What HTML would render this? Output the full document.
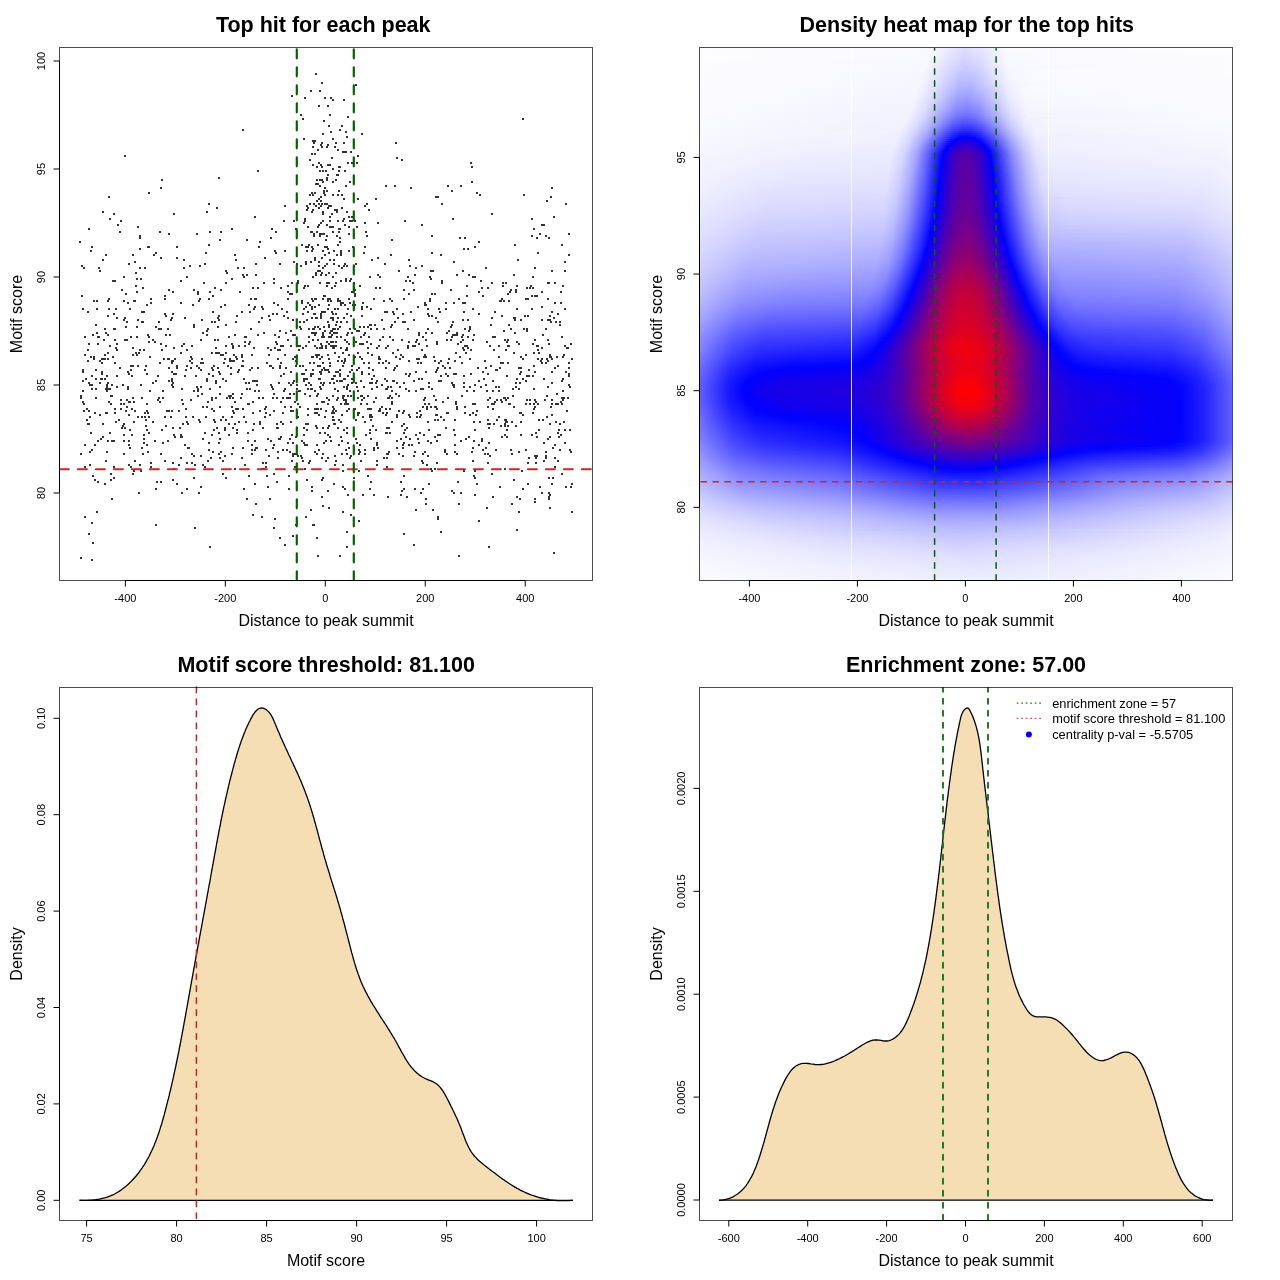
<!DOCTYPE html>
<html><head><meta charset="utf-8"><title>Motif centrality plots</title>
<style>html,body{margin:0;padding:0;background:#fff;width:1280px;height:1280px;overflow:hidden}
svg{display:block}
text{font-family:"Liberation Sans", Arial, Helvetica, sans-serif;fill:#000}
</style></head><body>
<svg width="1280" height="1280" viewBox="0 0 1280 1280">
<rect width="1280" height="1280" fill="#fff"/>
<defs><linearGradient id="g0" x1="700" x2="1232" gradientUnits="userSpaceOnUse"><stop offset="0.0009" stop-color="#fdfdff"/><stop offset="0.4370" stop-color="#f8f8ff"/><stop offset="0.4972" stop-color="#ddddff"/><stop offset="0.5310" stop-color="#e7e7ff"/><stop offset="0.5780" stop-color="#fbfbff"/><stop offset="0.9991" stop-color="#fdfdff"/></linearGradient><linearGradient id="g1" x1="700" x2="1232" gradientUnits="userSpaceOnUse"><stop offset="0.0009" stop-color="#fdfdff"/><stop offset="0.4352" stop-color="#f8f8ff"/><stop offset="0.4972" stop-color="#dbdbff"/><stop offset="0.5310" stop-color="#e6e6ff"/><stop offset="0.5780" stop-color="#fafaff"/><stop offset="0.9991" stop-color="#fdfdff"/></linearGradient><linearGradient id="g2" x1="700" x2="1232" gradientUnits="userSpaceOnUse"><stop offset="0.0009" stop-color="#fdfdff"/><stop offset="0.4333" stop-color="#f8f8ff"/><stop offset="0.4972" stop-color="#dadaff"/><stop offset="0.5310" stop-color="#e4e4ff"/><stop offset="0.5780" stop-color="#fafaff"/><stop offset="0.9991" stop-color="#fcfcff"/></linearGradient><linearGradient id="g3" x1="700" x2="1232" gradientUnits="userSpaceOnUse"><stop offset="0.0009" stop-color="#fdfdff"/><stop offset="0.4333" stop-color="#f8f8ff"/><stop offset="0.4953" stop-color="#d8d8ff"/><stop offset="0.5273" stop-color="#e1e1ff"/><stop offset="0.5761" stop-color="#f9f9ff"/><stop offset="0.9991" stop-color="#fcfcff"/></linearGradient><linearGradient id="g4" x1="700" x2="1232" gradientUnits="userSpaceOnUse"><stop offset="0.0009" stop-color="#fdfdff"/><stop offset="0.4314" stop-color="#f8f8ff"/><stop offset="0.4953" stop-color="#d6d6ff"/><stop offset="0.5254" stop-color="#dedeff"/><stop offset="0.5761" stop-color="#f9f9ff"/><stop offset="0.9991" stop-color="#fcfcff"/></linearGradient><linearGradient id="g5" x1="700" x2="1232" gradientUnits="userSpaceOnUse"><stop offset="0.0009" stop-color="#fdfdff"/><stop offset="0.4295" stop-color="#f8f8ff"/><stop offset="0.4953" stop-color="#d4d4ff"/><stop offset="0.5254" stop-color="#dcdcff"/><stop offset="0.5761" stop-color="#f9f9ff"/><stop offset="0.9991" stop-color="#fcfcff"/></linearGradient><linearGradient id="g6" x1="700" x2="1232" gradientUnits="userSpaceOnUse"><stop offset="0.0009" stop-color="#fcfcff"/><stop offset="0.4276" stop-color="#f8f8ff"/><stop offset="0.4953" stop-color="#d3d3ff"/><stop offset="0.5254" stop-color="#dbdbff"/><stop offset="0.5761" stop-color="#f8f8ff"/><stop offset="0.9991" stop-color="#fcfcff"/></linearGradient><linearGradient id="g7" x1="700" x2="1232" gradientUnits="userSpaceOnUse"><stop offset="0.0009" stop-color="#fcfcff"/><stop offset="0.4276" stop-color="#f7f7ff"/><stop offset="0.4953" stop-color="#d0d0ff"/><stop offset="0.5235" stop-color="#d8d8ff"/><stop offset="0.5761" stop-color="#f8f8ff"/><stop offset="0.9991" stop-color="#fcfcff"/></linearGradient><linearGradient id="g8" x1="700" x2="1232" gradientUnits="userSpaceOnUse"><stop offset="0.0009" stop-color="#fcfcff"/><stop offset="0.4258" stop-color="#f7f7ff"/><stop offset="0.4934" stop-color="#cfcfff"/><stop offset="0.5216" stop-color="#d5d5ff"/><stop offset="0.5780" stop-color="#f8f8ff"/><stop offset="0.9991" stop-color="#fcfcff"/></linearGradient><linearGradient id="g9" x1="700" x2="1232" gradientUnits="userSpaceOnUse"><stop offset="0.0009" stop-color="#fcfcff"/><stop offset="0.4239" stop-color="#f7f7ff"/><stop offset="0.4709" stop-color="#d9d9ff"/><stop offset="0.4991" stop-color="#ccccff"/><stop offset="0.5291" stop-color="#d8d8ff"/><stop offset="0.5780" stop-color="#f7f7ff"/><stop offset="0.9991" stop-color="#fcfcff"/></linearGradient><linearGradient id="g10" x1="700" x2="1232" gradientUnits="userSpaceOnUse"><stop offset="0.0009" stop-color="#fcfcff"/><stop offset="0.4239" stop-color="#f7f7ff"/><stop offset="0.4709" stop-color="#d7d7ff"/><stop offset="0.4991" stop-color="#cacaff"/><stop offset="0.5291" stop-color="#d6d6ff"/><stop offset="0.5780" stop-color="#f6f6ff"/><stop offset="0.7735" stop-color="#fafaff"/><stop offset="0.9991" stop-color="#fcfcff"/></linearGradient><linearGradient id="g11" x1="700" x2="1232" gradientUnits="userSpaceOnUse"><stop offset="0.0009" stop-color="#fcfcff"/><stop offset="0.4220" stop-color="#f7f7ff"/><stop offset="0.4633" stop-color="#dbdbff"/><stop offset="0.4953" stop-color="#c8c8ff"/><stop offset="0.5216" stop-color="#ceceff"/><stop offset="0.5780" stop-color="#f6f6ff"/><stop offset="0.6739" stop-color="#fafaff"/><stop offset="0.9991" stop-color="#fcfcff"/></linearGradient><linearGradient id="g12" x1="700" x2="1232" gradientUnits="userSpaceOnUse"><stop offset="0.0009" stop-color="#fcfcff"/><stop offset="0.4201" stop-color="#f7f7ff"/><stop offset="0.4596" stop-color="#dcdcff"/><stop offset="0.4934" stop-color="#c5c5ff"/><stop offset="0.5197" stop-color="#cbcbff"/><stop offset="0.5780" stop-color="#f5f5ff"/><stop offset="0.6438" stop-color="#fafaff"/><stop offset="0.9991" stop-color="#fcfcff"/></linearGradient><linearGradient id="g13" x1="700" x2="1232" gradientUnits="userSpaceOnUse"><stop offset="0.0009" stop-color="#fcfcff"/><stop offset="0.4201" stop-color="#f6f6ff"/><stop offset="0.4596" stop-color="#dadaff"/><stop offset="0.4934" stop-color="#c3c3ff"/><stop offset="0.5197" stop-color="#c9c9ff"/><stop offset="0.5780" stop-color="#f4f4ff"/><stop offset="0.6306" stop-color="#f9f9ff"/><stop offset="0.9991" stop-color="#fcfcff"/></linearGradient><linearGradient id="g14" x1="700" x2="1232" gradientUnits="userSpaceOnUse"><stop offset="0.0009" stop-color="#fcfcff"/><stop offset="0.4182" stop-color="#f6f6ff"/><stop offset="0.4558" stop-color="#dcdcff"/><stop offset="0.4915" stop-color="#c1c1ff"/><stop offset="0.5160" stop-color="#c4c4ff"/><stop offset="0.5799" stop-color="#f4f4ff"/><stop offset="0.6363" stop-color="#f9f9ff"/><stop offset="0.9991" stop-color="#fcfcff"/></linearGradient><linearGradient id="g15" x1="700" x2="1232" gradientUnits="userSpaceOnUse"><stop offset="0.0009" stop-color="#fcfcff"/><stop offset="0.4164" stop-color="#f6f6ff"/><stop offset="0.4539" stop-color="#dcdcff"/><stop offset="0.4897" stop-color="#bfbfff"/><stop offset="0.5141" stop-color="#c0c0ff"/><stop offset="0.5799" stop-color="#f4f4ff"/><stop offset="0.6269" stop-color="#f9f9ff"/><stop offset="0.9991" stop-color="#fbfbff"/></linearGradient><linearGradient id="g16" x1="700" x2="1232" gradientUnits="userSpaceOnUse"><stop offset="0.0009" stop-color="#fcfcff"/><stop offset="0.4145" stop-color="#f6f6ff"/><stop offset="0.4502" stop-color="#dedeff"/><stop offset="0.4878" stop-color="#bdbdff"/><stop offset="0.5122" stop-color="#bdbdff"/><stop offset="0.5818" stop-color="#f4f4ff"/><stop offset="0.6306" stop-color="#f9f9ff"/><stop offset="0.9991" stop-color="#fbfbff"/></linearGradient><linearGradient id="g17" x1="700" x2="1232" gradientUnits="userSpaceOnUse"><stop offset="0.0009" stop-color="#fcfcff"/><stop offset="0.4145" stop-color="#f6f6ff"/><stop offset="0.4502" stop-color="#dcdcff"/><stop offset="0.4878" stop-color="#babaff"/><stop offset="0.5122" stop-color="#babaff"/><stop offset="0.5592" stop-color="#e3e3ff"/><stop offset="0.5930" stop-color="#f7f7ff"/><stop offset="0.9991" stop-color="#fbfbff"/></linearGradient><linearGradient id="g18" x1="700" x2="1232" gradientUnits="userSpaceOnUse"><stop offset="0.0009" stop-color="#fcfcff"/><stop offset="0.4126" stop-color="#f6f6ff"/><stop offset="0.4464" stop-color="#dedeff"/><stop offset="0.4878" stop-color="#b7b7ff"/><stop offset="0.5122" stop-color="#b7b7ff"/><stop offset="0.5517" stop-color="#dadaff"/><stop offset="0.5874" stop-color="#f4f4ff"/><stop offset="0.6682" stop-color="#f9f9ff"/><stop offset="0.9991" stop-color="#fbfbff"/></linearGradient><linearGradient id="g19" x1="700" x2="1232" gradientUnits="userSpaceOnUse"><stop offset="0.0009" stop-color="#fbfbff"/><stop offset="0.4107" stop-color="#f6f6ff"/><stop offset="0.4445" stop-color="#dedeff"/><stop offset="0.4859" stop-color="#b5b5ff"/><stop offset="0.5085" stop-color="#b2b2ff"/><stop offset="0.5385" stop-color="#c9c9ff"/><stop offset="0.5818" stop-color="#f1f1ff"/><stop offset="0.6175" stop-color="#f8f8ff"/><stop offset="0.9991" stop-color="#fbfbff"/></linearGradient><linearGradient id="g20" x1="700" x2="1232" gradientUnits="userSpaceOnUse"><stop offset="0.0009" stop-color="#fbfbff"/><stop offset="0.4088" stop-color="#f6f6ff"/><stop offset="0.4427" stop-color="#dedeff"/><stop offset="0.4859" stop-color="#b2b2ff"/><stop offset="0.5085" stop-color="#afafff"/><stop offset="0.5385" stop-color="#c7c7ff"/><stop offset="0.5818" stop-color="#f0f0ff"/><stop offset="0.6156" stop-color="#f8f8ff"/><stop offset="0.9991" stop-color="#fbfbff"/></linearGradient><linearGradient id="g21" x1="700" x2="1232" gradientUnits="userSpaceOnUse"><stop offset="0.0009" stop-color="#fbfbff"/><stop offset="0.4088" stop-color="#f5f5ff"/><stop offset="0.4427" stop-color="#dcdcff"/><stop offset="0.4859" stop-color="#aeaeff"/><stop offset="0.5085" stop-color="#ababff"/><stop offset="0.5367" stop-color="#c2c2ff"/><stop offset="0.5799" stop-color="#ededff"/><stop offset="0.6118" stop-color="#f8f8ff"/><stop offset="0.9991" stop-color="#fbfbff"/></linearGradient><linearGradient id="g22" x1="700" x2="1232" gradientUnits="userSpaceOnUse"><stop offset="0.0009" stop-color="#fbfbff"/><stop offset="0.4070" stop-color="#f5f5ff"/><stop offset="0.4389" stop-color="#dedeff"/><stop offset="0.4840" stop-color="#acacff"/><stop offset="0.5066" stop-color="#a7a7ff"/><stop offset="0.5329" stop-color="#bbbbff"/><stop offset="0.5799" stop-color="#ececff"/><stop offset="0.6118" stop-color="#f8f8ff"/><stop offset="0.9991" stop-color="#fbfbff"/></linearGradient><linearGradient id="g23" x1="700" x2="1232" gradientUnits="userSpaceOnUse"><stop offset="0.0009" stop-color="#fbfbff"/><stop offset="0.4051" stop-color="#f5f5ff"/><stop offset="0.4370" stop-color="#dedeff"/><stop offset="0.4840" stop-color="#a9a9ff"/><stop offset="0.5066" stop-color="#a4a4ff"/><stop offset="0.5329" stop-color="#b8b8ff"/><stop offset="0.5799" stop-color="#ebebff"/><stop offset="0.6100" stop-color="#f7f7ff"/><stop offset="0.9991" stop-color="#fbfbff"/></linearGradient><linearGradient id="g24" x1="700" x2="1232" gradientUnits="userSpaceOnUse"><stop offset="0.0009" stop-color="#fbfbff"/><stop offset="0.4051" stop-color="#f4f4ff"/><stop offset="0.4370" stop-color="#dcdcff"/><stop offset="0.4840" stop-color="#a5a5ff"/><stop offset="0.5066" stop-color="#a0a0ff"/><stop offset="0.5329" stop-color="#b4b4ff"/><stop offset="0.5799" stop-color="#e9e9ff"/><stop offset="0.6100" stop-color="#f7f7ff"/><stop offset="0.9991" stop-color="#fafaff"/></linearGradient><linearGradient id="g25" x1="700" x2="1232" gradientUnits="userSpaceOnUse"><stop offset="0.0009" stop-color="#fbfbff"/><stop offset="0.4032" stop-color="#f4f4ff"/><stop offset="0.4352" stop-color="#dcdcff"/><stop offset="0.4840" stop-color="#a1a1ff"/><stop offset="0.5066" stop-color="#9c9cff"/><stop offset="0.5329" stop-color="#b1b1ff"/><stop offset="0.5799" stop-color="#e8e8ff"/><stop offset="0.6100" stop-color="#f7f7ff"/><stop offset="0.9991" stop-color="#fafaff"/></linearGradient><linearGradient id="g26" x1="700" x2="1232" gradientUnits="userSpaceOnUse"><stop offset="0.0009" stop-color="#fbfbff"/><stop offset="0.4013" stop-color="#f4f4ff"/><stop offset="0.4314" stop-color="#dedeff"/><stop offset="0.4821" stop-color="#9e9eff"/><stop offset="0.5028" stop-color="#9797ff"/><stop offset="0.5273" stop-color="#a7a7ff"/><stop offset="0.5818" stop-color="#e8e8ff"/><stop offset="0.6118" stop-color="#f6f6ff"/><stop offset="0.9991" stop-color="#fafaff"/></linearGradient><linearGradient id="g27" x1="700" x2="1232" gradientUnits="userSpaceOnUse"><stop offset="0.0009" stop-color="#fbfbff"/><stop offset="0.3994" stop-color="#f4f4ff"/><stop offset="0.4295" stop-color="#dedeff"/><stop offset="0.4821" stop-color="#9a9aff"/><stop offset="0.5028" stop-color="#9292ff"/><stop offset="0.5254" stop-color="#a1a1ff"/><stop offset="0.5818" stop-color="#e6e6ff"/><stop offset="0.6118" stop-color="#f6f6ff"/><stop offset="0.9991" stop-color="#fafaff"/></linearGradient><linearGradient id="g28" x1="700" x2="1232" gradientUnits="userSpaceOnUse"><stop offset="0.0009" stop-color="#fafaff"/><stop offset="0.3994" stop-color="#f3f3ff"/><stop offset="0.4295" stop-color="#dbdbff"/><stop offset="0.4821" stop-color="#9696ff"/><stop offset="0.5028" stop-color="#8e8eff"/><stop offset="0.5254" stop-color="#9c9cff"/><stop offset="0.5818" stop-color="#e4e4ff"/><stop offset="0.6118" stop-color="#f6f6ff"/><stop offset="0.9991" stop-color="#fafaff"/></linearGradient><linearGradient id="g29" x1="700" x2="1232" gradientUnits="userSpaceOnUse"><stop offset="0.0009" stop-color="#fafaff"/><stop offset="0.3976" stop-color="#f3f3ff"/><stop offset="0.4276" stop-color="#dbdbff"/><stop offset="0.4821" stop-color="#9191ff"/><stop offset="0.5028" stop-color="#8989ff"/><stop offset="0.5254" stop-color="#9898ff"/><stop offset="0.5818" stop-color="#e3e3ff"/><stop offset="0.6118" stop-color="#f5f5ff"/><stop offset="0.9991" stop-color="#fafaff"/></linearGradient><linearGradient id="g30" x1="700" x2="1232" gradientUnits="userSpaceOnUse"><stop offset="0.0009" stop-color="#fafaff"/><stop offset="0.3957" stop-color="#f3f3ff"/><stop offset="0.4258" stop-color="#dbdbff"/><stop offset="0.4821" stop-color="#8d8dff"/><stop offset="0.5028" stop-color="#8484ff"/><stop offset="0.5254" stop-color="#9393ff"/><stop offset="0.5836" stop-color="#e2e2ff"/><stop offset="0.6137" stop-color="#f5f5ff"/><stop offset="0.9991" stop-color="#fafaff"/></linearGradient><linearGradient id="g31" x1="700" x2="1232" gradientUnits="userSpaceOnUse"><stop offset="0.0009" stop-color="#fafaff"/><stop offset="0.3938" stop-color="#f3f3ff"/><stop offset="0.4220" stop-color="#dedeff"/><stop offset="0.4821" stop-color="#8888ff"/><stop offset="0.5028" stop-color="#7f7fff"/><stop offset="0.5254" stop-color="#8e8eff"/><stop offset="0.5836" stop-color="#e1e1ff"/><stop offset="0.6137" stop-color="#f4f4ff"/><stop offset="0.9991" stop-color="#fafaff"/></linearGradient><linearGradient id="g32" x1="700" x2="1232" gradientUnits="userSpaceOnUse"><stop offset="0.0009" stop-color="#fafaff"/><stop offset="0.3938" stop-color="#f2f2ff"/><stop offset="0.4220" stop-color="#dbdbff"/><stop offset="0.4803" stop-color="#8484ff"/><stop offset="0.5009" stop-color="#7979ff"/><stop offset="0.5216" stop-color="#8585ff"/><stop offset="0.5836" stop-color="#dedeff"/><stop offset="0.6118" stop-color="#f3f3ff"/><stop offset="0.9991" stop-color="#f9f9ff"/></linearGradient><linearGradient id="g33" x1="700" x2="1232" gradientUnits="userSpaceOnUse"><stop offset="0.0009" stop-color="#fafaff"/><stop offset="0.3919" stop-color="#f2f2ff"/><stop offset="0.4201" stop-color="#dbdbff"/><stop offset="0.4803" stop-color="#7e7eff"/><stop offset="0.5009" stop-color="#7373ff"/><stop offset="0.5216" stop-color="#7f7fff"/><stop offset="0.5855" stop-color="#dedeff"/><stop offset="0.6137" stop-color="#f3f3ff"/><stop offset="0.9991" stop-color="#f9f9ff"/></linearGradient><linearGradient id="g34" x1="700" x2="1232" gradientUnits="userSpaceOnUse"><stop offset="0.0009" stop-color="#fafaff"/><stop offset="0.3900" stop-color="#f2f2ff"/><stop offset="0.4182" stop-color="#dbdbff"/><stop offset="0.4558" stop-color="#9e9eff"/><stop offset="0.4821" stop-color="#7676ff"/><stop offset="0.5009" stop-color="#6c6cff"/><stop offset="0.5216" stop-color="#7979ff"/><stop offset="0.5592" stop-color="#b5b5ff"/><stop offset="0.5912" stop-color="#e2e2ff"/><stop offset="0.6194" stop-color="#f4f4ff"/><stop offset="0.9991" stop-color="#f9f9ff"/></linearGradient><linearGradient id="g35" x1="700" x2="1232" gradientUnits="userSpaceOnUse"><stop offset="0.0009" stop-color="#f9f9ff"/><stop offset="0.3882" stop-color="#f2f2ff"/><stop offset="0.4164" stop-color="#dadaff"/><stop offset="0.4502" stop-color="#a2a2ff"/><stop offset="0.4803" stop-color="#7171ff"/><stop offset="0.4991" stop-color="#6565ff"/><stop offset="0.5197" stop-color="#7070ff"/><stop offset="0.5498" stop-color="#9f9fff"/><stop offset="0.5855" stop-color="#d9d9ff"/><stop offset="0.6137" stop-color="#f1f1ff"/><stop offset="0.7152" stop-color="#f5f5ff"/><stop offset="0.9991" stop-color="#f9f9ff"/></linearGradient><linearGradient id="g36" x1="700" x2="1232" gradientUnits="userSpaceOnUse"><stop offset="0.0009" stop-color="#f9f9ff"/><stop offset="0.3863" stop-color="#f2f2ff"/><stop offset="0.4126" stop-color="#dcdcff"/><stop offset="0.4427" stop-color="#ababff"/><stop offset="0.4765" stop-color="#6e6eff"/><stop offset="0.4953" stop-color="#5d5dff"/><stop offset="0.5141" stop-color="#6262ff"/><stop offset="0.5385" stop-color="#8484ff"/><stop offset="0.5818" stop-color="#d1d1ff"/><stop offset="0.6100" stop-color="#eeeeff"/><stop offset="0.6457" stop-color="#f5f5ff"/><stop offset="0.9991" stop-color="#f9f9ff"/></linearGradient><linearGradient id="g37" x1="700" x2="1232" gradientUnits="userSpaceOnUse"><stop offset="0.0009" stop-color="#f9f9ff"/><stop offset="0.3844" stop-color="#f2f2ff"/><stop offset="0.4107" stop-color="#dcdcff"/><stop offset="0.4408" stop-color="#aaaaff"/><stop offset="0.4765" stop-color="#6565ff"/><stop offset="0.4953" stop-color="#5454ff"/><stop offset="0.5141" stop-color="#5a5aff"/><stop offset="0.5367" stop-color="#7979ff"/><stop offset="0.5836" stop-color="#d0d0ff"/><stop offset="0.6118" stop-color="#ededff"/><stop offset="0.6476" stop-color="#f4f4ff"/><stop offset="0.9991" stop-color="#f9f9ff"/></linearGradient><linearGradient id="g38" x1="700" x2="1232" gradientUnits="userSpaceOnUse"><stop offset="0.0009" stop-color="#f9f9ff"/><stop offset="0.3825" stop-color="#f1f1ff"/><stop offset="0.4088" stop-color="#dbdbff"/><stop offset="0.4370" stop-color="#acacff"/><stop offset="0.4746" stop-color="#6060ff"/><stop offset="0.4934" stop-color="#4c4cff"/><stop offset="0.5122" stop-color="#4f4fff"/><stop offset="0.5329" stop-color="#6a6aff"/><stop offset="0.5836" stop-color="#ccccff"/><stop offset="0.6118" stop-color="#ececff"/><stop offset="0.6438" stop-color="#f4f4ff"/><stop offset="0.9991" stop-color="#f8f8ff"/></linearGradient><linearGradient id="g39" x1="700" x2="1232" gradientUnits="userSpaceOnUse"><stop offset="0.0009" stop-color="#f9f9ff"/><stop offset="0.3806" stop-color="#f1f1ff"/><stop offset="0.4070" stop-color="#dbdbff"/><stop offset="0.4333" stop-color="#aeaeff"/><stop offset="0.4746" stop-color="#5656ff"/><stop offset="0.4934" stop-color="#4242ff"/><stop offset="0.5103" stop-color="#4343ff"/><stop offset="0.5310" stop-color="#5e5eff"/><stop offset="0.5836" stop-color="#c8c8ff"/><stop offset="0.6100" stop-color="#e9e9ff"/><stop offset="0.6382" stop-color="#f3f3ff"/><stop offset="0.9991" stop-color="#f8f8ff"/></linearGradient><linearGradient id="g40" x1="700" x2="1232" gradientUnits="userSpaceOnUse"><stop offset="0.0009" stop-color="#f8f8ff"/><stop offset="0.3788" stop-color="#f1f1ff"/><stop offset="0.4051" stop-color="#dadaff"/><stop offset="0.4314" stop-color="#acacff"/><stop offset="0.4746" stop-color="#4c4cff"/><stop offset="0.4934" stop-color="#3737ff"/><stop offset="0.5103" stop-color="#3939ff"/><stop offset="0.5310" stop-color="#5454ff"/><stop offset="0.5836" stop-color="#c4c4ff"/><stop offset="0.6100" stop-color="#e7e7ff"/><stop offset="0.6363" stop-color="#f3f3ff"/><stop offset="0.9991" stop-color="#f8f8ff"/></linearGradient><linearGradient id="g41" x1="700" x2="1232" gradientUnits="userSpaceOnUse"><stop offset="0.0009" stop-color="#f8f8ff"/><stop offset="0.3769" stop-color="#f0f0ff"/><stop offset="0.4013" stop-color="#dcdcff"/><stop offset="0.4276" stop-color="#afafff"/><stop offset="0.4746" stop-color="#4242ff"/><stop offset="0.4934" stop-color="#2c2cff"/><stop offset="0.5103" stop-color="#2e2eff"/><stop offset="0.5291" stop-color="#4747ff"/><stop offset="0.5855" stop-color="#c3c3ff"/><stop offset="0.6118" stop-color="#e6e6ff"/><stop offset="0.6382" stop-color="#f3f3ff"/><stop offset="0.9991" stop-color="#f8f8ff"/></linearGradient><linearGradient id="g42" x1="700" x2="1232" gradientUnits="userSpaceOnUse"><stop offset="0.0009" stop-color="#f8f8ff"/><stop offset="0.3430" stop-color="#f3f3ff"/><stop offset="0.3806" stop-color="#ededff"/><stop offset="0.4051" stop-color="#d4d4ff"/><stop offset="0.4314" stop-color="#a0a0ff"/><stop offset="0.4727" stop-color="#3b3bff"/><stop offset="0.4915" stop-color="#2121ff"/><stop offset="0.5085" stop-color="#2121ff"/><stop offset="0.5273" stop-color="#3939ff"/><stop offset="0.5630" stop-color="#8c8cff"/><stop offset="0.5912" stop-color="#c8c8ff"/><stop offset="0.6175" stop-color="#e9e9ff"/><stop offset="0.6457" stop-color="#f3f3ff"/><stop offset="0.9991" stop-color="#f8f8ff"/></linearGradient><linearGradient id="g43" x1="700" x2="1232" gradientUnits="userSpaceOnUse"><stop offset="0.0009" stop-color="#f8f8ff"/><stop offset="0.3242" stop-color="#f3f3ff"/><stop offset="0.3769" stop-color="#eeeeff"/><stop offset="0.4013" stop-color="#d6d6ff"/><stop offset="0.4258" stop-color="#a7a7ff"/><stop offset="0.4727" stop-color="#3030ff"/><stop offset="0.4897" stop-color="#1717ff"/><stop offset="0.5066" stop-color="#1414ff"/><stop offset="0.5235" stop-color="#2727ff"/><stop offset="0.5479" stop-color="#5e5eff"/><stop offset="0.5836" stop-color="#b6b6ff"/><stop offset="0.6081" stop-color="#ddddff"/><stop offset="0.6325" stop-color="#f0f0ff"/><stop offset="0.9991" stop-color="#f7f7ff"/></linearGradient><linearGradient id="g44" x1="700" x2="1232" gradientUnits="userSpaceOnUse"><stop offset="0.0009" stop-color="#f8f8ff"/><stop offset="0.3092" stop-color="#f2f2ff"/><stop offset="0.3750" stop-color="#eeeeff"/><stop offset="0.3994" stop-color="#d5d5ff"/><stop offset="0.4239" stop-color="#a6a6ff"/><stop offset="0.4727" stop-color="#2525ff"/><stop offset="0.4897" stop-color="#0b0bff"/><stop offset="0.5047" stop-color="#0707ff"/><stop offset="0.5216" stop-color="#1818ff"/><stop offset="0.5442" stop-color="#4a4aff"/><stop offset="0.5836" stop-color="#b0b0ff"/><stop offset="0.6081" stop-color="#dadaff"/><stop offset="0.6325" stop-color="#efefff"/><stop offset="0.9991" stop-color="#f7f7ff"/></linearGradient><linearGradient id="g45" x1="700" x2="1232" gradientUnits="userSpaceOnUse"><stop offset="0.0009" stop-color="#f7f7ff"/><stop offset="0.2942" stop-color="#f2f2ff"/><stop offset="0.3712" stop-color="#eeeeff"/><stop offset="0.3957" stop-color="#d7d7ff"/><stop offset="0.4201" stop-color="#a9a9ff"/><stop offset="0.4727" stop-color="#1a1aff"/><stop offset="0.4878" stop-color="#0101ff"/><stop offset="0.5047" stop-color="#0500fa"/><stop offset="0.5141" stop-color="#0202ff"/><stop offset="0.5329" stop-color="#2323ff"/><stop offset="0.5855" stop-color="#afafff"/><stop offset="0.6100" stop-color="#dadaff"/><stop offset="0.6344" stop-color="#efefff"/><stop offset="0.9991" stop-color="#f7f7ff"/></linearGradient><linearGradient id="g46" x1="700" x2="1232" gradientUnits="userSpaceOnUse"><stop offset="0.0009" stop-color="#f7f7ff"/><stop offset="0.2810" stop-color="#f1f1ff"/><stop offset="0.3694" stop-color="#eeeeff"/><stop offset="0.3938" stop-color="#d7d7ff"/><stop offset="0.4164" stop-color="#acacff"/><stop offset="0.4464" stop-color="#5858ff"/><stop offset="0.4727" stop-color="#0e0eff"/><stop offset="0.4803" stop-color="#0100fe"/><stop offset="0.4953" stop-color="#1100ee"/><stop offset="0.5103" stop-color="#0e00f1"/><stop offset="0.5216" stop-color="#0101ff"/><stop offset="0.5423" stop-color="#3131ff"/><stop offset="0.5836" stop-color="#a5a5ff"/><stop offset="0.6081" stop-color="#d4d4ff"/><stop offset="0.6325" stop-color="#ededff"/><stop offset="0.6945" stop-color="#f1f1ff"/><stop offset="0.9953" stop-color="#f7f7ff"/><stop offset="0.9991" stop-color="#f7f7ff"/></linearGradient><linearGradient id="g47" x1="700" x2="1232" gradientUnits="userSpaceOnUse"><stop offset="0.0009" stop-color="#f7f7ff"/><stop offset="0.2697" stop-color="#f1f1ff"/><stop offset="0.3675" stop-color="#eeeeff"/><stop offset="0.3900" stop-color="#dadaff"/><stop offset="0.4126" stop-color="#b0b0ff"/><stop offset="0.4389" stop-color="#6767ff"/><stop offset="0.4709" stop-color="#0808ff"/><stop offset="0.4746" stop-color="#0100fe"/><stop offset="0.4915" stop-color="#1b00e4"/><stop offset="0.5066" stop-color="#1d00e2"/><stop offset="0.5235" stop-color="#0700f8"/><stop offset="0.5273" stop-color="#0101ff"/><stop offset="0.5517" stop-color="#4343ff"/><stop offset="0.5855" stop-color="#a4a4ff"/><stop offset="0.6100" stop-color="#d4d4ff"/><stop offset="0.6344" stop-color="#ececff"/><stop offset="0.7002" stop-color="#f1f1ff"/><stop offset="0.9934" stop-color="#f6f6ff"/><stop offset="0.9991" stop-color="#f7f7ff"/></linearGradient><linearGradient id="g48" x1="700" x2="1232" gradientUnits="userSpaceOnUse"><stop offset="0.0009" stop-color="#f7f7ff"/><stop offset="0.2603" stop-color="#f1f1ff"/><stop offset="0.3656" stop-color="#eeeeff"/><stop offset="0.3882" stop-color="#d9d9ff"/><stop offset="0.4107" stop-color="#b0b0ff"/><stop offset="0.4370" stop-color="#6565ff"/><stop offset="0.4690" stop-color="#0202ff"/><stop offset="0.4878" stop-color="#2300dc"/><stop offset="0.5028" stop-color="#2a00d5"/><stop offset="0.5179" stop-color="#1c00e3"/><stop offset="0.5310" stop-color="#0100fe"/><stop offset="0.5461" stop-color="#2929ff"/><stop offset="0.5836" stop-color="#9a9aff"/><stop offset="0.6062" stop-color="#cbcbff"/><stop offset="0.6306" stop-color="#e9e9ff"/><stop offset="0.6607" stop-color="#f0f0ff"/><stop offset="0.9859" stop-color="#f5f5ff"/><stop offset="0.9991" stop-color="#f6f6ff"/></linearGradient><linearGradient id="g49" x1="700" x2="1232" gradientUnits="userSpaceOnUse"><stop offset="0.0009" stop-color="#f6f6ff"/><stop offset="0.2509" stop-color="#f0f0ff"/><stop offset="0.3656" stop-color="#ececff"/><stop offset="0.3882" stop-color="#d7d7ff"/><stop offset="0.4107" stop-color="#ababff"/><stop offset="0.4370" stop-color="#5e5eff"/><stop offset="0.4652" stop-color="#0303ff"/><stop offset="0.4690" stop-color="#0800f7"/><stop offset="0.4859" stop-color="#2b00d4"/><stop offset="0.5009" stop-color="#3500ca"/><stop offset="0.5160" stop-color="#2900d6"/><stop offset="0.5329" stop-color="#0600f9"/><stop offset="0.5348" stop-color="#0100fe"/><stop offset="0.5498" stop-color="#2c2cff"/><stop offset="0.5855" stop-color="#9a9aff"/><stop offset="0.6081" stop-color="#cbcbff"/><stop offset="0.6325" stop-color="#e9e9ff"/><stop offset="0.6626" stop-color="#f0f0ff"/><stop offset="0.9840" stop-color="#f5f5ff"/><stop offset="0.9991" stop-color="#f6f6ff"/></linearGradient><linearGradient id="g50" x1="700" x2="1232" gradientUnits="userSpaceOnUse"><stop offset="0.0009" stop-color="#f6f6ff"/><stop offset="0.2415" stop-color="#f0f0ff"/><stop offset="0.3637" stop-color="#ececff"/><stop offset="0.3863" stop-color="#d7d7ff"/><stop offset="0.4088" stop-color="#ababff"/><stop offset="0.4333" stop-color="#6464ff"/><stop offset="0.4633" stop-color="#0100fe"/><stop offset="0.4803" stop-color="#2b00d4"/><stop offset="0.4953" stop-color="#3e00c1"/><stop offset="0.5103" stop-color="#3a00c5"/><stop offset="0.5273" stop-color="#1e00e1"/><stop offset="0.5385" stop-color="#0000ff"/><stop offset="0.5855" stop-color="#9595ff"/><stop offset="0.6081" stop-color="#c8c8ff"/><stop offset="0.6325" stop-color="#e7e7ff"/><stop offset="0.6607" stop-color="#f0f0ff"/><stop offset="0.9821" stop-color="#f5f5ff"/><stop offset="0.9991" stop-color="#f6f6ff"/></linearGradient><linearGradient id="g51" x1="700" x2="1232" gradientUnits="userSpaceOnUse"><stop offset="0.0009" stop-color="#f6f6ff"/><stop offset="0.2340" stop-color="#efefff"/><stop offset="0.3618" stop-color="#ececff"/><stop offset="0.3844" stop-color="#d7d7ff"/><stop offset="0.4070" stop-color="#acacff"/><stop offset="0.4314" stop-color="#6464ff"/><stop offset="0.4596" stop-color="#0303ff"/><stop offset="0.4615" stop-color="#0300fc"/><stop offset="0.4803" stop-color="#3400cb"/><stop offset="0.4953" stop-color="#4600b9"/><stop offset="0.5103" stop-color="#4300bc"/><stop offset="0.5273" stop-color="#2600d9"/><stop offset="0.5404" stop-color="#0200fd"/><stop offset="0.5479" stop-color="#1616ff"/><stop offset="0.5855" stop-color="#9090ff"/><stop offset="0.6081" stop-color="#c5c5ff"/><stop offset="0.6306" stop-color="#e4e4ff"/><stop offset="0.6551" stop-color="#efefff"/><stop offset="0.9821" stop-color="#f4f4ff"/><stop offset="0.9991" stop-color="#f6f6ff"/></linearGradient><linearGradient id="g52" x1="700" x2="1232" gradientUnits="userSpaceOnUse"><stop offset="0.0009" stop-color="#f6f6ff"/><stop offset="0.2265" stop-color="#efefff"/><stop offset="0.3618" stop-color="#ebebff"/><stop offset="0.3844" stop-color="#d5d5ff"/><stop offset="0.4070" stop-color="#a8a8ff"/><stop offset="0.4314" stop-color="#5f5fff"/><stop offset="0.4577" stop-color="#0303ff"/><stop offset="0.4615" stop-color="#0900f6"/><stop offset="0.4803" stop-color="#3b00c4"/><stop offset="0.4953" stop-color="#4e00b1"/><stop offset="0.5103" stop-color="#4a00b5"/><stop offset="0.5273" stop-color="#2d00d2"/><stop offset="0.5423" stop-color="#0300fc"/><stop offset="0.5461" stop-color="#0909ff"/><stop offset="0.5855" stop-color="#8c8cff"/><stop offset="0.6081" stop-color="#c2c2ff"/><stop offset="0.6306" stop-color="#e2e2ff"/><stop offset="0.6551" stop-color="#eeeeff"/><stop offset="0.9803" stop-color="#f4f4ff"/><stop offset="0.9991" stop-color="#f5f5ff"/></linearGradient><linearGradient id="g53" x1="700" x2="1232" gradientUnits="userSpaceOnUse"><stop offset="0.0009" stop-color="#f5f5ff"/><stop offset="0.2190" stop-color="#eeeeff"/><stop offset="0.3600" stop-color="#ebebff"/><stop offset="0.3825" stop-color="#d6d6ff"/><stop offset="0.4051" stop-color="#aaaaff"/><stop offset="0.4295" stop-color="#6161ff"/><stop offset="0.4558" stop-color="#0404ff"/><stop offset="0.4577" stop-color="#0200fd"/><stop offset="0.4765" stop-color="#3800c7"/><stop offset="0.4915" stop-color="#5000af"/><stop offset="0.5066" stop-color="#5200ad"/><stop offset="0.5216" stop-color="#3f00c0"/><stop offset="0.5404" stop-color="#0e00f1"/><stop offset="0.5442" stop-color="#0200fd"/><stop offset="0.5517" stop-color="#1717ff"/><stop offset="0.5874" stop-color="#8d8dff"/><stop offset="0.6100" stop-color="#c3c3ff"/><stop offset="0.6325" stop-color="#e3e3ff"/><stop offset="0.6570" stop-color="#eeeeff"/><stop offset="0.9784" stop-color="#f3f3ff"/><stop offset="0.9991" stop-color="#f5f5ff"/></linearGradient><linearGradient id="g54" x1="700" x2="1232" gradientUnits="userSpaceOnUse"><stop offset="0.0009" stop-color="#f5f5ff"/><stop offset="0.2133" stop-color="#eeeeff"/><stop offset="0.3600" stop-color="#eaeaff"/><stop offset="0.3825" stop-color="#d4d4ff"/><stop offset="0.4051" stop-color="#a7a7ff"/><stop offset="0.4295" stop-color="#5d5dff"/><stop offset="0.4558" stop-color="#0000ff"/><stop offset="0.4746" stop-color="#3800c7"/><stop offset="0.4897" stop-color="#5200ad"/><stop offset="0.5047" stop-color="#5700a8"/><stop offset="0.5197" stop-color="#4600b9"/><stop offset="0.5385" stop-color="#1700e8"/><stop offset="0.5461" stop-color="#0000ff"/><stop offset="0.5874" stop-color="#8a8aff"/><stop offset="0.6100" stop-color="#c1c1ff"/><stop offset="0.6325" stop-color="#e1e1ff"/><stop offset="0.6570" stop-color="#ededff"/><stop offset="0.9765" stop-color="#f3f3ff"/><stop offset="0.9991" stop-color="#f5f5ff"/></linearGradient><linearGradient id="g55" x1="700" x2="1232" gradientUnits="userSpaceOnUse"><stop offset="0.0009" stop-color="#f5f5ff"/><stop offset="0.2077" stop-color="#ededff"/><stop offset="0.3581" stop-color="#eaeaff"/><stop offset="0.3806" stop-color="#d5d5ff"/><stop offset="0.4032" stop-color="#aaaaff"/><stop offset="0.4276" stop-color="#6161ff"/><stop offset="0.4539" stop-color="#0404ff"/><stop offset="0.4558" stop-color="#0200fd"/><stop offset="0.4746" stop-color="#3a00c5"/><stop offset="0.4897" stop-color="#5400ab"/><stop offset="0.5047" stop-color="#5800a7"/><stop offset="0.5197" stop-color="#4800b7"/><stop offset="0.5385" stop-color="#1a00e5"/><stop offset="0.5461" stop-color="#0200fd"/><stop offset="0.5536" stop-color="#1818ff"/><stop offset="0.5874" stop-color="#8888ff"/><stop offset="0.6100" stop-color="#bfbfff"/><stop offset="0.6325" stop-color="#e0e0ff"/><stop offset="0.6570" stop-color="#ededff"/><stop offset="0.9746" stop-color="#f2f2ff"/><stop offset="0.9991" stop-color="#f4f4ff"/></linearGradient><linearGradient id="g56" x1="700" x2="1232" gradientUnits="userSpaceOnUse"><stop offset="0.0009" stop-color="#f4f4ff"/><stop offset="0.2021" stop-color="#ededff"/><stop offset="0.3581" stop-color="#e9e9ff"/><stop offset="0.3806" stop-color="#d4d4ff"/><stop offset="0.4032" stop-color="#a8a8ff"/><stop offset="0.4276" stop-color="#5f5fff"/><stop offset="0.4539" stop-color="#0202ff"/><stop offset="0.4577" stop-color="#0a00f5"/><stop offset="0.4765" stop-color="#3f00c0"/><stop offset="0.4915" stop-color="#5700a8"/><stop offset="0.5066" stop-color="#5800a7"/><stop offset="0.5216" stop-color="#4500ba"/><stop offset="0.5404" stop-color="#1500ea"/><stop offset="0.5461" stop-color="#0400fb"/><stop offset="0.5479" stop-color="#0303ff"/><stop offset="0.5874" stop-color="#8686ff"/><stop offset="0.6100" stop-color="#bdbdff"/><stop offset="0.6325" stop-color="#dfdfff"/><stop offset="0.6570" stop-color="#ececff"/><stop offset="0.9746" stop-color="#f2f2ff"/><stop offset="0.9991" stop-color="#f4f4ff"/></linearGradient><linearGradient id="g57" x1="700" x2="1232" gradientUnits="userSpaceOnUse"><stop offset="0.0009" stop-color="#f4f4ff"/><stop offset="0.1964" stop-color="#ececff"/><stop offset="0.3581" stop-color="#e9e9ff"/><stop offset="0.3806" stop-color="#d3d3ff"/><stop offset="0.4032" stop-color="#a6a6ff"/><stop offset="0.4276" stop-color="#5d5dff"/><stop offset="0.4539" stop-color="#0101ff"/><stop offset="0.4746" stop-color="#3c00c3"/><stop offset="0.4897" stop-color="#5600a9"/><stop offset="0.5047" stop-color="#5a00a5"/><stop offset="0.5197" stop-color="#4a00b5"/><stop offset="0.5385" stop-color="#1d00e2"/><stop offset="0.5479" stop-color="#0101ff"/><stop offset="0.5893" stop-color="#8989ff"/><stop offset="0.6118" stop-color="#bfbfff"/><stop offset="0.6344" stop-color="#e0e0ff"/><stop offset="0.6588" stop-color="#ececff"/><stop offset="0.9709" stop-color="#f1f1ff"/><stop offset="0.9991" stop-color="#f4f4ff"/></linearGradient><linearGradient id="g58" x1="700" x2="1232" gradientUnits="userSpaceOnUse"><stop offset="0.0009" stop-color="#f4f4ff"/><stop offset="0.1908" stop-color="#ebebff"/><stop offset="0.3562" stop-color="#e9e9ff"/><stop offset="0.3788" stop-color="#d4d4ff"/><stop offset="0.4013" stop-color="#a9a9ff"/><stop offset="0.4258" stop-color="#6161ff"/><stop offset="0.4539" stop-color="#0100fe"/><stop offset="0.4746" stop-color="#3d00c2"/><stop offset="0.4897" stop-color="#5700a8"/><stop offset="0.5047" stop-color="#5b00a4"/><stop offset="0.5197" stop-color="#4b00b4"/><stop offset="0.5385" stop-color="#1e00e1"/><stop offset="0.5479" stop-color="#0100fe"/><stop offset="0.5893" stop-color="#8787ff"/><stop offset="0.6118" stop-color="#bdbdff"/><stop offset="0.6344" stop-color="#dfdfff"/><stop offset="0.6588" stop-color="#ebebff"/><stop offset="0.9690" stop-color="#f1f1ff"/><stop offset="0.9991" stop-color="#f3f3ff"/></linearGradient><linearGradient id="g59" x1="700" x2="1232" gradientUnits="userSpaceOnUse"><stop offset="0.0009" stop-color="#f3f3ff"/><stop offset="0.1870" stop-color="#ebebff"/><stop offset="0.3562" stop-color="#e8e8ff"/><stop offset="0.3788" stop-color="#d3d3ff"/><stop offset="0.4013" stop-color="#a7a7ff"/><stop offset="0.4258" stop-color="#5f5fff"/><stop offset="0.4521" stop-color="#0404ff"/><stop offset="0.4539" stop-color="#0300fc"/><stop offset="0.4746" stop-color="#3e00c1"/><stop offset="0.4897" stop-color="#5700a8"/><stop offset="0.5047" stop-color="#5c00a3"/><stop offset="0.5197" stop-color="#4c00b3"/><stop offset="0.5385" stop-color="#1f00e0"/><stop offset="0.5479" stop-color="#0200fd"/><stop offset="0.5517" stop-color="#0a0aff"/><stop offset="0.5893" stop-color="#8585ff"/><stop offset="0.6137" stop-color="#bfbfff"/><stop offset="0.6363" stop-color="#dfdfff"/><stop offset="0.6607" stop-color="#eaeaff"/><stop offset="0.9671" stop-color="#f0f0ff"/><stop offset="0.9991" stop-color="#f3f3ff"/></linearGradient><linearGradient id="g60" x1="700" x2="1232" gradientUnits="userSpaceOnUse"><stop offset="0.0009" stop-color="#f3f3ff"/><stop offset="0.1833" stop-color="#eaeaff"/><stop offset="0.3562" stop-color="#e7e7ff"/><stop offset="0.3788" stop-color="#d1d1ff"/><stop offset="0.4013" stop-color="#a5a5ff"/><stop offset="0.4258" stop-color="#5d5dff"/><stop offset="0.4521" stop-color="#0202ff"/><stop offset="0.4596" stop-color="#1600e9"/><stop offset="0.4784" stop-color="#4700b8"/><stop offset="0.4934" stop-color="#5b00a4"/><stop offset="0.5085" stop-color="#5a00a5"/><stop offset="0.5254" stop-color="#4200bd"/><stop offset="0.5461" stop-color="#0a00f5"/><stop offset="0.5498" stop-color="#0202ff"/><stop offset="0.5912" stop-color="#8888ff"/><stop offset="0.6156" stop-color="#c1c1ff"/><stop offset="0.6382" stop-color="#e0e0ff"/><stop offset="0.6645" stop-color="#eaeaff"/><stop offset="0.9652" stop-color="#efefff"/><stop offset="0.9991" stop-color="#f3f3ff"/></linearGradient><linearGradient id="g61" x1="700" x2="1232" gradientUnits="userSpaceOnUse"><stop offset="0.0009" stop-color="#f3f3ff"/><stop offset="0.1776" stop-color="#eaeaff"/><stop offset="0.3543" stop-color="#e7e7ff"/><stop offset="0.3750" stop-color="#d5d5ff"/><stop offset="0.3976" stop-color="#acacff"/><stop offset="0.4220" stop-color="#6767ff"/><stop offset="0.4521" stop-color="#0101ff"/><stop offset="0.4746" stop-color="#4000bf"/><stop offset="0.4915" stop-color="#5a00a5"/><stop offset="0.5066" stop-color="#5c00a3"/><stop offset="0.5235" stop-color="#4600b9"/><stop offset="0.5442" stop-color="#1100ee"/><stop offset="0.5498" stop-color="#0101ff"/><stop offset="0.5912" stop-color="#8686ff"/><stop offset="0.6156" stop-color="#bfbfff"/><stop offset="0.6382" stop-color="#dfdfff"/><stop offset="0.6645" stop-color="#e9e9ff"/><stop offset="0.9633" stop-color="#efefff"/><stop offset="0.9991" stop-color="#f2f2ff"/></linearGradient><linearGradient id="g62" x1="700" x2="1232" gradientUnits="userSpaceOnUse"><stop offset="0.0009" stop-color="#f2f2ff"/><stop offset="0.1739" stop-color="#e9e9ff"/><stop offset="0.3543" stop-color="#e6e6ff"/><stop offset="0.3750" stop-color="#d4d4ff"/><stop offset="0.3976" stop-color="#aaaaff"/><stop offset="0.4220" stop-color="#6565ff"/><stop offset="0.4521" stop-color="#0100fe"/><stop offset="0.4727" stop-color="#3d00c2"/><stop offset="0.4897" stop-color="#5900a6"/><stop offset="0.5047" stop-color="#5d00a2"/><stop offset="0.5216" stop-color="#4b00b4"/><stop offset="0.5404" stop-color="#1e00e1"/><stop offset="0.5498" stop-color="#0100fe"/><stop offset="0.5930" stop-color="#8989ff"/><stop offset="0.6175" stop-color="#c1c1ff"/><stop offset="0.6400" stop-color="#dfdfff"/><stop offset="0.6664" stop-color="#e9e9ff"/><stop offset="0.9615" stop-color="#eeeeff"/><stop offset="0.9991" stop-color="#f2f2ff"/></linearGradient><linearGradient id="g63" x1="700" x2="1232" gradientUnits="userSpaceOnUse"><stop offset="0.0009" stop-color="#f2f2ff"/><stop offset="0.1701" stop-color="#e8e8ff"/><stop offset="0.3543" stop-color="#e5e5ff"/><stop offset="0.3750" stop-color="#d2d2ff"/><stop offset="0.3976" stop-color="#a8a8ff"/><stop offset="0.4220" stop-color="#6464ff"/><stop offset="0.4502" stop-color="#0404ff"/><stop offset="0.4521" stop-color="#0200fd"/><stop offset="0.4727" stop-color="#3e00c1"/><stop offset="0.4897" stop-color="#5a00a5"/><stop offset="0.5047" stop-color="#5e00a1"/><stop offset="0.5216" stop-color="#4b00b4"/><stop offset="0.5404" stop-color="#1f00e0"/><stop offset="0.5498" stop-color="#0200fd"/><stop offset="0.5536" stop-color="#0a0aff"/><stop offset="0.5930" stop-color="#8787ff"/><stop offset="0.6175" stop-color="#c0c0ff"/><stop offset="0.6400" stop-color="#dedeff"/><stop offset="0.6664" stop-color="#e8e8ff"/><stop offset="0.9596" stop-color="#ededff"/><stop offset="0.9991" stop-color="#f1f1ff"/></linearGradient><linearGradient id="g64" x1="700" x2="1232" gradientUnits="userSpaceOnUse"><stop offset="0.0009" stop-color="#f1f1ff"/><stop offset="0.1664" stop-color="#e7e7ff"/><stop offset="0.3543" stop-color="#e4e4ff"/><stop offset="0.3750" stop-color="#d1d1ff"/><stop offset="0.3976" stop-color="#a7a7ff"/><stop offset="0.4220" stop-color="#6262ff"/><stop offset="0.4502" stop-color="#0202ff"/><stop offset="0.4539" stop-color="#0a00f5"/><stop offset="0.4746" stop-color="#4300bc"/><stop offset="0.4915" stop-color="#5c00a3"/><stop offset="0.5066" stop-color="#5d00a2"/><stop offset="0.5235" stop-color="#4900b6"/><stop offset="0.5442" stop-color="#1500ea"/><stop offset="0.5498" stop-color="#0400fb"/><stop offset="0.5517" stop-color="#0202ff"/><stop offset="0.5930" stop-color="#8686ff"/><stop offset="0.6175" stop-color="#bebeff"/><stop offset="0.6400" stop-color="#ddddff"/><stop offset="0.6664" stop-color="#e7e7ff"/><stop offset="0.9577" stop-color="#ededff"/><stop offset="0.9991" stop-color="#f1f1ff"/></linearGradient><linearGradient id="g65" x1="700" x2="1232" gradientUnits="userSpaceOnUse"><stop offset="0.0009" stop-color="#f1f1ff"/><stop offset="0.1645" stop-color="#e7e7ff"/><stop offset="0.3524" stop-color="#e4e4ff"/><stop offset="0.3731" stop-color="#d2d2ff"/><stop offset="0.3957" stop-color="#a9a9ff"/><stop offset="0.4201" stop-color="#6666ff"/><stop offset="0.4502" stop-color="#0101ff"/><stop offset="0.4727" stop-color="#3f00c0"/><stop offset="0.4897" stop-color="#5b00a4"/><stop offset="0.5047" stop-color="#5f00a0"/><stop offset="0.5216" stop-color="#4d00b2"/><stop offset="0.5404" stop-color="#2100de"/><stop offset="0.5517" stop-color="#0101ff"/><stop offset="0.5930" stop-color="#8484ff"/><stop offset="0.6175" stop-color="#bcbcff"/><stop offset="0.6400" stop-color="#dcdcff"/><stop offset="0.6664" stop-color="#e6e6ff"/><stop offset="0.9558" stop-color="#ececff"/><stop offset="0.9991" stop-color="#f1f1ff"/></linearGradient><linearGradient id="g66" x1="700" x2="1232" gradientUnits="userSpaceOnUse"><stop offset="0.0009" stop-color="#f1f1ff"/><stop offset="0.1607" stop-color="#e6e6ff"/><stop offset="0.3524" stop-color="#e3e3ff"/><stop offset="0.3731" stop-color="#d1d1ff"/><stop offset="0.3957" stop-color="#a8a8ff"/><stop offset="0.4220" stop-color="#5e5eff"/><stop offset="0.4502" stop-color="#0000ff"/><stop offset="0.4727" stop-color="#4000bf"/><stop offset="0.4897" stop-color="#5b00a4"/><stop offset="0.5047" stop-color="#5f00a0"/><stop offset="0.5216" stop-color="#4d00b2"/><stop offset="0.5423" stop-color="#1d00e2"/><stop offset="0.5517" stop-color="#0100fe"/><stop offset="0.5949" stop-color="#8787ff"/><stop offset="0.6194" stop-color="#bebeff"/><stop offset="0.6419" stop-color="#ddddff"/><stop offset="0.6701" stop-color="#e6e6ff"/><stop offset="0.9539" stop-color="#ebebff"/><stop offset="0.9991" stop-color="#f0f0ff"/></linearGradient><linearGradient id="g67" x1="700" x2="1232" gradientUnits="userSpaceOnUse"><stop offset="0.0009" stop-color="#f0f0ff"/><stop offset="0.1570" stop-color="#e5e5ff"/><stop offset="0.3524" stop-color="#e2e2ff"/><stop offset="0.3731" stop-color="#d0d0ff"/><stop offset="0.3957" stop-color="#a6a6ff"/><stop offset="0.4220" stop-color="#5c5cff"/><stop offset="0.4483" stop-color="#0404ff"/><stop offset="0.4502" stop-color="#0200fd"/><stop offset="0.4727" stop-color="#4100be"/><stop offset="0.4897" stop-color="#5c00a3"/><stop offset="0.5047" stop-color="#5f00a0"/><stop offset="0.5216" stop-color="#4e00b1"/><stop offset="0.5423" stop-color="#1e00e1"/><stop offset="0.5517" stop-color="#0200fd"/><stop offset="0.5592" stop-color="#1616ff"/><stop offset="0.5949" stop-color="#8585ff"/><stop offset="0.6194" stop-color="#bdbdff"/><stop offset="0.6419" stop-color="#dbdbff"/><stop offset="0.6682" stop-color="#e5e5ff"/><stop offset="0.9521" stop-color="#eaeaff"/><stop offset="0.9991" stop-color="#f0f0ff"/></linearGradient><linearGradient id="g68" x1="700" x2="1232" gradientUnits="userSpaceOnUse"><stop offset="0.0009" stop-color="#f0f0ff"/><stop offset="0.1551" stop-color="#e4e4ff"/><stop offset="0.3524" stop-color="#e1e1ff"/><stop offset="0.3731" stop-color="#ceceff"/><stop offset="0.3957" stop-color="#a4a4ff"/><stop offset="0.4220" stop-color="#5a5aff"/><stop offset="0.4483" stop-color="#0303ff"/><stop offset="0.4521" stop-color="#0900f6"/><stop offset="0.4727" stop-color="#4100be"/><stop offset="0.4897" stop-color="#5c00a3"/><stop offset="0.5047" stop-color="#60009f"/><stop offset="0.5216" stop-color="#4e00b1"/><stop offset="0.5423" stop-color="#1f00e0"/><stop offset="0.5517" stop-color="#0300fc"/><stop offset="0.5536" stop-color="#0303ff"/><stop offset="0.5949" stop-color="#8383ff"/><stop offset="0.6194" stop-color="#bbbbff"/><stop offset="0.6419" stop-color="#dadaff"/><stop offset="0.6682" stop-color="#e4e4ff"/><stop offset="0.9502" stop-color="#e9e9ff"/><stop offset="0.9991" stop-color="#efefff"/></linearGradient><linearGradient id="g69" x1="700" x2="1232" gradientUnits="userSpaceOnUse"><stop offset="0.0009" stop-color="#efefff"/><stop offset="0.1513" stop-color="#e4e4ff"/><stop offset="0.3524" stop-color="#e0e0ff"/><stop offset="0.3731" stop-color="#cdcdff"/><stop offset="0.3957" stop-color="#a2a2ff"/><stop offset="0.4220" stop-color="#5858ff"/><stop offset="0.4483" stop-color="#0202ff"/><stop offset="0.4727" stop-color="#4200bd"/><stop offset="0.4897" stop-color="#5c00a3"/><stop offset="0.5066" stop-color="#5f00a0"/><stop offset="0.5235" stop-color="#4c00b3"/><stop offset="0.5442" stop-color="#1b00e4"/><stop offset="0.5536" stop-color="#0101ff"/><stop offset="0.5968" stop-color="#8686ff"/><stop offset="0.6212" stop-color="#bdbdff"/><stop offset="0.6438" stop-color="#dbdbff"/><stop offset="0.6720" stop-color="#e3e3ff"/><stop offset="0.9483" stop-color="#e8e8ff"/><stop offset="0.9991" stop-color="#efefff"/></linearGradient><linearGradient id="g70" x1="700" x2="1232" gradientUnits="userSpaceOnUse"><stop offset="0.0009" stop-color="#efefff"/><stop offset="0.1494" stop-color="#e3e3ff"/><stop offset="0.3506" stop-color="#e0e0ff"/><stop offset="0.3712" stop-color="#ceceff"/><stop offset="0.3938" stop-color="#a5a5ff"/><stop offset="0.4201" stop-color="#5c5cff"/><stop offset="0.4483" stop-color="#0000ff"/><stop offset="0.4709" stop-color="#3f00c0"/><stop offset="0.4878" stop-color="#5b00a4"/><stop offset="0.5047" stop-color="#61009e"/><stop offset="0.5216" stop-color="#4f00b0"/><stop offset="0.5423" stop-color="#2100de"/><stop offset="0.5536" stop-color="#0000ff"/><stop offset="0.5968" stop-color="#8484ff"/><stop offset="0.6212" stop-color="#bbbbff"/><stop offset="0.6438" stop-color="#d9d9ff"/><stop offset="0.6720" stop-color="#e2e2ff"/><stop offset="0.9464" stop-color="#e7e7ff"/><stop offset="0.9991" stop-color="#eeeeff"/></linearGradient><linearGradient id="g71" x1="700" x2="1232" gradientUnits="userSpaceOnUse"><stop offset="0.0009" stop-color="#eeeeff"/><stop offset="0.1457" stop-color="#e2e2ff"/><stop offset="0.3506" stop-color="#dfdfff"/><stop offset="0.3712" stop-color="#cdcdff"/><stop offset="0.3938" stop-color="#a3a3ff"/><stop offset="0.4201" stop-color="#5b5bff"/><stop offset="0.4483" stop-color="#0100fe"/><stop offset="0.4709" stop-color="#4000bf"/><stop offset="0.4878" stop-color="#5b00a4"/><stop offset="0.5047" stop-color="#61009e"/><stop offset="0.5216" stop-color="#5000af"/><stop offset="0.5423" stop-color="#2200dd"/><stop offset="0.5536" stop-color="#0200fd"/><stop offset="0.5987" stop-color="#8888ff"/><stop offset="0.6231" stop-color="#bdbdff"/><stop offset="0.6457" stop-color="#dadaff"/><stop offset="0.6776" stop-color="#e2e2ff"/><stop offset="0.9445" stop-color="#e6e6ff"/><stop offset="0.9991" stop-color="#eeeeff"/></linearGradient><linearGradient id="g72" x1="700" x2="1232" gradientUnits="userSpaceOnUse"><stop offset="0.0009" stop-color="#eeeeff"/><stop offset="0.1438" stop-color="#e1e1ff"/><stop offset="0.3506" stop-color="#dedeff"/><stop offset="0.3712" stop-color="#cbcbff"/><stop offset="0.3938" stop-color="#a1a1ff"/><stop offset="0.4201" stop-color="#5959ff"/><stop offset="0.4464" stop-color="#0303ff"/><stop offset="0.4483" stop-color="#0300fc"/><stop offset="0.4709" stop-color="#4000bf"/><stop offset="0.4878" stop-color="#5c00a3"/><stop offset="0.5047" stop-color="#61009e"/><stop offset="0.5216" stop-color="#5100ae"/><stop offset="0.5423" stop-color="#2300dc"/><stop offset="0.5536" stop-color="#0300fc"/><stop offset="0.5573" stop-color="#0909ff"/><stop offset="0.5987" stop-color="#8686ff"/><stop offset="0.6231" stop-color="#bcbcff"/><stop offset="0.6457" stop-color="#d8d8ff"/><stop offset="0.6758" stop-color="#e1e1ff"/><stop offset="0.9427" stop-color="#e5e5ff"/><stop offset="0.9991" stop-color="#ededff"/></linearGradient><linearGradient id="g73" x1="700" x2="1232" gradientUnits="userSpaceOnUse"><stop offset="0.0009" stop-color="#ededff"/><stop offset="0.1419" stop-color="#e0e0ff"/><stop offset="0.3506" stop-color="#dcdcff"/><stop offset="0.3712" stop-color="#cacaff"/><stop offset="0.3938" stop-color="#a0a0ff"/><stop offset="0.4220" stop-color="#5151ff"/><stop offset="0.4464" stop-color="#0202ff"/><stop offset="0.4558" stop-color="#1b00e4"/><stop offset="0.4765" stop-color="#4c00b3"/><stop offset="0.4934" stop-color="#61009e"/><stop offset="0.5103" stop-color="#5f00a0"/><stop offset="0.5291" stop-color="#4400bb"/><stop offset="0.5517" stop-color="#0a00f5"/><stop offset="0.5555" stop-color="#0101ff"/><stop offset="0.5987" stop-color="#8484ff"/><stop offset="0.6231" stop-color="#babaff"/><stop offset="0.6457" stop-color="#d7d7ff"/><stop offset="0.6758" stop-color="#e0e0ff"/><stop offset="0.9427" stop-color="#e5e5ff"/><stop offset="0.9991" stop-color="#ececff"/></linearGradient><linearGradient id="g74" x1="700" x2="1232" gradientUnits="userSpaceOnUse"><stop offset="0.0009" stop-color="#ededff"/><stop offset="0.1400" stop-color="#dfdfff"/><stop offset="0.3487" stop-color="#dcdcff"/><stop offset="0.3694" stop-color="#cbcbff"/><stop offset="0.3919" stop-color="#a2a2ff"/><stop offset="0.4182" stop-color="#5b5bff"/><stop offset="0.4464" stop-color="#0101ff"/><stop offset="0.4709" stop-color="#4200bd"/><stop offset="0.4878" stop-color="#5d00a2"/><stop offset="0.5047" stop-color="#62009d"/><stop offset="0.5216" stop-color="#5200ad"/><stop offset="0.5423" stop-color="#2600d9"/><stop offset="0.5555" stop-color="#0000ff"/><stop offset="0.5987" stop-color="#8282ff"/><stop offset="0.6231" stop-color="#b8b8ff"/><stop offset="0.6457" stop-color="#d6d6ff"/><stop offset="0.6758" stop-color="#dfdfff"/><stop offset="0.9408" stop-color="#e3e3ff"/><stop offset="0.9991" stop-color="#ececff"/></linearGradient><linearGradient id="g75" x1="700" x2="1232" gradientUnits="userSpaceOnUse"><stop offset="0.0009" stop-color="#ececff"/><stop offset="0.1382" stop-color="#dedeff"/><stop offset="0.3487" stop-color="#dbdbff"/><stop offset="0.3694" stop-color="#cacaff"/><stop offset="0.3919" stop-color="#a0a0ff"/><stop offset="0.4201" stop-color="#5353ff"/><stop offset="0.4464" stop-color="#0100fe"/><stop offset="0.4690" stop-color="#3f00c0"/><stop offset="0.4878" stop-color="#5e00a1"/><stop offset="0.5047" stop-color="#63009c"/><stop offset="0.5216" stop-color="#5300ac"/><stop offset="0.5423" stop-color="#2700d8"/><stop offset="0.5555" stop-color="#0200fd"/><stop offset="0.5761" stop-color="#3f3fff"/><stop offset="0.6062" stop-color="#9393ff"/><stop offset="0.6306" stop-color="#c3c3ff"/><stop offset="0.6532" stop-color="#d9d9ff"/><stop offset="0.7378" stop-color="#dedeff"/><stop offset="0.9445" stop-color="#e3e3ff"/><stop offset="0.9991" stop-color="#ebebff"/></linearGradient><linearGradient id="g76" x1="700" x2="1232" gradientUnits="userSpaceOnUse"><stop offset="0.0009" stop-color="#ebebff"/><stop offset="0.1344" stop-color="#dedeff"/><stop offset="0.3487" stop-color="#dadaff"/><stop offset="0.3694" stop-color="#c8c8ff"/><stop offset="0.3919" stop-color="#9e9eff"/><stop offset="0.4201" stop-color="#5151ff"/><stop offset="0.4445" stop-color="#0303ff"/><stop offset="0.4464" stop-color="#0300fc"/><stop offset="0.4690" stop-color="#4000bf"/><stop offset="0.4878" stop-color="#5e00a1"/><stop offset="0.5047" stop-color="#64009b"/><stop offset="0.5216" stop-color="#5400ab"/><stop offset="0.5423" stop-color="#2800d7"/><stop offset="0.5555" stop-color="#0300fc"/><stop offset="0.5573" stop-color="#0303ff"/><stop offset="0.6006" stop-color="#8383ff"/><stop offset="0.6250" stop-color="#b8b8ff"/><stop offset="0.6476" stop-color="#d5d5ff"/><stop offset="0.6795" stop-color="#dcdcff"/><stop offset="0.9370" stop-color="#e1e1ff"/><stop offset="0.9991" stop-color="#eaeaff"/></linearGradient><linearGradient id="g77" x1="700" x2="1232" gradientUnits="userSpaceOnUse"><stop offset="0.0009" stop-color="#ebebff"/><stop offset="0.1325" stop-color="#ddddff"/><stop offset="0.3487" stop-color="#d9d9ff"/><stop offset="0.3694" stop-color="#c7c7ff"/><stop offset="0.3919" stop-color="#9d9dff"/><stop offset="0.4201" stop-color="#4f4fff"/><stop offset="0.4445" stop-color="#0202ff"/><stop offset="0.4709" stop-color="#4500ba"/><stop offset="0.4878" stop-color="#5f00a0"/><stop offset="0.5047" stop-color="#64009b"/><stop offset="0.5216" stop-color="#5400ab"/><stop offset="0.5423" stop-color="#2900d6"/><stop offset="0.5573" stop-color="#0101ff"/><stop offset="0.6006" stop-color="#8181ff"/><stop offset="0.6250" stop-color="#b7b7ff"/><stop offset="0.6476" stop-color="#d3d3ff"/><stop offset="0.6795" stop-color="#dbdbff"/><stop offset="0.9352" stop-color="#e0e0ff"/><stop offset="0.9991" stop-color="#eaeaff"/></linearGradient><linearGradient id="g78" x1="700" x2="1232" gradientUnits="userSpaceOnUse"><stop offset="0.0009" stop-color="#eaeaff"/><stop offset="0.1306" stop-color="#dcdcff"/><stop offset="0.3487" stop-color="#d7d7ff"/><stop offset="0.3694" stop-color="#c5c5ff"/><stop offset="0.3919" stop-color="#9b9bff"/><stop offset="0.4201" stop-color="#4d4dff"/><stop offset="0.4445" stop-color="#0000ff"/><stop offset="0.4690" stop-color="#4200bd"/><stop offset="0.4878" stop-color="#60009f"/><stop offset="0.5047" stop-color="#65009a"/><stop offset="0.5216" stop-color="#5500aa"/><stop offset="0.5423" stop-color="#2b00d4"/><stop offset="0.5573" stop-color="#0100fe"/><stop offset="0.6024" stop-color="#8484ff"/><stop offset="0.6269" stop-color="#b8b8ff"/><stop offset="0.6494" stop-color="#d3d3ff"/><stop offset="0.6870" stop-color="#dadaff"/><stop offset="0.9352" stop-color="#dfdfff"/><stop offset="0.9991" stop-color="#e9e9ff"/></linearGradient><linearGradient id="g79" x1="700" x2="1232" gradientUnits="userSpaceOnUse"><stop offset="0.0009" stop-color="#eaeaff"/><stop offset="0.1288" stop-color="#dbdbff"/><stop offset="0.3468" stop-color="#d7d7ff"/><stop offset="0.3675" stop-color="#c6c6ff"/><stop offset="0.3900" stop-color="#9d9dff"/><stop offset="0.4182" stop-color="#5151ff"/><stop offset="0.4427" stop-color="#0404ff"/><stop offset="0.4445" stop-color="#0200fd"/><stop offset="0.4690" stop-color="#4300bc"/><stop offset="0.4878" stop-color="#61009e"/><stop offset="0.5047" stop-color="#660099"/><stop offset="0.5235" stop-color="#5400ab"/><stop offset="0.5442" stop-color="#2700d8"/><stop offset="0.5573" stop-color="#0300fc"/><stop offset="0.5611" stop-color="#0909ff"/><stop offset="0.6024" stop-color="#8282ff"/><stop offset="0.6269" stop-color="#b6b6ff"/><stop offset="0.6494" stop-color="#d2d2ff"/><stop offset="0.6852" stop-color="#d9d9ff"/><stop offset="0.9333" stop-color="#dedeff"/><stop offset="0.9991" stop-color="#e8e8ff"/></linearGradient><linearGradient id="g80" x1="700" x2="1232" gradientUnits="userSpaceOnUse"><stop offset="0.0009" stop-color="#e9e9ff"/><stop offset="0.1269" stop-color="#dadaff"/><stop offset="0.3468" stop-color="#d6d6ff"/><stop offset="0.3675" stop-color="#c4c4ff"/><stop offset="0.3900" stop-color="#9b9bff"/><stop offset="0.4182" stop-color="#4f4fff"/><stop offset="0.4427" stop-color="#0202ff"/><stop offset="0.4483" stop-color="#0f00f0"/><stop offset="0.4709" stop-color="#4800b7"/><stop offset="0.4897" stop-color="#63009c"/><stop offset="0.5066" stop-color="#660099"/><stop offset="0.5254" stop-color="#5200ad"/><stop offset="0.5479" stop-color="#1f00e0"/><stop offset="0.5592" stop-color="#0101ff"/><stop offset="0.6024" stop-color="#8080ff"/><stop offset="0.6288" stop-color="#b8b8ff"/><stop offset="0.6513" stop-color="#d2d2ff"/><stop offset="0.6945" stop-color="#d8d8ff"/><stop offset="0.9314" stop-color="#dcdcff"/><stop offset="0.9991" stop-color="#e8e8ff"/></linearGradient><linearGradient id="g81" x1="700" x2="1232" gradientUnits="userSpaceOnUse"><stop offset="0.0009" stop-color="#e8e8ff"/><stop offset="0.1250" stop-color="#d9d9ff"/><stop offset="0.3468" stop-color="#d4d4ff"/><stop offset="0.3675" stop-color="#c3c3ff"/><stop offset="0.3900" stop-color="#9999ff"/><stop offset="0.4201" stop-color="#4747ff"/><stop offset="0.4427" stop-color="#0000ff"/><stop offset="0.4671" stop-color="#4200bd"/><stop offset="0.4859" stop-color="#61009e"/><stop offset="0.5028" stop-color="#680097"/><stop offset="0.5216" stop-color="#5900a6"/><stop offset="0.5423" stop-color="#2f00d0"/><stop offset="0.5592" stop-color="#0100fe"/><stop offset="0.6043" stop-color="#8282ff"/><stop offset="0.6288" stop-color="#b6b6ff"/><stop offset="0.6513" stop-color="#d0d0ff"/><stop offset="0.6927" stop-color="#d7d7ff"/><stop offset="0.9314" stop-color="#dbdbff"/><stop offset="0.9991" stop-color="#e7e7ff"/></linearGradient><linearGradient id="g82" x1="700" x2="1232" gradientUnits="userSpaceOnUse"><stop offset="0.0009" stop-color="#e8e8ff"/><stop offset="0.1231" stop-color="#d8d8ff"/><stop offset="0.3468" stop-color="#d3d3ff"/><stop offset="0.3675" stop-color="#c1c1ff"/><stop offset="0.3900" stop-color="#9797ff"/><stop offset="0.4201" stop-color="#4444ff"/><stop offset="0.4408" stop-color="#0404ff"/><stop offset="0.4427" stop-color="#0200fd"/><stop offset="0.4671" stop-color="#4300bc"/><stop offset="0.4859" stop-color="#62009d"/><stop offset="0.5028" stop-color="#690096"/><stop offset="0.5216" stop-color="#5a00a5"/><stop offset="0.5423" stop-color="#3100ce"/><stop offset="0.5592" stop-color="#0300fc"/><stop offset="0.5630" stop-color="#0909ff"/><stop offset="0.6043" stop-color="#8080ff"/><stop offset="0.6288" stop-color="#b4b4ff"/><stop offset="0.6513" stop-color="#cfcfff"/><stop offset="0.6908" stop-color="#d5d5ff"/><stop offset="0.9295" stop-color="#dadaff"/><stop offset="0.9991" stop-color="#e6e6ff"/></linearGradient><linearGradient id="g83" x1="700" x2="1232" gradientUnits="userSpaceOnUse"><stop offset="0.0009" stop-color="#e7e7ff"/><stop offset="0.1231" stop-color="#d7d7ff"/><stop offset="0.3468" stop-color="#d2d2ff"/><stop offset="0.3675" stop-color="#bfbfff"/><stop offset="0.3919" stop-color="#9090ff"/><stop offset="0.4239" stop-color="#3737ff"/><stop offset="0.4408" stop-color="#0202ff"/><stop offset="0.4483" stop-color="#1400eb"/><stop offset="0.4709" stop-color="#4d00b2"/><stop offset="0.4897" stop-color="#670098"/><stop offset="0.5066" stop-color="#690096"/><stop offset="0.5254" stop-color="#5600a9"/><stop offset="0.5479" stop-color="#2400db"/><stop offset="0.5611" stop-color="#0101ff"/><stop offset="0.6043" stop-color="#7e7eff"/><stop offset="0.6306" stop-color="#b5b5ff"/><stop offset="0.6513" stop-color="#cdcdff"/><stop offset="0.6908" stop-color="#d4d4ff"/><stop offset="0.9276" stop-color="#d8d8ff"/><stop offset="0.9991" stop-color="#e5e5ff"/></linearGradient><linearGradient id="g84" x1="700" x2="1232" gradientUnits="userSpaceOnUse"><stop offset="0.0009" stop-color="#e7e7ff"/><stop offset="0.1212" stop-color="#d6d6ff"/><stop offset="0.3449" stop-color="#d1d1ff"/><stop offset="0.3656" stop-color="#c0c0ff"/><stop offset="0.3882" stop-color="#9797ff"/><stop offset="0.4182" stop-color="#4646ff"/><stop offset="0.4408" stop-color="#0000ff"/><stop offset="0.4671" stop-color="#4700b8"/><stop offset="0.4859" stop-color="#65009a"/><stop offset="0.5028" stop-color="#6c0093"/><stop offset="0.5216" stop-color="#5d00a2"/><stop offset="0.5423" stop-color="#3400cb"/><stop offset="0.5611" stop-color="#0100fe"/><stop offset="0.6081" stop-color="#8585ff"/><stop offset="0.6325" stop-color="#b6b6ff"/><stop offset="0.6532" stop-color="#ccccff"/><stop offset="0.7002" stop-color="#d2d2ff"/><stop offset="0.9258" stop-color="#d7d7ff"/><stop offset="0.9991" stop-color="#e4e4ff"/></linearGradient><linearGradient id="g85" x1="700" x2="1232" gradientUnits="userSpaceOnUse"><stop offset="0.0009" stop-color="#e6e6ff"/><stop offset="0.1194" stop-color="#d4d4ff"/><stop offset="0.3449" stop-color="#cfcfff"/><stop offset="0.3656" stop-color="#bebeff"/><stop offset="0.3882" stop-color="#9595ff"/><stop offset="0.4182" stop-color="#4343ff"/><stop offset="0.4389" stop-color="#0303ff"/><stop offset="0.4408" stop-color="#0200fd"/><stop offset="0.4671" stop-color="#4800b7"/><stop offset="0.4859" stop-color="#660099"/><stop offset="0.5028" stop-color="#6d0092"/><stop offset="0.5216" stop-color="#5e00a1"/><stop offset="0.5423" stop-color="#3600c9"/><stop offset="0.5611" stop-color="#0300fc"/><stop offset="0.5630" stop-color="#0202ff"/><stop offset="0.6062" stop-color="#7e7eff"/><stop offset="0.6306" stop-color="#b1b1ff"/><stop offset="0.6513" stop-color="#c9c9ff"/><stop offset="0.6889" stop-color="#d1d1ff"/><stop offset="0.9239" stop-color="#d5d5ff"/><stop offset="0.9991" stop-color="#e3e3ff"/></linearGradient><linearGradient id="g86" x1="700" x2="1232" gradientUnits="userSpaceOnUse"><stop offset="0.0009" stop-color="#e5e5ff"/><stop offset="0.1175" stop-color="#d3d3ff"/><stop offset="0.3449" stop-color="#ceceff"/><stop offset="0.3656" stop-color="#bcbcff"/><stop offset="0.3882" stop-color="#9393ff"/><stop offset="0.4182" stop-color="#4141ff"/><stop offset="0.4389" stop-color="#0101ff"/><stop offset="0.4671" stop-color="#4a00b5"/><stop offset="0.4859" stop-color="#680097"/><stop offset="0.5028" stop-color="#6f0090"/><stop offset="0.5216" stop-color="#60009f"/><stop offset="0.5423" stop-color="#3800c7"/><stop offset="0.5630" stop-color="#0000ff"/><stop offset="0.6062" stop-color="#7c7cff"/><stop offset="0.6306" stop-color="#afafff"/><stop offset="0.6513" stop-color="#c8c8ff"/><stop offset="0.6870" stop-color="#cfcfff"/><stop offset="0.9220" stop-color="#d3d3ff"/><stop offset="0.9991" stop-color="#e2e2ff"/></linearGradient><linearGradient id="g87" x1="700" x2="1232" gradientUnits="userSpaceOnUse"><stop offset="0.0009" stop-color="#e4e4ff"/><stop offset="0.1156" stop-color="#d2d2ff"/><stop offset="0.3449" stop-color="#ccccff"/><stop offset="0.3656" stop-color="#babaff"/><stop offset="0.3882" stop-color="#9090ff"/><stop offset="0.4182" stop-color="#3e3eff"/><stop offset="0.4389" stop-color="#0100fe"/><stop offset="0.4652" stop-color="#4800b7"/><stop offset="0.4840" stop-color="#670098"/><stop offset="0.5009" stop-color="#70008f"/><stop offset="0.5197" stop-color="#64009b"/><stop offset="0.5404" stop-color="#3f00c0"/><stop offset="0.5630" stop-color="#0200fd"/><stop offset="0.5667" stop-color="#0909ff"/><stop offset="0.6081" stop-color="#7e7eff"/><stop offset="0.6325" stop-color="#b0b0ff"/><stop offset="0.6532" stop-color="#c7c7ff"/><stop offset="0.6964" stop-color="#cdcdff"/><stop offset="0.9220" stop-color="#d2d2ff"/><stop offset="0.9991" stop-color="#e1e1ff"/></linearGradient><linearGradient id="g88" x1="700" x2="1232" gradientUnits="userSpaceOnUse"><stop offset="0.0009" stop-color="#e4e4ff"/><stop offset="0.1156" stop-color="#d1d1ff"/><stop offset="0.3430" stop-color="#cbcbff"/><stop offset="0.3637" stop-color="#bbbbff"/><stop offset="0.3863" stop-color="#9292ff"/><stop offset="0.4164" stop-color="#4141ff"/><stop offset="0.4370" stop-color="#0202ff"/><stop offset="0.4427" stop-color="#0f00f0"/><stop offset="0.4671" stop-color="#4e00b1"/><stop offset="0.4859" stop-color="#6b0094"/><stop offset="0.5028" stop-color="#72008d"/><stop offset="0.5216" stop-color="#63009c"/><stop offset="0.5423" stop-color="#3c00c3"/><stop offset="0.5648" stop-color="#0101ff"/><stop offset="0.6081" stop-color="#7b7bff"/><stop offset="0.6325" stop-color="#aeaeff"/><stop offset="0.6532" stop-color="#c5c5ff"/><stop offset="0.6945" stop-color="#ccccff"/><stop offset="0.9201" stop-color="#d0d0ff"/><stop offset="0.9991" stop-color="#e0e0ff"/></linearGradient><linearGradient id="g89" x1="700" x2="1232" gradientUnits="userSpaceOnUse"><stop offset="0.0009" stop-color="#e3e3ff"/><stop offset="0.1137" stop-color="#d0d0ff"/><stop offset="0.3430" stop-color="#cacaff"/><stop offset="0.3637" stop-color="#b9b9ff"/><stop offset="0.3863" stop-color="#9090ff"/><stop offset="0.4164" stop-color="#3f3fff"/><stop offset="0.4370" stop-color="#0000ff"/><stop offset="0.4633" stop-color="#4800b7"/><stop offset="0.4840" stop-color="#6b0094"/><stop offset="0.5009" stop-color="#74008b"/><stop offset="0.5197" stop-color="#670098"/><stop offset="0.5404" stop-color="#4300bc"/><stop offset="0.5648" stop-color="#0200fd"/><stop offset="0.5761" stop-color="#2020ff"/><stop offset="0.6118" stop-color="#8282ff"/><stop offset="0.6363" stop-color="#b2b2ff"/><stop offset="0.6570" stop-color="#c5c5ff"/><stop offset="0.7265" stop-color="#cacaff"/><stop offset="0.9220" stop-color="#ceceff"/><stop offset="0.9991" stop-color="#dfdfff"/></linearGradient><linearGradient id="g90" x1="700" x2="1232" gradientUnits="userSpaceOnUse"><stop offset="0.0009" stop-color="#e2e2ff"/><stop offset="0.1118" stop-color="#cfcfff"/><stop offset="0.3430" stop-color="#c8c8ff"/><stop offset="0.3637" stop-color="#b7b7ff"/><stop offset="0.3863" stop-color="#8d8dff"/><stop offset="0.4182" stop-color="#3737ff"/><stop offset="0.4352" stop-color="#0303ff"/><stop offset="0.4389" stop-color="#0800f7"/><stop offset="0.4652" stop-color="#4e00b1"/><stop offset="0.4840" stop-color="#6d0092"/><stop offset="0.5028" stop-color="#75008a"/><stop offset="0.5216" stop-color="#670098"/><stop offset="0.5423" stop-color="#4000bf"/><stop offset="0.5667" stop-color="#0101ff"/><stop offset="0.6100" stop-color="#7b7bff"/><stop offset="0.6344" stop-color="#adadff"/><stop offset="0.6551" stop-color="#c2c2ff"/><stop offset="0.7039" stop-color="#c8c8ff"/><stop offset="0.9182" stop-color="#ccccff"/><stop offset="0.9991" stop-color="#dedeff"/></linearGradient><linearGradient id="g91" x1="700" x2="1232" gradientUnits="userSpaceOnUse"><stop offset="0.0009" stop-color="#e1e1ff"/><stop offset="0.1100" stop-color="#ceceff"/><stop offset="0.3430" stop-color="#c7c7ff"/><stop offset="0.3637" stop-color="#b5b5ff"/><stop offset="0.3863" stop-color="#8b8bff"/><stop offset="0.4182" stop-color="#3434ff"/><stop offset="0.4352" stop-color="#0000ff"/><stop offset="0.4633" stop-color="#4c00b3"/><stop offset="0.4840" stop-color="#6e0091"/><stop offset="0.5028" stop-color="#770088"/><stop offset="0.5216" stop-color="#690096"/><stop offset="0.5423" stop-color="#4200bd"/><stop offset="0.5667" stop-color="#0100fe"/><stop offset="0.6118" stop-color="#7d7dff"/><stop offset="0.6363" stop-color="#adadff"/><stop offset="0.6570" stop-color="#c1c1ff"/><stop offset="0.7190" stop-color="#c6c6ff"/><stop offset="0.9182" stop-color="#cacaff"/><stop offset="0.9991" stop-color="#ddddff"/></linearGradient><linearGradient id="g92" x1="700" x2="1232" gradientUnits="userSpaceOnUse"><stop offset="0.0009" stop-color="#e1e1ff"/><stop offset="0.1100" stop-color="#ccccff"/><stop offset="0.3412" stop-color="#c5c5ff"/><stop offset="0.3618" stop-color="#b5b5ff"/><stop offset="0.3844" stop-color="#8d8dff"/><stop offset="0.4145" stop-color="#3c3cff"/><stop offset="0.4333" stop-color="#0303ff"/><stop offset="0.4352" stop-color="#0200fd"/><stop offset="0.4633" stop-color="#4e00b1"/><stop offset="0.4840" stop-color="#70008f"/><stop offset="0.5028" stop-color="#790086"/><stop offset="0.5216" stop-color="#6b0094"/><stop offset="0.5442" stop-color="#4000bf"/><stop offset="0.5686" stop-color="#0202ff"/><stop offset="0.6100" stop-color="#7676ff"/><stop offset="0.6344" stop-color="#a8a8ff"/><stop offset="0.6551" stop-color="#bebeff"/><stop offset="0.7002" stop-color="#c4c4ff"/><stop offset="0.9145" stop-color="#c8c8ff"/><stop offset="0.9991" stop-color="#dcdcff"/></linearGradient><linearGradient id="g93" x1="700" x2="1232" gradientUnits="userSpaceOnUse"><stop offset="0.0009" stop-color="#e0e0ff"/><stop offset="0.1081" stop-color="#cbcbff"/><stop offset="0.3412" stop-color="#c4c4ff"/><stop offset="0.3618" stop-color="#b3b3ff"/><stop offset="0.3844" stop-color="#8a8aff"/><stop offset="0.4164" stop-color="#3434ff"/><stop offset="0.4333" stop-color="#0101ff"/><stop offset="0.4633" stop-color="#5000af"/><stop offset="0.4840" stop-color="#72008d"/><stop offset="0.5028" stop-color="#7b0084"/><stop offset="0.5216" stop-color="#6d0092"/><stop offset="0.5442" stop-color="#4300bc"/><stop offset="0.5686" stop-color="#0100fe"/><stop offset="0.6137" stop-color="#7c7cff"/><stop offset="0.6382" stop-color="#ababff"/><stop offset="0.6607" stop-color="#bfbfff"/><stop offset="0.8092" stop-color="#c2c2ff"/><stop offset="0.9333" stop-color="#c9c9ff"/><stop offset="0.9991" stop-color="#dadaff"/></linearGradient><linearGradient id="g94" x1="700" x2="1232" gradientUnits="userSpaceOnUse"><stop offset="0.0009" stop-color="#dfdfff"/><stop offset="0.1062" stop-color="#cacaff"/><stop offset="0.3412" stop-color="#c2c2ff"/><stop offset="0.3618" stop-color="#b1b1ff"/><stop offset="0.3844" stop-color="#8888ff"/><stop offset="0.4164" stop-color="#3131ff"/><stop offset="0.4314" stop-color="#0404ff"/><stop offset="0.4333" stop-color="#0200fd"/><stop offset="0.4615" stop-color="#4e00b1"/><stop offset="0.4821" stop-color="#72008d"/><stop offset="0.5009" stop-color="#7d0082"/><stop offset="0.5197" stop-color="#71008e"/><stop offset="0.5404" stop-color="#4d00b2"/><stop offset="0.5705" stop-color="#0202ff"/><stop offset="0.6118" stop-color="#7575ff"/><stop offset="0.6363" stop-color="#a6a6ff"/><stop offset="0.6570" stop-color="#bbbbff"/><stop offset="0.7096" stop-color="#c0c0ff"/><stop offset="0.9126" stop-color="#c4c4ff"/><stop offset="0.9991" stop-color="#d9d9ff"/></linearGradient><linearGradient id="g95" x1="700" x2="1232" gradientUnits="userSpaceOnUse"><stop offset="0.0009" stop-color="#dedeff"/><stop offset="0.1062" stop-color="#c8c8ff"/><stop offset="0.3393" stop-color="#c1c1ff"/><stop offset="0.3618" stop-color="#afafff"/><stop offset="0.3844" stop-color="#8585ff"/><stop offset="0.4164" stop-color="#2e2eff"/><stop offset="0.4314" stop-color="#0101ff"/><stop offset="0.4615" stop-color="#5000af"/><stop offset="0.4821" stop-color="#74008b"/><stop offset="0.5009" stop-color="#7e0081"/><stop offset="0.5197" stop-color="#73008c"/><stop offset="0.5404" stop-color="#5000af"/><stop offset="0.5705" stop-color="#0100fe"/><stop offset="0.6137" stop-color="#7777ff"/><stop offset="0.6382" stop-color="#a6a6ff"/><stop offset="0.6588" stop-color="#babaff"/><stop offset="0.7265" stop-color="#bebeff"/><stop offset="0.9145" stop-color="#c2c2ff"/><stop offset="0.9991" stop-color="#d8d8ff"/></linearGradient><linearGradient id="g96" x1="700" x2="1232" gradientUnits="userSpaceOnUse"><stop offset="0.0009" stop-color="#ddddff"/><stop offset="0.1043" stop-color="#c7c7ff"/><stop offset="0.3393" stop-color="#bfbfff"/><stop offset="0.3618" stop-color="#adadff"/><stop offset="0.3844" stop-color="#8282ff"/><stop offset="0.4182" stop-color="#2626ff"/><stop offset="0.4314" stop-color="#0200fd"/><stop offset="0.4615" stop-color="#5300ac"/><stop offset="0.4821" stop-color="#760089"/><stop offset="0.5009" stop-color="#80007f"/><stop offset="0.5197" stop-color="#75008a"/><stop offset="0.5404" stop-color="#5200ad"/><stop offset="0.5724" stop-color="#0202ff"/><stop offset="0.6137" stop-color="#7474ff"/><stop offset="0.6382" stop-color="#a4a4ff"/><stop offset="0.6588" stop-color="#b7b7ff"/><stop offset="0.7227" stop-color="#bcbcff"/><stop offset="0.9126" stop-color="#c0c0ff"/><stop offset="0.9991" stop-color="#d7d7ff"/></linearGradient><linearGradient id="g97" x1="700" x2="1232" gradientUnits="userSpaceOnUse"><stop offset="0.0009" stop-color="#dcdcff"/><stop offset="0.1043" stop-color="#c6c6ff"/><stop offset="0.3393" stop-color="#bdbdff"/><stop offset="0.3618" stop-color="#aaaaff"/><stop offset="0.3844" stop-color="#8080ff"/><stop offset="0.4182" stop-color="#2323ff"/><stop offset="0.4295" stop-color="#0101ff"/><stop offset="0.4615" stop-color="#5500aa"/><stop offset="0.4821" stop-color="#780087"/><stop offset="0.5009" stop-color="#82007d"/><stop offset="0.5197" stop-color="#770088"/><stop offset="0.5404" stop-color="#5400ab"/><stop offset="0.5705" stop-color="#0700f8"/><stop offset="0.5724" stop-color="#0100fe"/><stop offset="0.6156" stop-color="#7676ff"/><stop offset="0.6400" stop-color="#a4a4ff"/><stop offset="0.6626" stop-color="#b7b7ff"/><stop offset="0.8261" stop-color="#babaff"/><stop offset="0.9333" stop-color="#c2c2ff"/><stop offset="0.9991" stop-color="#d5d5ff"/></linearGradient><linearGradient id="g98" x1="700" x2="1232" gradientUnits="userSpaceOnUse"><stop offset="0.0009" stop-color="#dcdcff"/><stop offset="0.1024" stop-color="#c4c4ff"/><stop offset="0.3393" stop-color="#bbbbff"/><stop offset="0.3618" stop-color="#a8a8ff"/><stop offset="0.3844" stop-color="#7d7dff"/><stop offset="0.4182" stop-color="#2020ff"/><stop offset="0.4295" stop-color="#0200fd"/><stop offset="0.4596" stop-color="#5300ac"/><stop offset="0.4803" stop-color="#780087"/><stop offset="0.4991" stop-color="#84007b"/><stop offset="0.5179" stop-color="#7b0084"/><stop offset="0.5385" stop-color="#5b00a4"/><stop offset="0.5667" stop-color="#1400eb"/><stop offset="0.5742" stop-color="#0101ff"/><stop offset="0.6156" stop-color="#7373ff"/><stop offset="0.6400" stop-color="#a1a1ff"/><stop offset="0.6626" stop-color="#b4b4ff"/><stop offset="0.7904" stop-color="#b8b8ff"/><stop offset="0.9220" stop-color="#bebeff"/><stop offset="0.9991" stop-color="#d4d4ff"/></linearGradient><linearGradient id="g99" x1="700" x2="1232" gradientUnits="userSpaceOnUse"><stop offset="0.0009" stop-color="#dbdbff"/><stop offset="0.1006" stop-color="#c3c3ff"/><stop offset="0.3374" stop-color="#babaff"/><stop offset="0.3600" stop-color="#a8a8ff"/><stop offset="0.3825" stop-color="#7e7eff"/><stop offset="0.4164" stop-color="#2323ff"/><stop offset="0.4276" stop-color="#0101ff"/><stop offset="0.4596" stop-color="#5600a9"/><stop offset="0.4803" stop-color="#7a0085"/><stop offset="0.4991" stop-color="#860079"/><stop offset="0.5179" stop-color="#7d0082"/><stop offset="0.5385" stop-color="#5d00a2"/><stop offset="0.5667" stop-color="#1700e8"/><stop offset="0.5742" stop-color="#0100fe"/><stop offset="0.6175" stop-color="#7474ff"/><stop offset="0.6400" stop-color="#9f9fff"/><stop offset="0.6626" stop-color="#b2b2ff"/><stop offset="0.7697" stop-color="#b6b6ff"/><stop offset="0.9164" stop-color="#bbbbff"/><stop offset="0.9991" stop-color="#d3d3ff"/></linearGradient><linearGradient id="g100" x1="700" x2="1232" gradientUnits="userSpaceOnUse"><stop offset="0.0009" stop-color="#dadaff"/><stop offset="0.1006" stop-color="#c1c1ff"/><stop offset="0.3374" stop-color="#b8b8ff"/><stop offset="0.3600" stop-color="#a5a5ff"/><stop offset="0.3825" stop-color="#7c7cff"/><stop offset="0.4164" stop-color="#2020ff"/><stop offset="0.4258" stop-color="#0404ff"/><stop offset="0.4276" stop-color="#0200fd"/><stop offset="0.4577" stop-color="#5400ab"/><stop offset="0.4784" stop-color="#7a0085"/><stop offset="0.4972" stop-color="#880077"/><stop offset="0.5160" stop-color="#81007e"/><stop offset="0.5367" stop-color="#63009c"/><stop offset="0.5648" stop-color="#1f00e0"/><stop offset="0.5761" stop-color="#0101ff"/><stop offset="0.6156" stop-color="#6d6dff"/><stop offset="0.6400" stop-color="#9c9cff"/><stop offset="0.6626" stop-color="#b0b0ff"/><stop offset="0.7547" stop-color="#b4b4ff"/><stop offset="0.9126" stop-color="#b8b8ff"/><stop offset="0.9991" stop-color="#d2d2ff"/></linearGradient><linearGradient id="g101" x1="700" x2="1232" gradientUnits="userSpaceOnUse"><stop offset="0.0009" stop-color="#d9d9ff"/><stop offset="0.0987" stop-color="#c0c0ff"/><stop offset="0.3374" stop-color="#b6b6ff"/><stop offset="0.3600" stop-color="#a3a3ff"/><stop offset="0.3825" stop-color="#7979ff"/><stop offset="0.4164" stop-color="#1d1dff"/><stop offset="0.4258" stop-color="#0101ff"/><stop offset="0.4596" stop-color="#5a00a5"/><stop offset="0.4803" stop-color="#7e0081"/><stop offset="0.4991" stop-color="#8a0075"/><stop offset="0.5179" stop-color="#81007e"/><stop offset="0.5385" stop-color="#62009d"/><stop offset="0.5667" stop-color="#1d00e2"/><stop offset="0.5761" stop-color="#0200fd"/><stop offset="0.5836" stop-color="#1414ff"/><stop offset="0.6194" stop-color="#7373ff"/><stop offset="0.6419" stop-color="#9c9cff"/><stop offset="0.6645" stop-color="#afafff"/><stop offset="0.7998" stop-color="#b1b1ff"/><stop offset="0.9201" stop-color="#b8b8ff"/><stop offset="0.9991" stop-color="#d0d0ff"/></linearGradient><linearGradient id="g102" x1="700" x2="1232" gradientUnits="userSpaceOnUse"><stop offset="0.0009" stop-color="#d8d8ff"/><stop offset="0.0987" stop-color="#bebeff"/><stop offset="0.3355" stop-color="#b5b5ff"/><stop offset="0.3581" stop-color="#a3a3ff"/><stop offset="0.3806" stop-color="#7a7aff"/><stop offset="0.4145" stop-color="#1f1fff"/><stop offset="0.4239" stop-color="#0303ff"/><stop offset="0.4258" stop-color="#0200fd"/><stop offset="0.4577" stop-color="#5900a6"/><stop offset="0.4784" stop-color="#7e0081"/><stop offset="0.4972" stop-color="#8c0073"/><stop offset="0.5160" stop-color="#85007a"/><stop offset="0.5367" stop-color="#680097"/><stop offset="0.5648" stop-color="#2500da"/><stop offset="0.5780" stop-color="#0000ff"/><stop offset="0.6175" stop-color="#6b6bff"/><stop offset="0.6419" stop-color="#9a9aff"/><stop offset="0.6645" stop-color="#acacff"/><stop offset="0.7735" stop-color="#b0b0ff"/><stop offset="0.9145" stop-color="#b5b5ff"/><stop offset="0.9991" stop-color="#cfcfff"/></linearGradient><linearGradient id="g103" x1="700" x2="1232" gradientUnits="userSpaceOnUse"><stop offset="0.0009" stop-color="#d7d7ff"/><stop offset="0.0968" stop-color="#bdbdff"/><stop offset="0.3355" stop-color="#b2b2ff"/><stop offset="0.3581" stop-color="#a0a0ff"/><stop offset="0.3806" stop-color="#7777ff"/><stop offset="0.4145" stop-color="#1c1cff"/><stop offset="0.4239" stop-color="#0000ff"/><stop offset="0.4558" stop-color="#5700a8"/><stop offset="0.4784" stop-color="#80007f"/><stop offset="0.4972" stop-color="#8e0071"/><stop offset="0.5179" stop-color="#860079"/><stop offset="0.5404" stop-color="#63009c"/><stop offset="0.5705" stop-color="#1800e7"/><stop offset="0.5780" stop-color="#0300fc"/><stop offset="0.5818" stop-color="#0808ff"/><stop offset="0.6194" stop-color="#6d6dff"/><stop offset="0.6419" stop-color="#9797ff"/><stop offset="0.6645" stop-color="#aaaaff"/><stop offset="0.7547" stop-color="#aeaeff"/><stop offset="0.9088" stop-color="#b2b2ff"/><stop offset="0.9953" stop-color="#cdcdff"/><stop offset="0.9991" stop-color="#ceceff"/></linearGradient><linearGradient id="g104" x1="700" x2="1232" gradientUnits="userSpaceOnUse"><stop offset="0.0009" stop-color="#d6d6ff"/><stop offset="0.0949" stop-color="#bcbcff"/><stop offset="0.3355" stop-color="#b0b0ff"/><stop offset="0.3581" stop-color="#9e9eff"/><stop offset="0.3806" stop-color="#7474ff"/><stop offset="0.4164" stop-color="#1313ff"/><stop offset="0.4220" stop-color="#0202ff"/><stop offset="0.4258" stop-color="#0900f6"/><stop offset="0.4577" stop-color="#5e00a1"/><stop offset="0.4784" stop-color="#83007c"/><stop offset="0.4972" stop-color="#91006e"/><stop offset="0.5179" stop-color="#880077"/><stop offset="0.5404" stop-color="#660099"/><stop offset="0.5705" stop-color="#1b00e4"/><stop offset="0.5799" stop-color="#0100fe"/><stop offset="0.6194" stop-color="#6969ff"/><stop offset="0.6419" stop-color="#9494ff"/><stop offset="0.6645" stop-color="#a8a8ff"/><stop offset="0.7415" stop-color="#acacff"/><stop offset="0.9070" stop-color="#b0b0ff"/><stop offset="0.9915" stop-color="#cacaff"/><stop offset="0.9991" stop-color="#cdcdff"/></linearGradient><linearGradient id="g105" x1="700" x2="1232" gradientUnits="userSpaceOnUse"><stop offset="0.0009" stop-color="#d5d5ff"/><stop offset="0.0949" stop-color="#babaff"/><stop offset="0.3336" stop-color="#afafff"/><stop offset="0.3562" stop-color="#9e9eff"/><stop offset="0.3788" stop-color="#7575ff"/><stop offset="0.4126" stop-color="#1b1bff"/><stop offset="0.4220" stop-color="#0100fe"/><stop offset="0.4558" stop-color="#5d00a2"/><stop offset="0.4784" stop-color="#860079"/><stop offset="0.4972" stop-color="#93006c"/><stop offset="0.5179" stop-color="#8b0074"/><stop offset="0.5404" stop-color="#690096"/><stop offset="0.5705" stop-color="#1f00e0"/><stop offset="0.5818" stop-color="#0101ff"/><stop offset="0.6194" stop-color="#6666ff"/><stop offset="0.6438" stop-color="#9494ff"/><stop offset="0.6664" stop-color="#a6a6ff"/><stop offset="0.7641" stop-color="#aaaaff"/><stop offset="0.9088" stop-color="#afafff"/><stop offset="0.9915" stop-color="#c9c9ff"/><stop offset="0.9991" stop-color="#ccccff"/></linearGradient><linearGradient id="g106" x1="700" x2="1232" gradientUnits="userSpaceOnUse"><stop offset="0.0009" stop-color="#d4d4ff"/><stop offset="0.0930" stop-color="#b8b8ff"/><stop offset="0.3336" stop-color="#adadff"/><stop offset="0.3562" stop-color="#9b9bff"/><stop offset="0.3788" stop-color="#7272ff"/><stop offset="0.4126" stop-color="#1717ff"/><stop offset="0.4201" stop-color="#0101ff"/><stop offset="0.4558" stop-color="#60009f"/><stop offset="0.4784" stop-color="#890076"/><stop offset="0.4972" stop-color="#960069"/><stop offset="0.5179" stop-color="#8e0071"/><stop offset="0.5404" stop-color="#6c0093"/><stop offset="0.5705" stop-color="#2200dd"/><stop offset="0.5818" stop-color="#0200fd"/><stop offset="0.5855" stop-color="#0808ff"/><stop offset="0.6212" stop-color="#6767ff"/><stop offset="0.6438" stop-color="#9191ff"/><stop offset="0.6664" stop-color="#a4a4ff"/><stop offset="0.7472" stop-color="#a8a8ff"/><stop offset="0.9070" stop-color="#adadff"/><stop offset="0.9878" stop-color="#c6c6ff"/><stop offset="0.9991" stop-color="#cbcbff"/></linearGradient><linearGradient id="g107" x1="700" x2="1232" gradientUnits="userSpaceOnUse"><stop offset="0.0009" stop-color="#d2d2ff"/><stop offset="0.0930" stop-color="#b7b7ff"/><stop offset="0.3318" stop-color="#ababff"/><stop offset="0.3543" stop-color="#9a9aff"/><stop offset="0.3769" stop-color="#7272ff"/><stop offset="0.4107" stop-color="#1919ff"/><stop offset="0.4182" stop-color="#0303ff"/><stop offset="0.4220" stop-color="#0800f7"/><stop offset="0.4558" stop-color="#63009c"/><stop offset="0.4784" stop-color="#8c0073"/><stop offset="0.4972" stop-color="#990066"/><stop offset="0.5179" stop-color="#91006e"/><stop offset="0.5404" stop-color="#6f0090"/><stop offset="0.5705" stop-color="#2600d9"/><stop offset="0.5836" stop-color="#0100fe"/><stop offset="0.6231" stop-color="#6868ff"/><stop offset="0.6457" stop-color="#9090ff"/><stop offset="0.6682" stop-color="#a3a3ff"/><stop offset="0.7697" stop-color="#a6a6ff"/><stop offset="0.9088" stop-color="#ababff"/><stop offset="0.9897" stop-color="#c5c5ff"/><stop offset="0.9991" stop-color="#cacaff"/></linearGradient><linearGradient id="g108" x1="700" x2="1232" gradientUnits="userSpaceOnUse"><stop offset="0.0009" stop-color="#d1d1ff"/><stop offset="0.0912" stop-color="#b5b5ff"/><stop offset="0.2641" stop-color="#aeaeff"/><stop offset="0.3336" stop-color="#a8a8ff"/><stop offset="0.3562" stop-color="#9595ff"/><stop offset="0.3788" stop-color="#6b6bff"/><stop offset="0.4145" stop-color="#0a0aff"/><stop offset="0.4182" stop-color="#0100fe"/><stop offset="0.4539" stop-color="#63009c"/><stop offset="0.4765" stop-color="#8c0073"/><stop offset="0.4972" stop-color="#9c0063"/><stop offset="0.5179" stop-color="#94006b"/><stop offset="0.5404" stop-color="#72008d"/><stop offset="0.5705" stop-color="#2900d6"/><stop offset="0.5855" stop-color="#0101ff"/><stop offset="0.6231" stop-color="#6464ff"/><stop offset="0.6457" stop-color="#8e8eff"/><stop offset="0.6682" stop-color="#a0a0ff"/><stop offset="0.7509" stop-color="#a5a5ff"/><stop offset="0.9051" stop-color="#a9a9ff"/><stop offset="0.9840" stop-color="#c2c2ff"/><stop offset="0.9991" stop-color="#c9c9ff"/></linearGradient><linearGradient id="g109" x1="700" x2="1232" gradientUnits="userSpaceOnUse"><stop offset="0.0009" stop-color="#d0d0ff"/><stop offset="0.0912" stop-color="#b3b3ff"/><stop offset="0.2547" stop-color="#acacff"/><stop offset="0.3318" stop-color="#a7a7ff"/><stop offset="0.3543" stop-color="#9595ff"/><stop offset="0.3769" stop-color="#6b6bff"/><stop offset="0.4107" stop-color="#1111ff"/><stop offset="0.4164" stop-color="#0101ff"/><stop offset="0.4539" stop-color="#660099"/><stop offset="0.4765" stop-color="#8f0070"/><stop offset="0.4972" stop-color="#9f0060"/><stop offset="0.5179" stop-color="#970068"/><stop offset="0.5404" stop-color="#760089"/><stop offset="0.5705" stop-color="#2d00d2"/><stop offset="0.5855" stop-color="#0300fc"/><stop offset="0.5874" stop-color="#0202ff"/><stop offset="0.6250" stop-color="#6565ff"/><stop offset="0.6476" stop-color="#8d8dff"/><stop offset="0.6701" stop-color="#9f9fff"/><stop offset="0.7716" stop-color="#a2a2ff"/><stop offset="0.9088" stop-color="#a8a8ff"/><stop offset="0.9878" stop-color="#c2c2ff"/><stop offset="0.9991" stop-color="#c7c7ff"/></linearGradient><linearGradient id="g110" x1="700" x2="1232" gradientUnits="userSpaceOnUse"><stop offset="0.0009" stop-color="#cfcfff"/><stop offset="0.0893" stop-color="#b2b2ff"/><stop offset="0.2340" stop-color="#aaaaff"/><stop offset="0.3299" stop-color="#a5a5ff"/><stop offset="0.3524" stop-color="#9494ff"/><stop offset="0.3750" stop-color="#6c6cff"/><stop offset="0.4088" stop-color="#1313ff"/><stop offset="0.4145" stop-color="#0202ff"/><stop offset="0.4201" stop-color="#0e00f1"/><stop offset="0.4539" stop-color="#6a0095"/><stop offset="0.4765" stop-color="#93006c"/><stop offset="0.4972" stop-color="#a2005d"/><stop offset="0.5179" stop-color="#9a0065"/><stop offset="0.5404" stop-color="#790086"/><stop offset="0.5705" stop-color="#3100ce"/><stop offset="0.5874" stop-color="#0200fd"/><stop offset="0.6269" stop-color="#6565ff"/><stop offset="0.6494" stop-color="#8c8cff"/><stop offset="0.6739" stop-color="#9e9eff"/><stop offset="0.9051" stop-color="#a5a5ff"/><stop offset="0.9821" stop-color="#bebeff"/><stop offset="0.9991" stop-color="#c6c6ff"/></linearGradient><linearGradient id="g111" x1="700" x2="1232" gradientUnits="userSpaceOnUse"><stop offset="0.0009" stop-color="#ceceff"/><stop offset="0.0893" stop-color="#b0b0ff"/><stop offset="0.2284" stop-color="#a8a8ff"/><stop offset="0.3299" stop-color="#a3a3ff"/><stop offset="0.3524" stop-color="#9191ff"/><stop offset="0.3750" stop-color="#6868ff"/><stop offset="0.4088" stop-color="#0e0eff"/><stop offset="0.4145" stop-color="#0200fd"/><stop offset="0.4521" stop-color="#690096"/><stop offset="0.4746" stop-color="#93006c"/><stop offset="0.4953" stop-color="#a5005a"/><stop offset="0.5160" stop-color="#9f0060"/><stop offset="0.5385" stop-color="#80007f"/><stop offset="0.5667" stop-color="#3f00c0"/><stop offset="0.5893" stop-color="#0000ff"/><stop offset="0.6269" stop-color="#6161ff"/><stop offset="0.6494" stop-color="#8989ff"/><stop offset="0.6739" stop-color="#9c9cff"/><stop offset="0.9051" stop-color="#a4a4ff"/><stop offset="0.9821" stop-color="#bdbdff"/><stop offset="0.9991" stop-color="#c5c5ff"/></linearGradient><linearGradient id="g112" x1="700" x2="1232" gradientUnits="userSpaceOnUse"><stop offset="0.0009" stop-color="#cdcdff"/><stop offset="0.0874" stop-color="#aeaeff"/><stop offset="0.2152" stop-color="#a7a7ff"/><stop offset="0.3280" stop-color="#a1a1ff"/><stop offset="0.3506" stop-color="#9090ff"/><stop offset="0.3731" stop-color="#6969ff"/><stop offset="0.4070" stop-color="#1010ff"/><stop offset="0.4126" stop-color="#0100fe"/><stop offset="0.4502" stop-color="#680097"/><stop offset="0.4727" stop-color="#94006b"/><stop offset="0.4934" stop-color="#a70058"/><stop offset="0.5141" stop-color="#a4005b"/><stop offset="0.5367" stop-color="#870078"/><stop offset="0.5630" stop-color="#4d00b2"/><stop offset="0.5912" stop-color="#0101ff"/><stop offset="0.6269" stop-color="#5e5eff"/><stop offset="0.6494" stop-color="#8686ff"/><stop offset="0.6720" stop-color="#9999ff"/><stop offset="0.7509" stop-color="#9d9dff"/><stop offset="0.9032" stop-color="#a2a2ff"/><stop offset="0.9784" stop-color="#babaff"/><stop offset="0.9991" stop-color="#c4c4ff"/></linearGradient><linearGradient id="g113" x1="700" x2="1232" gradientUnits="userSpaceOnUse"><stop offset="0.0009" stop-color="#cbcbff"/><stop offset="0.0874" stop-color="#acacff"/><stop offset="0.2115" stop-color="#a4a4ff"/><stop offset="0.3261" stop-color="#9f9fff"/><stop offset="0.3506" stop-color="#8d8dff"/><stop offset="0.3731" stop-color="#6565ff"/><stop offset="0.4070" stop-color="#0c0cff"/><stop offset="0.4107" stop-color="#0101ff"/><stop offset="0.4502" stop-color="#6c0093"/><stop offset="0.4727" stop-color="#980067"/><stop offset="0.4934" stop-color="#ab0054"/><stop offset="0.5141" stop-color="#a70058"/><stop offset="0.5367" stop-color="#8b0074"/><stop offset="0.5630" stop-color="#5100ae"/><stop offset="0.5912" stop-color="#0300fc"/><stop offset="0.5930" stop-color="#0202ff"/><stop offset="0.6288" stop-color="#5e5eff"/><stop offset="0.6513" stop-color="#8585ff"/><stop offset="0.6758" stop-color="#9898ff"/><stop offset="0.8393" stop-color="#9b9bff"/><stop offset="0.9276" stop-color="#a5a5ff"/><stop offset="0.9991" stop-color="#c3c3ff"/></linearGradient><linearGradient id="g114" x1="700" x2="1232" gradientUnits="userSpaceOnUse"><stop offset="0.0009" stop-color="#cacaff"/><stop offset="0.0855" stop-color="#ababff"/><stop offset="0.2002" stop-color="#a2a2ff"/><stop offset="0.3261" stop-color="#9d9dff"/><stop offset="0.3506" stop-color="#8a8aff"/><stop offset="0.3731" stop-color="#6161ff"/><stop offset="0.4088" stop-color="#0202ff"/><stop offset="0.4164" stop-color="#1400eb"/><stop offset="0.4521" stop-color="#74008b"/><stop offset="0.4746" stop-color="#9d0062"/><stop offset="0.4953" stop-color="#ae0051"/><stop offset="0.5160" stop-color="#a90056"/><stop offset="0.5385" stop-color="#8b0074"/><stop offset="0.5667" stop-color="#4b00b4"/><stop offset="0.5930" stop-color="#0200fd"/><stop offset="0.5968" stop-color="#0808ff"/><stop offset="0.6306" stop-color="#5e5eff"/><stop offset="0.6532" stop-color="#8585ff"/><stop offset="0.6776" stop-color="#9696ff"/><stop offset="0.9032" stop-color="#9e9eff"/><stop offset="0.9765" stop-color="#b6b6ff"/><stop offset="0.9991" stop-color="#c2c2ff"/></linearGradient><linearGradient id="g115" x1="700" x2="1232" gradientUnits="userSpaceOnUse"><stop offset="0.0009" stop-color="#c9c9ff"/><stop offset="0.0855" stop-color="#a9a9ff"/><stop offset="0.1964" stop-color="#a0a0ff"/><stop offset="0.3242" stop-color="#9b9bff"/><stop offset="0.3487" stop-color="#8989ff"/><stop offset="0.3712" stop-color="#6161ff"/><stop offset="0.4051" stop-color="#0909ff"/><stop offset="0.4088" stop-color="#0200fd"/><stop offset="0.4483" stop-color="#6f0090"/><stop offset="0.4727" stop-color="#9e0061"/><stop offset="0.4934" stop-color="#b1004e"/><stop offset="0.5141" stop-color="#ad0052"/><stop offset="0.5367" stop-color="#92006d"/><stop offset="0.5630" stop-color="#5900a6"/><stop offset="0.5949" stop-color="#0100fe"/><stop offset="0.6325" stop-color="#5e5eff"/><stop offset="0.6551" stop-color="#8484ff"/><stop offset="0.6795" stop-color="#9494ff"/><stop offset="0.9032" stop-color="#9c9cff"/><stop offset="0.9765" stop-color="#b5b5ff"/><stop offset="0.9991" stop-color="#c1c1ff"/></linearGradient><linearGradient id="g116" x1="700" x2="1232" gradientUnits="userSpaceOnUse"><stop offset="0.0009" stop-color="#c7c7ff"/><stop offset="0.0855" stop-color="#a7a7ff"/><stop offset="0.1945" stop-color="#9e9eff"/><stop offset="0.3224" stop-color="#9999ff"/><stop offset="0.3468" stop-color="#8888ff"/><stop offset="0.3694" stop-color="#6161ff"/><stop offset="0.4013" stop-color="#0f0fff"/><stop offset="0.4070" stop-color="#0100fe"/><stop offset="0.4483" stop-color="#73008c"/><stop offset="0.4727" stop-color="#a2005d"/><stop offset="0.4934" stop-color="#b4004b"/><stop offset="0.5141" stop-color="#b0004f"/><stop offset="0.5367" stop-color="#95006a"/><stop offset="0.5630" stop-color="#5c00a3"/><stop offset="0.5968" stop-color="#0000ff"/><stop offset="0.6325" stop-color="#5a5aff"/><stop offset="0.6551" stop-color="#8080ff"/><stop offset="0.6795" stop-color="#9292ff"/><stop offset="0.9032" stop-color="#9a9aff"/><stop offset="0.9746" stop-color="#b3b3ff"/><stop offset="0.9991" stop-color="#c0c0ff"/></linearGradient><linearGradient id="g117" x1="700" x2="1232" gradientUnits="userSpaceOnUse"><stop offset="0.0009" stop-color="#c6c6ff"/><stop offset="0.0836" stop-color="#a5a5ff"/><stop offset="0.1852" stop-color="#9c9cff"/><stop offset="0.3224" stop-color="#9696ff"/><stop offset="0.3468" stop-color="#8484ff"/><stop offset="0.3694" stop-color="#5d5dff"/><stop offset="0.4032" stop-color="#0505ff"/><stop offset="0.4051" stop-color="#0000ff"/><stop offset="0.4464" stop-color="#72008d"/><stop offset="0.4709" stop-color="#a2005d"/><stop offset="0.4915" stop-color="#b60049"/><stop offset="0.5122" stop-color="#b5004a"/><stop offset="0.5348" stop-color="#9b0064"/><stop offset="0.5611" stop-color="#65009a"/><stop offset="0.5987" stop-color="#0101ff"/><stop offset="0.6325" stop-color="#5656ff"/><stop offset="0.6551" stop-color="#7d7dff"/><stop offset="0.6795" stop-color="#8f8fff"/><stop offset="0.7885" stop-color="#9393ff"/><stop offset="0.9070" stop-color="#9999ff"/><stop offset="0.9784" stop-color="#b3b3ff"/><stop offset="0.9991" stop-color="#bebeff"/></linearGradient><linearGradient id="g118" x1="700" x2="1232" gradientUnits="userSpaceOnUse"><stop offset="0.0009" stop-color="#c5c5ff"/><stop offset="0.0836" stop-color="#a3a3ff"/><stop offset="0.1833" stop-color="#9999ff"/><stop offset="0.3205" stop-color="#9494ff"/><stop offset="0.3449" stop-color="#8383ff"/><stop offset="0.3675" stop-color="#5d5dff"/><stop offset="0.3994" stop-color="#0c0cff"/><stop offset="0.4032" stop-color="#0101ff"/><stop offset="0.4483" stop-color="#7a0085"/><stop offset="0.4727" stop-color="#a80057"/><stop offset="0.4934" stop-color="#ba0045"/><stop offset="0.5141" stop-color="#b60049"/><stop offset="0.5367" stop-color="#9c0063"/><stop offset="0.5648" stop-color="#5f00a0"/><stop offset="0.6006" stop-color="#0101ff"/><stop offset="0.6344" stop-color="#5656ff"/><stop offset="0.6570" stop-color="#7c7cff"/><stop offset="0.6814" stop-color="#8d8dff"/><stop offset="0.8092" stop-color="#9191ff"/><stop offset="0.9126" stop-color="#9999ff"/><stop offset="0.9859" stop-color="#b6b6ff"/><stop offset="0.9991" stop-color="#bdbdff"/></linearGradient><linearGradient id="g119" x1="700" x2="1232" gradientUnits="userSpaceOnUse"><stop offset="0.0009" stop-color="#c3c3ff"/><stop offset="0.0818" stop-color="#a1a1ff"/><stop offset="0.1758" stop-color="#9797ff"/><stop offset="0.3186" stop-color="#9292ff"/><stop offset="0.3430" stop-color="#8282ff"/><stop offset="0.3656" stop-color="#5d5dff"/><stop offset="0.3976" stop-color="#0d0dff"/><stop offset="0.4013" stop-color="#0202ff"/><stop offset="0.4088" stop-color="#1300ec"/><stop offset="0.4483" stop-color="#7d0082"/><stop offset="0.4727" stop-color="#ab0054"/><stop offset="0.4934" stop-color="#bd0042"/><stop offset="0.5141" stop-color="#b90046"/><stop offset="0.5367" stop-color="#9f0060"/><stop offset="0.5648" stop-color="#63009c"/><stop offset="0.6006" stop-color="#0300fc"/><stop offset="0.6043" stop-color="#0707ff"/><stop offset="0.6363" stop-color="#5656ff"/><stop offset="0.6588" stop-color="#7b7bff"/><stop offset="0.6852" stop-color="#8c8cff"/><stop offset="0.9013" stop-color="#9494ff"/><stop offset="0.9709" stop-color="#adadff"/><stop offset="0.9991" stop-color="#bcbcff"/></linearGradient><linearGradient id="g120" x1="700" x2="1232" gradientUnits="userSpaceOnUse"><stop offset="0.0009" stop-color="#c2c2ff"/><stop offset="0.0818" stop-color="#9f9fff"/><stop offset="0.1739" stop-color="#9595ff"/><stop offset="0.3186" stop-color="#8f8fff"/><stop offset="0.3430" stop-color="#7e7eff"/><stop offset="0.3656" stop-color="#5959ff"/><stop offset="0.3994" stop-color="#0303ff"/><stop offset="0.4032" stop-color="#0800f7"/><stop offset="0.4464" stop-color="#7c0083"/><stop offset="0.4709" stop-color="#ab0054"/><stop offset="0.4915" stop-color="#bf0040"/><stop offset="0.5122" stop-color="#bd0042"/><stop offset="0.5348" stop-color="#a5005a"/><stop offset="0.5611" stop-color="#70008f"/><stop offset="0.6024" stop-color="#0200fd"/><stop offset="0.6081" stop-color="#0d0dff"/><stop offset="0.6400" stop-color="#5959ff"/><stop offset="0.6626" stop-color="#7b7bff"/><stop offset="0.6889" stop-color="#8a8aff"/><stop offset="0.8994" stop-color="#9292ff"/><stop offset="0.9671" stop-color="#a9a9ff"/><stop offset="0.9991" stop-color="#bbbbff"/></linearGradient><linearGradient id="g121" x1="700" x2="1232" gradientUnits="userSpaceOnUse"><stop offset="0.0009" stop-color="#c0c0ff"/><stop offset="0.0799" stop-color="#9d9dff"/><stop offset="0.1682" stop-color="#9292ff"/><stop offset="0.3167" stop-color="#8d8dff"/><stop offset="0.3412" stop-color="#7d7dff"/><stop offset="0.3637" stop-color="#5858ff"/><stop offset="0.3957" stop-color="#0909ff"/><stop offset="0.3994" stop-color="#0100fe"/><stop offset="0.4445" stop-color="#7b0084"/><stop offset="0.4690" stop-color="#ab0054"/><stop offset="0.4915" stop-color="#c1003e"/><stop offset="0.5122" stop-color="#bf0040"/><stop offset="0.5348" stop-color="#a70058"/><stop offset="0.5611" stop-color="#73008c"/><stop offset="0.6043" stop-color="#0100fe"/><stop offset="0.6400" stop-color="#5555ff"/><stop offset="0.6626" stop-color="#7878ff"/><stop offset="0.6889" stop-color="#8888ff"/><stop offset="0.8994" stop-color="#9090ff"/><stop offset="0.9671" stop-color="#a8a8ff"/><stop offset="0.9991" stop-color="#b9b9ff"/></linearGradient><linearGradient id="g122" x1="700" x2="1232" gradientUnits="userSpaceOnUse"><stop offset="0.0009" stop-color="#bfbfff"/><stop offset="0.0799" stop-color="#9a9aff"/><stop offset="0.1664" stop-color="#9090ff"/><stop offset="0.3167" stop-color="#8a8aff"/><stop offset="0.3412" stop-color="#7979ff"/><stop offset="0.3637" stop-color="#5454ff"/><stop offset="0.3976" stop-color="#0000ff"/><stop offset="0.4445" stop-color="#7f0080"/><stop offset="0.4690" stop-color="#ae0051"/><stop offset="0.4915" stop-color="#c3003c"/><stop offset="0.5141" stop-color="#c0003f"/><stop offset="0.5367" stop-color="#a70058"/><stop offset="0.5648" stop-color="#6e0091"/><stop offset="0.6062" stop-color="#0000ff"/><stop offset="0.6400" stop-color="#5151ff"/><stop offset="0.6645" stop-color="#7676ff"/><stop offset="0.6927" stop-color="#8686ff"/><stop offset="0.8994" stop-color="#8e8eff"/><stop offset="0.9671" stop-color="#a6a6ff"/><stop offset="0.9991" stop-color="#b8b8ff"/></linearGradient><linearGradient id="g123" x1="700" x2="1232" gradientUnits="userSpaceOnUse"><stop offset="0.0009" stop-color="#bdbdff"/><stop offset="0.0780" stop-color="#9999ff"/><stop offset="0.1607" stop-color="#8d8dff"/><stop offset="0.3148" stop-color="#8888ff"/><stop offset="0.3412" stop-color="#7575ff"/><stop offset="0.3656" stop-color="#4c4cff"/><stop offset="0.3957" stop-color="#0101ff"/><stop offset="0.4445" stop-color="#82007d"/><stop offset="0.4690" stop-color="#b0004f"/><stop offset="0.4915" stop-color="#c5003a"/><stop offset="0.5141" stop-color="#c2003d"/><stop offset="0.5367" stop-color="#a90056"/><stop offset="0.5648" stop-color="#71008e"/><stop offset="0.6081" stop-color="#0000ff"/><stop offset="0.6419" stop-color="#5050ff"/><stop offset="0.6664" stop-color="#7575ff"/><stop offset="0.6945" stop-color="#8484ff"/><stop offset="0.8976" stop-color="#8b8bff"/><stop offset="0.9633" stop-color="#a2a2ff"/><stop offset="0.9991" stop-color="#b7b7ff"/></linearGradient><linearGradient id="g124" x1="700" x2="1232" gradientUnits="userSpaceOnUse"><stop offset="0.0009" stop-color="#bcbcff"/><stop offset="0.0780" stop-color="#9696ff"/><stop offset="0.1588" stop-color="#8a8aff"/><stop offset="0.3130" stop-color="#8585ff"/><stop offset="0.3393" stop-color="#7474ff"/><stop offset="0.3637" stop-color="#4c4cff"/><stop offset="0.3938" stop-color="#0202ff"/><stop offset="0.4145" stop-color="#3700c8"/><stop offset="0.4502" stop-color="#91006e"/><stop offset="0.4746" stop-color="#b90046"/><stop offset="0.4972" stop-color="#c80037"/><stop offset="0.5197" stop-color="#c0003f"/><stop offset="0.5442" stop-color="#9f0060"/><stop offset="0.5742" stop-color="#5d00a2"/><stop offset="0.6100" stop-color="#0101ff"/><stop offset="0.6419" stop-color="#4c4cff"/><stop offset="0.6664" stop-color="#7171ff"/><stop offset="0.6945" stop-color="#8181ff"/><stop offset="0.8976" stop-color="#8989ff"/><stop offset="0.9633" stop-color="#a0a0ff"/><stop offset="0.9991" stop-color="#b5b5ff"/></linearGradient><linearGradient id="g125" x1="700" x2="1232" gradientUnits="userSpaceOnUse"><stop offset="0.0009" stop-color="#babaff"/><stop offset="0.0780" stop-color="#9494ff"/><stop offset="0.1588" stop-color="#8888ff"/><stop offset="0.3130" stop-color="#8282ff"/><stop offset="0.3393" stop-color="#7070ff"/><stop offset="0.3637" stop-color="#4747ff"/><stop offset="0.3919" stop-color="#0303ff"/><stop offset="0.3957" stop-color="#0800f7"/><stop offset="0.4427" stop-color="#83007c"/><stop offset="0.4690" stop-color="#b4004b"/><stop offset="0.4915" stop-color="#c80037"/><stop offset="0.5141" stop-color="#c60039"/><stop offset="0.5385" stop-color="#ab0054"/><stop offset="0.5667" stop-color="#72008d"/><stop offset="0.6100" stop-color="#0300fc"/><stop offset="0.6137" stop-color="#0707ff"/><stop offset="0.6457" stop-color="#4f4fff"/><stop offset="0.6701" stop-color="#7171ff"/><stop offset="0.7002" stop-color="#7f7fff"/><stop offset="0.8957" stop-color="#8686ff"/><stop offset="0.9615" stop-color="#9d9dff"/><stop offset="0.9991" stop-color="#b4b4ff"/></linearGradient><linearGradient id="g126" x1="700" x2="1232" gradientUnits="userSpaceOnUse"><stop offset="0.0009" stop-color="#b8b8ff"/><stop offset="0.0761" stop-color="#9191ff"/><stop offset="0.1532" stop-color="#8585ff"/><stop offset="0.3111" stop-color="#7f7fff"/><stop offset="0.3374" stop-color="#6e6eff"/><stop offset="0.3618" stop-color="#4747ff"/><stop offset="0.3919" stop-color="#0100fe"/><stop offset="0.4427" stop-color="#85007a"/><stop offset="0.4690" stop-color="#b5004a"/><stop offset="0.4915" stop-color="#ca0035"/><stop offset="0.5141" stop-color="#c70038"/><stop offset="0.5385" stop-color="#ad0052"/><stop offset="0.5667" stop-color="#75008a"/><stop offset="0.6118" stop-color="#0200fd"/><stop offset="0.6175" stop-color="#0c0cff"/><stop offset="0.6476" stop-color="#4e4eff"/><stop offset="0.6720" stop-color="#6f6fff"/><stop offset="0.7039" stop-color="#7d7dff"/><stop offset="0.8957" stop-color="#8484ff"/><stop offset="0.9596" stop-color="#9a9aff"/><stop offset="0.9991" stop-color="#b2b2ff"/></linearGradient><linearGradient id="g127" x1="700" x2="1232" gradientUnits="userSpaceOnUse"><stop offset="0.0009" stop-color="#b6b6ff"/><stop offset="0.0761" stop-color="#8f8fff"/><stop offset="0.1513" stop-color="#8282ff"/><stop offset="0.3111" stop-color="#7c7cff"/><stop offset="0.3374" stop-color="#6a6aff"/><stop offset="0.3618" stop-color="#4343ff"/><stop offset="0.3900" stop-color="#0100fe"/><stop offset="0.4408" stop-color="#84007b"/><stop offset="0.4671" stop-color="#b5004a"/><stop offset="0.4897" stop-color="#ca0035"/><stop offset="0.5122" stop-color="#ca0035"/><stop offset="0.5367" stop-color="#b1004e"/><stop offset="0.5648" stop-color="#7c0083"/><stop offset="0.6137" stop-color="#0100fe"/><stop offset="0.6494" stop-color="#4d4dff"/><stop offset="0.6739" stop-color="#6d6dff"/><stop offset="0.7058" stop-color="#7a7aff"/><stop offset="0.8957" stop-color="#8181ff"/><stop offset="0.9596" stop-color="#9898ff"/><stop offset="0.9991" stop-color="#b1b1ff"/></linearGradient><linearGradient id="g128" x1="700" x2="1232" gradientUnits="userSpaceOnUse"><stop offset="0.0009" stop-color="#b5b5ff"/><stop offset="0.0742" stop-color="#8c8cff"/><stop offset="0.1476" stop-color="#7f7fff"/><stop offset="0.3092" stop-color="#7979ff"/><stop offset="0.3355" stop-color="#6868ff"/><stop offset="0.3600" stop-color="#4242ff"/><stop offset="0.3882" stop-color="#0000ff"/><stop offset="0.4408" stop-color="#860079"/><stop offset="0.4671" stop-color="#b60049"/><stop offset="0.4897" stop-color="#cb0034"/><stop offset="0.5122" stop-color="#cb0034"/><stop offset="0.5367" stop-color="#b3004c"/><stop offset="0.5648" stop-color="#7f0080"/><stop offset="0.6156" stop-color="#0100fe"/><stop offset="0.6494" stop-color="#4949ff"/><stop offset="0.6739" stop-color="#6969ff"/><stop offset="0.7058" stop-color="#7777ff"/><stop offset="0.8957" stop-color="#7f7fff"/><stop offset="0.9596" stop-color="#9696ff"/><stop offset="0.9991" stop-color="#afafff"/></linearGradient><linearGradient id="g129" x1="700" x2="1232" gradientUnits="userSpaceOnUse"><stop offset="0.0009" stop-color="#b3b3ff"/><stop offset="0.0742" stop-color="#8a8aff"/><stop offset="0.1457" stop-color="#7c7cff"/><stop offset="0.3073" stop-color="#7676ff"/><stop offset="0.3355" stop-color="#6464ff"/><stop offset="0.3600" stop-color="#3d3dff"/><stop offset="0.3863" stop-color="#0101ff"/><stop offset="0.4408" stop-color="#890076"/><stop offset="0.4671" stop-color="#b80047"/><stop offset="0.4897" stop-color="#cd0032"/><stop offset="0.5122" stop-color="#cc0033"/><stop offset="0.5367" stop-color="#b5004a"/><stop offset="0.5648" stop-color="#82007d"/><stop offset="0.6175" stop-color="#0100fe"/><stop offset="0.6513" stop-color="#4848ff"/><stop offset="0.6758" stop-color="#6767ff"/><stop offset="0.7077" stop-color="#7575ff"/><stop offset="0.8938" stop-color="#7c7cff"/><stop offset="0.9558" stop-color="#9292ff"/><stop offset="0.9991" stop-color="#adadff"/></linearGradient><linearGradient id="g130" x1="700" x2="1232" gradientUnits="userSpaceOnUse"><stop offset="0.0009" stop-color="#b1b1ff"/><stop offset="0.0742" stop-color="#8686ff"/><stop offset="0.1438" stop-color="#7878ff"/><stop offset="0.3073" stop-color="#7272ff"/><stop offset="0.3355" stop-color="#5f5fff"/><stop offset="0.3600" stop-color="#3939ff"/><stop offset="0.3844" stop-color="#0101ff"/><stop offset="0.4408" stop-color="#8b0074"/><stop offset="0.4671" stop-color="#ba0045"/><stop offset="0.4915" stop-color="#cf0030"/><stop offset="0.5141" stop-color="#cd0032"/><stop offset="0.5385" stop-color="#b4004b"/><stop offset="0.5686" stop-color="#7c0083"/><stop offset="0.6194" stop-color="#0000ff"/><stop offset="0.6513" stop-color="#4343ff"/><stop offset="0.6758" stop-color="#6363ff"/><stop offset="0.7077" stop-color="#7171ff"/><stop offset="0.8938" stop-color="#7979ff"/><stop offset="0.9558" stop-color="#9090ff"/><stop offset="0.9991" stop-color="#acacff"/></linearGradient><linearGradient id="g131" x1="700" x2="1232" gradientUnits="userSpaceOnUse"><stop offset="0.0009" stop-color="#afafff"/><stop offset="0.0724" stop-color="#8484ff"/><stop offset="0.1400" stop-color="#7575ff"/><stop offset="0.3055" stop-color="#6f6fff"/><stop offset="0.3336" stop-color="#5d5dff"/><stop offset="0.3581" stop-color="#3838ff"/><stop offset="0.3825" stop-color="#0101ff"/><stop offset="0.4408" stop-color="#8e0071"/><stop offset="0.4671" stop-color="#bc0043"/><stop offset="0.4915" stop-color="#d0002f"/><stop offset="0.5160" stop-color="#cd0032"/><stop offset="0.5404" stop-color="#b3004c"/><stop offset="0.5705" stop-color="#7b0084"/><stop offset="0.6212" stop-color="#0000ff"/><stop offset="0.6532" stop-color="#4242ff"/><stop offset="0.6776" stop-color="#6161ff"/><stop offset="0.7115" stop-color="#6f6fff"/><stop offset="0.8938" stop-color="#7676ff"/><stop offset="0.9558" stop-color="#8d8dff"/><stop offset="0.9991" stop-color="#aaaaff"/></linearGradient><linearGradient id="g132" x1="700" x2="1232" gradientUnits="userSpaceOnUse"><stop offset="0.0009" stop-color="#acacff"/><stop offset="0.0724" stop-color="#8181ff"/><stop offset="0.1400" stop-color="#7171ff"/><stop offset="0.3055" stop-color="#6b6bff"/><stop offset="0.3336" stop-color="#5858ff"/><stop offset="0.3600" stop-color="#2f2fff"/><stop offset="0.3806" stop-color="#0101ff"/><stop offset="0.4408" stop-color="#91006e"/><stop offset="0.4690" stop-color="#c0003f"/><stop offset="0.4934" stop-color="#d2002d"/><stop offset="0.5179" stop-color="#cd0032"/><stop offset="0.5442" stop-color="#b0004f"/><stop offset="0.5761" stop-color="#71008e"/><stop offset="0.6231" stop-color="#0000ff"/><stop offset="0.6551" stop-color="#4141ff"/><stop offset="0.6814" stop-color="#6060ff"/><stop offset="0.7171" stop-color="#6c6cff"/><stop offset="0.8919" stop-color="#7373ff"/><stop offset="0.9521" stop-color="#8989ff"/><stop offset="0.9991" stop-color="#a8a8ff"/></linearGradient><linearGradient id="g133" x1="700" x2="1232" gradientUnits="userSpaceOnUse"><stop offset="0.0009" stop-color="#aaaaff"/><stop offset="0.0705" stop-color="#7e7eff"/><stop offset="0.1363" stop-color="#6e6eff"/><stop offset="0.3036" stop-color="#6767ff"/><stop offset="0.3318" stop-color="#5656ff"/><stop offset="0.3581" stop-color="#2e2eff"/><stop offset="0.3788" stop-color="#0101ff"/><stop offset="0.4408" stop-color="#93006c"/><stop offset="0.4690" stop-color="#c1003e"/><stop offset="0.4934" stop-color="#d4002b"/><stop offset="0.5179" stop-color="#cf0030"/><stop offset="0.5442" stop-color="#b2004d"/><stop offset="0.5761" stop-color="#74008b"/><stop offset="0.6250" stop-color="#0000ff"/><stop offset="0.6570" stop-color="#3f3fff"/><stop offset="0.6833" stop-color="#5d5dff"/><stop offset="0.7209" stop-color="#6969ff"/><stop offset="0.8919" stop-color="#7070ff"/><stop offset="0.9521" stop-color="#8686ff"/><stop offset="0.9991" stop-color="#a6a6ff"/></linearGradient><linearGradient id="g134" x1="700" x2="1232" gradientUnits="userSpaceOnUse"><stop offset="0.0009" stop-color="#a8a8ff"/><stop offset="0.0705" stop-color="#7b7bff"/><stop offset="0.1344" stop-color="#6a6aff"/><stop offset="0.3036" stop-color="#6363ff"/><stop offset="0.3318" stop-color="#5151ff"/><stop offset="0.3581" stop-color="#2929ff"/><stop offset="0.3769" stop-color="#0101ff"/><stop offset="0.4389" stop-color="#92006d"/><stop offset="0.4671" stop-color="#c1003e"/><stop offset="0.4915" stop-color="#d4002b"/><stop offset="0.5160" stop-color="#d1002e"/><stop offset="0.5423" stop-color="#b60049"/><stop offset="0.5742" stop-color="#7c0083"/><stop offset="0.6269" stop-color="#0100fe"/><stop offset="0.6588" stop-color="#3d3dff"/><stop offset="0.6852" stop-color="#5a5aff"/><stop offset="0.7246" stop-color="#6666ff"/><stop offset="0.8919" stop-color="#6d6dff"/><stop offset="0.9521" stop-color="#8484ff"/><stop offset="0.9991" stop-color="#a4a4ff"/></linearGradient><linearGradient id="g135" x1="700" x2="1232" gradientUnits="userSpaceOnUse"><stop offset="0.0009" stop-color="#a6a6ff"/><stop offset="0.0705" stop-color="#7777ff"/><stop offset="0.1344" stop-color="#6666ff"/><stop offset="0.3017" stop-color="#5f5fff"/><stop offset="0.3299" stop-color="#4e4eff"/><stop offset="0.3562" stop-color="#2828ff"/><stop offset="0.3750" stop-color="#0101ff"/><stop offset="0.4389" stop-color="#95006a"/><stop offset="0.4671" stop-color="#c3003c"/><stop offset="0.4915" stop-color="#d60029"/><stop offset="0.5160" stop-color="#d3002c"/><stop offset="0.5423" stop-color="#b80047"/><stop offset="0.5742" stop-color="#7f0080"/><stop offset="0.6288" stop-color="#0100fe"/><stop offset="0.6626" stop-color="#3e3eff"/><stop offset="0.6889" stop-color="#5858ff"/><stop offset="0.7321" stop-color="#6363ff"/><stop offset="0.8900" stop-color="#6969ff"/><stop offset="0.9483" stop-color="#7f7fff"/><stop offset="0.9991" stop-color="#a3a3ff"/></linearGradient><linearGradient id="g136" x1="700" x2="1232" gradientUnits="userSpaceOnUse"><stop offset="0.0009" stop-color="#a3a3ff"/><stop offset="0.0686" stop-color="#7575ff"/><stop offset="0.1306" stop-color="#6363ff"/><stop offset="0.3017" stop-color="#5b5bff"/><stop offset="0.3299" stop-color="#4949ff"/><stop offset="0.3562" stop-color="#2323ff"/><stop offset="0.3731" stop-color="#0000ff"/><stop offset="0.4389" stop-color="#970068"/><stop offset="0.4671" stop-color="#c5003a"/><stop offset="0.4915" stop-color="#d70028"/><stop offset="0.5160" stop-color="#d4002b"/><stop offset="0.5423" stop-color="#bb0044"/><stop offset="0.5742" stop-color="#82007d"/><stop offset="0.6306" stop-color="#0200fd"/><stop offset="0.6645" stop-color="#3c3cff"/><stop offset="0.6927" stop-color="#5656ff"/><stop offset="0.7415" stop-color="#6060ff"/><stop offset="0.8900" stop-color="#6666ff"/><stop offset="0.9483" stop-color="#7c7cff"/><stop offset="0.9991" stop-color="#a1a1ff"/></linearGradient><linearGradient id="g137" x1="700" x2="1232" gradientUnits="userSpaceOnUse"><stop offset="0.0009" stop-color="#a1a1ff"/><stop offset="0.0686" stop-color="#7171ff"/><stop offset="0.1288" stop-color="#5f5fff"/><stop offset="0.2998" stop-color="#5757ff"/><stop offset="0.3299" stop-color="#4444ff"/><stop offset="0.3562" stop-color="#1e1eff"/><stop offset="0.3712" stop-color="#0100fe"/><stop offset="0.4370" stop-color="#960069"/><stop offset="0.4652" stop-color="#c4003b"/><stop offset="0.4915" stop-color="#d90026"/><stop offset="0.5160" stop-color="#d60029"/><stop offset="0.5423" stop-color="#bd0042"/><stop offset="0.5742" stop-color="#85007a"/><stop offset="0.6325" stop-color="#0200fd"/><stop offset="0.6382" stop-color="#0a0aff"/><stop offset="0.6682" stop-color="#3c3cff"/><stop offset="0.6964" stop-color="#5454ff"/><stop offset="0.7509" stop-color="#5d5dff"/><stop offset="0.8900" stop-color="#6363ff"/><stop offset="0.9483" stop-color="#7979ff"/><stop offset="0.9991" stop-color="#9f9fff"/></linearGradient><linearGradient id="g138" x1="700" x2="1232" gradientUnits="userSpaceOnUse"><stop offset="0.0009" stop-color="#9f9fff"/><stop offset="0.0686" stop-color="#6d6dff"/><stop offset="0.1288" stop-color="#5b5bff"/><stop offset="0.2998" stop-color="#5353ff"/><stop offset="0.3299" stop-color="#4040ff"/><stop offset="0.3581" stop-color="#1515ff"/><stop offset="0.3694" stop-color="#0100fe"/><stop offset="0.4370" stop-color="#990066"/><stop offset="0.4671" stop-color="#c80037"/><stop offset="0.4934" stop-color="#db0024"/><stop offset="0.5197" stop-color="#d5002a"/><stop offset="0.5479" stop-color="#b70048"/><stop offset="0.5818" stop-color="#780087"/><stop offset="0.6363" stop-color="#0101ff"/><stop offset="0.6664" stop-color="#3535ff"/><stop offset="0.6945" stop-color="#4f4fff"/><stop offset="0.7434" stop-color="#5959ff"/><stop offset="0.8900" stop-color="#5f5fff"/><stop offset="0.9464" stop-color="#7676ff"/><stop offset="0.9991" stop-color="#9d9dff"/></linearGradient><linearGradient id="g139" x1="700" x2="1232" gradientUnits="userSpaceOnUse"><stop offset="0.0009" stop-color="#9c9cff"/><stop offset="0.0667" stop-color="#6b6bff"/><stop offset="0.1250" stop-color="#5757ff"/><stop offset="0.2979" stop-color="#4f4fff"/><stop offset="0.3280" stop-color="#3d3dff"/><stop offset="0.3562" stop-color="#1414ff"/><stop offset="0.3656" stop-color="#0202ff"/><stop offset="0.3806" stop-color="#1f00e0"/><stop offset="0.4370" stop-color="#9c0063"/><stop offset="0.4671" stop-color="#ca0035"/><stop offset="0.4934" stop-color="#dc0023"/><stop offset="0.5197" stop-color="#d70028"/><stop offset="0.5479" stop-color="#b90046"/><stop offset="0.5818" stop-color="#7c0083"/><stop offset="0.6382" stop-color="#0000ff"/><stop offset="0.6682" stop-color="#3333ff"/><stop offset="0.6964" stop-color="#4c4cff"/><stop offset="0.7453" stop-color="#5656ff"/><stop offset="0.8900" stop-color="#5c5cff"/><stop offset="0.9464" stop-color="#7373ff"/><stop offset="0.9991" stop-color="#9b9bff"/></linearGradient><linearGradient id="g140" x1="700" x2="1232" gradientUnits="userSpaceOnUse"><stop offset="0.0009" stop-color="#9a9aff"/><stop offset="0.0667" stop-color="#6767ff"/><stop offset="0.1231" stop-color="#5454ff"/><stop offset="0.2979" stop-color="#4a4aff"/><stop offset="0.3280" stop-color="#3838ff"/><stop offset="0.3562" stop-color="#0f0fff"/><stop offset="0.3637" stop-color="#0000ff"/><stop offset="0.4389" stop-color="#a2005d"/><stop offset="0.4690" stop-color="#ce0031"/><stop offset="0.4953" stop-color="#de0021"/><stop offset="0.5216" stop-color="#d70028"/><stop offset="0.5498" stop-color="#b90046"/><stop offset="0.5855" stop-color="#770088"/><stop offset="0.6400" stop-color="#0100fe"/><stop offset="0.6720" stop-color="#3333ff"/><stop offset="0.7021" stop-color="#4a4aff"/><stop offset="0.7622" stop-color="#5252ff"/><stop offset="0.8900" stop-color="#5959ff"/><stop offset="0.9464" stop-color="#7070ff"/><stop offset="0.9991" stop-color="#9999ff"/></linearGradient><linearGradient id="g141" x1="700" x2="1232" gradientUnits="userSpaceOnUse"><stop offset="0.0009" stop-color="#9797ff"/><stop offset="0.0667" stop-color="#6464ff"/><stop offset="0.1231" stop-color="#4f4fff"/><stop offset="0.2961" stop-color="#4646ff"/><stop offset="0.3261" stop-color="#3434ff"/><stop offset="0.3543" stop-color="#0d0dff"/><stop offset="0.3618" stop-color="#0100fe"/><stop offset="0.4389" stop-color="#a5005a"/><stop offset="0.4690" stop-color="#d0002f"/><stop offset="0.4953" stop-color="#e0001f"/><stop offset="0.5216" stop-color="#d90026"/><stop offset="0.5498" stop-color="#bb0044"/><stop offset="0.5855" stop-color="#7a0085"/><stop offset="0.6419" stop-color="#0200fd"/><stop offset="0.6476" stop-color="#0808ff"/><stop offset="0.6776" stop-color="#3434ff"/><stop offset="0.7096" stop-color="#4949ff"/><stop offset="0.7998" stop-color="#4f4fff"/><stop offset="0.8957" stop-color="#5757ff"/><stop offset="0.9502" stop-color="#7070ff"/><stop offset="0.9991" stop-color="#9797ff"/></linearGradient><linearGradient id="g142" x1="700" x2="1232" gradientUnits="userSpaceOnUse"><stop offset="0.0009" stop-color="#9595ff"/><stop offset="0.0648" stop-color="#6161ff"/><stop offset="0.1194" stop-color="#4c4cff"/><stop offset="0.2961" stop-color="#4242ff"/><stop offset="0.3280" stop-color="#2e2eff"/><stop offset="0.3562" stop-color="#0505ff"/><stop offset="0.3600" stop-color="#0200fd"/><stop offset="0.4389" stop-color="#a80057"/><stop offset="0.4690" stop-color="#d2002d"/><stop offset="0.4953" stop-color="#e2001d"/><stop offset="0.5216" stop-color="#db0024"/><stop offset="0.5498" stop-color="#bd0042"/><stop offset="0.5855" stop-color="#7e0081"/><stop offset="0.6457" stop-color="#0000ff"/><stop offset="0.6758" stop-color="#2d2dff"/><stop offset="0.7058" stop-color="#4444ff"/><stop offset="0.7716" stop-color="#4c4cff"/><stop offset="0.8900" stop-color="#5252ff"/><stop offset="0.9445" stop-color="#6969ff"/><stop offset="0.9991" stop-color="#9595ff"/></linearGradient><linearGradient id="g143" x1="700" x2="1232" gradientUnits="userSpaceOnUse"><stop offset="0.0009" stop-color="#9292ff"/><stop offset="0.0648" stop-color="#5d5dff"/><stop offset="0.1194" stop-color="#4848ff"/><stop offset="0.2942" stop-color="#3e3eff"/><stop offset="0.3261" stop-color="#2b2bff"/><stop offset="0.3562" stop-color="#0000ff"/><stop offset="0.4389" stop-color="#aa0055"/><stop offset="0.4690" stop-color="#d4002b"/><stop offset="0.4953" stop-color="#e4001b"/><stop offset="0.5216" stop-color="#dd0022"/><stop offset="0.5498" stop-color="#c0003f"/><stop offset="0.5855" stop-color="#81007e"/><stop offset="0.6476" stop-color="#0100fe"/><stop offset="0.6814" stop-color="#2f2fff"/><stop offset="0.7152" stop-color="#4343ff"/><stop offset="0.8938" stop-color="#5050ff"/><stop offset="0.9483" stop-color="#6969ff"/><stop offset="0.9991" stop-color="#9393ff"/></linearGradient><linearGradient id="g144" x1="700" x2="1232" gradientUnits="userSpaceOnUse"><stop offset="0.0009" stop-color="#9090ff"/><stop offset="0.0648" stop-color="#5a5aff"/><stop offset="0.1194" stop-color="#4444ff"/><stop offset="0.2942" stop-color="#3a3aff"/><stop offset="0.3261" stop-color="#2626ff"/><stop offset="0.3543" stop-color="#0200fd"/><stop offset="0.4389" stop-color="#ad0052"/><stop offset="0.4690" stop-color="#d60029"/><stop offset="0.4953" stop-color="#e60019"/><stop offset="0.5216" stop-color="#df0020"/><stop offset="0.5517" stop-color="#c0003f"/><stop offset="0.5893" stop-color="#7d0082"/><stop offset="0.6494" stop-color="#0300fc"/><stop offset="0.6532" stop-color="#0404ff"/><stop offset="0.6833" stop-color="#2c2cff"/><stop offset="0.7171" stop-color="#3f3fff"/><stop offset="0.8938" stop-color="#4d4dff"/><stop offset="0.9483" stop-color="#6666ff"/><stop offset="0.9991" stop-color="#9191ff"/></linearGradient><linearGradient id="g145" x1="700" x2="1232" gradientUnits="userSpaceOnUse"><stop offset="0.0009" stop-color="#8e8eff"/><stop offset="0.0630" stop-color="#5858ff"/><stop offset="0.1156" stop-color="#4141ff"/><stop offset="0.2303" stop-color="#3b3bff"/><stop offset="0.2979" stop-color="#3434ff"/><stop offset="0.3280" stop-color="#1f1fff"/><stop offset="0.3506" stop-color="#0000ff"/><stop offset="0.3957" stop-color="#5a00a5"/><stop offset="0.4408" stop-color="#b3004c"/><stop offset="0.4709" stop-color="#da0025"/><stop offset="0.4972" stop-color="#e80017"/><stop offset="0.5254" stop-color="#df0020"/><stop offset="0.5555" stop-color="#bd0042"/><stop offset="0.5949" stop-color="#75008a"/><stop offset="0.6532" stop-color="#0100fe"/><stop offset="0.6852" stop-color="#2929ff"/><stop offset="0.7190" stop-color="#3c3cff"/><stop offset="0.8919" stop-color="#4949ff"/><stop offset="0.9445" stop-color="#6161ff"/><stop offset="0.9991" stop-color="#8f8fff"/></linearGradient><linearGradient id="g146" x1="700" x2="1232" gradientUnits="userSpaceOnUse"><stop offset="0.0009" stop-color="#8c8cff"/><stop offset="0.0630" stop-color="#5454ff"/><stop offset="0.1156" stop-color="#3d3dff"/><stop offset="0.2265" stop-color="#3737ff"/><stop offset="0.2961" stop-color="#3030ff"/><stop offset="0.3280" stop-color="#1a1aff"/><stop offset="0.3487" stop-color="#0200fd"/><stop offset="0.3919" stop-color="#5600a9"/><stop offset="0.4389" stop-color="#b3004c"/><stop offset="0.4690" stop-color="#db0024"/><stop offset="0.4972" stop-color="#ea0015"/><stop offset="0.5254" stop-color="#e1001e"/><stop offset="0.5555" stop-color="#c0003f"/><stop offset="0.5949" stop-color="#790086"/><stop offset="0.6532" stop-color="#0500fa"/><stop offset="0.6570" stop-color="#0101ff"/><stop offset="0.6870" stop-color="#2626ff"/><stop offset="0.7227" stop-color="#3939ff"/><stop offset="0.8919" stop-color="#4646ff"/><stop offset="0.9445" stop-color="#5e5eff"/><stop offset="0.9991" stop-color="#8d8dff"/></linearGradient><linearGradient id="g147" x1="700" x2="1232" gradientUnits="userSpaceOnUse"><stop offset="0.0009" stop-color="#8989ff"/><stop offset="0.0630" stop-color="#5151ff"/><stop offset="0.1156" stop-color="#3a3aff"/><stop offset="0.2246" stop-color="#3333ff"/><stop offset="0.2942" stop-color="#2d2dff"/><stop offset="0.3261" stop-color="#1717ff"/><stop offset="0.3449" stop-color="#0100fe"/><stop offset="0.3844" stop-color="#4a00b5"/><stop offset="0.4370" stop-color="#b3004c"/><stop offset="0.4690" stop-color="#de0021"/><stop offset="0.4972" stop-color="#ed0012"/><stop offset="0.5254" stop-color="#e4001b"/><stop offset="0.5555" stop-color="#c3003c"/><stop offset="0.5968" stop-color="#790086"/><stop offset="0.6532" stop-color="#0a00f5"/><stop offset="0.6588" stop-color="#0100fe"/><stop offset="0.6927" stop-color="#2727ff"/><stop offset="0.7321" stop-color="#3838ff"/><stop offset="0.8900" stop-color="#4242ff"/><stop offset="0.9427" stop-color="#5a5aff"/><stop offset="0.9991" stop-color="#8b8bff"/></linearGradient><linearGradient id="g148" x1="700" x2="1232" gradientUnits="userSpaceOnUse"><stop offset="0.0009" stop-color="#8787ff"/><stop offset="0.0630" stop-color="#4e4eff"/><stop offset="0.1137" stop-color="#3737ff"/><stop offset="0.2133" stop-color="#3030ff"/><stop offset="0.2904" stop-color="#2a2aff"/><stop offset="0.3242" stop-color="#1515ff"/><stop offset="0.3412" stop-color="#0000ff"/><stop offset="0.3769" stop-color="#3f00c0"/><stop offset="0.4370" stop-color="#b5004a"/><stop offset="0.4690" stop-color="#e0001f"/><stop offset="0.4972" stop-color="#ef0010"/><stop offset="0.5254" stop-color="#e70018"/><stop offset="0.5555" stop-color="#c60039"/><stop offset="0.5968" stop-color="#7c0083"/><stop offset="0.6551" stop-color="#0b00f4"/><stop offset="0.6626" stop-color="#0000ff"/><stop offset="0.6945" stop-color="#2424ff"/><stop offset="0.7340" stop-color="#3434ff"/><stop offset="0.8900" stop-color="#3f3fff"/><stop offset="0.9427" stop-color="#5757ff"/><stop offset="0.9991" stop-color="#8989ff"/></linearGradient><linearGradient id="g149" x1="700" x2="1232" gradientUnits="userSpaceOnUse"><stop offset="0.0009" stop-color="#8585ff"/><stop offset="0.0611" stop-color="#4d4dff"/><stop offset="0.1118" stop-color="#3434ff"/><stop offset="0.2039" stop-color="#2c2cff"/><stop offset="0.2885" stop-color="#2727ff"/><stop offset="0.3224" stop-color="#1212ff"/><stop offset="0.3393" stop-color="#0100fe"/><stop offset="0.3769" stop-color="#4300bc"/><stop offset="0.4370" stop-color="#b80047"/><stop offset="0.4690" stop-color="#e2001d"/><stop offset="0.4972" stop-color="#f1000e"/><stop offset="0.5254" stop-color="#e90016"/><stop offset="0.5555" stop-color="#c80037"/><stop offset="0.5968" stop-color="#80007f"/><stop offset="0.6551" stop-color="#1000ef"/><stop offset="0.6664" stop-color="#0202ff"/><stop offset="0.6983" stop-color="#2323ff"/><stop offset="0.7397" stop-color="#3232ff"/><stop offset="0.8882" stop-color="#3c3cff"/><stop offset="0.9408" stop-color="#5353ff"/><stop offset="0.9991" stop-color="#8787ff"/></linearGradient><linearGradient id="g150" x1="700" x2="1232" gradientUnits="userSpaceOnUse"><stop offset="0.0009" stop-color="#8383ff"/><stop offset="0.0611" stop-color="#4949ff"/><stop offset="0.1118" stop-color="#3030ff"/><stop offset="0.2021" stop-color="#2929ff"/><stop offset="0.2885" stop-color="#2323ff"/><stop offset="0.3224" stop-color="#0e0eff"/><stop offset="0.3355" stop-color="#0000ff"/><stop offset="0.3712" stop-color="#3b00c4"/><stop offset="0.4370" stop-color="#b90046"/><stop offset="0.4690" stop-color="#e3001c"/><stop offset="0.4972" stop-color="#f2000d"/><stop offset="0.5254" stop-color="#ea0015"/><stop offset="0.5555" stop-color="#ca0035"/><stop offset="0.5968" stop-color="#82007d"/><stop offset="0.6551" stop-color="#1300ec"/><stop offset="0.6682" stop-color="#0000ff"/><stop offset="0.7002" stop-color="#2020ff"/><stop offset="0.7434" stop-color="#2f2fff"/><stop offset="0.8882" stop-color="#3939ff"/><stop offset="0.9408" stop-color="#5151ff"/><stop offset="0.9991" stop-color="#8585ff"/></linearGradient><linearGradient id="g151" x1="700" x2="1232" gradientUnits="userSpaceOnUse"><stop offset="0.0009" stop-color="#8181ff"/><stop offset="0.0611" stop-color="#4646ff"/><stop offset="0.1100" stop-color="#2d2dff"/><stop offset="0.1927" stop-color="#2525ff"/><stop offset="0.2867" stop-color="#1f1fff"/><stop offset="0.3224" stop-color="#0a0aff"/><stop offset="0.3336" stop-color="#0200fd"/><stop offset="0.3694" stop-color="#3900c6"/><stop offset="0.4389" stop-color="#bd0042"/><stop offset="0.4709" stop-color="#e5001a"/><stop offset="0.4991" stop-color="#f2000d"/><stop offset="0.5273" stop-color="#e90016"/><stop offset="0.5592" stop-color="#c5003a"/><stop offset="0.6062" stop-color="#71008e"/><stop offset="0.6570" stop-color="#1300ec"/><stop offset="0.6701" stop-color="#0100fe"/><stop offset="0.7039" stop-color="#1f1fff"/><stop offset="0.7509" stop-color="#2c2cff"/><stop offset="0.8863" stop-color="#3535ff"/><stop offset="0.9370" stop-color="#4b4bff"/><stop offset="0.9953" stop-color="#7f7fff"/><stop offset="0.9991" stop-color="#8383ff"/></linearGradient><linearGradient id="g152" x1="700" x2="1232" gradientUnits="userSpaceOnUse"><stop offset="0.0009" stop-color="#7f7fff"/><stop offset="0.0611" stop-color="#4343ff"/><stop offset="0.1100" stop-color="#2929ff"/><stop offset="0.1927" stop-color="#2121ff"/><stop offset="0.2867" stop-color="#1b1bff"/><stop offset="0.3224" stop-color="#0707ff"/><stop offset="0.3299" stop-color="#0100fe"/><stop offset="0.3637" stop-color="#3100ce"/><stop offset="0.4408" stop-color="#bf0040"/><stop offset="0.4727" stop-color="#e60019"/><stop offset="0.5009" stop-color="#f2000d"/><stop offset="0.5291" stop-color="#e70018"/><stop offset="0.5611" stop-color="#c2003d"/><stop offset="0.6137" stop-color="#63009c"/><stop offset="0.6588" stop-color="#1300ec"/><stop offset="0.6739" stop-color="#0101ff"/><stop offset="0.7077" stop-color="#1d1dff"/><stop offset="0.7603" stop-color="#2929ff"/><stop offset="0.8863" stop-color="#3131ff"/><stop offset="0.9370" stop-color="#4848ff"/><stop offset="0.9953" stop-color="#7d7dff"/><stop offset="0.9991" stop-color="#8181ff"/></linearGradient><linearGradient id="g153" x1="700" x2="1232" gradientUnits="userSpaceOnUse"><stop offset="0.0009" stop-color="#7c7cff"/><stop offset="0.0611" stop-color="#4040ff"/><stop offset="0.1100" stop-color="#2626ff"/><stop offset="0.1908" stop-color="#1d1dff"/><stop offset="0.2867" stop-color="#1717ff"/><stop offset="0.3224" stop-color="#0303ff"/><stop offset="0.3280" stop-color="#0200fd"/><stop offset="0.3618" stop-color="#3000cf"/><stop offset="0.4427" stop-color="#c1003e"/><stop offset="0.4746" stop-color="#e60019"/><stop offset="0.5028" stop-color="#f1000e"/><stop offset="0.5310" stop-color="#e5001a"/><stop offset="0.5630" stop-color="#be0041"/><stop offset="0.6551" stop-color="#1b00e4"/><stop offset="0.6758" stop-color="#0000ff"/><stop offset="0.7115" stop-color="#1b1bff"/><stop offset="0.7716" stop-color="#2626ff"/><stop offset="0.8863" stop-color="#2e2eff"/><stop offset="0.9370" stop-color="#4545ff"/><stop offset="0.9934" stop-color="#7979ff"/><stop offset="0.9991" stop-color="#7f7fff"/></linearGradient><linearGradient id="g154" x1="700" x2="1232" gradientUnits="userSpaceOnUse"><stop offset="0.0009" stop-color="#7a7aff"/><stop offset="0.0592" stop-color="#3e3eff"/><stop offset="0.1062" stop-color="#2323ff"/><stop offset="0.1795" stop-color="#1919ff"/><stop offset="0.2848" stop-color="#1414ff"/><stop offset="0.3242" stop-color="#0200fd"/><stop offset="0.3581" stop-color="#2b00d4"/><stop offset="0.4445" stop-color="#c3003c"/><stop offset="0.4765" stop-color="#e70018"/><stop offset="0.5047" stop-color="#f0000f"/><stop offset="0.5329" stop-color="#e2001d"/><stop offset="0.5648" stop-color="#bb0044"/><stop offset="0.6532" stop-color="#2000df"/><stop offset="0.6795" stop-color="#0101ff"/><stop offset="0.7171" stop-color="#1a1aff"/><stop offset="0.7904" stop-color="#2323ff"/><stop offset="0.8882" stop-color="#2b2bff"/><stop offset="0.9389" stop-color="#4343ff"/><stop offset="0.9972" stop-color="#7a7aff"/><stop offset="0.9991" stop-color="#7d7dff"/></linearGradient><linearGradient id="g155" x1="700" x2="1232" gradientUnits="userSpaceOnUse"><stop offset="0.0009" stop-color="#7878ff"/><stop offset="0.0592" stop-color="#3a3aff"/><stop offset="0.1062" stop-color="#1f1fff"/><stop offset="0.1776" stop-color="#1515ff"/><stop offset="0.2848" stop-color="#1010ff"/><stop offset="0.3205" stop-color="#0200fd"/><stop offset="0.3543" stop-color="#2700d8"/><stop offset="0.4088" stop-color="#85007a"/><stop offset="0.4521" stop-color="#cc0033"/><stop offset="0.4821" stop-color="#e90016"/><stop offset="0.5103" stop-color="#ee0011"/><stop offset="0.5385" stop-color="#dc0023"/><stop offset="0.5742" stop-color="#aa0055"/><stop offset="0.6494" stop-color="#2700d8"/><stop offset="0.6814" stop-color="#0000ff"/><stop offset="0.7190" stop-color="#1717ff"/><stop offset="0.8017" stop-color="#1f1fff"/><stop offset="0.8900" stop-color="#2828ff"/><stop offset="0.9389" stop-color="#4040ff"/><stop offset="0.9953" stop-color="#7676ff"/><stop offset="0.9991" stop-color="#7a7aff"/></linearGradient><linearGradient id="g156" x1="700" x2="1232" gradientUnits="userSpaceOnUse"><stop offset="0.0009" stop-color="#7575ff"/><stop offset="0.0592" stop-color="#3737ff"/><stop offset="0.1062" stop-color="#1b1bff"/><stop offset="0.1776" stop-color="#1111ff"/><stop offset="0.2867" stop-color="#0b0bff"/><stop offset="0.3148" stop-color="#0100fe"/><stop offset="0.3506" stop-color="#2300dc"/><stop offset="0.3957" stop-color="#6c0093"/><stop offset="0.4483" stop-color="#c5003a"/><stop offset="0.4784" stop-color="#e5001a"/><stop offset="0.5066" stop-color="#ee0011"/><stop offset="0.5348" stop-color="#de0021"/><stop offset="0.5686" stop-color="#b3004c"/><stop offset="0.6476" stop-color="#2a00d5"/><stop offset="0.6833" stop-color="#0100fe"/><stop offset="0.7284" stop-color="#1616ff"/><stop offset="0.8882" stop-color="#2323ff"/><stop offset="0.9370" stop-color="#3b3bff"/><stop offset="0.9915" stop-color="#6f6fff"/><stop offset="0.9991" stop-color="#7878ff"/></linearGradient><linearGradient id="g157" x1="700" x2="1232" gradientUnits="userSpaceOnUse"><stop offset="0.0009" stop-color="#7373ff"/><stop offset="0.0592" stop-color="#3333ff"/><stop offset="0.1062" stop-color="#1717ff"/><stop offset="0.1758" stop-color="#0d0dff"/><stop offset="0.2867" stop-color="#0707ff"/><stop offset="0.3111" stop-color="#0200fd"/><stop offset="0.3468" stop-color="#2000df"/><stop offset="0.3882" stop-color="#5e00a1"/><stop offset="0.4483" stop-color="#c4003b"/><stop offset="0.4784" stop-color="#e5001a"/><stop offset="0.5066" stop-color="#ed0012"/><stop offset="0.5348" stop-color="#de0021"/><stop offset="0.5686" stop-color="#b2004d"/><stop offset="0.6457" stop-color="#2e00d1"/><stop offset="0.6814" stop-color="#0500fa"/><stop offset="0.6908" stop-color="#0202ff"/><stop offset="0.7359" stop-color="#1313ff"/><stop offset="0.8863" stop-color="#1f1fff"/><stop offset="0.9352" stop-color="#3636ff"/><stop offset="0.9897" stop-color="#6b6bff"/><stop offset="0.9991" stop-color="#7676ff"/></linearGradient><linearGradient id="g158" x1="700" x2="1232" gradientUnits="userSpaceOnUse"><stop offset="0.0009" stop-color="#7171ff"/><stop offset="0.0573" stop-color="#3232ff"/><stop offset="0.1043" stop-color="#1414ff"/><stop offset="0.1701" stop-color="#0909ff"/><stop offset="0.2885" stop-color="#0303ff"/><stop offset="0.3055" stop-color="#0300fc"/><stop offset="0.3430" stop-color="#1e00e1"/><stop offset="0.3825" stop-color="#5400ab"/><stop offset="0.4502" stop-color="#c60039"/><stop offset="0.4803" stop-color="#e60019"/><stop offset="0.5066" stop-color="#ed0012"/><stop offset="0.5348" stop-color="#de0021"/><stop offset="0.5686" stop-color="#b1004e"/><stop offset="0.6438" stop-color="#3100ce"/><stop offset="0.6795" stop-color="#0900f6"/><stop offset="0.6945" stop-color="#0101ff"/><stop offset="0.7453" stop-color="#1111ff"/><stop offset="0.8844" stop-color="#1b1bff"/><stop offset="0.9333" stop-color="#3232ff"/><stop offset="0.9859" stop-color="#6464ff"/><stop offset="0.9991" stop-color="#7474ff"/></linearGradient><linearGradient id="g159" x1="700" x2="1232" gradientUnits="userSpaceOnUse"><stop offset="0.0009" stop-color="#6e6eff"/><stop offset="0.0573" stop-color="#2e2eff"/><stop offset="0.1024" stop-color="#1111ff"/><stop offset="0.1664" stop-color="#0606ff"/><stop offset="0.2961" stop-color="#0300fc"/><stop offset="0.3355" stop-color="#1900e6"/><stop offset="0.3731" stop-color="#4500ba"/><stop offset="0.4539" stop-color="#cb0034"/><stop offset="0.4840" stop-color="#e80017"/><stop offset="0.5103" stop-color="#ec0013"/><stop offset="0.5385" stop-color="#da0025"/><stop offset="0.5742" stop-color="#a70058"/><stop offset="0.6400" stop-color="#3700c8"/><stop offset="0.6776" stop-color="#0d00f2"/><stop offset="0.7002" stop-color="#0101ff"/><stop offset="0.7585" stop-color="#0e0eff"/><stop offset="0.8844" stop-color="#1717ff"/><stop offset="0.9333" stop-color="#2f2fff"/><stop offset="0.9840" stop-color="#5f5fff"/><stop offset="0.9991" stop-color="#7171ff"/></linearGradient><linearGradient id="g160" x1="700" x2="1232" gradientUnits="userSpaceOnUse"><stop offset="0.0009" stop-color="#6c6cff"/><stop offset="0.0573" stop-color="#2b2bff"/><stop offset="0.1024" stop-color="#0d0dff"/><stop offset="0.1664" stop-color="#0202ff"/><stop offset="0.2848" stop-color="#0300fc"/><stop offset="0.3299" stop-color="#1600e9"/><stop offset="0.3656" stop-color="#3b00c4"/><stop offset="0.4164" stop-color="#8d0072"/><stop offset="0.4596" stop-color="#d2002d"/><stop offset="0.4878" stop-color="#ea0015"/><stop offset="0.5141" stop-color="#ec0013"/><stop offset="0.5423" stop-color="#d60029"/><stop offset="0.5799" stop-color="#9d0062"/><stop offset="0.6382" stop-color="#3a00c5"/><stop offset="0.6758" stop-color="#1100ee"/><stop offset="0.7058" stop-color="#0101ff"/><stop offset="0.7754" stop-color="#0c0cff"/><stop offset="0.8844" stop-color="#1414ff"/><stop offset="0.9333" stop-color="#2b2bff"/><stop offset="0.9840" stop-color="#5d5dff"/><stop offset="0.9991" stop-color="#6f6fff"/></linearGradient><linearGradient id="g161" x1="700" x2="1232" gradientUnits="userSpaceOnUse"><stop offset="0.0009" stop-color="#6a6aff"/><stop offset="0.0573" stop-color="#2828ff"/><stop offset="0.1024" stop-color="#0a0aff"/><stop offset="0.1494" stop-color="#0100fe"/><stop offset="0.2923" stop-color="#0800f7"/><stop offset="0.3355" stop-color="#1d00e2"/><stop offset="0.3712" stop-color="#4300bc"/><stop offset="0.4577" stop-color="#d0002f"/><stop offset="0.4859" stop-color="#ea0015"/><stop offset="0.5122" stop-color="#ee0011"/><stop offset="0.5404" stop-color="#d90026"/><stop offset="0.5761" stop-color="#a4005b"/><stop offset="0.6344" stop-color="#4000bf"/><stop offset="0.6701" stop-color="#1700e8"/><stop offset="0.7133" stop-color="#0000ff"/><stop offset="0.8073" stop-color="#0909ff"/><stop offset="0.8900" stop-color="#1212ff"/><stop offset="0.9370" stop-color="#2b2bff"/><stop offset="0.9897" stop-color="#6161ff"/><stop offset="0.9991" stop-color="#6d6dff"/></linearGradient><linearGradient id="g162" x1="700" x2="1232" gradientUnits="userSpaceOnUse"><stop offset="0.0009" stop-color="#6868ff"/><stop offset="0.0573" stop-color="#2525ff"/><stop offset="0.1024" stop-color="#0707ff"/><stop offset="0.1288" stop-color="#0100fe"/><stop offset="0.2961" stop-color="#0d00f2"/><stop offset="0.3393" stop-color="#2200dd"/><stop offset="0.3750" stop-color="#4900b6"/><stop offset="0.4577" stop-color="#d1002e"/><stop offset="0.4859" stop-color="#ec0013"/><stop offset="0.5122" stop-color="#ef0010"/><stop offset="0.5404" stop-color="#da0025"/><stop offset="0.5761" stop-color="#a4005b"/><stop offset="0.6325" stop-color="#4300bc"/><stop offset="0.6682" stop-color="#1b00e4"/><stop offset="0.7115" stop-color="#0400fb"/><stop offset="0.7434" stop-color="#0202ff"/><stop offset="0.8825" stop-color="#0d0dff"/><stop offset="0.9314" stop-color="#2424ff"/><stop offset="0.9803" stop-color="#5454ff"/><stop offset="0.9991" stop-color="#6b6bff"/></linearGradient><linearGradient id="g163" x1="700" x2="1232" gradientUnits="userSpaceOnUse"><stop offset="0.0009" stop-color="#6666ff"/><stop offset="0.0573" stop-color="#2222ff"/><stop offset="0.1024" stop-color="#0303ff"/><stop offset="0.1194" stop-color="#0200fd"/><stop offset="0.2115" stop-color="#0a00f5"/><stop offset="0.3017" stop-color="#1100ee"/><stop offset="0.3430" stop-color="#2600d9"/><stop offset="0.3788" stop-color="#4e00b1"/><stop offset="0.4596" stop-color="#d4002b"/><stop offset="0.4878" stop-color="#ee0011"/><stop offset="0.5141" stop-color="#f0000f"/><stop offset="0.5423" stop-color="#da0025"/><stop offset="0.5799" stop-color="#9e0061"/><stop offset="0.6325" stop-color="#4400bb"/><stop offset="0.6682" stop-color="#1c00e3"/><stop offset="0.7133" stop-color="#0600f9"/><stop offset="0.7716" stop-color="#0101ff"/><stop offset="0.8825" stop-color="#0909ff"/><stop offset="0.9295" stop-color="#2020ff"/><stop offset="0.9784" stop-color="#4f4fff"/><stop offset="0.9991" stop-color="#6969ff"/></linearGradient><linearGradient id="g164" x1="700" x2="1232" gradientUnits="userSpaceOnUse"><stop offset="0.0009" stop-color="#6464ff"/><stop offset="0.0573" stop-color="#2020ff"/><stop offset="0.1006" stop-color="#0101ff"/><stop offset="0.1701" stop-color="#0c00f3"/><stop offset="0.2961" stop-color="#1200ed"/><stop offset="0.3412" stop-color="#2700d8"/><stop offset="0.3769" stop-color="#4c00b3"/><stop offset="0.4295" stop-color="#a5005a"/><stop offset="0.4652" stop-color="#dc0023"/><stop offset="0.4915" stop-color="#f2000d"/><stop offset="0.5179" stop-color="#f1000e"/><stop offset="0.5461" stop-color="#d60029"/><stop offset="0.5874" stop-color="#91006e"/><stop offset="0.6325" stop-color="#4400bb"/><stop offset="0.6682" stop-color="#1e00e1"/><stop offset="0.7133" stop-color="#0900f6"/><stop offset="0.8299" stop-color="#0000ff"/><stop offset="0.8976" stop-color="#0b0bff"/><stop offset="0.9427" stop-color="#2828ff"/><stop offset="0.9972" stop-color="#6565ff"/><stop offset="0.9991" stop-color="#6767ff"/></linearGradient><linearGradient id="g165" x1="700" x2="1232" gradientUnits="userSpaceOnUse"><stop offset="0.0009" stop-color="#6363ff"/><stop offset="0.0555" stop-color="#1f1fff"/><stop offset="0.0968" stop-color="#0000ff"/><stop offset="0.1551" stop-color="#0e00f1"/><stop offset="0.2979" stop-color="#1500ea"/><stop offset="0.3430" stop-color="#2a00d5"/><stop offset="0.3788" stop-color="#4f00b0"/><stop offset="0.4314" stop-color="#a90056"/><stop offset="0.4671" stop-color="#e0001f"/><stop offset="0.4934" stop-color="#f4000b"/><stop offset="0.5197" stop-color="#f1000e"/><stop offset="0.5479" stop-color="#d5002a"/><stop offset="0.5949" stop-color="#84007b"/><stop offset="0.6363" stop-color="#4000bf"/><stop offset="0.6720" stop-color="#1d00e2"/><stop offset="0.7209" stop-color="#0a00f5"/><stop offset="0.8750" stop-color="#0202ff"/><stop offset="0.9239" stop-color="#1717ff"/><stop offset="0.9709" stop-color="#4242ff"/><stop offset="0.9991" stop-color="#6666ff"/></linearGradient><linearGradient id="g166" x1="700" x2="1232" gradientUnits="userSpaceOnUse"><stop offset="0.0009" stop-color="#6161ff"/><stop offset="0.0555" stop-color="#1d1dff"/><stop offset="0.0930" stop-color="#0000ff"/><stop offset="0.1457" stop-color="#1000ef"/><stop offset="0.2998" stop-color="#1800e7"/><stop offset="0.3449" stop-color="#2c00d3"/><stop offset="0.3788" stop-color="#5000af"/><stop offset="0.4258" stop-color="#a0005f"/><stop offset="0.4633" stop-color="#dd0022"/><stop offset="0.4897" stop-color="#f5000a"/><stop offset="0.5141" stop-color="#f60009"/><stop offset="0.5404" stop-color="#e1001e"/><stop offset="0.5761" stop-color="#a80057"/><stop offset="0.6269" stop-color="#4e00b1"/><stop offset="0.6607" stop-color="#2700d8"/><stop offset="0.7039" stop-color="#1000ef"/><stop offset="0.7961" stop-color="#0600f9"/><stop offset="0.8863" stop-color="#0202ff"/><stop offset="0.9333" stop-color="#1b1bff"/><stop offset="0.9821" stop-color="#4e4eff"/><stop offset="0.9991" stop-color="#6464ff"/></linearGradient><linearGradient id="g167" x1="700" x2="1232" gradientUnits="userSpaceOnUse"><stop offset="0.0009" stop-color="#6060ff"/><stop offset="0.0555" stop-color="#1b1bff"/><stop offset="0.0893" stop-color="#0000ff"/><stop offset="0.1400" stop-color="#1100ee"/><stop offset="0.3017" stop-color="#1b00e4"/><stop offset="0.3468" stop-color="#2f00d0"/><stop offset="0.3806" stop-color="#5300ac"/><stop offset="0.4295" stop-color="#a80057"/><stop offset="0.4652" stop-color="#e1001e"/><stop offset="0.4915" stop-color="#f70008"/><stop offset="0.5160" stop-color="#f70008"/><stop offset="0.5423" stop-color="#e0001f"/><stop offset="0.5799" stop-color="#a2005d"/><stop offset="0.6269" stop-color="#4e00b1"/><stop offset="0.6607" stop-color="#2800d7"/><stop offset="0.7039" stop-color="#1200ed"/><stop offset="0.7998" stop-color="#0800f7"/><stop offset="0.8919" stop-color="#0202ff"/><stop offset="0.9370" stop-color="#1c1cff"/><stop offset="0.9878" stop-color="#5454ff"/><stop offset="0.9991" stop-color="#6363ff"/></linearGradient><linearGradient id="g168" x1="700" x2="1232" gradientUnits="userSpaceOnUse"><stop offset="0.0009" stop-color="#5f5fff"/><stop offset="0.0555" stop-color="#1a1aff"/><stop offset="0.0874" stop-color="#0000ff"/><stop offset="0.1363" stop-color="#1200ed"/><stop offset="0.3036" stop-color="#1d00e2"/><stop offset="0.3487" stop-color="#3200cd"/><stop offset="0.3825" stop-color="#5700a8"/><stop offset="0.4615" stop-color="#dd0022"/><stop offset="0.4878" stop-color="#f70008"/><stop offset="0.5122" stop-color="#fa0005"/><stop offset="0.5385" stop-color="#e60019"/><stop offset="0.5724" stop-color="#b1004e"/><stop offset="0.6250" stop-color="#5200ad"/><stop offset="0.6588" stop-color="#2b00d4"/><stop offset="0.7021" stop-color="#1400eb"/><stop offset="0.7961" stop-color="#0a00f5"/><stop offset="0.8863" stop-color="#0100fe"/><stop offset="0.9145" stop-color="#0b0bff"/><stop offset="0.9596" stop-color="#3131ff"/><stop offset="0.9991" stop-color="#6262ff"/></linearGradient><linearGradient id="g169" x1="700" x2="1232" gradientUnits="userSpaceOnUse"><stop offset="0.0009" stop-color="#5e5eff"/><stop offset="0.0555" stop-color="#1919ff"/><stop offset="0.0855" stop-color="#0000ff"/><stop offset="0.1344" stop-color="#1300ec"/><stop offset="0.3036" stop-color="#1e00e1"/><stop offset="0.3487" stop-color="#3200cd"/><stop offset="0.3825" stop-color="#5700a8"/><stop offset="0.4333" stop-color="#b0004f"/><stop offset="0.4671" stop-color="#e60019"/><stop offset="0.4934" stop-color="#fb0004"/><stop offset="0.5179" stop-color="#f90006"/><stop offset="0.5442" stop-color="#e0001f"/><stop offset="0.5836" stop-color="#9c0063"/><stop offset="0.6269" stop-color="#5000af"/><stop offset="0.6607" stop-color="#2a00d5"/><stop offset="0.7058" stop-color="#1500ea"/><stop offset="0.8130" stop-color="#0b00f4"/><stop offset="0.8900" stop-color="#0200fd"/><stop offset="0.9126" stop-color="#0808ff"/><stop offset="0.9577" stop-color="#2e2eff"/><stop offset="0.9991" stop-color="#6161ff"/></linearGradient><linearGradient id="g170" x1="700" x2="1232" gradientUnits="userSpaceOnUse"><stop offset="0.0009" stop-color="#5e5eff"/><stop offset="0.0555" stop-color="#1818ff"/><stop offset="0.0855" stop-color="#0100fe"/><stop offset="0.1344" stop-color="#1400eb"/><stop offset="0.3036" stop-color="#1f00e0"/><stop offset="0.3487" stop-color="#3300cc"/><stop offset="0.3825" stop-color="#5800a7"/><stop offset="0.4295" stop-color="#aa0055"/><stop offset="0.4652" stop-color="#e4001b"/><stop offset="0.4915" stop-color="#fc0003"/><stop offset="0.5160" stop-color="#fb0004"/><stop offset="0.5423" stop-color="#e4001b"/><stop offset="0.5780" stop-color="#a80057"/><stop offset="0.6250" stop-color="#5300ac"/><stop offset="0.6588" stop-color="#2d00d2"/><stop offset="0.7039" stop-color="#1600e9"/><stop offset="0.8073" stop-color="#0c00f3"/><stop offset="0.8882" stop-color="#0300fc"/><stop offset="0.9032" stop-color="#0303ff"/><stop offset="0.9483" stop-color="#2323ff"/><stop offset="0.9991" stop-color="#6060ff"/></linearGradient><linearGradient id="g171" x1="700" x2="1232" gradientUnits="userSpaceOnUse"><stop offset="0.0009" stop-color="#5d5dff"/><stop offset="0.0555" stop-color="#1818ff"/><stop offset="0.0836" stop-color="#0000ff"/><stop offset="0.1306" stop-color="#1400eb"/><stop offset="0.3055" stop-color="#2000df"/><stop offset="0.3506" stop-color="#3500ca"/><stop offset="0.3844" stop-color="#5b00a4"/><stop offset="0.4615" stop-color="#e0001f"/><stop offset="0.4878" stop-color="#fa0005"/><stop offset="0.5122" stop-color="#fe0001"/><stop offset="0.5385" stop-color="#e90016"/><stop offset="0.5724" stop-color="#b3004c"/><stop offset="0.6231" stop-color="#5600a9"/><stop offset="0.6570" stop-color="#2f00d0"/><stop offset="0.7002" stop-color="#1800e7"/><stop offset="0.7923" stop-color="#0d00f2"/><stop offset="0.8844" stop-color="#0500fa"/><stop offset="0.9032" stop-color="#0202ff"/><stop offset="0.9483" stop-color="#2323ff"/><stop offset="0.9991" stop-color="#6060ff"/></linearGradient><linearGradient id="g172" x1="700" x2="1232" gradientUnits="userSpaceOnUse"><stop offset="0.0009" stop-color="#5d5dff"/><stop offset="0.0555" stop-color="#1818ff"/><stop offset="0.0836" stop-color="#0000ff"/><stop offset="0.1306" stop-color="#1400eb"/><stop offset="0.3036" stop-color="#2000df"/><stop offset="0.3487" stop-color="#3400cb"/><stop offset="0.3825" stop-color="#5800a7"/><stop offset="0.4295" stop-color="#aa0055"/><stop offset="0.4652" stop-color="#e5001a"/><stop offset="0.4915" stop-color="#fd0002"/><stop offset="0.5160" stop-color="#fc0003"/><stop offset="0.5423" stop-color="#e5001a"/><stop offset="0.5780" stop-color="#a90056"/><stop offset="0.6250" stop-color="#5400ab"/><stop offset="0.6588" stop-color="#2e00d1"/><stop offset="0.7039" stop-color="#1800e7"/><stop offset="0.8055" stop-color="#0d00f2"/><stop offset="0.8882" stop-color="#0400fb"/><stop offset="0.9051" stop-color="#0303ff"/><stop offset="0.9483" stop-color="#2222ff"/><stop offset="0.9991" stop-color="#6060ff"/></linearGradient><linearGradient id="g173" x1="700" x2="1232" gradientUnits="userSpaceOnUse"><stop offset="0.0009" stop-color="#5e5eff"/><stop offset="0.0555" stop-color="#1818ff"/><stop offset="0.0855" stop-color="#0100fe"/><stop offset="0.1344" stop-color="#1400eb"/><stop offset="0.3017" stop-color="#2000df"/><stop offset="0.3487" stop-color="#3400cb"/><stop offset="0.3825" stop-color="#5800a7"/><stop offset="0.4276" stop-color="#a70058"/><stop offset="0.4652" stop-color="#e5001a"/><stop offset="0.4915" stop-color="#fc0003"/><stop offset="0.5160" stop-color="#fc0003"/><stop offset="0.5423" stop-color="#e5001a"/><stop offset="0.5799" stop-color="#a5005a"/><stop offset="0.6250" stop-color="#5400ab"/><stop offset="0.6588" stop-color="#2e00d1"/><stop offset="0.7039" stop-color="#1800e7"/><stop offset="0.8036" stop-color="#0d00f2"/><stop offset="0.8882" stop-color="#0400fb"/><stop offset="0.9032" stop-color="#0202ff"/><stop offset="0.9483" stop-color="#2222ff"/><stop offset="0.9991" stop-color="#6060ff"/></linearGradient><linearGradient id="g174" x1="700" x2="1232" gradientUnits="userSpaceOnUse"><stop offset="0.0009" stop-color="#5e5eff"/><stop offset="0.0555" stop-color="#1919ff"/><stop offset="0.0855" stop-color="#0100fe"/><stop offset="0.1344" stop-color="#1400eb"/><stop offset="0.3017" stop-color="#1f00e0"/><stop offset="0.3487" stop-color="#3400cb"/><stop offset="0.3825" stop-color="#5800a7"/><stop offset="0.4276" stop-color="#a60059"/><stop offset="0.4652" stop-color="#e4001b"/><stop offset="0.4915" stop-color="#fc0003"/><stop offset="0.5160" stop-color="#fb0004"/><stop offset="0.5423" stop-color="#e4001b"/><stop offset="0.5799" stop-color="#a5005a"/><stop offset="0.6250" stop-color="#5400ab"/><stop offset="0.6588" stop-color="#2e00d1"/><stop offset="0.7039" stop-color="#1800e7"/><stop offset="0.8017" stop-color="#0e00f1"/><stop offset="0.8863" stop-color="#0500fa"/><stop offset="0.9032" stop-color="#0202ff"/><stop offset="0.9464" stop-color="#2020ff"/><stop offset="0.9991" stop-color="#6060ff"/></linearGradient><linearGradient id="g175" x1="700" x2="1232" gradientUnits="userSpaceOnUse"><stop offset="0.0009" stop-color="#5f5fff"/><stop offset="0.0555" stop-color="#1a1aff"/><stop offset="0.0874" stop-color="#0100fe"/><stop offset="0.1363" stop-color="#1300ec"/><stop offset="0.2998" stop-color="#1e00e1"/><stop offset="0.3468" stop-color="#3200cd"/><stop offset="0.3806" stop-color="#5500aa"/><stop offset="0.4239" stop-color="#9e0061"/><stop offset="0.4633" stop-color="#e1001e"/><stop offset="0.4897" stop-color="#f90006"/><stop offset="0.5141" stop-color="#fb0004"/><stop offset="0.5404" stop-color="#e5001a"/><stop offset="0.5761" stop-color="#ab0054"/><stop offset="0.6250" stop-color="#5400ab"/><stop offset="0.6588" stop-color="#2f00d0"/><stop offset="0.7058" stop-color="#1800e7"/><stop offset="0.8073" stop-color="#0e00f1"/><stop offset="0.8882" stop-color="#0400fb"/><stop offset="0.9051" stop-color="#0202ff"/><stop offset="0.9483" stop-color="#2222ff"/><stop offset="0.9991" stop-color="#6060ff"/></linearGradient><linearGradient id="g176" x1="700" x2="1232" gradientUnits="userSpaceOnUse"><stop offset="0.0009" stop-color="#5f5fff"/><stop offset="0.0555" stop-color="#1b1bff"/><stop offset="0.0893" stop-color="#0100fe"/><stop offset="0.1400" stop-color="#1200ed"/><stop offset="0.2979" stop-color="#1d00e2"/><stop offset="0.3468" stop-color="#3200cd"/><stop offset="0.3806" stop-color="#5400ab"/><stop offset="0.4239" stop-color="#9d0062"/><stop offset="0.4633" stop-color="#df0020"/><stop offset="0.4897" stop-color="#f70008"/><stop offset="0.5141" stop-color="#f90006"/><stop offset="0.5404" stop-color="#e3001c"/><stop offset="0.5761" stop-color="#a90056"/><stop offset="0.6250" stop-color="#5400ab"/><stop offset="0.6588" stop-color="#2f00d0"/><stop offset="0.7058" stop-color="#1800e7"/><stop offset="0.8055" stop-color="#0e00f1"/><stop offset="0.8882" stop-color="#0400fb"/><stop offset="0.9051" stop-color="#0202ff"/><stop offset="0.9483" stop-color="#2222ff"/><stop offset="0.9991" stop-color="#6060ff"/></linearGradient><linearGradient id="g177" x1="700" x2="1232" gradientUnits="userSpaceOnUse"><stop offset="0.0009" stop-color="#6060ff"/><stop offset="0.0555" stop-color="#1c1cff"/><stop offset="0.0912" stop-color="#0000ff"/><stop offset="0.1438" stop-color="#1100ee"/><stop offset="0.2961" stop-color="#1c00e3"/><stop offset="0.3449" stop-color="#3000cf"/><stop offset="0.3806" stop-color="#5300ac"/><stop offset="0.4239" stop-color="#9b0064"/><stop offset="0.4633" stop-color="#dc0023"/><stop offset="0.4897" stop-color="#f5000a"/><stop offset="0.5141" stop-color="#f60009"/><stop offset="0.5404" stop-color="#e1001e"/><stop offset="0.5761" stop-color="#a80057"/><stop offset="0.6250" stop-color="#5300ac"/><stop offset="0.6588" stop-color="#2f00d0"/><stop offset="0.7058" stop-color="#1800e7"/><stop offset="0.8055" stop-color="#0e00f1"/><stop offset="0.8882" stop-color="#0400fb"/><stop offset="0.9051" stop-color="#0202ff"/><stop offset="0.9483" stop-color="#2222ff"/><stop offset="0.9991" stop-color="#6060ff"/></linearGradient><linearGradient id="g178" x1="700" x2="1232" gradientUnits="userSpaceOnUse"><stop offset="0.0009" stop-color="#6262ff"/><stop offset="0.0555" stop-color="#1e1eff"/><stop offset="0.0930" stop-color="#0000ff"/><stop offset="0.1494" stop-color="#1000ef"/><stop offset="0.2942" stop-color="#1a00e5"/><stop offset="0.3449" stop-color="#2f00d0"/><stop offset="0.3806" stop-color="#5200ad"/><stop offset="0.4239" stop-color="#990066"/><stop offset="0.4633" stop-color="#da0025"/><stop offset="0.4897" stop-color="#f2000d"/><stop offset="0.5141" stop-color="#f3000c"/><stop offset="0.5404" stop-color="#de0021"/><stop offset="0.5780" stop-color="#a2005d"/><stop offset="0.6250" stop-color="#5200ad"/><stop offset="0.6607" stop-color="#2d00d2"/><stop offset="0.7115" stop-color="#1700e8"/><stop offset="0.8261" stop-color="#0d00f2"/><stop offset="0.8938" stop-color="#0200fd"/><stop offset="0.9088" stop-color="#0404ff"/><stop offset="0.9521" stop-color="#2626ff"/><stop offset="0.9991" stop-color="#5f5fff"/></linearGradient><linearGradient id="g179" x1="700" x2="1232" gradientUnits="userSpaceOnUse"><stop offset="0.0009" stop-color="#6363ff"/><stop offset="0.0555" stop-color="#1f1fff"/><stop offset="0.0968" stop-color="#0000ff"/><stop offset="0.1551" stop-color="#0e00f1"/><stop offset="0.2923" stop-color="#1800e7"/><stop offset="0.3449" stop-color="#2e00d1"/><stop offset="0.3806" stop-color="#5100ae"/><stop offset="0.4258" stop-color="#9a0065"/><stop offset="0.4652" stop-color="#d90026"/><stop offset="0.4915" stop-color="#ef0010"/><stop offset="0.5160" stop-color="#ef0010"/><stop offset="0.5423" stop-color="#d80027"/><stop offset="0.5818" stop-color="#990066"/><stop offset="0.6269" stop-color="#4f00b0"/><stop offset="0.6626" stop-color="#2c00d3"/><stop offset="0.7152" stop-color="#1600e9"/><stop offset="0.8863" stop-color="#0500fa"/><stop offset="0.9051" stop-color="#0202ff"/><stop offset="0.9483" stop-color="#2222ff"/><stop offset="0.9991" stop-color="#5f5fff"/></linearGradient><linearGradient id="g180" x1="700" x2="1232" gradientUnits="userSpaceOnUse"><stop offset="0.0009" stop-color="#6464ff"/><stop offset="0.0573" stop-color="#1f1fff"/><stop offset="0.1006" stop-color="#0101ff"/><stop offset="0.1664" stop-color="#0d00f2"/><stop offset="0.2904" stop-color="#1600e9"/><stop offset="0.3430" stop-color="#2c00d3"/><stop offset="0.3806" stop-color="#4f00b0"/><stop offset="0.4258" stop-color="#970068"/><stop offset="0.4652" stop-color="#d5002a"/><stop offset="0.4915" stop-color="#ea0015"/><stop offset="0.5179" stop-color="#ea0015"/><stop offset="0.5461" stop-color="#d0002f"/><stop offset="0.6269" stop-color="#4e00b1"/><stop offset="0.6626" stop-color="#2c00d3"/><stop offset="0.7152" stop-color="#1600e9"/><stop offset="0.8863" stop-color="#0500fa"/><stop offset="0.9051" stop-color="#0202ff"/><stop offset="0.9483" stop-color="#2222ff"/><stop offset="0.9991" stop-color="#5f5fff"/></linearGradient><linearGradient id="g181" x1="700" x2="1232" gradientUnits="userSpaceOnUse"><stop offset="0.0009" stop-color="#6666ff"/><stop offset="0.0573" stop-color="#2222ff"/><stop offset="0.1024" stop-color="#0202ff"/><stop offset="0.1231" stop-color="#0500fa"/><stop offset="0.2942" stop-color="#1500ea"/><stop offset="0.3468" stop-color="#2d00d2"/><stop offset="0.3844" stop-color="#5300ac"/><stop offset="0.4633" stop-color="#ce0031"/><stop offset="0.4915" stop-color="#e60019"/><stop offset="0.5179" stop-color="#e5001a"/><stop offset="0.5461" stop-color="#cc0033"/><stop offset="0.6269" stop-color="#4d00b2"/><stop offset="0.6645" stop-color="#2a00d5"/><stop offset="0.7209" stop-color="#1500ea"/><stop offset="0.8863" stop-color="#0500fa"/><stop offset="0.9051" stop-color="#0202ff"/><stop offset="0.9483" stop-color="#2222ff"/><stop offset="0.9991" stop-color="#5f5fff"/></linearGradient><linearGradient id="g182" x1="700" x2="1232" gradientUnits="userSpaceOnUse"><stop offset="0.0009" stop-color="#6767ff"/><stop offset="0.0573" stop-color="#2424ff"/><stop offset="0.1024" stop-color="#0505ff"/><stop offset="0.1212" stop-color="#0200fd"/><stop offset="0.2923" stop-color="#1300ec"/><stop offset="0.3449" stop-color="#2a00d5"/><stop offset="0.3825" stop-color="#4e00b1"/><stop offset="0.4633" stop-color="#c90036"/><stop offset="0.4915" stop-color="#e1001e"/><stop offset="0.5179" stop-color="#e0001f"/><stop offset="0.5461" stop-color="#c70038"/><stop offset="0.6269" stop-color="#4c00b3"/><stop offset="0.6645" stop-color="#2a00d5"/><stop offset="0.7209" stop-color="#1500ea"/><stop offset="0.8863" stop-color="#0500fa"/><stop offset="0.9051" stop-color="#0202ff"/><stop offset="0.9483" stop-color="#2222ff"/><stop offset="0.9991" stop-color="#5f5fff"/></linearGradient><linearGradient id="g183" x1="700" x2="1232" gradientUnits="userSpaceOnUse"><stop offset="0.0009" stop-color="#6969ff"/><stop offset="0.0573" stop-color="#2626ff"/><stop offset="0.1024" stop-color="#0808ff"/><stop offset="0.1325" stop-color="#0100fe"/><stop offset="0.2885" stop-color="#1000ef"/><stop offset="0.3430" stop-color="#2800d7"/><stop offset="0.3825" stop-color="#4c00b3"/><stop offset="0.4652" stop-color="#c70038"/><stop offset="0.4934" stop-color="#dc0023"/><stop offset="0.5197" stop-color="#d90026"/><stop offset="0.5498" stop-color="#bd0042"/><stop offset="0.6250" stop-color="#4d00b2"/><stop offset="0.6645" stop-color="#2a00d5"/><stop offset="0.7227" stop-color="#1500ea"/><stop offset="0.8863" stop-color="#0500fa"/><stop offset="0.9051" stop-color="#0202ff"/><stop offset="0.9483" stop-color="#2222ff"/><stop offset="0.9991" stop-color="#5f5fff"/></linearGradient><linearGradient id="g184" x1="700" x2="1232" gradientUnits="userSpaceOnUse"><stop offset="0.0009" stop-color="#6b6bff"/><stop offset="0.0573" stop-color="#2929ff"/><stop offset="0.1024" stop-color="#0a0aff"/><stop offset="0.1476" stop-color="#0100fe"/><stop offset="0.2829" stop-color="#0d00f2"/><stop offset="0.3412" stop-color="#2500da"/><stop offset="0.3825" stop-color="#4a00b5"/><stop offset="0.4652" stop-color="#c1003e"/><stop offset="0.4934" stop-color="#d60029"/><stop offset="0.5197" stop-color="#d3002c"/><stop offset="0.5498" stop-color="#b80047"/><stop offset="0.6250" stop-color="#4c00b3"/><stop offset="0.6645" stop-color="#2a00d5"/><stop offset="0.7246" stop-color="#1400eb"/><stop offset="0.8863" stop-color="#0500fa"/><stop offset="0.9051" stop-color="#0202ff"/><stop offset="0.9483" stop-color="#2222ff"/><stop offset="0.9991" stop-color="#5f5fff"/></linearGradient><linearGradient id="g185" x1="700" x2="1232" gradientUnits="userSpaceOnUse"><stop offset="0.0009" stop-color="#6c6cff"/><stop offset="0.0573" stop-color="#2b2bff"/><stop offset="0.1024" stop-color="#0d0dff"/><stop offset="0.1664" stop-color="#0000ff"/><stop offset="0.2791" stop-color="#0a00f5"/><stop offset="0.3393" stop-color="#2200dd"/><stop offset="0.3806" stop-color="#4600b9"/><stop offset="0.4652" stop-color="#bb0044"/><stop offset="0.4934" stop-color="#cf0030"/><stop offset="0.5197" stop-color="#cd0032"/><stop offset="0.5498" stop-color="#b3004c"/><stop offset="0.6250" stop-color="#4a00b5"/><stop offset="0.6664" stop-color="#2800d7"/><stop offset="0.7284" stop-color="#1300ec"/><stop offset="0.8844" stop-color="#0500fa"/><stop offset="0.9051" stop-color="#0202ff"/><stop offset="0.9483" stop-color="#2222ff"/><stop offset="0.9991" stop-color="#5f5fff"/></linearGradient><linearGradient id="g186" x1="700" x2="1232" gradientUnits="userSpaceOnUse"><stop offset="0.0009" stop-color="#6e6eff"/><stop offset="0.0573" stop-color="#2e2eff"/><stop offset="0.1024" stop-color="#1010ff"/><stop offset="0.1682" stop-color="#0303ff"/><stop offset="0.2528" stop-color="#0300fc"/><stop offset="0.3224" stop-color="#1700e8"/><stop offset="0.3694" stop-color="#3800c7"/><stop offset="0.4145" stop-color="#70008f"/><stop offset="0.4652" stop-color="#b5004a"/><stop offset="0.4953" stop-color="#c90036"/><stop offset="0.5235" stop-color="#c5003a"/><stop offset="0.5555" stop-color="#a70058"/><stop offset="0.6250" stop-color="#4900b6"/><stop offset="0.6682" stop-color="#2700d8"/><stop offset="0.7321" stop-color="#1300ec"/><stop offset="0.8844" stop-color="#0500fa"/><stop offset="0.9032" stop-color="#0101ff"/><stop offset="0.9464" stop-color="#2020ff"/><stop offset="0.9991" stop-color="#5f5fff"/></linearGradient><linearGradient id="g187" x1="700" x2="1232" gradientUnits="userSpaceOnUse"><stop offset="0.0009" stop-color="#7070ff"/><stop offset="0.0592" stop-color="#2f2fff"/><stop offset="0.1062" stop-color="#1212ff"/><stop offset="0.1776" stop-color="#0606ff"/><stop offset="0.2641" stop-color="#0200fd"/><stop offset="0.3299" stop-color="#1900e6"/><stop offset="0.3769" stop-color="#3e00c1"/><stop offset="0.4314" stop-color="#85007a"/><stop offset="0.4709" stop-color="#b5004a"/><stop offset="0.4991" stop-color="#c3003c"/><stop offset="0.5273" stop-color="#bc0043"/><stop offset="0.5630" stop-color="#980067"/><stop offset="0.6250" stop-color="#4700b8"/><stop offset="0.6701" stop-color="#2600d9"/><stop offset="0.7378" stop-color="#1200ed"/><stop offset="0.8844" stop-color="#0500fa"/><stop offset="0.9032" stop-color="#0202ff"/><stop offset="0.9464" stop-color="#2020ff"/><stop offset="0.9991" stop-color="#5f5fff"/></linearGradient><linearGradient id="g188" x1="700" x2="1232" gradientUnits="userSpaceOnUse"><stop offset="0.0009" stop-color="#7272ff"/><stop offset="0.0592" stop-color="#3232ff"/><stop offset="0.1062" stop-color="#1515ff"/><stop offset="0.1795" stop-color="#0909ff"/><stop offset="0.2754" stop-color="#0200fd"/><stop offset="0.3374" stop-color="#1c00e3"/><stop offset="0.3844" stop-color="#4400bb"/><stop offset="0.4671" stop-color="#ab0054"/><stop offset="0.4972" stop-color="#bc0043"/><stop offset="0.5254" stop-color="#b60049"/><stop offset="0.5611" stop-color="#95006a"/><stop offset="0.6250" stop-color="#4600b9"/><stop offset="0.6720" stop-color="#2500da"/><stop offset="0.7415" stop-color="#1100ee"/><stop offset="0.8844" stop-color="#0500fa"/><stop offset="0.9032" stop-color="#0202ff"/><stop offset="0.9464" stop-color="#2020ff"/><stop offset="0.9991" stop-color="#5f5fff"/></linearGradient><linearGradient id="g189" x1="700" x2="1232" gradientUnits="userSpaceOnUse"><stop offset="0.0009" stop-color="#7474ff"/><stop offset="0.0592" stop-color="#3434ff"/><stop offset="0.1062" stop-color="#1818ff"/><stop offset="0.1814" stop-color="#0c0cff"/><stop offset="0.2829" stop-color="#0200fd"/><stop offset="0.3449" stop-color="#2000df"/><stop offset="0.3938" stop-color="#4c00b3"/><stop offset="0.4652" stop-color="#a3005c"/><stop offset="0.4953" stop-color="#b4004b"/><stop offset="0.5254" stop-color="#b0004f"/><stop offset="0.5611" stop-color="#8f0070"/><stop offset="0.6269" stop-color="#4300bc"/><stop offset="0.6758" stop-color="#2300dc"/><stop offset="0.7491" stop-color="#1000ef"/><stop offset="0.8844" stop-color="#0500fa"/><stop offset="0.9032" stop-color="#0202ff"/><stop offset="0.9464" stop-color="#2020ff"/><stop offset="0.9991" stop-color="#5f5fff"/></linearGradient><linearGradient id="g190" x1="700" x2="1232" gradientUnits="userSpaceOnUse"><stop offset="0.0009" stop-color="#7676ff"/><stop offset="0.0592" stop-color="#3737ff"/><stop offset="0.1062" stop-color="#1b1bff"/><stop offset="0.1833" stop-color="#0f0fff"/><stop offset="0.2791" stop-color="#0101ff"/><stop offset="0.3318" stop-color="#1600e9"/><stop offset="0.3844" stop-color="#3f00c0"/><stop offset="0.4671" stop-color="#9e0061"/><stop offset="0.4991" stop-color="#ae0051"/><stop offset="0.5291" stop-color="#a60059"/><stop offset="0.5686" stop-color="#81007e"/><stop offset="0.6288" stop-color="#4000bf"/><stop offset="0.6814" stop-color="#2000df"/><stop offset="0.7585" stop-color="#0f00f0"/><stop offset="0.8844" stop-color="#0500fa"/><stop offset="0.9032" stop-color="#0202ff"/><stop offset="0.9464" stop-color="#2020ff"/><stop offset="0.9991" stop-color="#5f5fff"/></linearGradient><linearGradient id="g191" x1="700" x2="1232" gradientUnits="userSpaceOnUse"><stop offset="0.0009" stop-color="#7878ff"/><stop offset="0.0592" stop-color="#3a3aff"/><stop offset="0.1062" stop-color="#1e1eff"/><stop offset="0.1852" stop-color="#1111ff"/><stop offset="0.2791" stop-color="#0303ff"/><stop offset="0.2961" stop-color="#0300fc"/><stop offset="0.3581" stop-color="#2600d9"/><stop offset="0.4126" stop-color="#5c00a3"/><stop offset="0.4690" stop-color="#990066"/><stop offset="0.5009" stop-color="#a70058"/><stop offset="0.5329" stop-color="#9d0062"/><stop offset="0.5799" stop-color="#70008f"/><stop offset="0.6344" stop-color="#3a00c5"/><stop offset="0.6908" stop-color="#1d00e2"/><stop offset="0.7735" stop-color="#0e00f1"/><stop offset="0.8844" stop-color="#0500fa"/><stop offset="0.9032" stop-color="#0202ff"/><stop offset="0.9464" stop-color="#2020ff"/><stop offset="0.9991" stop-color="#5f5fff"/></linearGradient><linearGradient id="g192" x1="700" x2="1232" gradientUnits="userSpaceOnUse"><stop offset="0.0009" stop-color="#7a7aff"/><stop offset="0.0611" stop-color="#3b3bff"/><stop offset="0.1100" stop-color="#2020ff"/><stop offset="0.2077" stop-color="#1313ff"/><stop offset="0.2904" stop-color="#0101ff"/><stop offset="0.3393" stop-color="#1700e8"/><stop offset="0.3957" stop-color="#4600b9"/><stop offset="0.4671" stop-color="#91006e"/><stop offset="0.5009" stop-color="#a0005f"/><stop offset="0.5329" stop-color="#970068"/><stop offset="0.5836" stop-color="#680097"/><stop offset="0.6382" stop-color="#3700c8"/><stop offset="0.7002" stop-color="#1a00e5"/><stop offset="0.7904" stop-color="#0d00f2"/><stop offset="0.8863" stop-color="#0400fb"/><stop offset="0.9032" stop-color="#0202ff"/><stop offset="0.9464" stop-color="#2020ff"/><stop offset="0.9991" stop-color="#5f5fff"/></linearGradient><linearGradient id="g193" x1="700" x2="1232" gradientUnits="userSpaceOnUse"><stop offset="0.0009" stop-color="#7b7bff"/><stop offset="0.0611" stop-color="#3e3eff"/><stop offset="0.1100" stop-color="#2323ff"/><stop offset="0.2735" stop-color="#0909ff"/><stop offset="0.3017" stop-color="#0200fd"/><stop offset="0.3675" stop-color="#2a00d5"/><stop offset="0.4709" stop-color="#8d0072"/><stop offset="0.5047" stop-color="#990066"/><stop offset="0.5385" stop-color="#8c0073"/><stop offset="0.6363" stop-color="#3700c8"/><stop offset="0.7002" stop-color="#1a00e5"/><stop offset="0.7923" stop-color="#0d00f2"/><stop offset="0.8863" stop-color="#0400fb"/><stop offset="0.9032" stop-color="#0202ff"/><stop offset="0.9464" stop-color="#2020ff"/><stop offset="0.9991" stop-color="#5f5fff"/></linearGradient><linearGradient id="g194" x1="700" x2="1232" gradientUnits="userSpaceOnUse"><stop offset="0.0009" stop-color="#7d7dff"/><stop offset="0.0611" stop-color="#4040ff"/><stop offset="0.1100" stop-color="#2626ff"/><stop offset="0.2716" stop-color="#0b0bff"/><stop offset="0.3055" stop-color="#0200fd"/><stop offset="0.3731" stop-color="#2d00d2"/><stop offset="0.4709" stop-color="#860079"/><stop offset="0.5047" stop-color="#91006e"/><stop offset="0.5404" stop-color="#85007a"/><stop offset="0.6382" stop-color="#3500ca"/><stop offset="0.7058" stop-color="#1800e7"/><stop offset="0.8036" stop-color="#0c00f3"/><stop offset="0.8882" stop-color="#0400fb"/><stop offset="0.9051" stop-color="#0303ff"/><stop offset="0.9483" stop-color="#2222ff"/><stop offset="0.9991" stop-color="#5f5fff"/></linearGradient><linearGradient id="g195" x1="700" x2="1232" gradientUnits="userSpaceOnUse"><stop offset="0.0009" stop-color="#7f7fff"/><stop offset="0.0611" stop-color="#4343ff"/><stop offset="0.1100" stop-color="#2828ff"/><stop offset="0.2697" stop-color="#0e0eff"/><stop offset="0.3073" stop-color="#0100fe"/><stop offset="0.3788" stop-color="#3000cf"/><stop offset="0.4690" stop-color="#7f0080"/><stop offset="0.5047" stop-color="#8b0074"/><stop offset="0.5423" stop-color="#7e0081"/><stop offset="0.6400" stop-color="#3300cc"/><stop offset="0.7115" stop-color="#1600e9"/><stop offset="0.8167" stop-color="#0c00f3"/><stop offset="0.8919" stop-color="#0200fd"/><stop offset="0.9070" stop-color="#0404ff"/><stop offset="0.9502" stop-color="#2424ff"/><stop offset="0.9991" stop-color="#5f5fff"/></linearGradient><linearGradient id="g196" x1="700" x2="1232" gradientUnits="userSpaceOnUse"><stop offset="0.0009" stop-color="#8181ff"/><stop offset="0.0611" stop-color="#4646ff"/><stop offset="0.1118" stop-color="#2b2bff"/><stop offset="0.2679" stop-color="#1111ff"/><stop offset="0.3111" stop-color="#0100fe"/><stop offset="0.3863" stop-color="#3300cc"/><stop offset="0.4690" stop-color="#780087"/><stop offset="0.5066" stop-color="#83007c"/><stop offset="0.5461" stop-color="#75008a"/><stop offset="0.6438" stop-color="#2f00d0"/><stop offset="0.7171" stop-color="#1400eb"/><stop offset="0.8393" stop-color="#0a00f5"/><stop offset="0.9013" stop-color="#0202ff"/><stop offset="0.9445" stop-color="#1f1fff"/><stop offset="0.9991" stop-color="#6060ff"/></linearGradient><linearGradient id="g197" x1="700" x2="1232" gradientUnits="userSpaceOnUse"><stop offset="0.0009" stop-color="#8383ff"/><stop offset="0.0630" stop-color="#4747ff"/><stop offset="0.1137" stop-color="#2e2eff"/><stop offset="0.2660" stop-color="#1414ff"/><stop offset="0.3167" stop-color="#0100fe"/><stop offset="0.3976" stop-color="#3900c6"/><stop offset="0.4709" stop-color="#72008d"/><stop offset="0.5085" stop-color="#7c0083"/><stop offset="0.5498" stop-color="#6c0093"/><stop offset="0.6476" stop-color="#2a00d5"/><stop offset="0.7246" stop-color="#1000ef"/><stop offset="0.8938" stop-color="#0202ff"/><stop offset="0.9389" stop-color="#1d1dff"/><stop offset="0.9897" stop-color="#5555ff"/><stop offset="0.9991" stop-color="#6262ff"/></linearGradient><linearGradient id="g198" x1="700" x2="1232" gradientUnits="userSpaceOnUse"><stop offset="0.0009" stop-color="#8585ff"/><stop offset="0.0630" stop-color="#4b4bff"/><stop offset="0.1137" stop-color="#3131ff"/><stop offset="0.2641" stop-color="#1818ff"/><stop offset="0.3224" stop-color="#0100fe"/><stop offset="0.4107" stop-color="#4000bf"/><stop offset="0.4727" stop-color="#6c0093"/><stop offset="0.5122" stop-color="#73008c"/><stop offset="0.5573" stop-color="#61009e"/><stop offset="0.6513" stop-color="#2500da"/><stop offset="0.7303" stop-color="#0b00f4"/><stop offset="0.8825" stop-color="#0202ff"/><stop offset="0.9295" stop-color="#1919ff"/><stop offset="0.9765" stop-color="#4747ff"/><stop offset="0.9991" stop-color="#6464ff"/></linearGradient><linearGradient id="g199" x1="700" x2="1232" gradientUnits="userSpaceOnUse"><stop offset="0.0009" stop-color="#8888ff"/><stop offset="0.0630" stop-color="#4e4eff"/><stop offset="0.1156" stop-color="#3535ff"/><stop offset="0.2622" stop-color="#1d1dff"/><stop offset="0.3280" stop-color="#0100fe"/><stop offset="0.4727" stop-color="#64009b"/><stop offset="0.5122" stop-color="#6b0094"/><stop offset="0.5592" stop-color="#5900a6"/><stop offset="0.6570" stop-color="#1e00e1"/><stop offset="0.7378" stop-color="#0600f9"/><stop offset="0.8393" stop-color="#0101ff"/><stop offset="0.9013" stop-color="#0d0dff"/><stop offset="0.9464" stop-color="#2b2bff"/><stop offset="0.9991" stop-color="#6767ff"/></linearGradient><linearGradient id="g200" x1="700" x2="1232" gradientUnits="userSpaceOnUse"><stop offset="0.0009" stop-color="#8a8aff"/><stop offset="0.0630" stop-color="#5252ff"/><stop offset="0.1156" stop-color="#3939ff"/><stop offset="0.2622" stop-color="#2121ff"/><stop offset="0.3355" stop-color="#0200fd"/><stop offset="0.4709" stop-color="#5b00a4"/><stop offset="0.5122" stop-color="#63009c"/><stop offset="0.5611" stop-color="#5000af"/><stop offset="0.6645" stop-color="#1600e9"/><stop offset="0.7415" stop-color="#0000ff"/><stop offset="0.8882" stop-color="#0e0eff"/><stop offset="0.9352" stop-color="#2626ff"/><stop offset="0.9859" stop-color="#5a5aff"/><stop offset="0.9991" stop-color="#6a6aff"/></linearGradient><linearGradient id="g201" x1="700" x2="1232" gradientUnits="userSpaceOnUse"><stop offset="0.0009" stop-color="#8d8dff"/><stop offset="0.0648" stop-color="#5454ff"/><stop offset="0.1194" stop-color="#3c3cff"/><stop offset="0.2603" stop-color="#2525ff"/><stop offset="0.3430" stop-color="#0200fd"/><stop offset="0.4690" stop-color="#5200ad"/><stop offset="0.5122" stop-color="#5a00a5"/><stop offset="0.5630" stop-color="#4700b8"/><stop offset="0.6701" stop-color="#0e00f1"/><stop offset="0.7171" stop-color="#0101ff"/><stop offset="0.8242" stop-color="#0d0dff"/><stop offset="0.8976" stop-color="#1818ff"/><stop offset="0.9445" stop-color="#3434ff"/><stop offset="0.9991" stop-color="#6e6eff"/></linearGradient><linearGradient id="g202" x1="700" x2="1232" gradientUnits="userSpaceOnUse"><stop offset="0.0009" stop-color="#8f8fff"/><stop offset="0.0648" stop-color="#5858ff"/><stop offset="0.1194" stop-color="#4141ff"/><stop offset="0.2585" stop-color="#2b2bff"/><stop offset="0.3393" stop-color="#0505ff"/><stop offset="0.3506" stop-color="#0100fe"/><stop offset="0.4690" stop-color="#4a00b5"/><stop offset="0.5141" stop-color="#5100ae"/><stop offset="0.5667" stop-color="#3e00c1"/><stop offset="0.6795" stop-color="#0400fb"/><stop offset="0.6983" stop-color="#0202ff"/><stop offset="0.7885" stop-color="#1212ff"/><stop offset="0.8900" stop-color="#1c1cff"/><stop offset="0.9389" stop-color="#3535ff"/><stop offset="0.9934" stop-color="#6c6cff"/><stop offset="0.9991" stop-color="#7373ff"/></linearGradient><linearGradient id="g203" x1="700" x2="1232" gradientUnits="userSpaceOnUse"><stop offset="0.0009" stop-color="#9292ff"/><stop offset="0.0648" stop-color="#5c5cff"/><stop offset="0.1194" stop-color="#4545ff"/><stop offset="0.2585" stop-color="#2f2fff"/><stop offset="0.3412" stop-color="#0909ff"/><stop offset="0.3600" stop-color="#0200fd"/><stop offset="0.4671" stop-color="#4100be"/><stop offset="0.5141" stop-color="#4800b7"/><stop offset="0.5705" stop-color="#3400cb"/><stop offset="0.6739" stop-color="#0000ff"/><stop offset="0.7585" stop-color="#1717ff"/><stop offset="0.8919" stop-color="#2424ff"/><stop offset="0.9408" stop-color="#3d3dff"/><stop offset="0.9972" stop-color="#7575ff"/><stop offset="0.9991" stop-color="#7777ff"/></linearGradient><linearGradient id="g204" x1="700" x2="1232" gradientUnits="userSpaceOnUse"><stop offset="0.0009" stop-color="#9494ff"/><stop offset="0.0648" stop-color="#6060ff"/><stop offset="0.1212" stop-color="#4a4aff"/><stop offset="0.2566" stop-color="#3535ff"/><stop offset="0.3412" stop-color="#0f0fff"/><stop offset="0.3675" stop-color="#0100fe"/><stop offset="0.4671" stop-color="#3800c7"/><stop offset="0.5141" stop-color="#3e00c1"/><stop offset="0.5724" stop-color="#2b00d4"/><stop offset="0.6588" stop-color="#0101ff"/><stop offset="0.7472" stop-color="#1d1dff"/><stop offset="0.8957" stop-color="#2d2dff"/><stop offset="0.9445" stop-color="#4747ff"/><stop offset="0.9991" stop-color="#7c7cff"/></linearGradient><linearGradient id="g205" x1="700" x2="1232" gradientUnits="userSpaceOnUse"><stop offset="0.0009" stop-color="#9797ff"/><stop offset="0.0667" stop-color="#6363ff"/><stop offset="0.1250" stop-color="#4e4eff"/><stop offset="0.2566" stop-color="#3a3aff"/><stop offset="0.3449" stop-color="#1212ff"/><stop offset="0.3788" stop-color="#0100fe"/><stop offset="0.4690" stop-color="#3000cf"/><stop offset="0.5179" stop-color="#3500ca"/><stop offset="0.5818" stop-color="#1e00e1"/><stop offset="0.6438" stop-color="#0101ff"/><stop offset="0.7359" stop-color="#2222ff"/><stop offset="0.8976" stop-color="#3636ff"/><stop offset="0.9483" stop-color="#5151ff"/><stop offset="0.9991" stop-color="#8181ff"/></linearGradient><linearGradient id="g206" x1="700" x2="1232" gradientUnits="userSpaceOnUse"><stop offset="0.0009" stop-color="#9a9aff"/><stop offset="0.0667" stop-color="#6767ff"/><stop offset="0.1250" stop-color="#5252ff"/><stop offset="0.2547" stop-color="#3f3fff"/><stop offset="0.3430" stop-color="#1919ff"/><stop offset="0.3900" stop-color="#0200fd"/><stop offset="0.4727" stop-color="#2800d7"/><stop offset="0.5235" stop-color="#2b00d4"/><stop offset="0.5968" stop-color="#0f00f0"/><stop offset="0.6306" stop-color="#0202ff"/><stop offset="0.7303" stop-color="#2828ff"/><stop offset="0.8430" stop-color="#3636ff"/><stop offset="0.9107" stop-color="#4343ff"/><stop offset="0.9615" stop-color="#6363ff"/><stop offset="0.9991" stop-color="#8787ff"/></linearGradient><linearGradient id="g207" x1="700" x2="1232" gradientUnits="userSpaceOnUse"><stop offset="0.0009" stop-color="#9d9dff"/><stop offset="0.0686" stop-color="#6a6aff"/><stop offset="0.1288" stop-color="#5656ff"/><stop offset="0.2547" stop-color="#4444ff"/><stop offset="0.3468" stop-color="#1c1cff"/><stop offset="0.4013" stop-color="#0100fe"/><stop offset="0.4765" stop-color="#2000df"/><stop offset="0.5291" stop-color="#2100de"/><stop offset="0.6156" stop-color="#0202ff"/><stop offset="0.7265" stop-color="#2f2fff"/><stop offset="0.8280" stop-color="#3d3dff"/><stop offset="0.9051" stop-color="#4949ff"/><stop offset="0.9577" stop-color="#6666ff"/><stop offset="0.9991" stop-color="#8c8cff"/></linearGradient><linearGradient id="g208" x1="700" x2="1232" gradientUnits="userSpaceOnUse"><stop offset="0.0009" stop-color="#9f9fff"/><stop offset="0.0686" stop-color="#6f6fff"/><stop offset="0.1306" stop-color="#5b5bff"/><stop offset="0.2547" stop-color="#4949ff"/><stop offset="0.3506" stop-color="#2020ff"/><stop offset="0.4164" stop-color="#0100fe"/><stop offset="0.4859" stop-color="#1900e6"/><stop offset="0.5423" stop-color="#1500ea"/><stop offset="0.5987" stop-color="#0101ff"/><stop offset="0.7265" stop-color="#3636ff"/><stop offset="0.8261" stop-color="#4545ff"/><stop offset="0.9070" stop-color="#5151ff"/><stop offset="0.9615" stop-color="#7070ff"/><stop offset="0.9991" stop-color="#9191ff"/></linearGradient><linearGradient id="g209" x1="700" x2="1232" gradientUnits="userSpaceOnUse"><stop offset="0.0009" stop-color="#a2a2ff"/><stop offset="0.0686" stop-color="#7373ff"/><stop offset="0.1306" stop-color="#6060ff"/><stop offset="0.2547" stop-color="#4e4eff"/><stop offset="0.3543" stop-color="#2424ff"/><stop offset="0.4314" stop-color="#0100fe"/><stop offset="0.4953" stop-color="#1100ee"/><stop offset="0.5555" stop-color="#0800f7"/><stop offset="0.5818" stop-color="#0101ff"/><stop offset="0.7303" stop-color="#3e3eff"/><stop offset="0.8318" stop-color="#4e4eff"/><stop offset="0.9107" stop-color="#5a5aff"/><stop offset="0.9652" stop-color="#7979ff"/><stop offset="0.9991" stop-color="#9696ff"/></linearGradient><linearGradient id="g210" x1="700" x2="1232" gradientUnits="userSpaceOnUse"><stop offset="0.0009" stop-color="#a5a5ff"/><stop offset="0.0705" stop-color="#7676ff"/><stop offset="0.1344" stop-color="#6464ff"/><stop offset="0.2547" stop-color="#5353ff"/><stop offset="0.3600" stop-color="#2727ff"/><stop offset="0.4521" stop-color="#0100fe"/><stop offset="0.5122" stop-color="#0900f6"/><stop offset="0.5630" stop-color="#0202ff"/><stop offset="0.7378" stop-color="#4848ff"/><stop offset="0.8468" stop-color="#5757ff"/><stop offset="0.9182" stop-color="#6565ff"/><stop offset="0.9765" stop-color="#8888ff"/><stop offset="0.9991" stop-color="#9b9bff"/></linearGradient><linearGradient id="g211" x1="700" x2="1232" gradientUnits="userSpaceOnUse"><stop offset="0.0009" stop-color="#a8a8ff"/><stop offset="0.0705" stop-color="#7a7aff"/><stop offset="0.1363" stop-color="#6969ff"/><stop offset="0.2547" stop-color="#5858ff"/><stop offset="0.3675" stop-color="#2a2aff"/><stop offset="0.4652" stop-color="#0404ff"/><stop offset="0.5291" stop-color="#0202ff"/><stop offset="0.6194" stop-color="#2020ff"/><stop offset="0.7453" stop-color="#5151ff"/><stop offset="0.9107" stop-color="#6969ff"/><stop offset="0.9690" stop-color="#8888ff"/><stop offset="0.9991" stop-color="#9f9fff"/></linearGradient><linearGradient id="g212" x1="700" x2="1232" gradientUnits="userSpaceOnUse"><stop offset="0.0009" stop-color="#aaaaff"/><stop offset="0.0724" stop-color="#7e7eff"/><stop offset="0.1419" stop-color="#6d6dff"/><stop offset="0.2547" stop-color="#5d5dff"/><stop offset="0.3788" stop-color="#2b2bff"/><stop offset="0.4690" stop-color="#0b0bff"/><stop offset="0.5310" stop-color="#0a0aff"/><stop offset="0.6250" stop-color="#2929ff"/><stop offset="0.7491" stop-color="#5858ff"/><stop offset="0.9145" stop-color="#7272ff"/><stop offset="0.9746" stop-color="#9292ff"/><stop offset="0.9991" stop-color="#a4a4ff"/></linearGradient><linearGradient id="g213" x1="700" x2="1232" gradientUnits="userSpaceOnUse"><stop offset="0.0009" stop-color="#adadff"/><stop offset="0.0724" stop-color="#8282ff"/><stop offset="0.1419" stop-color="#7171ff"/><stop offset="0.2547" stop-color="#6262ff"/><stop offset="0.4558" stop-color="#1515ff"/><stop offset="0.5216" stop-color="#1111ff"/><stop offset="0.6062" stop-color="#2828ff"/><stop offset="0.7509" stop-color="#5f5fff"/><stop offset="0.9164" stop-color="#7979ff"/><stop offset="0.9803" stop-color="#9b9bff"/><stop offset="0.9991" stop-color="#a8a8ff"/></linearGradient><linearGradient id="g214" x1="700" x2="1232" gradientUnits="userSpaceOnUse"><stop offset="0.0009" stop-color="#b0b0ff"/><stop offset="0.0742" stop-color="#8585ff"/><stop offset="0.1476" stop-color="#7575ff"/><stop offset="0.2566" stop-color="#6666ff"/><stop offset="0.4539" stop-color="#1d1dff"/><stop offset="0.5216" stop-color="#1818ff"/><stop offset="0.6081" stop-color="#2f2fff"/><stop offset="0.7566" stop-color="#6767ff"/><stop offset="0.9182" stop-color="#8080ff"/><stop offset="0.9840" stop-color="#a2a2ff"/><stop offset="0.9991" stop-color="#acacff"/></linearGradient><linearGradient id="g215" x1="700" x2="1232" gradientUnits="userSpaceOnUse"><stop offset="0.0009" stop-color="#b2b2ff"/><stop offset="0.0742" stop-color="#8989ff"/><stop offset="0.1494" stop-color="#7a7aff"/><stop offset="0.2585" stop-color="#6a6aff"/><stop offset="0.4521" stop-color="#2424ff"/><stop offset="0.5216" stop-color="#2020ff"/><stop offset="0.6081" stop-color="#3636ff"/><stop offset="0.7603" stop-color="#6d6dff"/><stop offset="0.9201" stop-color="#8686ff"/><stop offset="0.9897" stop-color="#aaaaff"/><stop offset="0.9991" stop-color="#b0b0ff"/></linearGradient><linearGradient id="g216" x1="700" x2="1232" gradientUnits="userSpaceOnUse"><stop offset="0.0009" stop-color="#b5b5ff"/><stop offset="0.0761" stop-color="#8c8cff"/><stop offset="0.1570" stop-color="#7e7eff"/><stop offset="0.2622" stop-color="#6e6eff"/><stop offset="0.4502" stop-color="#2c2cff"/><stop offset="0.5216" stop-color="#2727ff"/><stop offset="0.6100" stop-color="#3d3dff"/><stop offset="0.7641" stop-color="#7373ff"/><stop offset="0.9220" stop-color="#8c8cff"/><stop offset="0.9934" stop-color="#b0b0ff"/><stop offset="0.9991" stop-color="#b4b4ff"/></linearGradient><linearGradient id="g217" x1="700" x2="1232" gradientUnits="userSpaceOnUse"><stop offset="0.0009" stop-color="#b7b7ff"/><stop offset="0.0761" stop-color="#9090ff"/><stop offset="0.1607" stop-color="#8282ff"/><stop offset="0.2641" stop-color="#7171ff"/><stop offset="0.4483" stop-color="#3232ff"/><stop offset="0.5235" stop-color="#2e2eff"/><stop offset="0.6156" stop-color="#4444ff"/><stop offset="0.7679" stop-color="#7979ff"/><stop offset="0.9239" stop-color="#9292ff"/><stop offset="0.9991" stop-color="#b7b7ff"/></linearGradient><linearGradient id="g218" x1="700" x2="1232" gradientUnits="userSpaceOnUse"><stop offset="0.0009" stop-color="#babaff"/><stop offset="0.0780" stop-color="#9393ff"/><stop offset="0.1682" stop-color="#8585ff"/><stop offset="0.2697" stop-color="#7474ff"/><stop offset="0.4445" stop-color="#3939ff"/><stop offset="0.5216" stop-color="#3434ff"/><stop offset="0.6137" stop-color="#4949ff"/><stop offset="0.7716" stop-color="#7f7fff"/><stop offset="0.9258" stop-color="#9797ff"/><stop offset="0.9991" stop-color="#babaff"/></linearGradient><linearGradient id="g219" x1="700" x2="1232" gradientUnits="userSpaceOnUse"><stop offset="0.0009" stop-color="#bcbcff"/><stop offset="0.0780" stop-color="#9797ff"/><stop offset="0.1739" stop-color="#8989ff"/><stop offset="0.2754" stop-color="#7777ff"/><stop offset="0.4445" stop-color="#4040ff"/><stop offset="0.5235" stop-color="#3b3bff"/><stop offset="0.6194" stop-color="#5151ff"/><stop offset="0.7754" stop-color="#8484ff"/><stop offset="0.9276" stop-color="#9c9cff"/><stop offset="0.9991" stop-color="#bdbdff"/></linearGradient><linearGradient id="g220" x1="700" x2="1232" gradientUnits="userSpaceOnUse"><stop offset="0.0009" stop-color="#bfbfff"/><stop offset="0.0799" stop-color="#9b9bff"/><stop offset="0.2641" stop-color="#7e7eff"/><stop offset="0.4445" stop-color="#4646ff"/><stop offset="0.5254" stop-color="#4242ff"/><stop offset="0.6231" stop-color="#5858ff"/><stop offset="0.7791" stop-color="#8a8aff"/><stop offset="0.9295" stop-color="#a1a1ff"/><stop offset="0.9991" stop-color="#c0c0ff"/></linearGradient><linearGradient id="g221" x1="700" x2="1232" gradientUnits="userSpaceOnUse"><stop offset="0.0009" stop-color="#c2c2ff"/><stop offset="0.0818" stop-color="#9e9eff"/><stop offset="0.2641" stop-color="#8383ff"/><stop offset="0.4445" stop-color="#4d4dff"/><stop offset="0.5273" stop-color="#4949ff"/><stop offset="0.6288" stop-color="#5f5fff"/><stop offset="0.7829" stop-color="#8f8fff"/><stop offset="0.9314" stop-color="#a6a6ff"/><stop offset="0.9991" stop-color="#c3c3ff"/></linearGradient><linearGradient id="g222" x1="700" x2="1232" gradientUnits="userSpaceOnUse"><stop offset="0.0009" stop-color="#c4c4ff"/><stop offset="0.0836" stop-color="#a2a2ff"/><stop offset="0.2622" stop-color="#8888ff"/><stop offset="0.4445" stop-color="#5454ff"/><stop offset="0.5310" stop-color="#5050ff"/><stop offset="0.6363" stop-color="#6868ff"/><stop offset="0.7867" stop-color="#9494ff"/><stop offset="0.9333" stop-color="#ababff"/><stop offset="0.9991" stop-color="#c6c6ff"/></linearGradient><linearGradient id="g223" x1="700" x2="1232" gradientUnits="userSpaceOnUse"><stop offset="0.0009" stop-color="#c7c7ff"/><stop offset="0.0855" stop-color="#a6a6ff"/><stop offset="0.2622" stop-color="#8d8dff"/><stop offset="0.4445" stop-color="#5a5aff"/><stop offset="0.5329" stop-color="#5757ff"/><stop offset="0.6419" stop-color="#6f6fff"/><stop offset="0.7923" stop-color="#9a9aff"/><stop offset="0.9352" stop-color="#afafff"/><stop offset="0.9991" stop-color="#c8c8ff"/></linearGradient><linearGradient id="g224" x1="700" x2="1232" gradientUnits="userSpaceOnUse"><stop offset="0.0009" stop-color="#c9c9ff"/><stop offset="0.0855" stop-color="#aaaaff"/><stop offset="0.2641" stop-color="#9191ff"/><stop offset="0.4445" stop-color="#6161ff"/><stop offset="0.5348" stop-color="#5f5fff"/><stop offset="0.6494" stop-color="#7878ff"/><stop offset="0.7961" stop-color="#9f9fff"/><stop offset="0.9370" stop-color="#b4b4ff"/><stop offset="0.9991" stop-color="#cbcbff"/></linearGradient><linearGradient id="g225" x1="700" x2="1232" gradientUnits="userSpaceOnUse"><stop offset="0.0009" stop-color="#ccccff"/><stop offset="0.0874" stop-color="#aeaeff"/><stop offset="0.2641" stop-color="#9696ff"/><stop offset="0.4445" stop-color="#6868ff"/><stop offset="0.5385" stop-color="#6666ff"/><stop offset="0.6588" stop-color="#8080ff"/><stop offset="0.8017" stop-color="#a4a4ff"/><stop offset="0.9408" stop-color="#b8b8ff"/><stop offset="0.9991" stop-color="#ceceff"/></linearGradient><linearGradient id="g226" x1="700" x2="1232" gradientUnits="userSpaceOnUse"><stop offset="0.0009" stop-color="#cfcfff"/><stop offset="0.0912" stop-color="#b1b1ff"/><stop offset="0.2641" stop-color="#9b9bff"/><stop offset="0.4445" stop-color="#6f6fff"/><stop offset="0.5404" stop-color="#6d6dff"/><stop offset="0.6664" stop-color="#8888ff"/><stop offset="0.8092" stop-color="#aaaaff"/><stop offset="0.9427" stop-color="#bdbdff"/><stop offset="0.9991" stop-color="#d0d0ff"/></linearGradient><linearGradient id="g227" x1="700" x2="1232" gradientUnits="userSpaceOnUse"><stop offset="0.0009" stop-color="#d1d1ff"/><stop offset="0.0930" stop-color="#b5b5ff"/><stop offset="0.2641" stop-color="#9f9fff"/><stop offset="0.4464" stop-color="#7575ff"/><stop offset="0.5461" stop-color="#7474ff"/><stop offset="0.6814" stop-color="#9191ff"/><stop offset="0.8186" stop-color="#afafff"/><stop offset="0.9464" stop-color="#c1c1ff"/><stop offset="0.9991" stop-color="#d3d3ff"/></linearGradient><linearGradient id="g228" x1="700" x2="1232" gradientUnits="userSpaceOnUse"><stop offset="0.0009" stop-color="#d4d4ff"/><stop offset="0.0949" stop-color="#b8b8ff"/><stop offset="0.2641" stop-color="#a4a4ff"/><stop offset="0.4483" stop-color="#7c7cff"/><stop offset="0.5517" stop-color="#7c7cff"/><stop offset="0.7021" stop-color="#9c9cff"/><stop offset="0.8336" stop-color="#b5b5ff"/><stop offset="0.9502" stop-color="#c5c5ff"/><stop offset="0.9991" stop-color="#d5d5ff"/></linearGradient><linearGradient id="g229" x1="700" x2="1232" gradientUnits="userSpaceOnUse"><stop offset="0.0009" stop-color="#d6d6ff"/><stop offset="0.0968" stop-color="#bcbcff"/><stop offset="0.2660" stop-color="#a8a8ff"/><stop offset="0.4483" stop-color="#8282ff"/><stop offset="0.5536" stop-color="#8282ff"/><stop offset="0.7171" stop-color="#a4a4ff"/><stop offset="0.8506" stop-color="#babaff"/><stop offset="0.9596" stop-color="#cbcbff"/><stop offset="0.9991" stop-color="#d7d7ff"/></linearGradient><linearGradient id="g230" x1="700" x2="1232" gradientUnits="userSpaceOnUse"><stop offset="0.0009" stop-color="#d8d8ff"/><stop offset="0.1006" stop-color="#bfbfff"/><stop offset="0.2679" stop-color="#acacff"/><stop offset="0.4502" stop-color="#8888ff"/><stop offset="0.5592" stop-color="#8989ff"/><stop offset="0.8280" stop-color="#bcbcff"/><stop offset="0.9539" stop-color="#ccccff"/><stop offset="0.9991" stop-color="#d9d9ff"/></linearGradient><linearGradient id="g231" x1="700" x2="1232" gradientUnits="userSpaceOnUse"><stop offset="0.0009" stop-color="#dadaff"/><stop offset="0.1024" stop-color="#c2c2ff"/><stop offset="0.2697" stop-color="#b0b0ff"/><stop offset="0.4521" stop-color="#8e8eff"/><stop offset="0.5648" stop-color="#9090ff"/><stop offset="0.8318" stop-color="#bfbfff"/><stop offset="0.9577" stop-color="#d0d0ff"/><stop offset="0.9991" stop-color="#dbdbff"/></linearGradient><linearGradient id="g232" x1="700" x2="1232" gradientUnits="userSpaceOnUse"><stop offset="0.0009" stop-color="#dcdcff"/><stop offset="0.1062" stop-color="#c5c5ff"/><stop offset="0.2716" stop-color="#b3b3ff"/><stop offset="0.4539" stop-color="#9393ff"/><stop offset="0.5705" stop-color="#9696ff"/><stop offset="0.8336" stop-color="#c3c3ff"/><stop offset="0.9615" stop-color="#d3d3ff"/><stop offset="0.9991" stop-color="#ddddff"/></linearGradient><linearGradient id="g233" x1="700" x2="1232" gradientUnits="userSpaceOnUse"><stop offset="0.0009" stop-color="#dedeff"/><stop offset="0.1081" stop-color="#c8c8ff"/><stop offset="0.2754" stop-color="#b7b7ff"/><stop offset="0.4558" stop-color="#9999ff"/><stop offset="0.5780" stop-color="#9c9cff"/><stop offset="0.8374" stop-color="#c6c6ff"/><stop offset="0.9652" stop-color="#d7d7ff"/><stop offset="0.9991" stop-color="#dfdfff"/></linearGradient><linearGradient id="g234" x1="700" x2="1232" gradientUnits="userSpaceOnUse"><stop offset="0.0009" stop-color="#e0e0ff"/><stop offset="0.1118" stop-color="#cbcbff"/><stop offset="0.2791" stop-color="#babaff"/><stop offset="0.4596" stop-color="#9e9eff"/><stop offset="0.5855" stop-color="#a2a2ff"/><stop offset="0.8393" stop-color="#c9c9ff"/><stop offset="0.9690" stop-color="#dadaff"/><stop offset="0.9991" stop-color="#e1e1ff"/></linearGradient><linearGradient id="g235" x1="700" x2="1232" gradientUnits="userSpaceOnUse"><stop offset="0.0009" stop-color="#e2e2ff"/><stop offset="0.1156" stop-color="#ceceff"/><stop offset="0.2848" stop-color="#bcbcff"/><stop offset="0.4633" stop-color="#a3a3ff"/><stop offset="0.5949" stop-color="#a8a8ff"/><stop offset="0.8430" stop-color="#cdcdff"/><stop offset="0.9746" stop-color="#ddddff"/><stop offset="0.9991" stop-color="#e3e3ff"/></linearGradient><linearGradient id="g236" x1="700" x2="1232" gradientUnits="userSpaceOnUse"><stop offset="0.0009" stop-color="#e4e4ff"/><stop offset="0.1194" stop-color="#d0d0ff"/><stop offset="0.2904" stop-color="#bfbfff"/><stop offset="0.4671" stop-color="#a7a7ff"/><stop offset="0.6024" stop-color="#adadff"/><stop offset="0.8468" stop-color="#d0d0ff"/><stop offset="0.9803" stop-color="#e0e0ff"/><stop offset="0.9991" stop-color="#e4e4ff"/></linearGradient><linearGradient id="g237" x1="700" x2="1232" gradientUnits="userSpaceOnUse"><stop offset="0.0009" stop-color="#e5e5ff"/><stop offset="0.1231" stop-color="#d3d3ff"/><stop offset="0.2961" stop-color="#c1c1ff"/><stop offset="0.4727" stop-color="#ababff"/><stop offset="0.6156" stop-color="#b3b3ff"/><stop offset="0.8524" stop-color="#d2d2ff"/><stop offset="0.9859" stop-color="#e3e3ff"/><stop offset="0.9991" stop-color="#e6e6ff"/></linearGradient><linearGradient id="g238" x1="700" x2="1232" gradientUnits="userSpaceOnUse"><stop offset="0.0009" stop-color="#e7e7ff"/><stop offset="0.1269" stop-color="#d5d5ff"/><stop offset="0.3055" stop-color="#c3c3ff"/><stop offset="0.4784" stop-color="#b0b0ff"/><stop offset="0.6269" stop-color="#b8b8ff"/><stop offset="0.8562" stop-color="#d5d5ff"/><stop offset="0.9934" stop-color="#e6e6ff"/><stop offset="0.9991" stop-color="#e7e7ff"/></linearGradient><linearGradient id="g239" x1="700" x2="1232" gradientUnits="userSpaceOnUse"><stop offset="0.0009" stop-color="#e8e8ff"/><stop offset="0.1325" stop-color="#d7d7ff"/><stop offset="0.3186" stop-color="#c4c4ff"/><stop offset="0.4878" stop-color="#b3b3ff"/><stop offset="0.6457" stop-color="#bebeff"/><stop offset="0.8656" stop-color="#d8d8ff"/><stop offset="0.9991" stop-color="#e8e8ff"/></linearGradient><linearGradient id="g240" x1="700" x2="1232" gradientUnits="userSpaceOnUse"><stop offset="0.0009" stop-color="#e9e9ff"/><stop offset="0.1363" stop-color="#d9d9ff"/><stop offset="0.3336" stop-color="#c5c5ff"/><stop offset="0.4991" stop-color="#b7b7ff"/><stop offset="0.6682" stop-color="#c4c4ff"/><stop offset="0.8806" stop-color="#dbdbff"/><stop offset="0.9991" stop-color="#e9e9ff"/></linearGradient><linearGradient id="g241" x1="700" x2="1232" gradientUnits="userSpaceOnUse"><stop offset="0.0009" stop-color="#eaeaff"/><stop offset="0.1419" stop-color="#dadaff"/><stop offset="0.3731" stop-color="#c2c2ff"/><stop offset="0.5291" stop-color="#bbbbff"/><stop offset="0.7566" stop-color="#d3d3ff"/><stop offset="0.9915" stop-color="#e9e9ff"/><stop offset="0.9991" stop-color="#ebebff"/></linearGradient><linearGradient id="g242" x1="700" x2="1232" gradientUnits="userSpaceOnUse"><stop offset="0.0009" stop-color="#ebebff"/><stop offset="0.1494" stop-color="#dcdcff"/><stop offset="0.4859" stop-color="#bebeff"/><stop offset="0.6588" stop-color="#c9c9ff"/><stop offset="0.8938" stop-color="#dfdfff"/><stop offset="0.9991" stop-color="#ececff"/></linearGradient><linearGradient id="g243" x1="700" x2="1232" gradientUnits="userSpaceOnUse"><stop offset="0.0009" stop-color="#ededff"/><stop offset="0.1570" stop-color="#ddddff"/><stop offset="0.4859" stop-color="#c1c1ff"/><stop offset="0.6645" stop-color="#ccccff"/><stop offset="0.9991" stop-color="#ededff"/></linearGradient><linearGradient id="g244" x1="700" x2="1232" gradientUnits="userSpaceOnUse"><stop offset="0.0009" stop-color="#eeeeff"/><stop offset="0.1664" stop-color="#dfdfff"/><stop offset="0.4859" stop-color="#c4c4ff"/><stop offset="0.6720" stop-color="#cfcfff"/><stop offset="0.9991" stop-color="#eeeeff"/></linearGradient><linearGradient id="g245" x1="700" x2="1232" gradientUnits="userSpaceOnUse"><stop offset="0.0009" stop-color="#eeeeff"/><stop offset="0.1814" stop-color="#e0e0ff"/><stop offset="0.4859" stop-color="#c7c7ff"/><stop offset="0.6776" stop-color="#d2d2ff"/><stop offset="0.9991" stop-color="#eeeeff"/></linearGradient><linearGradient id="g246" x1="700" x2="1232" gradientUnits="userSpaceOnUse"><stop offset="0.0009" stop-color="#efefff"/><stop offset="0.4878" stop-color="#cacaff"/><stop offset="0.6889" stop-color="#d5d5ff"/><stop offset="0.9991" stop-color="#efefff"/></linearGradient><linearGradient id="g247" x1="700" x2="1232" gradientUnits="userSpaceOnUse"><stop offset="0.0009" stop-color="#f0f0ff"/><stop offset="0.4897" stop-color="#ccccff"/><stop offset="0.7002" stop-color="#d9d9ff"/><stop offset="0.9991" stop-color="#f0f0ff"/></linearGradient><linearGradient id="g248" x1="700" x2="1232" gradientUnits="userSpaceOnUse"><stop offset="0.0009" stop-color="#f1f1ff"/><stop offset="0.4915" stop-color="#cfcfff"/><stop offset="0.7133" stop-color="#dcdcff"/><stop offset="0.9991" stop-color="#f1f1ff"/></linearGradient><linearGradient id="g249" x1="700" x2="1232" gradientUnits="userSpaceOnUse"><stop offset="0.0009" stop-color="#f2f2ff"/><stop offset="0.4953" stop-color="#d1d1ff"/><stop offset="0.7359" stop-color="#dfdfff"/><stop offset="0.9991" stop-color="#f2f2ff"/></linearGradient><linearGradient id="g250" x1="700" x2="1232" gradientUnits="userSpaceOnUse"><stop offset="0.0009" stop-color="#f3f3ff"/><stop offset="0.4972" stop-color="#d4d4ff"/><stop offset="0.7585" stop-color="#e3e3ff"/><stop offset="0.9991" stop-color="#f2f2ff"/></linearGradient><linearGradient id="g251" x1="700" x2="1232" gradientUnits="userSpaceOnUse"><stop offset="0.0009" stop-color="#f3f3ff"/><stop offset="0.5009" stop-color="#d6d6ff"/><stop offset="0.9934" stop-color="#f2f2ff"/><stop offset="0.9991" stop-color="#f3f3ff"/></linearGradient><linearGradient id="g252" x1="700" x2="1232" gradientUnits="userSpaceOnUse"><stop offset="0.0009" stop-color="#f4f4ff"/><stop offset="0.5028" stop-color="#d8d8ff"/><stop offset="0.9991" stop-color="#f4f4ff"/></linearGradient><linearGradient id="g253" x1="700" x2="1232" gradientUnits="userSpaceOnUse"><stop offset="0.0009" stop-color="#f5f5ff"/><stop offset="0.5066" stop-color="#dadaff"/><stop offset="0.9991" stop-color="#f4f4ff"/></linearGradient><linearGradient id="g254" x1="700" x2="1232" gradientUnits="userSpaceOnUse"><stop offset="0.0009" stop-color="#f5f5ff"/><stop offset="0.5103" stop-color="#dcdcff"/><stop offset="0.9991" stop-color="#f5f5ff"/></linearGradient><linearGradient id="g255" x1="700" x2="1232" gradientUnits="userSpaceOnUse"><stop offset="0.0009" stop-color="#f6f6ff"/><stop offset="0.5122" stop-color="#dedeff"/><stop offset="0.9991" stop-color="#f5f5ff"/></linearGradient><linearGradient id="g256" x1="700" x2="1232" gradientUnits="userSpaceOnUse"><stop offset="0.0009" stop-color="#f6f6ff"/><stop offset="0.5160" stop-color="#dfdfff"/><stop offset="0.9991" stop-color="#f6f6ff"/></linearGradient><linearGradient id="g257" x1="700" x2="1232" gradientUnits="userSpaceOnUse"><stop offset="0.0009" stop-color="#f7f7ff"/><stop offset="0.5197" stop-color="#e1e1ff"/><stop offset="0.9991" stop-color="#f6f6ff"/></linearGradient><linearGradient id="g258" x1="700" x2="1232" gradientUnits="userSpaceOnUse"><stop offset="0.0009" stop-color="#f7f7ff"/><stop offset="0.5235" stop-color="#e2e2ff"/><stop offset="0.9991" stop-color="#f7f7ff"/></linearGradient><linearGradient id="g259" x1="700" x2="1232" gradientUnits="userSpaceOnUse"><stop offset="0.0009" stop-color="#f8f8ff"/><stop offset="0.5273" stop-color="#e4e4ff"/><stop offset="0.9991" stop-color="#f7f7ff"/></linearGradient><linearGradient id="g260" x1="700" x2="1232" gradientUnits="userSpaceOnUse"><stop offset="0.0009" stop-color="#f8f8ff"/><stop offset="0.5329" stop-color="#e5e5ff"/><stop offset="0.9991" stop-color="#f8f8ff"/></linearGradient><linearGradient id="g261" x1="700" x2="1232" gradientUnits="userSpaceOnUse"><stop offset="0.0009" stop-color="#f8f8ff"/><stop offset="0.5367" stop-color="#e7e7ff"/><stop offset="0.9991" stop-color="#f8f8ff"/></linearGradient><linearGradient id="g262" x1="700" x2="1232" gradientUnits="userSpaceOnUse"><stop offset="0.0009" stop-color="#f9f9ff"/><stop offset="0.5404" stop-color="#e8e8ff"/><stop offset="0.9991" stop-color="#f8f8ff"/></linearGradient><linearGradient id="g263" x1="700" x2="1232" gradientUnits="userSpaceOnUse"><stop offset="0.0009" stop-color="#f9f9ff"/><stop offset="0.5461" stop-color="#e9e9ff"/><stop offset="0.9991" stop-color="#f9f9ff"/></linearGradient><linearGradient id="g264" x1="700" x2="1232" gradientUnits="userSpaceOnUse"><stop offset="0.0009" stop-color="#f9f9ff"/><stop offset="0.5498" stop-color="#eaeaff"/><stop offset="0.9991" stop-color="#f9f9ff"/></linearGradient><linearGradient id="g265" x1="700" x2="1232" gradientUnits="userSpaceOnUse"><stop offset="0.0009" stop-color="#fafaff"/><stop offset="0.5555" stop-color="#ebebff"/><stop offset="0.9991" stop-color="#f9f9ff"/></linearGradient><linearGradient id="g266" x1="700" x2="1232" gradientUnits="userSpaceOnUse"><stop offset="0.0009" stop-color="#fafaff"/><stop offset="0.5611" stop-color="#ededff"/><stop offset="0.9991" stop-color="#fafaff"/></linearGradient><clipPath id="c2"><rect x="700" y="48" width="532" height="532"/></clipPath></defs>
<path d="M306 378h2v2h-2zM309 159h2v2h-2zM307 302h2v2h-2zM317 339h2v2h-2zM348 354h2v2h-2zM303 427h2v2h-2zM341 360h2v2h-2zM346 334h2v2h-2zM321 311h2v2h-2zM316 317h2v2h-2zM334 332h2v2h-2zM345 131h2v2h-2zM359 343h2v2h-2zM340 254h2v2h-2zM351 220h2v2h-2zM320 196h2v2h-2zM314 140h2v2h-2zM301 244h2v2h-2zM310 388h2v2h-2zM321 233h2v2h-2zM330 300h2v2h-2zM307 246h2v2h-2zM339 326h2v2h-2zM325 274h2v2h-2zM317 226h2v2h-2zM315 298h2v2h-2zM357 155h2v2h-2zM329 259h2v2h-2zM313 313h2v2h-2zM312 328h2v2h-2zM354 293h2v2h-2zM318 203h2v2h-2zM345 185h2v2h-2zM348 233h2v2h-2zM292 382h2v2h-2zM347 375h2v2h-2zM324 416h2v2h-2zM311 306h2v2h-2zM319 386h2v2h-2zM335 282h2v2h-2zM332 317h2v2h-2zM333 423h2v2h-2zM316 166h2v2h-2zM346 453h2v2h-2zM349 220h2v2h-2zM354 304h2v2h-2zM342 220h2v2h-2zM355 84h2v2h-2zM358 367h2v2h-2zM337 220h2v2h-2zM340 280h2v2h-2zM336 174h2v2h-2zM335 341h2v2h-2zM340 403h2v2h-2zM301 300h2v2h-2zM322 211h2v2h-2zM334 375h2v2h-2zM295 228h2v2h-2zM305 306h2v2h-2zM351 365h2v2h-2zM311 246h2v2h-2zM320 315h2v2h-2zM332 99h2v2h-2zM320 274h2v2h-2zM314 306h2v2h-2zM319 282h2v2h-2zM320 317h2v2h-2zM318 261h2v2h-2zM330 205h2v2h-2zM351 216h2v2h-2zM332 313h2v2h-2zM351 162h2v2h-2zM338 231h2v2h-2zM339 129h2v2h-2zM336 211h2v2h-2zM322 213h2v2h-2zM333 412h2v2h-2zM331 330h2v2h-2zM310 90h2v2h-2zM338 300h2v2h-2zM335 142h2v2h-2zM332 181h2v2h-2zM318 105h2v2h-2zM287 339h2v2h-2zM349 181h2v2h-2zM326 235h2v2h-2zM294 401h2v2h-2zM337 194h2v2h-2zM316 347h2v2h-2zM337 308h2v2h-2zM325 345h2v2h-2zM344 403h2v2h-2zM330 330h2v2h-2zM331 287h2v2h-2zM329 226h2v2h-2zM345 278h2v2h-2zM307 207h2v2h-2zM344 304h2v2h-2zM337 298h2v2h-2zM318 162h2v2h-2zM327 282h2v2h-2zM320 382h2v2h-2zM328 371h2v2h-2zM341 414h2v2h-2zM317 183h2v2h-2zM338 356h2v2h-2zM341 207h2v2h-2zM336 209h2v2h-2zM350 395h2v2h-2zM326 246h2v2h-2zM337 300h2v2h-2zM364 205h2v2h-2zM327 105h2v2h-2zM325 239h2v2h-2zM327 144h2v2h-2zM336 235h2v2h-2zM318 224h2v2h-2zM323 120h2v2h-2zM300 328h2v2h-2zM311 211h2v2h-2zM311 332h2v2h-2zM309 194h2v2h-2zM320 144h2v2h-2zM337 244h2v2h-2zM321 272h2v2h-2zM307 285h2v2h-2zM330 336h2v2h-2zM329 365h2v2h-2zM306 205h2v2h-2zM329 332h2v2h-2zM311 356h2v2h-2zM317 244h2v2h-2zM316 200h2v2h-2zM339 237h2v2h-2zM314 412h2v2h-2zM322 298h2v2h-2zM330 97h2v2h-2zM342 365h2v2h-2zM344 224h2v2h-2zM311 308h2v2h-2zM345 151h2v2h-2zM331 311h2v2h-2zM345 349h2v2h-2zM343 386h2v2h-2zM319 365h2v2h-2zM327 321h2v2h-2zM322 170h2v2h-2zM332 328h2v2h-2zM352 304h2v2h-2zM328 205h2v2h-2zM317 149h2v2h-2zM365 231h2v2h-2zM312 300h2v2h-2zM327 207h2v2h-2zM327 369h2v2h-2zM308 244h2v2h-2zM339 241h2v2h-2zM343 142h2v2h-2zM326 263h2v2h-2zM328 282h2v2h-2zM324 295h2v2h-2zM300 114h2v2h-2zM330 131h2v2h-2zM308 336h2v2h-2zM312 194h2v2h-2zM333 332h2v2h-2zM341 194h2v2h-2zM314 259h2v2h-2zM344 170h2v2h-2zM353 408h2v2h-2zM329 362h2v2h-2zM326 146h2v2h-2zM330 317h2v2h-2zM321 356h2v2h-2zM314 306h2v2h-2zM336 321h2v2h-2zM338 190h2v2h-2zM319 235h2v2h-2zM321 166h2v2h-2zM318 198h2v2h-2zM316 179h2v2h-2zM312 140h2v2h-2zM304 393h2v2h-2zM340 347h2v2h-2zM322 384h2v2h-2zM328 272h2v2h-2zM354 328h2v2h-2zM320 313h2v2h-2zM335 410h2v2h-2zM307 423h2v2h-2zM317 393h2v2h-2zM337 298h2v2h-2zM323 401h2v2h-2zM305 263h2v2h-2zM304 97h2v2h-2zM332 194h2v2h-2zM313 328h2v2h-2zM337 174h2v2h-2zM331 334h2v2h-2zM322 220h2v2h-2zM326 179h2v2h-2zM338 228h2v2h-2zM327 457h2v2h-2zM313 235h2v2h-2zM332 168h2v2h-2zM321 82h2v2h-2zM323 192h2v2h-2zM335 345h2v2h-2zM332 138h2v2h-2zM342 151h2v2h-2zM324 254h2v2h-2zM320 222h2v2h-2zM322 311h2v2h-2zM332 313h2v2h-2zM315 317h2v2h-2zM321 347h2v2h-2zM314 192h2v2h-2zM315 272h2v2h-2zM324 330h2v2h-2zM362 416h2v2h-2zM321 345h2v2h-2zM331 213h2v2h-2zM328 125h2v2h-2zM324 203h2v2h-2zM327 300h2v2h-2zM356 162h2v2h-2zM323 367h2v2h-2zM350 315h2v2h-2zM336 209h2v2h-2zM314 298h2v2h-2zM317 270h2v2h-2zM320 373h2v2h-2zM311 153h2v2h-2zM344 263h2v2h-2zM333 250h2v2h-2zM335 313h2v2h-2zM312 276h2v2h-2zM334 146h2v2h-2zM319 233h2v2h-2zM362 343h2v2h-2zM325 410h2v2h-2zM331 378h2v2h-2zM333 347h2v2h-2zM320 343h2v2h-2zM321 401h2v2h-2zM321 479h2v2h-2zM339 228h2v2h-2zM316 412h2v2h-2zM324 369h2v2h-2zM332 226h2v2h-2zM321 142h2v2h-2zM307 311h2v2h-2zM309 304h2v2h-2zM321 203h2v2h-2zM313 142h2v2h-2zM341 125h2v2h-2zM327 248h2v2h-2zM326 203h2v2h-2zM312 164h2v2h-2zM334 285h2v2h-2zM321 179h2v2h-2zM313 233h2v2h-2zM317 365h2v2h-2zM361 133h2v2h-2zM318 207h2v2h-2zM314 153h2v2h-2zM343 151h2v2h-2zM337 397h2v2h-2zM322 250h2v2h-2zM347 308h2v2h-2zM305 345h2v2h-2zM320 144h2v2h-2zM303 138h2v2h-2zM347 403h2v2h-2zM327 354h2v2h-2zM364 222h2v2h-2zM333 419h2v2h-2zM333 259h2v2h-2zM310 231h2v2h-2zM309 395h2v2h-2zM319 90h2v2h-2zM339 166h2v2h-2zM311 250h2v2h-2zM292 358h2v2h-2zM338 170h2v2h-2zM339 380h2v2h-2zM313 203h2v2h-2zM332 319h2v2h-2zM342 395h2v2h-2zM343 218h2v2h-2zM303 373h2v2h-2zM327 308h2v2h-2zM314 257h2v2h-2zM340 252h2v2h-2zM327 308h2v2h-2zM308 341h2v2h-2zM327 164h2v2h-2zM334 388h2v2h-2zM303 287h2v2h-2zM306 209h2v2h-2zM315 183h2v2h-2zM321 146h2v2h-2zM317 354h2v2h-2zM298 390h2v2h-2zM302 118h2v2h-2zM325 170h2v2h-2zM331 157h2v2h-2zM312 146h2v2h-2zM328 358h2v2h-2zM353 282h2v2h-2zM322 505h2v2h-2zM319 179h2v2h-2zM315 73h2v2h-2zM332 378h2v2h-2zM329 164h2v2h-2zM329 298h2v2h-2zM320 200h2v2h-2zM332 276h2v2h-2zM332 231h2v2h-2zM324 187h2v2h-2zM343 317h2v2h-2zM303 222h2v2h-2zM336 254h2v2h-2zM324 246h2v2h-2zM338 166h2v2h-2zM354 289h2v2h-2zM327 298h2v2h-2zM323 326h2v2h-2zM326 285h2v2h-2zM347 162h2v2h-2zM349 328h2v2h-2zM329 382h2v2h-2zM336 209h2v2h-2zM353 127h2v2h-2zM334 209h2v2h-2zM304 218h2v2h-2zM315 205h2v2h-2zM319 170h2v2h-2zM332 226h2v2h-2zM318 378h2v2h-2zM347 116h2v2h-2zM320 164h2v2h-2zM350 278h2v2h-2zM317 326h2v2h-2zM347 308h2v2h-2zM330 345h2v2h-2zM348 216h2v2h-2zM356 369h2v2h-2zM353 339h2v2h-2zM343 198h2v2h-2zM316 231h2v2h-2zM315 354h2v2h-2zM280 362h2v2h-2zM349 302h2v2h-2zM346 136h2v2h-2zM343 362h2v2h-2zM311 192h2v2h-2zM368 209h2v2h-2zM318 265h2v2h-2zM340 302h2v2h-2zM304 285h2v2h-2zM319 185h2v2h-2zM346 386h2v2h-2zM343 265h2v2h-2zM312 209h2v2h-2zM326 224h2v2h-2zM344 360h2v2h-2zM300 265h2v2h-2zM339 373h2v2h-2zM305 378h2v2h-2zM337 317h2v2h-2zM324 97h2v2h-2zM342 397h2v2h-2zM320 388h2v2h-2zM322 133h2v2h-2zM322 181h2v2h-2zM313 362h2v2h-2zM323 233h2v2h-2zM312 248h2v2h-2zM319 358h2v2h-2zM337 390h2v2h-2zM322 332h2v2h-2zM343 99h2v2h-2zM337 149h2v2h-2zM339 373h2v2h-2zM310 375h2v2h-2zM333 263h2v2h-2zM348 226h2v2h-2zM340 250h2v2h-2zM345 399h2v2h-2zM350 151h2v2h-2zM304 220h2v2h-2zM335 179h2v2h-2zM335 282h2v2h-2zM324 265h2v2h-2zM307 226h2v2h-2zM329 216h2v2h-2zM324 194h2v2h-2zM356 226h2v2h-2zM346 211h2v2h-2zM321 257h2v2h-2zM311 317h2v2h-2zM314 345h2v2h-2zM326 177h2v2h-2zM316 427h2v2h-2zM356 330h2v2h-2zM309 203h2v2h-2zM326 190h2v2h-2zM329 114h2v2h-2zM333 375h2v2h-2zM426 406h2v2h-2zM407 347h2v2h-2zM180 436h2v2h-2zM145 419h2v2h-2zM511 453h2v2h-2zM427 440h2v2h-2zM383 328h2v2h-2zM269 319h2v2h-2zM364 449h2v2h-2zM190 399h2v2h-2zM303 378h2v2h-2zM234 468h2v2h-2zM403 298h2v2h-2zM87 349h2v2h-2zM337 300h2v2h-2zM347 442h2v2h-2zM547 319h2v2h-2zM269 365h2v2h-2zM548 498h2v2h-2zM116 343h2v2h-2zM155 326h2v2h-2zM346 410h2v2h-2zM92 542h2v2h-2zM296 384h2v2h-2zM364 453h2v2h-2zM200 369h2v2h-2zM146 444h2v2h-2zM396 157h2v2h-2zM318 354h2v2h-2zM354 356h2v2h-2zM332 416h2v2h-2zM148 341h2v2h-2zM373 401h2v2h-2zM130 365h2v2h-2zM315 332h2v2h-2zM518 367h2v2h-2zM129 429h2v2h-2zM535 401h2v2h-2zM234 401h2v2h-2zM566 347h2v2h-2zM323 336h2v2h-2zM462 270h2v2h-2zM516 378h2v2h-2zM126 399h2v2h-2zM224 358h2v2h-2zM360 380h2v2h-2zM135 285h2v2h-2zM206 406h2v2h-2zM251 453h2v2h-2zM290 406h2v2h-2zM533 388h2v2h-2zM556 393h2v2h-2zM561 380h2v2h-2zM315 274h2v2h-2zM277 304h2v2h-2zM160 257h2v2h-2zM472 308h2v2h-2zM294 453h2v2h-2zM278 438h2v2h-2zM150 302h2v2h-2zM203 282h2v2h-2zM286 397h2v2h-2zM263 332h2v2h-2zM244 336h2v2h-2zM131 375h2v2h-2zM335 460h2v2h-2zM191 362h2v2h-2zM437 419h2v2h-2zM538 429h2v2h-2zM551 399h2v2h-2zM236 358h2v2h-2zM355 382h2v2h-2zM422 453h2v2h-2zM232 427h2v2h-2zM249 341h2v2h-2zM140 384h2v2h-2zM367 395h2v2h-2zM562 390h2v2h-2zM183 343h2v2h-2zM124 339h2v2h-2zM255 263h2v2h-2zM125 326h2v2h-2zM507 397h2v2h-2zM220 289h2v2h-2zM196 386h2v2h-2zM216 427h2v2h-2zM173 468h2v2h-2zM504 397h2v2h-2zM346 432h2v2h-2zM299 406h2v2h-2zM303 308h2v2h-2zM559 449h2v2h-2zM475 414h2v2h-2zM427 313h2v2h-2zM319 371h2v2h-2zM513 274h2v2h-2zM334 423h2v2h-2zM424 302h2v2h-2zM513 317h2v2h-2zM268 315h2v2h-2zM259 410h2v2h-2zM422 488h2v2h-2zM513 352h2v2h-2zM476 410h2v2h-2zM172 313h2v2h-2zM438 380h2v2h-2zM401 339h2v2h-2zM363 252h2v2h-2zM288 488h2v2h-2zM291 460h2v2h-2zM306 429h2v2h-2zM470 349h2v2h-2zM139 248h2v2h-2zM340 321h2v2h-2zM386 388h2v2h-2zM101 371h2v2h-2zM128 401h2v2h-2zM555 321h2v2h-2zM416 416h2v2h-2zM386 412h2v2h-2zM242 408h2v2h-2zM545 457h2v2h-2zM554 367h2v2h-2zM317 408h2v2h-2zM105 460h2v2h-2zM265 449h2v2h-2zM113 440h2v2h-2zM367 347h2v2h-2zM145 419h2v2h-2zM352 246h2v2h-2zM460 492h2v2h-2zM456 334h2v2h-2zM129 401h2v2h-2zM560 302h2v2h-2zM159 231h2v2h-2zM202 332h2v2h-2zM97 481h2v2h-2zM91 522h2v2h-2zM119 367h2v2h-2zM299 345h2v2h-2zM145 425h2v2h-2zM185 416h2v2h-2zM412 345h2v2h-2zM392 380h2v2h-2zM366 306h2v2h-2zM165 315h2v2h-2zM295 365h2v2h-2zM386 311h2v2h-2zM354 220h2v2h-2zM519 382h2v2h-2zM348 447h2v2h-2zM446 339h2v2h-2zM539 233h2v2h-2zM313 524h2v2h-2zM438 308h2v2h-2zM344 358h2v2h-2zM97 336h2v2h-2zM146 373h2v2h-2zM492 336h2v2h-2zM310 261h2v2h-2zM513 479h2v2h-2zM342 486h2v2h-2zM358 449h2v2h-2zM375 397h2v2h-2zM388 397h2v2h-2zM510 449h2v2h-2zM398 410h2v2h-2zM193 289h2v2h-2zM386 466h2v2h-2zM562 356h2v2h-2zM429 300h2v2h-2zM535 462h2v2h-2zM495 386h2v2h-2zM108 196h2v2h-2zM435 399h2v2h-2zM441 280h2v2h-2zM233 412h2v2h-2zM564 345h2v2h-2zM498 390h2v2h-2zM547 386h2v2h-2zM273 410h2v2h-2zM168 380h2v2h-2zM297 282h2v2h-2zM302 460h2v2h-2zM364 246h2v2h-2zM193 455h2v2h-2zM527 483h2v2h-2zM297 455h2v2h-2zM168 289h2v2h-2zM388 427h2v2h-2zM506 375h2v2h-2zM341 380h2v2h-2zM128 464h2v2h-2zM509 291h2v2h-2zM121 427h2v2h-2zM80 453h2v2h-2zM214 421h2v2h-2zM361 358h2v2h-2zM516 496h2v2h-2zM461 362h2v2h-2zM290 371h2v2h-2zM511 421h2v2h-2zM318 449h2v2h-2zM130 336h2v2h-2zM404 220h2v2h-2zM548 477h2v2h-2zM355 263h2v2h-2zM440 360h2v2h-2zM269 498h2v2h-2zM570 451h2v2h-2zM233 360h2v2h-2zM451 490h2v2h-2zM220 231h2v2h-2zM259 421h2v2h-2zM137 226h2v2h-2zM359 285h2v2h-2zM346 334h2v2h-2zM308 462h2v2h-2zM359 356h2v2h-2zM514 244h2v2h-2zM275 252h2v2h-2zM452 218h2v2h-2zM130 466h2v2h-2zM502 362h2v2h-2zM436 369h2v2h-2zM309 362h2v2h-2zM328 326h2v2h-2zM534 498h2v2h-2zM171 410h2v2h-2zM520 367h2v2h-2zM252 380h2v2h-2zM270 365h2v2h-2zM371 416h2v2h-2zM295 524h2v2h-2zM217 367h2v2h-2zM208 442h2v2h-2zM286 311h2v2h-2zM377 257h2v2h-2zM482 371h2v2h-2zM84 466h2v2h-2zM309 395h2v2h-2zM282 423h2v2h-2zM128 414h2v2h-2zM427 308h2v2h-2zM379 410h2v2h-2zM252 287h2v2h-2zM416 358h2v2h-2zM340 436h2v2h-2zM328 252h2v2h-2zM527 462h2v2h-2zM322 477h2v2h-2zM105 332h2v2h-2zM133 300h2v2h-2zM332 406h2v2h-2zM455 352h2v2h-2zM271 386h2v2h-2zM534 399h2v2h-2zM118 419h2v2h-2zM231 278h2v2h-2zM171 378h2v2h-2zM387 386h2v2h-2zM370 408h2v2h-2zM503 300h2v2h-2zM268 455h2v2h-2zM522 118h2v2h-2zM568 375h2v2h-2zM222 460h2v2h-2zM536 237h2v2h-2zM387 453h2v2h-2zM534 267h2v2h-2zM198 492h2v2h-2zM301 440h2v2h-2zM496 399h2v2h-2zM503 397h2v2h-2zM282 412h2v2h-2zM385 388h2v2h-2zM238 369h2v2h-2zM561 397h2v2h-2zM94 479h2v2h-2zM462 302h2v2h-2zM400 494h2v2h-2zM280 401h2v2h-2zM235 356h2v2h-2zM387 496h2v2h-2zM150 466h2v2h-2zM106 384h2v2h-2zM464 345h2v2h-2zM332 419h2v2h-2zM480 386h2v2h-2zM125 293h2v2h-2zM461 395h2v2h-2zM146 403h2v2h-2zM558 436h2v2h-2zM110 403h2v2h-2zM401 490h2v2h-2zM553 216h2v2h-2zM359 451h2v2h-2zM106 390h2v2h-2zM322 384h2v2h-2zM348 408h2v2h-2zM252 401h2v2h-2zM343 399h2v2h-2zM430 442h2v2h-2zM462 334h2v2h-2zM493 423h2v2h-2zM192 416h2v2h-2zM173 373h2v2h-2zM331 412h2v2h-2zM405 280h2v2h-2zM538 419h2v2h-2zM92 475h2v2h-2zM346 349h2v2h-2zM431 293h2v2h-2zM171 317h2v2h-2zM339 369h2v2h-2zM525 354h2v2h-2zM290 330h2v2h-2zM436 408h2v2h-2zM283 373h2v2h-2zM212 369h2v2h-2zM337 427h2v2h-2zM148 246h2v2h-2zM537 345h2v2h-2zM362 302h2v2h-2zM373 447h2v2h-2zM520 371h2v2h-2zM541 492h2v2h-2zM234 334h2v2h-2zM316 356h2v2h-2zM485 384h2v2h-2zM273 393h2v2h-2zM388 451h2v2h-2zM546 200h2v2h-2zM383 300h2v2h-2zM202 438h2v2h-2zM507 339h2v2h-2zM291 95h2v2h-2zM254 483h2v2h-2zM241 393h2v2h-2zM256 380h2v2h-2zM147 451h2v2h-2zM550 321h2v2h-2zM261 306h2v2h-2zM107 315h2v2h-2zM339 375h2v2h-2zM211 367h2v2h-2zM464 302h2v2h-2zM479 421h2v2h-2zM292 455h2v2h-2zM209 546h2v2h-2zM410 187h2v2h-2zM476 483h2v2h-2zM237 371h2v2h-2zM144 267h2v2h-2zM336 380h2v2h-2zM95 388h2v2h-2zM243 276h2v2h-2zM176 365h2v2h-2zM178 410h2v2h-2zM424 397h2v2h-2zM319 328h2v2h-2zM395 393h2v2h-2zM351 382h2v2h-2zM334 464h2v2h-2zM328 304h2v2h-2zM377 447h2v2h-2zM306 479h2v2h-2zM515 386h2v2h-2zM325 369h2v2h-2zM451 190h2v2h-2zM429 298h2v2h-2zM275 231h2v2h-2zM343 395h2v2h-2zM256 384h2v2h-2zM167 358h2v2h-2zM248 382h2v2h-2zM220 354h2v2h-2zM311 486h2v2h-2zM347 395h2v2h-2zM111 395h2v2h-2zM368 336h2v2h-2zM425 332h2v2h-2zM350 455h2v2h-2zM290 421h2v2h-2zM393 369h2v2h-2zM293 393h2v2h-2zM366 235h2v2h-2zM161 349h2v2h-2zM338 444h2v2h-2zM398 395h2v2h-2zM347 494h2v2h-2zM264 257h2v2h-2zM114 339h2v2h-2zM270 349h2v2h-2zM312 373h2v2h-2zM96 332h2v2h-2zM418 358h2v2h-2zM136 278h2v2h-2zM478 313h2v2h-2zM246 388h2v2h-2zM509 403h2v2h-2zM272 313h2v2h-2zM292 453h2v2h-2zM502 282h2v2h-2zM288 397h2v2h-2zM86 408h2v2h-2zM265 462h2v2h-2zM141 447h2v2h-2zM543 378h2v2h-2zM417 438h2v2h-2zM522 358h2v2h-2zM323 190h2v2h-2zM466 295h2v2h-2zM481 440h2v2h-2zM216 207h2v2h-2zM236 358h2v2h-2zM280 345h2v2h-2zM478 520h2v2h-2zM456 408h2v2h-2zM219 406h2v2h-2zM516 285h2v2h-2zM320 205h2v2h-2zM564 308h2v2h-2zM314 334h2v2h-2zM570 486h2v2h-2zM223 362h2v2h-2zM199 421h2v2h-2zM389 336h2v2h-2zM164 313h2v2h-2zM453 386h2v2h-2zM252 514h2v2h-2zM108 401h2v2h-2zM381 406h2v2h-2zM283 390h2v2h-2zM435 414h2v2h-2zM538 352h2v2h-2zM455 373h2v2h-2zM108 308h2v2h-2zM441 282h2v2h-2zM252 412h2v2h-2zM231 406h2v2h-2zM458 555h2v2h-2zM457 343h2v2h-2zM257 334h2v2h-2zM247 432h2v2h-2zM200 386h2v2h-2zM241 365h2v2h-2zM258 321h2v2h-2zM551 382h2v2h-2zM535 457h2v2h-2zM170 319h2v2h-2zM355 341h2v2h-2zM189 265h2v2h-2zM508 345h2v2h-2zM345 449h2v2h-2zM137 319h2v2h-2zM346 427h2v2h-2zM267 486h2v2h-2zM400 354h2v2h-2zM446 332h2v2h-2zM410 311h2v2h-2zM550 196h2v2h-2zM225 477h2v2h-2zM225 352h2v2h-2zM237 408h2v2h-2zM369 429h2v2h-2zM134 261h2v2h-2zM208 373h2v2h-2zM463 470h2v2h-2zM498 416h2v2h-2zM139 237h2v2h-2zM89 451h2v2h-2zM453 429h2v2h-2zM398 453h2v2h-2zM322 267h2v2h-2zM452 384h2v2h-2zM206 330h2v2h-2zM316 427h2v2h-2zM498 386h2v2h-2zM211 352h2v2h-2zM171 371h2v2h-2zM489 345h2v2h-2zM536 345h2v2h-2zM228 336h2v2h-2zM111 440h2v2h-2zM140 278h2v2h-2zM363 334h2v2h-2zM553 317h2v2h-2zM369 414h2v2h-2zM289 293h2v2h-2zM290 384h2v2h-2zM302 347h2v2h-2zM242 360h2v2h-2zM386 453h2v2h-2zM322 427h2v2h-2zM504 339h2v2h-2zM172 386h2v2h-2zM96 308h2v2h-2zM416 339h2v2h-2zM131 408h2v2h-2zM320 408h2v2h-2zM107 388h2v2h-2zM549 354h2v2h-2zM296 453h2v2h-2zM132 397h2v2h-2zM147 412h2v2h-2zM563 421h2v2h-2zM83 403h2v2h-2zM404 429h2v2h-2zM276 423h2v2h-2zM106 412h2v2h-2zM501 298h2v2h-2zM128 440h2v2h-2zM128 444h2v2h-2zM225 270h2v2h-2zM386 457h2v2h-2zM219 438h2v2h-2zM516 308h2v2h-2zM104 328h2v2h-2zM463 375h2v2h-2zM97 343h2v2h-2zM520 421h2v2h-2zM558 429h2v2h-2zM200 486h2v2h-2zM82 371h2v2h-2zM303 434h2v2h-2zM544 399h2v2h-2zM571 483h2v2h-2zM537 358h2v2h-2zM547 339h2v2h-2zM506 436h2v2h-2zM220 451h2v2h-2zM168 233h2v2h-2zM425 356h2v2h-2zM357 390h2v2h-2zM256 447h2v2h-2zM127 371h2v2h-2zM291 293h2v2h-2zM210 457h2v2h-2zM265 412h2v2h-2zM88 423h2v2h-2zM191 453h2v2h-2zM321 336h2v2h-2zM262 427h2v2h-2zM215 347h2v2h-2zM491 473h2v2h-2zM425 371h2v2h-2zM512 388h2v2h-2zM273 527h2v2h-2zM313 332h2v2h-2zM346 313h2v2h-2zM385 360h2v2h-2zM533 408h2v2h-2zM104 378h2v2h-2zM569 429h2v2h-2zM534 295h2v2h-2zM176 367h2v2h-2zM312 369h2v2h-2zM425 503h2v2h-2zM267 438h2v2h-2zM276 427h2v2h-2zM306 250h2v2h-2zM236 315h2v2h-2zM500 399h2v2h-2zM568 233h2v2h-2zM444 449h2v2h-2zM323 382h2v2h-2zM518 343h2v2h-2zM387 345h2v2h-2zM485 267h2v2h-2zM534 455h2v2h-2zM80 397h2v2h-2zM399 386h2v2h-2zM563 354h2v2h-2zM568 254h2v2h-2zM279 365h2v2h-2zM207 460h2v2h-2zM103 339h2v2h-2zM88 382h2v2h-2zM199 265h2v2h-2zM305 246h2v2h-2zM496 369h2v2h-2zM265 406h2v2h-2zM408 293h2v2h-2zM98 267h2v2h-2zM120 220h2v2h-2zM88 228h2v2h-2zM292 442h2v2h-2zM293 261h2v2h-2zM115 347h2v2h-2zM284 544h2v2h-2zM557 365h2v2h-2zM322 401h2v2h-2zM172 360h2v2h-2zM148 432h2v2h-2zM391 401h2v2h-2zM107 440h2v2h-2zM547 282h2v2h-2zM224 429h2v2h-2zM398 270h2v2h-2zM314 390h2v2h-2zM369 488h2v2h-2zM507 293h2v2h-2zM413 455h2v2h-2zM403 475h2v2h-2zM132 473h2v2h-2zM396 382h2v2h-2zM545 328h2v2h-2zM126 406h2v2h-2zM533 352h2v2h-2zM439 434h2v2h-2zM234 254h2v2h-2zM243 416h2v2h-2zM209 388h2v2h-2zM424 304h2v2h-2zM373 449h2v2h-2zM343 429h2v2h-2zM122 384h2v2h-2zM564 261h2v2h-2zM295 360h2v2h-2zM142 287h2v2h-2zM304 444h2v2h-2zM201 319h2v2h-2zM347 332h2v2h-2zM548 496h2v2h-2zM275 341h2v2h-2zM471 181h2v2h-2zM261 516h2v2h-2zM244 345h2v2h-2zM346 347h2v2h-2zM460 440h2v2h-2zM561 336h2v2h-2zM315 425h2v2h-2zM329 220h2v2h-2zM501 401h2v2h-2zM244 464h2v2h-2zM195 375h2v2h-2zM436 440h2v2h-2zM518 511h2v2h-2zM280 287h2v2h-2zM369 416h2v2h-2zM423 434h2v2h-2zM135 352h2v2h-2zM432 270h2v2h-2zM115 308h2v2h-2zM355 438h2v2h-2zM562 378h2v2h-2zM329 436h2v2h-2zM370 481h2v2h-2zM487 419h2v2h-2zM357 414h2v2h-2zM126 321h2v2h-2zM145 365h2v2h-2zM568 367h2v2h-2zM202 362h2v2h-2zM531 235h2v2h-2zM287 317h2v2h-2zM249 369h2v2h-2zM454 434h2v2h-2zM334 308h2v2h-2zM280 421h2v2h-2zM205 416h2v2h-2zM437 196h2v2h-2zM171 384h2v2h-2zM407 328h2v2h-2zM383 457h2v2h-2zM299 365h2v2h-2zM393 380h2v2h-2zM413 380h2v2h-2zM543 442h2v2h-2zM284 354h2v2h-2zM554 302h2v2h-2zM421 265h2v2h-2zM361 395h2v2h-2zM336 399h2v2h-2zM431 332h2v2h-2zM559 321h2v2h-2zM463 302h2v2h-2zM172 479h2v2h-2zM333 345h2v2h-2zM340 304h2v2h-2zM348 298h2v2h-2zM453 492h2v2h-2zM547 298h2v2h-2zM174 358h2v2h-2zM370 414h2v2h-2zM205 252h2v2h-2zM427 455h2v2h-2zM324 311h2v2h-2zM506 421h2v2h-2zM440 380h2v2h-2zM549 507h2v2h-2zM142 321h2v2h-2zM409 265h2v2h-2zM327 174h2v2h-2zM207 401h2v2h-2zM399 358h2v2h-2zM376 386h2v2h-2zM564 429h2v2h-2zM385 414h2v2h-2zM526 328h2v2h-2zM488 427h2v2h-2zM105 254h2v2h-2zM425 304h2v2h-2zM386 427h2v2h-2zM430 270h2v2h-2zM351 378h2v2h-2zM164 460h2v2h-2zM287 442h2v2h-2zM370 308h2v2h-2zM207 328h2v2h-2zM421 460h2v2h-2zM93 300h2v2h-2zM334 455h2v2h-2zM431 252h2v2h-2zM158 328h2v2h-2zM451 324h2v2h-2zM269 414h2v2h-2zM415 434h2v2h-2zM184 317h2v2h-2zM565 203h2v2h-2zM136 354h2v2h-2zM316 537h2v2h-2zM239 291h2v2h-2zM324 432h2v2h-2zM391 300h2v2h-2zM378 358h2v2h-2zM391 403h2v2h-2zM124 317h2v2h-2zM153 254h2v2h-2zM88 410h2v2h-2zM547 438h2v2h-2zM152 421h2v2h-2zM252 429h2v2h-2zM453 261h2v2h-2zM403 432h2v2h-2zM169 334h2v2h-2zM215 380h2v2h-2zM285 332h2v2h-2zM384 378h2v2h-2zM344 488h2v2h-2zM367 408h2v2h-2zM232 345h2v2h-2zM372 369h2v2h-2zM235 259h2v2h-2zM328 399h2v2h-2zM376 380h2v2h-2zM368 367h2v2h-2zM284 388h2v2h-2zM430 406h2v2h-2zM113 477h2v2h-2zM213 419h2v2h-2zM285 367h2v2h-2zM104 483h2v2h-2zM162 390h2v2h-2zM214 287h2v2h-2zM80 557h2v2h-2zM296 427h2v2h-2zM171 384h2v2h-2zM397 317h2v2h-2zM235 408h2v2h-2zM181 345h2v2h-2zM463 311h2v2h-2zM486 341h2v2h-2zM390 326h2v2h-2zM474 494h2v2h-2zM90 250h2v2h-2zM295 436h2v2h-2zM468 330h2v2h-2zM491 317h2v2h-2zM311 388h2v2h-2zM299 326h2v2h-2zM375 382h2v2h-2zM534 406h2v2h-2zM154 440h2v2h-2zM473 475h2v2h-2zM102 259h2v2h-2zM408 360h2v2h-2zM225 345h2v2h-2zM316 444h2v2h-2zM474 276h2v2h-2zM105 388h2v2h-2zM225 419h2v2h-2zM277 349h2v2h-2zM434 360h2v2h-2zM407 276h2v2h-2zM321 369h2v2h-2zM231 228h2v2h-2zM490 324h2v2h-2zM455 403h2v2h-2zM571 511h2v2h-2zM358 367h2v2h-2zM457 481h2v2h-2zM557 460h2v2h-2zM333 419h2v2h-2zM371 259h2v2h-2zM474 477h2v2h-2zM109 345h2v2h-2zM330 341h2v2h-2zM176 257h2v2h-2zM222 473h2v2h-2zM534 501h2v2h-2zM444 451h2v2h-2zM290 345h2v2h-2zM363 386h2v2h-2zM426 408h2v2h-2zM546 416h2v2h-2zM265 466h2v2h-2zM379 287h2v2h-2zM173 434h2v2h-2zM522 414h2v2h-2zM353 449h2v2h-2zM146 429h2v2h-2zM160 328h2v2h-2zM358 412h2v2h-2zM557 313h2v2h-2zM467 248h2v2h-2zM112 280h2v2h-2zM306 444h2v2h-2zM278 382h2v2h-2zM193 326h2v2h-2zM382 362h2v2h-2zM537 403h2v2h-2zM375 429h2v2h-2zM228 395h2v2h-2zM460 185h2v2h-2zM500 300h2v2h-2zM316 403h2v2h-2zM119 231h2v2h-2zM91 388h2v2h-2zM402 447h2v2h-2zM549 423h2v2h-2zM555 403h2v2h-2zM102 211h2v2h-2zM431 315h2v2h-2zM363 326h2v2h-2zM106 386h2v2h-2zM159 362h2v2h-2zM110 473h2v2h-2zM375 287h2v2h-2zM114 362h2v2h-2zM266 362h2v2h-2zM351 291h2v2h-2zM567 347h2v2h-2zM318 304h2v2h-2zM136 336h2v2h-2zM158 321h2v2h-2zM255 298h2v2h-2zM218 177h2v2h-2zM570 343h2v2h-2zM120 408h2v2h-2zM330 226h2v2h-2zM526 287h2v2h-2zM360 343h2v2h-2zM499 367h2v2h-2zM371 378h2v2h-2zM408 341h2v2h-2zM107 382h2v2h-2zM505 282h2v2h-2zM492 496h2v2h-2zM189 360h2v2h-2zM100 438h2v2h-2zM375 198h2v2h-2zM209 291h2v2h-2zM94 412h2v2h-2zM525 298h2v2h-2zM346 531h2v2h-2zM362 416h2v2h-2zM258 246h2v2h-2zM428 483h2v2h-2zM505 419h2v2h-2zM104 358h2v2h-2zM95 369h2v2h-2zM191 462h2v2h-2zM545 455h2v2h-2zM139 349h2v2h-2zM258 397h2v2h-2zM550 356h2v2h-2zM551 358h2v2h-2zM357 352h2v2h-2zM225 380h2v2h-2zM407 345h2v2h-2zM468 436h2v2h-2zM122 425h2v2h-2zM405 373h2v2h-2zM520 434h2v2h-2zM454 419h2v2h-2zM187 423h2v2h-2zM342 352h2v2h-2zM409 280h2v2h-2zM294 356h2v2h-2zM93 356h2v2h-2zM550 406h2v2h-2zM319 432h2v2h-2zM232 447h2v2h-2zM478 291h2v2h-2zM217 317h2v2h-2zM473 334h2v2h-2zM311 298h2v2h-2zM515 425h2v2h-2zM435 406h2v2h-2zM496 419h2v2h-2zM527 315h2v2h-2zM428 382h2v2h-2zM328 507h2v2h-2zM531 218h2v2h-2zM113 213h2v2h-2zM178 464h2v2h-2zM204 263h2v2h-2zM494 401h2v2h-2zM163 358h2v2h-2zM284 250h2v2h-2zM214 339h2v2h-2zM249 388h2v2h-2zM348 343h2v2h-2zM155 524h2v2h-2zM358 330h2v2h-2zM244 341h2v2h-2zM563 397h2v2h-2zM418 332h2v2h-2zM136 326h2v2h-2zM481 438h2v2h-2zM360 403h2v2h-2zM288 475h2v2h-2zM142 453h2v2h-2zM376 347h2v2h-2zM132 347h2v2h-2zM193 390h2v2h-2zM272 397h2v2h-2zM292 319h2v2h-2zM314 313h2v2h-2zM257 367h2v2h-2zM111 384h2v2h-2zM504 468h2v2h-2zM316 395h2v2h-2zM293 220h2v2h-2zM518 451h2v2h-2zM492 390h2v2h-2zM116 317h2v2h-2zM342 302h2v2h-2zM372 425h2v2h-2zM254 298h2v2h-2zM499 486h2v2h-2zM95 324h2v2h-2zM277 358h2v2h-2zM403 442h2v2h-2zM546 395h2v2h-2zM178 410h2v2h-2zM514 319h2v2h-2zM89 384h2v2h-2zM201 393h2v2h-2zM250 328h2v2h-2zM408 375h2v2h-2zM116 375h2v2h-2zM212 311h2v2h-2zM358 470h2v2h-2zM215 352h2v2h-2zM323 295h2v2h-2zM266 475h2v2h-2zM277 457h2v2h-2zM267 347h2v2h-2zM354 295h2v2h-2zM379 276h2v2h-2zM143 311h2v2h-2zM231 453h2v2h-2zM263 468h2v2h-2zM160 187h2v2h-2zM532 276h2v2h-2zM127 302h2v2h-2zM569 429h2v2h-2zM487 399h2v2h-2zM301 457h2v2h-2zM532 375h2v2h-2zM409 416h2v2h-2zM312 339h2v2h-2zM82 308h2v2h-2zM419 410h2v2h-2zM541 291h2v2h-2zM224 455h2v2h-2zM230 373h2v2h-2zM254 390h2v2h-2zM274 347h2v2h-2zM279 367h2v2h-2zM371 382h2v2h-2zM420 414h2v2h-2zM172 462h2v2h-2zM495 369h2v2h-2zM83 267h2v2h-2zM502 285h2v2h-2zM389 408h2v2h-2zM526 330h2v2h-2zM116 386h2v2h-2zM108 298h2v2h-2zM366 341h2v2h-2zM279 349h2v2h-2zM511 503h2v2h-2zM514 332h2v2h-2zM286 449h2v2h-2zM547 360h2v2h-2zM552 447h2v2h-2zM537 252h2v2h-2zM404 321h2v2h-2zM463 386h2v2h-2zM447 362h2v2h-2zM393 313h2v2h-2zM395 356h2v2h-2zM137 416h2v2h-2zM302 313h2v2h-2zM129 447h2v2h-2zM284 205h2v2h-2zM463 382h2v2h-2zM534 339h2v2h-2zM420 388h2v2h-2zM180 352h2v2h-2zM332 395h2v2h-2zM469 358h2v2h-2zM199 298h2v2h-2zM144 416h2v2h-2zM370 324h2v2h-2zM472 403h2v2h-2zM551 187h2v2h-2zM317 555h2v2h-2zM143 438h2v2h-2zM282 345h2v2h-2zM84 516h2v2h-2zM270 237h2v2h-2zM82 369h2v2h-2zM305 423h2v2h-2zM211 434h2v2h-2zM296 263h2v2h-2zM113 328h2v2h-2zM400 481h2v2h-2zM516 529h2v2h-2zM551 270h2v2h-2zM186 488h2v2h-2zM164 298h2v2h-2zM114 408h2v2h-2zM160 453h2v2h-2zM378 358h2v2h-2zM486 390h2v2h-2zM95 378h2v2h-2zM559 423h2v2h-2zM461 336h2v2h-2zM495 449h2v2h-2zM262 397h2v2h-2zM473 421h2v2h-2zM551 311h2v2h-2zM107 358h2v2h-2zM251 444h2v2h-2zM487 453h2v2h-2zM453 373h2v2h-2zM159 401h2v2h-2zM532 287h2v2h-2zM321 496h2v2h-2zM148 416h2v2h-2zM421 224h2v2h-2zM316 408h2v2h-2zM101 373h2v2h-2zM222 378h2v2h-2zM542 419h2v2h-2zM445 308h2v2h-2zM246 498h2v2h-2zM436 414h2v2h-2zM472 276h2v2h-2zM472 460h2v2h-2zM345 280h2v2h-2zM541 319h2v2h-2zM349 457h2v2h-2zM519 412h2v2h-2zM242 129h2v2h-2zM312 356h2v2h-2zM273 282h2v2h-2zM543 378h2v2h-2zM84 354h2v2h-2zM131 434h2v2h-2zM81 265h2v2h-2zM150 462h2v2h-2zM82 390h2v2h-2zM149 356h2v2h-2zM487 462h2v2h-2zM204 432h2v2h-2zM91 559h2v2h-2zM446 412h2v2h-2zM434 406h2v2h-2zM87 423h2v2h-2zM382 336h2v2h-2zM246 239h2v2h-2zM373 494h2v2h-2zM534 371h2v2h-2zM392 339h2v2h-2zM209 231h2v2h-2zM402 455h2v2h-2zM451 336h2v2h-2zM218 371h2v2h-2zM198 300h2v2h-2zM463 248h2v2h-2zM104 354h2v2h-2zM439 311h2v2h-2zM293 380h2v2h-2zM117 224h2v2h-2zM191 345h2v2h-2zM96 511h2v2h-2zM172 291h2v2h-2zM287 298h2v2h-2zM378 345h2v2h-2zM389 395h2v2h-2zM561 403h2v2h-2zM110 479h2v2h-2zM150 298h2v2h-2zM181 399h2v2h-2zM413 319h2v2h-2zM346 341h2v2h-2zM289 438h2v2h-2zM493 349h2v2h-2zM218 453h2v2h-2zM471 451h2v2h-2zM346 546h2v2h-2zM353 306h2v2h-2zM551 414h2v2h-2zM272 447h2v2h-2zM276 397h2v2h-2zM453 302h2v2h-2zM421 378h2v2h-2zM229 358h2v2h-2zM310 509h2v2h-2zM564 270h2v2h-2zM568 384h2v2h-2zM289 397h2v2h-2zM376 460h2v2h-2zM466 295h2v2h-2zM568 362h2v2h-2zM179 427h2v2h-2zM86 419h2v2h-2zM172 382h2v2h-2zM507 345h2v2h-2zM149 390h2v2h-2zM341 267h2v2h-2zM212 295h2v2h-2zM555 421h2v2h-2zM238 345h2v2h-2zM181 436h2v2h-2zM305 369h2v2h-2zM437 367h2v2h-2zM99 414h2v2h-2zM464 412h2v2h-2zM542 334h2v2h-2zM447 185h2v2h-2zM272 388h2v2h-2zM429 276h2v2h-2zM360 395h2v2h-2zM89 464h2v2h-2zM491 403h2v2h-2zM305 369h2v2h-2zM102 423h2v2h-2zM491 282h2v2h-2zM396 440h2v2h-2zM314 326h2v2h-2zM171 362h2v2h-2zM141 397h2v2h-2zM156 481h2v2h-2zM559 324h2v2h-2zM496 399h2v2h-2zM522 488h2v2h-2zM341 440h2v2h-2zM287 291h2v2h-2zM464 328h2v2h-2zM219 239h2v2h-2zM331 345h2v2h-2zM110 395h2v2h-2zM320 373h2v2h-2zM392 311h2v2h-2zM251 449h2v2h-2zM366 203h2v2h-2zM549 319h2v2h-2zM353 265h2v2h-2zM360 460h2v2h-2zM436 343h2v2h-2zM569 386h2v2h-2zM453 384h2v2h-2zM417 362h2v2h-2zM354 408h2v2h-2zM506 429h2v2h-2zM526 399h2v2h-2zM335 324h2v2h-2zM433 356h2v2h-2zM232 347h2v2h-2zM328 324h2v2h-2zM351 332h2v2h-2zM456 453h2v2h-2zM462 319h2v2h-2zM116 349h2v2h-2zM276 313h2v2h-2zM126 339h2v2h-2zM551 483h2v2h-2zM367 352h2v2h-2zM97 440h2v2h-2zM165 334h2v2h-2zM170 416h2v2h-2zM428 429h2v2h-2zM101 362h2v2h-2zM227 365h2v2h-2zM391 421h2v2h-2zM162 397h2v2h-2zM493 403h2v2h-2zM412 282h2v2h-2zM431 235h2v2h-2zM486 507h2v2h-2zM371 354h2v2h-2zM338 265h2v2h-2zM434 436h2v2h-2zM274 250h2v2h-2zM123 276h2v2h-2zM343 378h2v2h-2zM211 399h2v2h-2zM321 457h2v2h-2zM465 352h2v2h-2zM414 345h2v2h-2zM130 369h2v2h-2zM180 434h2v2h-2zM464 237h2v2h-2zM296 412h2v2h-2zM270 440h2v2h-2zM197 388h2v2h-2zM500 362h2v2h-2zM565 371h2v2h-2zM351 369h2v2h-2zM450 326h2v2h-2zM565 486h2v2h-2zM114 412h2v2h-2zM277 427h2v2h-2zM414 274h2v2h-2zM251 354h2v2h-2zM434 468h2v2h-2zM327 434h2v2h-2zM140 470h2v2h-2zM333 408h2v2h-2zM305 261h2v2h-2zM445 373h2v2h-2zM478 241h2v2h-2zM422 388h2v2h-2zM137 365h2v2h-2zM341 453h2v2h-2zM426 345h2v2h-2zM378 410h2v2h-2zM472 447h2v2h-2zM482 295h2v2h-2zM440 254h2v2h-2zM371 388h2v2h-2zM424 354h2v2h-2zM361 399h2v2h-2zM339 555h2v2h-2zM81 295h2v2h-2zM394 321h2v2h-2zM361 371h2v2h-2zM279 537h2v2h-2zM200 339h2v2h-2zM228 434h2v2h-2zM83 410h2v2h-2zM358 520h2v2h-2zM347 395h2v2h-2zM333 483h2v2h-2zM164 295h2v2h-2zM229 397h2v2h-2zM238 421h2v2h-2zM87 360h2v2h-2zM123 434h2v2h-2zM549 436h2v2h-2zM178 410h2v2h-2zM442 401h2v2h-2zM93 358h2v2h-2zM474 246h2v2h-2zM213 365h2v2h-2zM560 434h2v2h-2zM470 373h2v2h-2zM392 352h2v2h-2zM541 224h2v2h-2zM147 246h2v2h-2zM334 328h2v2h-2zM283 315h2v2h-2zM523 328h2v2h-2zM557 432h2v2h-2zM370 328h2v2h-2zM277 451h2v2h-2zM403 423h2v2h-2zM334 352h2v2h-2zM292 410h2v2h-2zM541 306h2v2h-2zM548 237h2v2h-2zM469 326h2v2h-2zM328 425h2v2h-2zM248 403h2v2h-2zM531 434h2v2h-2zM489 455h2v2h-2zM561 473h2v2h-2zM549 315h2v2h-2zM458 298h2v2h-2zM312 524h2v2h-2zM106 451h2v2h-2zM101 358h2v2h-2zM102 436h2v2h-2zM273 473h2v2h-2zM91 384h2v2h-2zM124 427h2v2h-2zM141 321h2v2h-2zM242 365h2v2h-2zM319 270h2v2h-2zM308 382h2v2h-2zM447 375h2v2h-2zM194 527h2v2h-2zM529 403h2v2h-2zM106 390h2v2h-2zM369 432h2v2h-2zM554 466h2v2h-2zM273 444h2v2h-2zM564 442h2v2h-2zM300 455h2v2h-2zM211 321h2v2h-2zM218 442h2v2h-2zM182 403h2v2h-2zM264 416h2v2h-2zM448 330h2v2h-2zM147 334h2v2h-2zM344 378h2v2h-2zM437 434h2v2h-2zM325 347h2v2h-2zM276 427h2v2h-2zM254 449h2v2h-2zM273 278h2v2h-2zM432 509h2v2h-2zM349 280h2v2h-2zM543 460h2v2h-2zM456 406h2v2h-2zM545 451h2v2h-2zM245 382h2v2h-2zM323 442h2v2h-2zM197 395h2v2h-2zM549 494h2v2h-2zM115 421h2v2h-2zM206 380h2v2h-2zM484 360h2v2h-2zM560 291h2v2h-2zM401 159h2v2h-2zM554 457h2v2h-2zM305 516h2v2h-2zM440 375h2v2h-2zM554 282h2v2h-2zM185 369h2v2h-2zM184 444h2v2h-2zM508 324h2v2h-2zM402 356h2v2h-2zM183 259h2v2h-2zM162 442h2v2h-2zM379 358h2v2h-2zM190 356h2v2h-2zM494 311h2v2h-2zM133 401h2v2h-2zM361 308h2v2h-2zM264 408h2v2h-2zM419 432h2v2h-2zM427 328h2v2h-2zM198 367h2v2h-2zM391 324h2v2h-2zM408 414h2v2h-2zM247 440h2v2h-2zM271 228h2v2h-2zM403 488h2v2h-2zM303 380h2v2h-2zM522 378h2v2h-2zM290 410h2v2h-2zM478 444h2v2h-2zM114 328h2v2h-2zM473 440h2v2h-2zM548 343h2v2h-2zM541 362h2v2h-2zM519 373h2v2h-2zM536 295h2v2h-2zM184 375h2v2h-2zM515 291h2v2h-2zM436 462h2v2h-2zM437 518h2v2h-2zM403 410h2v2h-2zM452 334h2v2h-2zM297 345h2v2h-2zM441 203h2v2h-2zM485 447h2v2h-2zM120 403h2v2h-2zM473 390h2v2h-2zM454 360h2v2h-2zM530 285h2v2h-2zM411 444h2v2h-2zM512 395h2v2h-2zM342 470h2v2h-2zM510 328h2v2h-2zM326 341h2v2h-2zM382 412h2v2h-2zM346 265h2v2h-2zM138 492h2v2h-2zM533 228h2v2h-2zM346 388h2v2h-2zM528 375h2v2h-2zM123 440h2v2h-2zM297 280h2v2h-2zM469 414h2v2h-2zM459 356h2v2h-2zM391 397h2v2h-2zM236 429h2v2h-2zM305 384h2v2h-2zM310 384h2v2h-2zM307 388h2v2h-2zM123 319h2v2h-2zM361 315h2v2h-2zM155 380h2v2h-2zM342 511h2v2h-2zM330 440h2v2h-2zM225 282h2v2h-2zM251 367h2v2h-2zM299 390h2v2h-2zM378 362h2v2h-2zM405 388h2v2h-2zM488 442h2v2h-2zM428 403h2v2h-2zM384 263h2v2h-2zM368 373h2v2h-2zM138 352h2v2h-2zM175 373h2v2h-2zM360 336h2v2h-2zM539 486h2v2h-2zM319 378h2v2h-2zM418 442h2v2h-2zM254 306h2v2h-2zM376 442h2v2h-2zM152 339h2v2h-2zM246 274h2v2h-2zM335 272h2v2h-2zM148 192h2v2h-2zM401 425h2v2h-2zM128 373h2v2h-2zM337 328h2v2h-2zM357 198h2v2h-2zM405 436h2v2h-2zM556 356h2v2h-2zM454 334h2v2h-2zM487 287h2v2h-2zM327 403h2v2h-2zM319 347h2v2h-2zM316 453h2v2h-2zM326 397h2v2h-2zM226 272h2v2h-2zM218 315h2v2h-2zM377 274h2v2h-2zM456 332h2v2h-2zM472 339h2v2h-2zM386 388h2v2h-2zM167 328h2v2h-2zM123 403h2v2h-2zM456 274h2v2h-2zM396 365h2v2h-2zM279 263h2v2h-2zM165 425h2v2h-2zM120 399h2v2h-2zM91 449h2v2h-2zM460 341h2v2h-2zM367 475h2v2h-2zM253 308h2v2h-2zM525 449h2v2h-2zM107 300h2v2h-2zM220 419h2v2h-2zM197 390h2v2h-2zM408 444h2v2h-2zM408 390h2v2h-2zM445 427h2v2h-2zM297 416h2v2h-2zM396 447h2v2h-2zM230 367h2v2h-2zM99 382h2v2h-2zM245 336h2v2h-2zM306 319h2v2h-2zM197 291h2v2h-2zM408 259h2v2h-2zM414 451h2v2h-2zM135 272h2v2h-2zM270 384h2v2h-2zM561 244h2v2h-2zM289 393h2v2h-2zM422 336h2v2h-2zM513 406h2v2h-2zM347 384h2v2h-2zM268 354h2v2h-2zM201 358h2v2h-2zM242 274h2v2h-2zM160 481h2v2h-2zM462 339h2v2h-2zM328 343h2v2h-2zM415 509h2v2h-2zM181 388h2v2h-2zM464 406h2v2h-2zM389 432h2v2h-2zM273 302h2v2h-2zM154 341h2v2h-2zM144 412h2v2h-2zM426 464h2v2h-2zM234 423h2v2h-2zM100 378h2v2h-2zM492 408h2v2h-2zM454 451h2v2h-2zM183 267h2v2h-2zM331 341h2v2h-2zM478 380h2v2h-2zM422 462h2v2h-2zM474 429h2v2h-2zM288 382h2v2h-2zM143 434h2v2h-2zM533 403h2v2h-2zM134 300h2v2h-2zM562 285h2v2h-2zM249 311h2v2h-2zM485 367h2v2h-2zM545 235h2v2h-2zM431 388h2v2h-2zM107 352h2v2h-2zM525 403h2v2h-2zM364 421h2v2h-2zM344 339h2v2h-2zM176 483h2v2h-2zM536 436h2v2h-2zM415 267h2v2h-2zM489 397h2v2h-2zM82 401h2v2h-2zM528 369h2v2h-2zM215 382h2v2h-2zM472 412h2v2h-2zM289 451h2v2h-2zM436 341h2v2h-2zM109 388h2v2h-2zM302 365h2v2h-2zM402 321h2v2h-2zM197 293h2v2h-2zM254 216h2v2h-2zM325 440h2v2h-2zM144 369h2v2h-2zM378 356h2v2h-2zM186 462h2v2h-2zM262 462h2v2h-2zM507 425h2v2h-2zM549 436h2v2h-2zM477 367h2v2h-2zM158 397h2v2h-2zM450 339h2v2h-2zM261 468h2v2h-2zM310 373h2v2h-2zM191 358h2v2h-2zM386 432h2v2h-2zM474 403h2v2h-2zM217 317h2v2h-2zM546 358h2v2h-2zM385 408h2v2h-2zM218 319h2v2h-2zM428 386h2v2h-2zM419 416h2v2h-2zM211 408h2v2h-2zM253 423h2v2h-2zM346 403h2v2h-2zM113 313h2v2h-2zM356 386h2v2h-2zM465 438h2v2h-2zM532 343h2v2h-2zM160 343h2v2h-2zM143 349h2v2h-2zM385 432h2v2h-2zM528 457h2v2h-2zM218 352h2v2h-2zM535 432h2v2h-2zM206 334h2v2h-2zM113 466h2v2h-2zM504 434h2v2h-2zM241 311h2v2h-2zM566 410h2v2h-2zM454 444h2v2h-2zM483 378h2v2h-2zM368 362h2v2h-2zM224 304h2v2h-2zM241 457h2v2h-2zM467 319h2v2h-2zM480 280h2v2h-2zM376 444h2v2h-2zM446 453h2v2h-2zM420 362h2v2h-2zM491 213h2v2h-2zM134 410h2v2h-2zM180 457h2v2h-2zM228 423h2v2h-2zM200 362h2v2h-2zM250 298h2v2h-2zM174 436h2v2h-2zM291 282h2v2h-2zM133 421h2v2h-2zM294 466h2v2h-2zM420 492h2v2h-2zM99 360h2v2h-2zM487 373h2v2h-2zM381 384h2v2h-2zM157 399h2v2h-2zM90 356h2v2h-2zM92 334h2v2h-2zM425 339h2v2h-2zM488 546h2v2h-2zM139 235h2v2h-2zM484 453h2v2h-2zM437 516h2v2h-2zM215 397h2v2h-2zM385 367h2v2h-2zM367 326h2v2h-2zM303 442h2v2h-2zM309 460h2v2h-2zM253 347h2v2h-2zM379 408h2v2h-2zM187 447h2v2h-2zM139 267h2v2h-2zM537 349h2v2h-2zM134 460h2v2h-2zM462 347h2v2h-2zM155 252h2v2h-2zM84 444h2v2h-2zM498 356h2v2h-2zM370 419h2v2h-2zM171 360h2v2h-2zM172 427h2v2h-2zM208 203h2v2h-2zM186 421h2v2h-2zM549 356h2v2h-2zM348 250h2v2h-2zM123 453h2v2h-2zM487 406h2v2h-2zM435 196h2v2h-2zM233 354h2v2h-2zM540 360h2v2h-2zM476 192h2v2h-2zM433 395h2v2h-2zM236 432h2v2h-2zM88 343h2v2h-2zM507 362h2v2h-2zM490 365h2v2h-2zM416 412h2v2h-2zM166 410h2v2h-2zM361 373h2v2h-2zM534 399h2v2h-2zM434 419h2v2h-2zM145 365h2v2h-2zM529 287h2v2h-2zM297 403h2v2h-2zM241 356h2v2h-2zM248 343h2v2h-2zM279 438h2v2h-2zM127 386h2v2h-2zM299 321h2v2h-2zM379 339h2v2h-2zM175 373h2v2h-2zM402 412h2v2h-2zM231 360h2v2h-2zM506 341h2v2h-2zM390 254h2v2h-2zM155 488h2v2h-2zM402 313h2v2h-2zM219 386h2v2h-2zM541 358h2v2h-2zM257 170h2v2h-2zM129 308h2v2h-2zM386 380h2v2h-2zM396 414h2v2h-2zM327 427h2v2h-2zM186 349h2v2h-2zM171 380h2v2h-2zM466 345h2v2h-2zM296 388h2v2h-2zM474 470h2v2h-2zM192 304h2v2h-2zM279 330h2v2h-2zM505 421h2v2h-2zM545 362h2v2h-2zM109 432h2v2h-2zM164 416h2v2h-2zM335 371h2v2h-2zM231 343h2v2h-2zM336 332h2v2h-2zM143 442h2v2h-2zM459 237h2v2h-2zM132 254h2v2h-2zM219 457h2v2h-2zM423 356h2v2h-2zM434 293h2v2h-2zM307 408h2v2h-2zM467 347h2v2h-2zM519 498h2v2h-2zM274 518h2v2h-2zM276 481h2v2h-2zM568 373h2v2h-2zM370 438h2v2h-2zM128 263h2v2h-2zM417 306h2v2h-2zM237 267h2v2h-2zM213 365h2v2h-2zM276 343h2v2h-2zM95 397h2v2h-2zM447 412h2v2h-2zM294 334h2v2h-2zM132 365h2v2h-2zM504 425h2v2h-2zM328 336h2v2h-2zM157 375h2v2h-2zM282 397h2v2h-2zM196 365h2v2h-2zM259 241h2v2h-2zM176 246h2v2h-2zM322 453h2v2h-2zM245 421h2v2h-2zM217 326h2v2h-2zM363 397h2v2h-2zM332 410h2v2h-2zM554 444h2v2h-2zM431 470h2v2h-2zM188 447h2v2h-2zM292 334h2v2h-2zM523 194h2v2h-2zM350 514h2v2h-2zM204 466h2v2h-2zM369 276h2v2h-2zM423 399h2v2h-2zM211 397h2v2h-2zM342 464h2v2h-2zM259 423h2v2h-2zM452 321h2v2h-2zM240 397h2v2h-2zM101 378h2v2h-2zM422 406h2v2h-2zM482 449h2v2h-2zM91 375h2v2h-2zM304 468h2v2h-2zM415 341h2v2h-2zM272 367h2v2h-2zM428 315h2v2h-2zM322 362h2v2h-2zM181 492h2v2h-2zM161 179h2v2h-2zM551 371h2v2h-2zM106 375h2v2h-2zM333 382h2v2h-2zM291 434h2v2h-2zM357 397h2v2h-2zM373 298h2v2h-2zM474 384h2v2h-2zM516 496h2v2h-2zM385 185h2v2h-2zM208 244h2v2h-2zM413 289h2v2h-2zM451 382h2v2h-2zM526 375h2v2h-2zM213 429h2v2h-2zM389 298h2v2h-2zM340 336h2v2h-2zM349 390h2v2h-2zM284 406h2v2h-2zM90 432h2v2h-2zM229 360h2v2h-2zM214 321h2v2h-2zM318 414h2v2h-2zM200 455h2v2h-2zM442 365h2v2h-2zM243 267h2v2h-2zM388 362h2v2h-2zM321 345h2v2h-2zM146 304h2v2h-2zM88 533h2v2h-2zM387 397h2v2h-2zM346 321h2v2h-2zM123 423h2v2h-2zM468 274h2v2h-2zM359 326h2v2h-2zM532 412h2v2h-2zM194 464h2v2h-2zM139 464h2v2h-2zM241 354h2v2h-2zM218 432h2v2h-2zM376 464h2v2h-2zM536 455h2v2h-2zM231 416h2v2h-2zM569 449h2v2h-2zM370 343h2v2h-2zM173 347h2v2h-2zM469 386h2v2h-2zM202 406h2v2h-2zM444 367h2v2h-2zM208 298h2v2h-2zM311 490h2v2h-2zM402 444h2v2h-2zM525 380h2v2h-2zM415 371h2v2h-2zM314 451h2v2h-2zM243 488h2v2h-2zM552 477h2v2h-2zM307 414h2v2h-2zM217 352h2v2h-2zM314 408h2v2h-2zM499 300h2v2h-2zM524 315h2v2h-2zM152 382h2v2h-2zM508 403h2v2h-2zM492 380h2v2h-2zM385 347h2v2h-2zM514 317h2v2h-2zM280 375h2v2h-2zM292 535h2v2h-2zM381 319h2v2h-2zM505 399h2v2h-2zM248 304h2v2h-2zM469 328h2v2h-2zM374 324h2v2h-2zM254 380h2v2h-2zM424 403h2v2h-2zM322 334h2v2h-2zM243 378h2v2h-2zM548 282h2v2h-2zM498 345h2v2h-2zM518 388h2v2h-2zM124 155h2v2h-2zM418 334h2v2h-2zM125 410h2v2h-2zM388 397h2v2h-2zM225 324h2v2h-2zM377 222h2v2h-2zM226 397h2v2h-2zM281 308h2v2h-2zM91 246h2v2h-2zM531 308h2v2h-2zM403 533h2v2h-2zM403 289h2v2h-2zM220 306h2v2h-2zM212 451h2v2h-2zM467 336h2v2h-2zM255 447h2v2h-2zM261 317h2v2h-2zM361 306h2v2h-2zM510 289h2v2h-2zM180 302h2v2h-2zM396 416h2v2h-2zM167 440h2v2h-2zM173 213h2v2h-2zM327 490h2v2h-2zM413 544h2v2h-2zM148 336h2v2h-2zM362 494h2v2h-2zM562 399h2v2h-2zM571 358h2v2h-2zM470 162h2v2h-2zM515 289h2v2h-2zM190 367h2v2h-2zM466 285h2v2h-2zM248 475h2v2h-2zM418 378h2v2h-2zM111 498h2v2h-2zM278 336h2v2h-2zM406 496h2v2h-2zM400 438h2v2h-2zM424 451h2v2h-2zM403 382h2v2h-2zM94 444h2v2h-2zM298 349h2v2h-2zM98 336h2v2h-2zM123 300h2v2h-2zM186 365h2v2h-2zM107 334h2v2h-2zM409 373h2v2h-2zM435 371h2v2h-2zM133 470h2v2h-2zM296 356h2v2h-2zM541 347h2v2h-2zM553 552h2v2h-2zM345 401h2v2h-2zM232 410h2v2h-2zM283 220h2v2h-2zM325 460h2v2h-2zM349 371h2v2h-2zM440 416h2v2h-2zM427 421h2v2h-2zM258 390h2v2h-2zM337 371h2v2h-2zM274 334h2v2h-2zM529 399h2v2h-2zM353 287h2v2h-2zM364 332h2v2h-2zM180 280h2v2h-2zM357 412h2v2h-2zM545 457h2v2h-2zM391 239h2v2h-2zM318 162h2v2h-2zM551 403h2v2h-2zM263 282h2v2h-2zM202 464h2v2h-2zM448 358h2v2h-2zM193 477h2v2h-2zM397 349h2v2h-2zM531 295h2v2h-2zM520 319h2v2h-2zM463 349h2v2h-2zM394 367h2v2h-2zM168 367h2v2h-2zM198 419h2v2h-2zM242 447h2v2h-2zM230 395h2v2h-2zM332 347h2v2h-2zM430 468h2v2h-2zM301 302h2v2h-2zM414 488h2v2h-2zM359 444h2v2h-2zM505 349h2v2h-2zM455 401h2v2h-2zM508 300h2v2h-2zM384 311h2v2h-2zM489 423h2v2h-2zM548 492h2v2h-2zM224 427h2v2h-2zM232 393h2v2h-2zM391 390h2v2h-2zM516 341h2v2h-2zM365 434h2v2h-2zM112 356h2v2h-2zM217 339h2v2h-2zM114 280h2v2h-2zM219 373h2v2h-2zM206 211h2v2h-2zM303 321h2v2h-2zM421 349h2v2h-2zM257 367h2v2h-2zM311 231h2v2h-2zM481 287h2v2h-2zM255 274h2v2h-2zM369 414h2v2h-2zM80 395h2v2h-2zM212 375h2v2h-2zM336 336h2v2h-2zM308 328h2v2h-2zM557 403h2v2h-2zM339 300h2v2h-2zM280 436h2v2h-2zM287 298h2v2h-2zM89 416h2v2h-2zM425 498h2v2h-2zM363 362h2v2h-2zM449 367h2v2h-2zM504 419h2v2h-2zM109 218h2v2h-2zM165 345h2v2h-2zM85 378h2v2h-2zM232 397h2v2h-2zM146 410h2v2h-2zM437 321h2v2h-2zM390 386h2v2h-2zM121 289h2v2h-2zM501 436h2v2h-2zM560 401h2v2h-2zM487 423h2v2h-2zM447 397h2v2h-2zM222 416h2v2h-2zM445 302h2v2h-2zM458 503h2v2h-2zM168 410h2v2h-2zM141 311h2v2h-2zM136 291h2v2h-2zM87 311h2v2h-2zM105 412h2v2h-2zM123 423h2v2h-2zM103 358h2v2h-2zM186 276h2v2h-2zM471 166h2v2h-2zM338 419h2v2h-2zM337 328h2v2h-2zM219 393h2v2h-2zM396 308h2v2h-2zM521 470h2v2h-2zM235 321h2v2h-2zM255 503h2v2h-2zM132 354h2v2h-2zM208 449h2v2h-2zM282 449h2v2h-2zM369 382h2v2h-2zM450 289h2v2h-2zM127 388h2v2h-2zM213 410h2v2h-2zM168 358h2v2h-2zM99 270h2v2h-2zM503 330h2v2h-2zM435 317h2v2h-2zM247 403h2v2h-2zM369 408h2v2h-2zM494 336h2v2h-2zM79 241h2v2h-2zM515 382h2v2h-2zM334 423h2v2h-2zM504 423h2v2h-2zM262 308h2v2h-2zM567 397h2v2h-2zM440 531h2v2h-2zM356 442h2v2h-2zM287 285h2v2h-2zM355 419h2v2h-2zM84 336h2v2h-2zM376 328h2v2h-2zM206 378h2v2h-2zM185 408h2v2h-2zM543 224h2v2h-2zM438 362h2v2h-2zM257 287h2v2h-2zM527 298h2v2h-2zM533 365h2v2h-2zM535 462h2v2h-2zM196 233h2v2h-2zM517 259h2v2h-2zM373 375h2v2h-2zM96 300h2v2h-2zM409 438h2v2h-2zM337 360h2v2h-2zM366 403h2v2h-2zM326 282h2v2h-2zM406 427h2v2h-2zM479 194h2v2h-2zM500 425h2v2h-2zM222 354h2v2h-2zM395 142h2v2h-2zM161 429h2v2h-2zM353 477h2v2h-2zM82 380h2v2h-2zM443 419h2v2h-2zM394 185h2v2h-2zM358 453h2v2h-2zM340 421h2v2h-2zM193 324h2v2h-2zM520 356h2v2h-2zM369 324h2v2h-2zM332 341h2v2h-2zM415 390h2v2h-2zM141 416h2v2h-2zM301 373h2v2h-2zM320 371h2v2h-2zM466 390h2v2h-2zM254 440h2v2h-2zM418 343h2v2h-2zM430 278h2v2h-2zM182 423h2v2h-2zM323 336h2v2h-2zM520 412h2v2h-2zM501 315h2v2h-2z" fill="#000" fill-opacity="0.8"/>
<path d="M59.9 469.2H592" stroke="#cd2626" stroke-width="2" stroke-dasharray="9 9" stroke-linecap="round" fill="none"/>
<path d="M296.8 49.3V580" stroke="#006400" stroke-width="2.2" stroke-dasharray="9 9" stroke-linecap="round" fill="none"/>
<path d="M353.8 49.3V580" stroke="#006400" stroke-width="2.2" stroke-dasharray="9 9" stroke-linecap="round" fill="none"/>
<rect x="59.5" y="47.5" width="533" height="533" fill="none" stroke="#000" stroke-opacity="0.7" stroke-width="1"/>
<path d="M125.38 580.5H525.22" stroke="#000" stroke-width="1" fill="none"/>
<path d="M125.38 580.5v6M225.34 580.5v6M325.3 580.5v6M425.26 580.5v6M525.22 580.5v6" stroke="#000" stroke-width="1" fill="none"/>
<text x="125.38" y="602" text-anchor="middle" font-size="11">-400</text>
<text x="225.34" y="602" text-anchor="middle" font-size="11">-200</text>
<text x="325.3" y="602" text-anchor="middle" font-size="11">0</text>
<text x="425.26" y="602" text-anchor="middle" font-size="11">200</text>
<text x="525.22" y="602" text-anchor="middle" font-size="11">400</text>
<path d="M59.5 493V61" stroke="#000" stroke-width="1" fill="none"/>
<path d="M59.5 493h-6M59.5 385h-6M59.5 277h-6M59.5 169h-6M59.5 61h-6" stroke="#000" stroke-width="1" fill="none"/>
<text transform="translate(45 493) rotate(-90)" text-anchor="middle" font-size="11">80</text>
<text transform="translate(45 385) rotate(-90)" text-anchor="middle" font-size="11">85</text>
<text transform="translate(45 277) rotate(-90)" text-anchor="middle" font-size="11">90</text>
<text transform="translate(45 169) rotate(-90)" text-anchor="middle" font-size="11">95</text>
<text transform="translate(45 61) rotate(-90)" text-anchor="middle" font-size="11">100</text>
<text transform="translate(323.2 32.2)" text-anchor="middle" font-size="21.5" font-weight="bold">Top hit for each peak</text>
<text x="326" y="625.8" text-anchor="middle" font-size="16">Distance to peak summit</text>
<text transform="translate(21.9 314) rotate(-90)" text-anchor="middle" font-size="16">Motif score</text>
<g clip-path="url(#c2)"><rect x="700" y="47" width="532" height="2" fill="url(#g0)"/><rect x="700" y="49" width="532" height="2" fill="url(#g1)"/><rect x="700" y="51" width="532" height="2" fill="url(#g2)"/><rect x="700" y="53" width="532" height="2" fill="url(#g3)"/><rect x="700" y="55" width="532" height="2" fill="url(#g4)"/><rect x="700" y="57" width="532" height="2" fill="url(#g5)"/><rect x="700" y="59" width="532" height="2" fill="url(#g6)"/><rect x="700" y="61" width="532" height="2" fill="url(#g7)"/><rect x="700" y="63" width="532" height="2" fill="url(#g8)"/><rect x="700" y="65" width="532" height="2" fill="url(#g9)"/><rect x="700" y="67" width="532" height="2" fill="url(#g10)"/><rect x="700" y="69" width="532" height="2" fill="url(#g11)"/><rect x="700" y="71" width="532" height="2" fill="url(#g12)"/><rect x="700" y="73" width="532" height="2" fill="url(#g13)"/><rect x="700" y="75" width="532" height="2" fill="url(#g14)"/><rect x="700" y="77" width="532" height="2" fill="url(#g15)"/><rect x="700" y="79" width="532" height="2" fill="url(#g16)"/><rect x="700" y="81" width="532" height="2" fill="url(#g17)"/><rect x="700" y="83" width="532" height="2" fill="url(#g18)"/><rect x="700" y="85" width="532" height="2" fill="url(#g19)"/><rect x="700" y="87" width="532" height="2" fill="url(#g20)"/><rect x="700" y="89" width="532" height="2" fill="url(#g21)"/><rect x="700" y="91" width="532" height="2" fill="url(#g22)"/><rect x="700" y="93" width="532" height="2" fill="url(#g23)"/><rect x="700" y="95" width="532" height="2" fill="url(#g24)"/><rect x="700" y="97" width="532" height="2" fill="url(#g25)"/><rect x="700" y="99" width="532" height="2" fill="url(#g26)"/><rect x="700" y="101" width="532" height="2" fill="url(#g27)"/><rect x="700" y="103" width="532" height="2" fill="url(#g28)"/><rect x="700" y="105" width="532" height="2" fill="url(#g29)"/><rect x="700" y="107" width="532" height="2" fill="url(#g30)"/><rect x="700" y="109" width="532" height="2" fill="url(#g31)"/><rect x="700" y="111" width="532" height="2" fill="url(#g32)"/><rect x="700" y="113" width="532" height="2" fill="url(#g33)"/><rect x="700" y="115" width="532" height="2" fill="url(#g34)"/><rect x="700" y="117" width="532" height="2" fill="url(#g35)"/><rect x="700" y="119" width="532" height="2" fill="url(#g36)"/><rect x="700" y="121" width="532" height="2" fill="url(#g37)"/><rect x="700" y="123" width="532" height="2" fill="url(#g38)"/><rect x="700" y="125" width="532" height="2" fill="url(#g39)"/><rect x="700" y="127" width="532" height="2" fill="url(#g40)"/><rect x="700" y="129" width="532" height="2" fill="url(#g41)"/><rect x="700" y="131" width="532" height="2" fill="url(#g42)"/><rect x="700" y="133" width="532" height="2" fill="url(#g43)"/><rect x="700" y="135" width="532" height="2" fill="url(#g44)"/><rect x="700" y="137" width="532" height="2" fill="url(#g45)"/><rect x="700" y="139" width="532" height="2" fill="url(#g46)"/><rect x="700" y="141" width="532" height="2" fill="url(#g47)"/><rect x="700" y="143" width="532" height="2" fill="url(#g48)"/><rect x="700" y="145" width="532" height="2" fill="url(#g49)"/><rect x="700" y="147" width="532" height="2" fill="url(#g50)"/><rect x="700" y="149" width="532" height="2" fill="url(#g51)"/><rect x="700" y="151" width="532" height="2" fill="url(#g52)"/><rect x="700" y="153" width="532" height="2" fill="url(#g53)"/><rect x="700" y="155" width="532" height="2" fill="url(#g54)"/><rect x="700" y="157" width="532" height="2" fill="url(#g55)"/><rect x="700" y="159" width="532" height="2" fill="url(#g56)"/><rect x="700" y="161" width="532" height="2" fill="url(#g57)"/><rect x="700" y="163" width="532" height="2" fill="url(#g58)"/><rect x="700" y="165" width="532" height="2" fill="url(#g59)"/><rect x="700" y="167" width="532" height="2" fill="url(#g60)"/><rect x="700" y="169" width="532" height="2" fill="url(#g61)"/><rect x="700" y="171" width="532" height="2" fill="url(#g62)"/><rect x="700" y="173" width="532" height="2" fill="url(#g63)"/><rect x="700" y="175" width="532" height="2" fill="url(#g64)"/><rect x="700" y="177" width="532" height="2" fill="url(#g65)"/><rect x="700" y="179" width="532" height="2" fill="url(#g66)"/><rect x="700" y="181" width="532" height="2" fill="url(#g67)"/><rect x="700" y="183" width="532" height="2" fill="url(#g68)"/><rect x="700" y="185" width="532" height="2" fill="url(#g69)"/><rect x="700" y="187" width="532" height="2" fill="url(#g70)"/><rect x="700" y="189" width="532" height="2" fill="url(#g71)"/><rect x="700" y="191" width="532" height="2" fill="url(#g72)"/><rect x="700" y="193" width="532" height="2" fill="url(#g73)"/><rect x="700" y="195" width="532" height="2" fill="url(#g74)"/><rect x="700" y="197" width="532" height="2" fill="url(#g75)"/><rect x="700" y="199" width="532" height="2" fill="url(#g76)"/><rect x="700" y="201" width="532" height="2" fill="url(#g77)"/><rect x="700" y="203" width="532" height="2" fill="url(#g78)"/><rect x="700" y="205" width="532" height="2" fill="url(#g79)"/><rect x="700" y="207" width="532" height="2" fill="url(#g80)"/><rect x="700" y="209" width="532" height="2" fill="url(#g81)"/><rect x="700" y="211" width="532" height="2" fill="url(#g82)"/><rect x="700" y="213" width="532" height="2" fill="url(#g83)"/><rect x="700" y="215" width="532" height="2" fill="url(#g84)"/><rect x="700" y="217" width="532" height="2" fill="url(#g85)"/><rect x="700" y="219" width="532" height="2" fill="url(#g86)"/><rect x="700" y="221" width="532" height="2" fill="url(#g87)"/><rect x="700" y="223" width="532" height="2" fill="url(#g88)"/><rect x="700" y="225" width="532" height="2" fill="url(#g89)"/><rect x="700" y="227" width="532" height="2" fill="url(#g90)"/><rect x="700" y="229" width="532" height="2" fill="url(#g91)"/><rect x="700" y="231" width="532" height="2" fill="url(#g92)"/><rect x="700" y="233" width="532" height="2" fill="url(#g93)"/><rect x="700" y="235" width="532" height="2" fill="url(#g94)"/><rect x="700" y="237" width="532" height="2" fill="url(#g95)"/><rect x="700" y="239" width="532" height="2" fill="url(#g96)"/><rect x="700" y="241" width="532" height="2" fill="url(#g97)"/><rect x="700" y="243" width="532" height="2" fill="url(#g98)"/><rect x="700" y="245" width="532" height="2" fill="url(#g99)"/><rect x="700" y="247" width="532" height="2" fill="url(#g100)"/><rect x="700" y="249" width="532" height="2" fill="url(#g101)"/><rect x="700" y="251" width="532" height="2" fill="url(#g102)"/><rect x="700" y="253" width="532" height="2" fill="url(#g103)"/><rect x="700" y="255" width="532" height="2" fill="url(#g104)"/><rect x="700" y="257" width="532" height="2" fill="url(#g105)"/><rect x="700" y="259" width="532" height="2" fill="url(#g106)"/><rect x="700" y="261" width="532" height="2" fill="url(#g107)"/><rect x="700" y="263" width="532" height="2" fill="url(#g108)"/><rect x="700" y="265" width="532" height="2" fill="url(#g109)"/><rect x="700" y="267" width="532" height="2" fill="url(#g110)"/><rect x="700" y="269" width="532" height="2" fill="url(#g111)"/><rect x="700" y="271" width="532" height="2" fill="url(#g112)"/><rect x="700" y="273" width="532" height="2" fill="url(#g113)"/><rect x="700" y="275" width="532" height="2" fill="url(#g114)"/><rect x="700" y="277" width="532" height="2" fill="url(#g115)"/><rect x="700" y="279" width="532" height="2" fill="url(#g116)"/><rect x="700" y="281" width="532" height="2" fill="url(#g117)"/><rect x="700" y="283" width="532" height="2" fill="url(#g118)"/><rect x="700" y="285" width="532" height="2" fill="url(#g119)"/><rect x="700" y="287" width="532" height="2" fill="url(#g120)"/><rect x="700" y="289" width="532" height="2" fill="url(#g121)"/><rect x="700" y="291" width="532" height="2" fill="url(#g122)"/><rect x="700" y="293" width="532" height="2" fill="url(#g123)"/><rect x="700" y="295" width="532" height="2" fill="url(#g124)"/><rect x="700" y="297" width="532" height="2" fill="url(#g125)"/><rect x="700" y="299" width="532" height="2" fill="url(#g126)"/><rect x="700" y="301" width="532" height="2" fill="url(#g127)"/><rect x="700" y="303" width="532" height="2" fill="url(#g128)"/><rect x="700" y="305" width="532" height="2" fill="url(#g129)"/><rect x="700" y="307" width="532" height="2" fill="url(#g130)"/><rect x="700" y="309" width="532" height="2" fill="url(#g131)"/><rect x="700" y="311" width="532" height="2" fill="url(#g132)"/><rect x="700" y="313" width="532" height="2" fill="url(#g133)"/><rect x="700" y="315" width="532" height="2" fill="url(#g134)"/><rect x="700" y="317" width="532" height="2" fill="url(#g135)"/><rect x="700" y="319" width="532" height="2" fill="url(#g136)"/><rect x="700" y="321" width="532" height="2" fill="url(#g137)"/><rect x="700" y="323" width="532" height="2" fill="url(#g138)"/><rect x="700" y="325" width="532" height="2" fill="url(#g139)"/><rect x="700" y="327" width="532" height="2" fill="url(#g140)"/><rect x="700" y="329" width="532" height="2" fill="url(#g141)"/><rect x="700" y="331" width="532" height="2" fill="url(#g142)"/><rect x="700" y="333" width="532" height="2" fill="url(#g143)"/><rect x="700" y="335" width="532" height="2" fill="url(#g144)"/><rect x="700" y="337" width="532" height="2" fill="url(#g145)"/><rect x="700" y="339" width="532" height="2" fill="url(#g146)"/><rect x="700" y="341" width="532" height="2" fill="url(#g147)"/><rect x="700" y="343" width="532" height="2" fill="url(#g148)"/><rect x="700" y="345" width="532" height="2" fill="url(#g149)"/><rect x="700" y="347" width="532" height="2" fill="url(#g150)"/><rect x="700" y="349" width="532" height="2" fill="url(#g151)"/><rect x="700" y="351" width="532" height="2" fill="url(#g152)"/><rect x="700" y="353" width="532" height="2" fill="url(#g153)"/><rect x="700" y="355" width="532" height="2" fill="url(#g154)"/><rect x="700" y="357" width="532" height="2" fill="url(#g155)"/><rect x="700" y="359" width="532" height="2" fill="url(#g156)"/><rect x="700" y="361" width="532" height="2" fill="url(#g157)"/><rect x="700" y="363" width="532" height="2" fill="url(#g158)"/><rect x="700" y="365" width="532" height="2" fill="url(#g159)"/><rect x="700" y="367" width="532" height="2" fill="url(#g160)"/><rect x="700" y="369" width="532" height="2" fill="url(#g161)"/><rect x="700" y="371" width="532" height="2" fill="url(#g162)"/><rect x="700" y="373" width="532" height="2" fill="url(#g163)"/><rect x="700" y="375" width="532" height="2" fill="url(#g164)"/><rect x="700" y="377" width="532" height="2" fill="url(#g165)"/><rect x="700" y="379" width="532" height="2" fill="url(#g166)"/><rect x="700" y="381" width="532" height="2" fill="url(#g167)"/><rect x="700" y="383" width="532" height="2" fill="url(#g168)"/><rect x="700" y="385" width="532" height="2" fill="url(#g169)"/><rect x="700" y="387" width="532" height="2" fill="url(#g170)"/><rect x="700" y="389" width="532" height="2" fill="url(#g171)"/><rect x="700" y="391" width="532" height="2" fill="url(#g172)"/><rect x="700" y="393" width="532" height="2" fill="url(#g173)"/><rect x="700" y="395" width="532" height="2" fill="url(#g174)"/><rect x="700" y="397" width="532" height="2" fill="url(#g175)"/><rect x="700" y="399" width="532" height="2" fill="url(#g176)"/><rect x="700" y="401" width="532" height="2" fill="url(#g177)"/><rect x="700" y="403" width="532" height="2" fill="url(#g178)"/><rect x="700" y="405" width="532" height="2" fill="url(#g179)"/><rect x="700" y="407" width="532" height="2" fill="url(#g180)"/><rect x="700" y="409" width="532" height="2" fill="url(#g181)"/><rect x="700" y="411" width="532" height="2" fill="url(#g182)"/><rect x="700" y="413" width="532" height="2" fill="url(#g183)"/><rect x="700" y="415" width="532" height="2" fill="url(#g184)"/><rect x="700" y="417" width="532" height="2" fill="url(#g185)"/><rect x="700" y="419" width="532" height="2" fill="url(#g186)"/><rect x="700" y="421" width="532" height="2" fill="url(#g187)"/><rect x="700" y="423" width="532" height="2" fill="url(#g188)"/><rect x="700" y="425" width="532" height="2" fill="url(#g189)"/><rect x="700" y="427" width="532" height="2" fill="url(#g190)"/><rect x="700" y="429" width="532" height="2" fill="url(#g191)"/><rect x="700" y="431" width="532" height="2" fill="url(#g192)"/><rect x="700" y="433" width="532" height="2" fill="url(#g193)"/><rect x="700" y="435" width="532" height="2" fill="url(#g194)"/><rect x="700" y="437" width="532" height="2" fill="url(#g195)"/><rect x="700" y="439" width="532" height="2" fill="url(#g196)"/><rect x="700" y="441" width="532" height="2" fill="url(#g197)"/><rect x="700" y="443" width="532" height="2" fill="url(#g198)"/><rect x="700" y="445" width="532" height="2" fill="url(#g199)"/><rect x="700" y="447" width="532" height="2" fill="url(#g200)"/><rect x="700" y="449" width="532" height="2" fill="url(#g201)"/><rect x="700" y="451" width="532" height="2" fill="url(#g202)"/><rect x="700" y="453" width="532" height="2" fill="url(#g203)"/><rect x="700" y="455" width="532" height="2" fill="url(#g204)"/><rect x="700" y="457" width="532" height="2" fill="url(#g205)"/><rect x="700" y="459" width="532" height="2" fill="url(#g206)"/><rect x="700" y="461" width="532" height="2" fill="url(#g207)"/><rect x="700" y="463" width="532" height="2" fill="url(#g208)"/><rect x="700" y="465" width="532" height="2" fill="url(#g209)"/><rect x="700" y="467" width="532" height="2" fill="url(#g210)"/><rect x="700" y="469" width="532" height="2" fill="url(#g211)"/><rect x="700" y="471" width="532" height="2" fill="url(#g212)"/><rect x="700" y="473" width="532" height="2" fill="url(#g213)"/><rect x="700" y="475" width="532" height="2" fill="url(#g214)"/><rect x="700" y="477" width="532" height="2" fill="url(#g215)"/><rect x="700" y="479" width="532" height="2" fill="url(#g216)"/><rect x="700" y="481" width="532" height="2" fill="url(#g217)"/><rect x="700" y="483" width="532" height="2" fill="url(#g218)"/><rect x="700" y="485" width="532" height="2" fill="url(#g219)"/><rect x="700" y="487" width="532" height="2" fill="url(#g220)"/><rect x="700" y="489" width="532" height="2" fill="url(#g221)"/><rect x="700" y="491" width="532" height="2" fill="url(#g222)"/><rect x="700" y="493" width="532" height="2" fill="url(#g223)"/><rect x="700" y="495" width="532" height="2" fill="url(#g224)"/><rect x="700" y="497" width="532" height="2" fill="url(#g225)"/><rect x="700" y="499" width="532" height="2" fill="url(#g226)"/><rect x="700" y="501" width="532" height="2" fill="url(#g227)"/><rect x="700" y="503" width="532" height="2" fill="url(#g228)"/><rect x="700" y="505" width="532" height="2" fill="url(#g229)"/><rect x="700" y="507" width="532" height="2" fill="url(#g230)"/><rect x="700" y="509" width="532" height="2" fill="url(#g231)"/><rect x="700" y="511" width="532" height="2" fill="url(#g232)"/><rect x="700" y="513" width="532" height="2" fill="url(#g233)"/><rect x="700" y="515" width="532" height="2" fill="url(#g234)"/><rect x="700" y="517" width="532" height="2" fill="url(#g235)"/><rect x="700" y="519" width="532" height="2" fill="url(#g236)"/><rect x="700" y="521" width="532" height="2" fill="url(#g237)"/><rect x="700" y="523" width="532" height="2" fill="url(#g238)"/><rect x="700" y="525" width="532" height="2" fill="url(#g239)"/><rect x="700" y="527" width="532" height="2" fill="url(#g240)"/><rect x="700" y="529" width="532" height="2" fill="url(#g241)"/><rect x="700" y="531" width="532" height="2" fill="url(#g242)"/><rect x="700" y="533" width="532" height="2" fill="url(#g243)"/><rect x="700" y="535" width="532" height="2" fill="url(#g244)"/><rect x="700" y="537" width="532" height="2" fill="url(#g245)"/><rect x="700" y="539" width="532" height="2" fill="url(#g246)"/><rect x="700" y="541" width="532" height="2" fill="url(#g247)"/><rect x="700" y="543" width="532" height="2" fill="url(#g248)"/><rect x="700" y="545" width="532" height="2" fill="url(#g249)"/><rect x="700" y="547" width="532" height="2" fill="url(#g250)"/><rect x="700" y="549" width="532" height="2" fill="url(#g251)"/><rect x="700" y="551" width="532" height="2" fill="url(#g252)"/><rect x="700" y="553" width="532" height="2" fill="url(#g253)"/><rect x="700" y="555" width="532" height="2" fill="url(#g254)"/><rect x="700" y="557" width="532" height="2" fill="url(#g255)"/><rect x="700" y="559" width="532" height="2" fill="url(#g256)"/><rect x="700" y="561" width="532" height="2" fill="url(#g257)"/><rect x="700" y="563" width="532" height="2" fill="url(#g258)"/><rect x="700" y="565" width="532" height="2" fill="url(#g259)"/><rect x="700" y="567" width="532" height="2" fill="url(#g260)"/><rect x="700" y="569" width="532" height="2" fill="url(#g261)"/><rect x="700" y="571" width="532" height="2" fill="url(#g262)"/><rect x="700" y="573" width="532" height="2" fill="url(#g263)"/><rect x="700" y="575" width="532" height="2" fill="url(#g264)"/><rect x="700" y="577" width="532" height="2" fill="url(#g265)"/><rect x="700" y="579" width="532" height="2" fill="url(#g266)"/></g>
<path d="M851.5 48V580M1048.5 48V580" stroke="#fff" stroke-width="1" stroke-opacity="0.85"/>
<path d="M701 481.7H1232" stroke="#cd2626" stroke-width="1.5" stroke-dasharray="5.5 6.45" stroke-linecap="round" fill="none"/>
<path d="M934.6 48.5V580" stroke="#006400" stroke-width="1.5" stroke-dasharray="5.5 6.55" stroke-dashoffset="3.9" stroke-linecap="round" fill="none"/>
<path d="M996.1 48.5V580" stroke="#006400" stroke-width="1.5" stroke-dasharray="5.5 6.55" stroke-dashoffset="3.9" stroke-linecap="round" fill="none"/>
<rect x="699.5" y="47.5" width="533" height="533" fill="none" stroke="#000" stroke-opacity="0.7" stroke-width="1"/>
<path d="M749.4 580.5H1181.4" stroke="#000" stroke-width="1" fill="none"/>
<path d="M749.4 580.5v6M857.4 580.5v6M965.4 580.5v6M1073.4 580.5v6M1181.4 580.5v6" stroke="#000" stroke-width="1" fill="none"/>
<text x="749.4" y="602" text-anchor="middle" font-size="11">-400</text>
<text x="857.4" y="602" text-anchor="middle" font-size="11">-200</text>
<text x="965.4" y="602" text-anchor="middle" font-size="11">0</text>
<text x="1073.4" y="602" text-anchor="middle" font-size="11">200</text>
<text x="1181.4" y="602" text-anchor="middle" font-size="11">400</text>
<path d="M699.5 507.35V157.4" stroke="#000" stroke-width="1" fill="none"/>
<path d="M699.5 507.35h-6M699.5 390.7h-6M699.5 274.05h-6M699.5 157.4h-6" stroke="#000" stroke-width="1" fill="none"/>
<text transform="translate(685 507.35) rotate(-90)" text-anchor="middle" font-size="11">80</text>
<text transform="translate(685 390.7) rotate(-90)" text-anchor="middle" font-size="11">85</text>
<text transform="translate(685 274.05) rotate(-90)" text-anchor="middle" font-size="11">90</text>
<text transform="translate(685 157.4) rotate(-90)" text-anchor="middle" font-size="11">95</text>
<text transform="translate(966.8 32.2)" text-anchor="middle" font-size="21.5" font-weight="bold">Density heat map for the top hits</text>
<text x="966" y="625.8" text-anchor="middle" font-size="16">Distance to peak summit</text>
<text transform="translate(661.9 314) rotate(-90)" text-anchor="middle" font-size="16">Motif score</text>
<path d="M79.5 1200.2 81.5 1200.3 83.5 1200.3 85.4 1200.3 87.4 1200.3 89.5 1200.2 91.5 1200.1 93.5 1199.9 95.5 1199.7 97.5 1199.4 99.5 1199.1 101.4 1198.7 103.4 1198.2 105.3 1197.7 107.2 1197.1 109.1 1196.4 111.0 1195.7 112.8 1194.9 114.6 1194.0 116.3 1193.0 118.1 1192.0 119.8 1190.9 121.4 1189.8 123.0 1188.6 124.6 1187.3 126.2 1186.0 127.7 1184.7 129.2 1183.3 130.6 1181.9 132.0 1180.5 133.4 1179.0 134.8 1177.5 136.1 1176.0 137.3 1174.5 138.6 1172.9 139.7 1171.3 140.9 1169.7 142.0 1168.1 143.1 1166.4 144.2 1164.8 145.2 1163.1 146.2 1161.4 147.2 1159.7 148.2 1157.9 149.1 1156.2 150.0 1154.4 150.8 1152.6 151.7 1150.8 152.5 1149.0 153.3 1147.2 154.1 1145.4 154.8 1143.5 155.6 1141.7 156.3 1139.8 157.0 1137.9 157.7 1136.1 158.3 1134.2 159.0 1132.3 159.6 1130.4 160.2 1128.4 160.8 1126.5 161.4 1124.6 162.0 1122.7 162.5 1120.7 163.1 1118.8 163.6 1116.8 164.2 1114.9 164.7 1112.9 165.2 1111.0 165.7 1109.0 166.2 1107.1 166.7 1105.1 167.2 1103.2 167.7 1101.2 168.2 1099.3 168.7 1097.3 169.2 1095.4 169.6 1093.4 170.1 1091.5 170.6 1089.5 171.0 1087.6 171.5 1085.6 171.9 1083.7 172.4 1081.7 172.8 1079.7 173.2 1077.8 173.7 1075.8 174.1 1073.9 174.5 1071.9 174.9 1070.0 175.4 1068.0 175.8 1066.1 176.2 1064.1 176.6 1062.1 177.0 1060.2 177.4 1058.2 177.8 1056.3 178.2 1054.3 178.6 1052.4 179.0 1050.4 179.3 1048.4 179.7 1046.5 180.1 1044.5 180.5 1042.6 180.9 1040.6 181.2 1038.6 181.6 1036.7 182.0 1034.7 182.3 1032.8 182.7 1030.8 183.1 1028.8 183.4 1026.9 183.8 1024.9 184.1 1022.9 184.5 1021.0 184.9 1019.0 185.2 1017.1 185.6 1015.1 185.9 1013.1 186.3 1011.2 186.6 1009.2 187.0 1007.2 187.3 1005.3 187.7 1003.3 188.0 1001.4 188.4 999.4 188.7 997.4 189.1 995.5 189.4 993.5 189.8 991.5 190.1 989.6 190.5 987.6 190.8 985.6 191.2 983.7 191.5 981.7 191.9 979.7 192.2 977.8 192.6 975.8 192.9 973.8 193.3 971.9 193.6 969.9 194.0 967.9 194.4 966.0 194.7 964.0 195.1 962.0 195.4 960.1 195.8 958.1 196.1 956.1 196.5 954.2 196.9 952.2 197.2 950.2 197.6 948.3 197.9 946.3 198.3 944.3 198.7 942.3 199.0 940.4 199.4 938.4 199.7 936.4 200.1 934.5 200.5 932.5 200.8 930.5 201.2 928.6 201.6 926.6 201.9 924.6 202.3 922.7 202.6 920.7 203.0 918.7 203.4 916.7 203.7 914.8 204.1 912.8 204.5 910.8 204.8 908.9 205.2 906.9 205.5 904.9 205.9 903.0 206.3 901.0 206.6 899.0 207.0 897.1 207.3 895.1 207.7 893.1 208.1 891.1 208.4 889.2 208.8 887.2 209.1 885.2 209.5 883.3 209.9 881.3 210.2 879.3 210.6 877.4 210.9 875.4 211.3 873.4 211.6 871.4 212.0 869.5 212.3 867.5 212.7 865.5 213.1 863.6 213.4 861.6 213.8 859.6 214.1 857.7 214.5 855.7 214.8 853.7 215.2 851.8 215.6 849.8 215.9 847.8 216.3 845.9 216.6 843.9 217.0 841.9 217.4 840.0 217.7 838.0 218.1 836.0 218.5 834.1 218.8 832.1 219.2 830.2 219.6 828.2 220.0 826.2 220.4 824.3 220.7 822.3 221.1 820.4 221.5 818.4 221.9 816.4 222.3 814.5 222.7 812.5 223.1 810.6 223.5 808.6 223.9 806.7 224.4 804.7 224.8 802.8 225.2 800.8 225.6 798.8 226.1 796.9 226.5 794.9 227.0 793.0 227.4 791.1 227.9 789.1 228.3 787.2 228.8 785.2 229.2 783.3 229.7 781.3 230.2 779.4 230.7 777.4 231.2 775.5 231.7 773.6 232.2 771.6 232.7 769.7 233.2 767.8 233.7 765.8 234.2 763.9 234.8 762.0 235.3 760.0 235.9 758.1 236.4 756.2 237.0 754.3 237.6 752.3 238.2 750.4 238.8 748.5 239.4 746.6 240.0 744.7 240.7 742.8 241.3 741.0 242.0 739.1 242.7 737.2 243.4 735.4 244.1 733.5 244.9 731.7 245.6 729.8 246.4 728.0 247.2 726.2 248.1 724.4 248.9 722.6 249.9 720.8 250.8 718.9 251.8 717.1 252.9 715.2 254.1 713.4 255.3 711.7 256.7 710.2 258.1 709.0 259.7 708.3 261.4 708.0 263.1 708.2 264.8 708.8 266.4 709.8 267.9 711.1 269.3 712.6 270.5 714.2 271.6 716.0 272.6 717.9 273.5 719.8 274.3 721.8 275.2 723.7 276.0 725.7 276.7 727.6 277.5 729.4 278.3 731.3 279.1 733.1 279.9 734.9 280.6 736.7 281.4 738.5 282.2 740.3 283.0 742.1 283.8 743.9 284.7 745.7 285.5 747.5 286.3 749.3 287.2 751.1 288.0 752.9 288.8 754.7 289.7 756.5 290.5 758.3 291.4 760.2 292.2 762.0 293.1 763.8 293.9 765.6 294.8 767.4 295.6 769.3 296.4 771.1 297.3 772.9 298.1 774.7 298.9 776.6 299.7 778.4 300.5 780.3 301.3 782.1 302.0 784.0 302.8 785.8 303.6 787.7 304.3 789.5 305.0 791.4 305.7 793.3 306.4 795.2 307.1 797.0 307.8 798.9 308.4 800.8 309.1 802.7 309.7 804.6 310.3 806.5 310.9 808.4 311.5 810.3 312.1 812.2 312.6 814.1 313.2 816.0 313.8 818.0 314.3 819.9 314.8 821.8 315.4 823.7 315.9 825.7 316.4 827.6 317.0 829.5 317.5 831.4 318.0 833.4 318.5 835.3 319.0 837.2 319.5 839.2 320.1 841.1 320.6 843.0 321.1 845.0 321.6 846.9 322.1 848.8 322.7 850.8 323.2 852.7 323.7 854.6 324.3 856.5 324.8 858.5 325.4 860.4 326.0 862.3 326.5 864.2 327.1 866.2 327.7 868.1 328.3 870.0 328.9 871.9 329.5 873.8 330.0 875.7 330.6 877.7 331.2 879.6 331.8 881.5 332.4 883.4 333.0 885.3 333.6 887.2 334.2 889.1 334.8 891.0 335.4 893.0 336.0 894.9 336.6 896.8 337.2 898.7 337.7 900.6 338.3 902.5 338.9 904.4 339.4 906.3 340.0 908.2 340.5 910.2 341.0 912.1 341.6 914.0 342.1 915.9 342.6 917.8 343.1 919.8 343.7 921.7 344.2 923.6 344.7 925.5 345.2 927.5 345.7 929.4 346.2 931.3 346.7 933.3 347.2 935.2 347.7 937.1 348.2 939.1 348.7 941.0 349.2 943.0 349.7 944.9 350.2 946.9 350.7 948.8 351.2 950.8 351.7 952.7 352.3 954.7 352.8 956.6 353.3 958.6 353.9 960.5 354.4 962.4 355.0 964.4 355.6 966.3 356.2 968.2 356.8 970.1 357.5 972.0 358.1 973.9 358.8 975.8 359.5 977.7 360.2 979.5 360.9 981.4 361.7 983.2 362.5 985.0 363.3 986.8 364.2 988.6 365.0 990.4 365.9 992.2 366.9 993.9 367.8 995.7 368.7 997.4 369.7 999.1 370.7 1000.9 371.7 1002.6 372.7 1004.3 373.8 1006.0 374.8 1007.7 375.9 1009.4 376.9 1011.1 378.0 1012.7 379.1 1014.4 380.1 1016.1 381.2 1017.8 382.3 1019.5 383.4 1021.2 384.5 1022.8 385.6 1024.5 386.7 1026.2 387.7 1027.9 388.8 1029.6 389.9 1031.3 390.9 1033.0 392.0 1034.8 393.0 1036.5 394.1 1038.2 395.1 1040.0 396.1 1041.7 397.1 1043.5 398.0 1045.3 399.0 1047.1 400.0 1048.8 400.9 1050.6 401.9 1052.4 402.9 1054.2 403.9 1055.9 404.9 1057.6 405.9 1059.3 406.9 1061.0 408.0 1062.7 409.1 1064.3 410.3 1065.8 411.5 1067.4 412.8 1068.8 414.1 1070.3 415.4 1071.6 416.9 1072.9 418.4 1074.2 419.9 1075.4 421.6 1076.5 423.3 1077.5 425.1 1078.5 427.0 1079.3 428.9 1080.1 430.9 1080.9 432.9 1081.7 434.7 1082.7 436.4 1083.8 437.9 1085.0 439.3 1086.4 440.6 1087.9 441.8 1089.5 443.0 1091.1 444.0 1092.8 445.0 1094.6 446.0 1096.4 447.0 1098.2 447.9 1100.0 448.8 1101.8 449.7 1103.6 450.6 1105.4 451.5 1107.2 452.4 1108.9 453.2 1110.7 454.1 1112.5 454.9 1114.3 455.7 1116.0 456.6 1117.8 457.4 1119.6 458.2 1121.4 458.9 1123.2 459.7 1125.1 460.5 1126.9 461.2 1128.8 461.9 1130.8 462.6 1132.7 463.3 1134.6 464.1 1136.6 464.8 1138.5 465.5 1140.4 466.3 1142.3 467.2 1144.2 468.0 1146.0 468.9 1147.8 469.9 1149.6 470.9 1151.3 472.0 1152.9 473.2 1154.5 474.4 1156.0 475.7 1157.4 477.0 1158.8 478.4 1160.2 479.9 1161.5 481.4 1162.8 482.9 1164.1 484.4 1165.3 486.0 1166.5 487.6 1167.7 489.2 1169.0 490.8 1170.2 492.4 1171.4 494.0 1172.6 495.6 1173.8 497.2 1175.0 498.8 1176.2 500.4 1177.4 502.0 1178.6 503.7 1179.8 505.3 1180.9 507.0 1182.0 508.7 1183.2 510.3 1184.2 512.0 1185.3 513.7 1186.4 515.5 1187.4 517.2 1188.4 518.9 1189.3 520.7 1190.3 522.5 1191.2 524.3 1192.0 526.1 1192.8 527.9 1193.6 529.8 1194.4 531.6 1195.1 533.5 1195.7 535.4 1196.3 537.3 1196.9 539.2 1197.5 541.2 1198.0 543.1 1198.4 545.1 1198.8 547.0 1199.2 549.0 1199.6 551.0 1199.9 552.9 1200.1 554.9 1200.3 556.9 1200.5 558.9 1200.6 560.9 1200.7 563.0 1200.7 565.0 1200.7 567.0 1200.7 569.0 1200.6 571.0 1200.4 573.0 1200.3 Z" fill="#f5deb3" stroke="none"/>
<path d="M79.5 1200.2 81.5 1200.3 83.5 1200.3 85.4 1200.3 87.4 1200.3 89.5 1200.2 91.5 1200.1 93.5 1199.9 95.5 1199.7 97.5 1199.4 99.5 1199.1 101.4 1198.7 103.4 1198.2 105.3 1197.7 107.2 1197.1 109.1 1196.4 111.0 1195.7 112.8 1194.9 114.6 1194.0 116.3 1193.0 118.1 1192.0 119.8 1190.9 121.4 1189.8 123.0 1188.6 124.6 1187.3 126.2 1186.0 127.7 1184.7 129.2 1183.3 130.6 1181.9 132.0 1180.5 133.4 1179.0 134.8 1177.5 136.1 1176.0 137.3 1174.5 138.6 1172.9 139.7 1171.3 140.9 1169.7 142.0 1168.1 143.1 1166.4 144.2 1164.8 145.2 1163.1 146.2 1161.4 147.2 1159.7 148.2 1157.9 149.1 1156.2 150.0 1154.4 150.8 1152.6 151.7 1150.8 152.5 1149.0 153.3 1147.2 154.1 1145.4 154.8 1143.5 155.6 1141.7 156.3 1139.8 157.0 1137.9 157.7 1136.1 158.3 1134.2 159.0 1132.3 159.6 1130.4 160.2 1128.4 160.8 1126.5 161.4 1124.6 162.0 1122.7 162.5 1120.7 163.1 1118.8 163.6 1116.8 164.2 1114.9 164.7 1112.9 165.2 1111.0 165.7 1109.0 166.2 1107.1 166.7 1105.1 167.2 1103.2 167.7 1101.2 168.2 1099.3 168.7 1097.3 169.2 1095.4 169.6 1093.4 170.1 1091.5 170.6 1089.5 171.0 1087.6 171.5 1085.6 171.9 1083.7 172.4 1081.7 172.8 1079.7 173.2 1077.8 173.7 1075.8 174.1 1073.9 174.5 1071.9 174.9 1070.0 175.4 1068.0 175.8 1066.1 176.2 1064.1 176.6 1062.1 177.0 1060.2 177.4 1058.2 177.8 1056.3 178.2 1054.3 178.6 1052.4 179.0 1050.4 179.3 1048.4 179.7 1046.5 180.1 1044.5 180.5 1042.6 180.9 1040.6 181.2 1038.6 181.6 1036.7 182.0 1034.7 182.3 1032.8 182.7 1030.8 183.1 1028.8 183.4 1026.9 183.8 1024.9 184.1 1022.9 184.5 1021.0 184.9 1019.0 185.2 1017.1 185.6 1015.1 185.9 1013.1 186.3 1011.2 186.6 1009.2 187.0 1007.2 187.3 1005.3 187.7 1003.3 188.0 1001.4 188.4 999.4 188.7 997.4 189.1 995.5 189.4 993.5 189.8 991.5 190.1 989.6 190.5 987.6 190.8 985.6 191.2 983.7 191.5 981.7 191.9 979.7 192.2 977.8 192.6 975.8 192.9 973.8 193.3 971.9 193.6 969.9 194.0 967.9 194.4 966.0 194.7 964.0 195.1 962.0 195.4 960.1 195.8 958.1 196.1 956.1 196.5 954.2 196.9 952.2 197.2 950.2 197.6 948.3 197.9 946.3 198.3 944.3 198.7 942.3 199.0 940.4 199.4 938.4 199.7 936.4 200.1 934.5 200.5 932.5 200.8 930.5 201.2 928.6 201.6 926.6 201.9 924.6 202.3 922.7 202.6 920.7 203.0 918.7 203.4 916.7 203.7 914.8 204.1 912.8 204.5 910.8 204.8 908.9 205.2 906.9 205.5 904.9 205.9 903.0 206.3 901.0 206.6 899.0 207.0 897.1 207.3 895.1 207.7 893.1 208.1 891.1 208.4 889.2 208.8 887.2 209.1 885.2 209.5 883.3 209.9 881.3 210.2 879.3 210.6 877.4 210.9 875.4 211.3 873.4 211.6 871.4 212.0 869.5 212.3 867.5 212.7 865.5 213.1 863.6 213.4 861.6 213.8 859.6 214.1 857.7 214.5 855.7 214.8 853.7 215.2 851.8 215.6 849.8 215.9 847.8 216.3 845.9 216.6 843.9 217.0 841.9 217.4 840.0 217.7 838.0 218.1 836.0 218.5 834.1 218.8 832.1 219.2 830.2 219.6 828.2 220.0 826.2 220.4 824.3 220.7 822.3 221.1 820.4 221.5 818.4 221.9 816.4 222.3 814.5 222.7 812.5 223.1 810.6 223.5 808.6 223.9 806.7 224.4 804.7 224.8 802.8 225.2 800.8 225.6 798.8 226.1 796.9 226.5 794.9 227.0 793.0 227.4 791.1 227.9 789.1 228.3 787.2 228.8 785.2 229.2 783.3 229.7 781.3 230.2 779.4 230.7 777.4 231.2 775.5 231.7 773.6 232.2 771.6 232.7 769.7 233.2 767.8 233.7 765.8 234.2 763.9 234.8 762.0 235.3 760.0 235.9 758.1 236.4 756.2 237.0 754.3 237.6 752.3 238.2 750.4 238.8 748.5 239.4 746.6 240.0 744.7 240.7 742.8 241.3 741.0 242.0 739.1 242.7 737.2 243.4 735.4 244.1 733.5 244.9 731.7 245.6 729.8 246.4 728.0 247.2 726.2 248.1 724.4 248.9 722.6 249.9 720.8 250.8 718.9 251.8 717.1 252.9 715.2 254.1 713.4 255.3 711.7 256.7 710.2 258.1 709.0 259.7 708.3 261.4 708.0 263.1 708.2 264.8 708.8 266.4 709.8 267.9 711.1 269.3 712.6 270.5 714.2 271.6 716.0 272.6 717.9 273.5 719.8 274.3 721.8 275.2 723.7 276.0 725.7 276.7 727.6 277.5 729.4 278.3 731.3 279.1 733.1 279.9 734.9 280.6 736.7 281.4 738.5 282.2 740.3 283.0 742.1 283.8 743.9 284.7 745.7 285.5 747.5 286.3 749.3 287.2 751.1 288.0 752.9 288.8 754.7 289.7 756.5 290.5 758.3 291.4 760.2 292.2 762.0 293.1 763.8 293.9 765.6 294.8 767.4 295.6 769.3 296.4 771.1 297.3 772.9 298.1 774.7 298.9 776.6 299.7 778.4 300.5 780.3 301.3 782.1 302.0 784.0 302.8 785.8 303.6 787.7 304.3 789.5 305.0 791.4 305.7 793.3 306.4 795.2 307.1 797.0 307.8 798.9 308.4 800.8 309.1 802.7 309.7 804.6 310.3 806.5 310.9 808.4 311.5 810.3 312.1 812.2 312.6 814.1 313.2 816.0 313.8 818.0 314.3 819.9 314.8 821.8 315.4 823.7 315.9 825.7 316.4 827.6 317.0 829.5 317.5 831.4 318.0 833.4 318.5 835.3 319.0 837.2 319.5 839.2 320.1 841.1 320.6 843.0 321.1 845.0 321.6 846.9 322.1 848.8 322.7 850.8 323.2 852.7 323.7 854.6 324.3 856.5 324.8 858.5 325.4 860.4 326.0 862.3 326.5 864.2 327.1 866.2 327.7 868.1 328.3 870.0 328.9 871.9 329.5 873.8 330.0 875.7 330.6 877.7 331.2 879.6 331.8 881.5 332.4 883.4 333.0 885.3 333.6 887.2 334.2 889.1 334.8 891.0 335.4 893.0 336.0 894.9 336.6 896.8 337.2 898.7 337.7 900.6 338.3 902.5 338.9 904.4 339.4 906.3 340.0 908.2 340.5 910.2 341.0 912.1 341.6 914.0 342.1 915.9 342.6 917.8 343.1 919.8 343.7 921.7 344.2 923.6 344.7 925.5 345.2 927.5 345.7 929.4 346.2 931.3 346.7 933.3 347.2 935.2 347.7 937.1 348.2 939.1 348.7 941.0 349.2 943.0 349.7 944.9 350.2 946.9 350.7 948.8 351.2 950.8 351.7 952.7 352.3 954.7 352.8 956.6 353.3 958.6 353.9 960.5 354.4 962.4 355.0 964.4 355.6 966.3 356.2 968.2 356.8 970.1 357.5 972.0 358.1 973.9 358.8 975.8 359.5 977.7 360.2 979.5 360.9 981.4 361.7 983.2 362.5 985.0 363.3 986.8 364.2 988.6 365.0 990.4 365.9 992.2 366.9 993.9 367.8 995.7 368.7 997.4 369.7 999.1 370.7 1000.9 371.7 1002.6 372.7 1004.3 373.8 1006.0 374.8 1007.7 375.9 1009.4 376.9 1011.1 378.0 1012.7 379.1 1014.4 380.1 1016.1 381.2 1017.8 382.3 1019.5 383.4 1021.2 384.5 1022.8 385.6 1024.5 386.7 1026.2 387.7 1027.9 388.8 1029.6 389.9 1031.3 390.9 1033.0 392.0 1034.8 393.0 1036.5 394.1 1038.2 395.1 1040.0 396.1 1041.7 397.1 1043.5 398.0 1045.3 399.0 1047.1 400.0 1048.8 400.9 1050.6 401.9 1052.4 402.9 1054.2 403.9 1055.9 404.9 1057.6 405.9 1059.3 406.9 1061.0 408.0 1062.7 409.1 1064.3 410.3 1065.8 411.5 1067.4 412.8 1068.8 414.1 1070.3 415.4 1071.6 416.9 1072.9 418.4 1074.2 419.9 1075.4 421.6 1076.5 423.3 1077.5 425.1 1078.5 427.0 1079.3 428.9 1080.1 430.9 1080.9 432.9 1081.7 434.7 1082.7 436.4 1083.8 437.9 1085.0 439.3 1086.4 440.6 1087.9 441.8 1089.5 443.0 1091.1 444.0 1092.8 445.0 1094.6 446.0 1096.4 447.0 1098.2 447.9 1100.0 448.8 1101.8 449.7 1103.6 450.6 1105.4 451.5 1107.2 452.4 1108.9 453.2 1110.7 454.1 1112.5 454.9 1114.3 455.7 1116.0 456.6 1117.8 457.4 1119.6 458.2 1121.4 458.9 1123.2 459.7 1125.1 460.5 1126.9 461.2 1128.8 461.9 1130.8 462.6 1132.7 463.3 1134.6 464.1 1136.6 464.8 1138.5 465.5 1140.4 466.3 1142.3 467.2 1144.2 468.0 1146.0 468.9 1147.8 469.9 1149.6 470.9 1151.3 472.0 1152.9 473.2 1154.5 474.4 1156.0 475.7 1157.4 477.0 1158.8 478.4 1160.2 479.9 1161.5 481.4 1162.8 482.9 1164.1 484.4 1165.3 486.0 1166.5 487.6 1167.7 489.2 1169.0 490.8 1170.2 492.4 1171.4 494.0 1172.6 495.6 1173.8 497.2 1175.0 498.8 1176.2 500.4 1177.4 502.0 1178.6 503.7 1179.8 505.3 1180.9 507.0 1182.0 508.7 1183.2 510.3 1184.2 512.0 1185.3 513.7 1186.4 515.5 1187.4 517.2 1188.4 518.9 1189.3 520.7 1190.3 522.5 1191.2 524.3 1192.0 526.1 1192.8 527.9 1193.6 529.8 1194.4 531.6 1195.1 533.5 1195.7 535.4 1196.3 537.3 1196.9 539.2 1197.5 541.2 1198.0 543.1 1198.4 545.1 1198.8 547.0 1199.2 549.0 1199.6 551.0 1199.9 552.9 1200.1 554.9 1200.3 556.9 1200.5 558.9 1200.6 560.9 1200.7 563.0 1200.7 565.0 1200.7 567.0 1200.7 569.0 1200.6 571.0 1200.4 573.0 1200.3" fill="none" stroke="#000" stroke-width="1.3"/>
<path d="M79.5 1200.3H573" stroke="#000" stroke-width="1.3"/>
<path d="M196.4 687.1V1220" stroke="#cc1f1f" stroke-width="1.5" stroke-dasharray="5.7 6.25" stroke-linecap="round" fill="none"/>
<rect x="59.5" y="687.5" width="533" height="533" fill="none" stroke="#000" stroke-opacity="0.7" stroke-width="1"/>
<path d="M86.6 1220.5H536.6" stroke="#000" stroke-width="1" fill="none"/>
<path d="M86.6 1220.5v6M176.6 1220.5v6M266.6 1220.5v6M356.6 1220.5v6M446.6 1220.5v6M536.6 1220.5v6" stroke="#000" stroke-width="1" fill="none"/>
<text x="86.6" y="1242" text-anchor="middle" font-size="11">75</text>
<text x="176.6" y="1242" text-anchor="middle" font-size="11">80</text>
<text x="266.6" y="1242" text-anchor="middle" font-size="11">85</text>
<text x="356.6" y="1242" text-anchor="middle" font-size="11">90</text>
<text x="446.6" y="1242" text-anchor="middle" font-size="11">95</text>
<text x="536.6" y="1242" text-anchor="middle" font-size="11">100</text>
<path d="M59.5 1200.3V718.3" stroke="#000" stroke-width="1" fill="none"/>
<path d="M59.5 1200.3h-6M59.5 1103.9h-6M59.5 1007.5h-6M59.5 911.1h-6M59.5 814.7h-6M59.5 718.3h-6" stroke="#000" stroke-width="1" fill="none"/>
<text transform="translate(45 1200.3) rotate(-90)" text-anchor="middle" font-size="11">0.00</text>
<text transform="translate(45 1103.9) rotate(-90)" text-anchor="middle" font-size="11">0.02</text>
<text transform="translate(45 1007.5) rotate(-90)" text-anchor="middle" font-size="11">0.04</text>
<text transform="translate(45 911.1) rotate(-90)" text-anchor="middle" font-size="11">0.06</text>
<text transform="translate(45 814.7) rotate(-90)" text-anchor="middle" font-size="11">0.08</text>
<text transform="translate(45 718.3) rotate(-90)" text-anchor="middle" font-size="11">0.10</text>
<text transform="translate(326.2 672.2)" text-anchor="middle" font-size="21.5" font-weight="bold">Motif score threshold: 81.100</text>
<text x="326" y="1265.8" text-anchor="middle" font-size="16">Motif score</text>
<text transform="translate(21.9 954) rotate(-90)" text-anchor="middle" font-size="16">Density</text>
<path d="M719.0 1200.4 721.2 1200.2 723.4 1199.9 725.5 1199.5 727.5 1199.0 729.4 1198.3 731.2 1197.6 733.0 1196.8 734.7 1195.8 736.3 1194.8 737.9 1193.7 739.4 1192.5 740.8 1191.3 742.2 1190.0 743.5 1188.6 744.8 1187.1 746.0 1185.6 747.1 1184.0 748.2 1182.3 749.3 1180.7 750.3 1178.9 751.2 1177.2 752.2 1175.4 753.1 1173.5 753.9 1171.7 754.7 1169.8 755.5 1167.9 756.3 1165.9 757.0 1164.0 757.7 1162.1 758.4 1160.1 759.0 1158.2 759.7 1156.2 760.3 1154.3 760.9 1152.3 761.5 1150.4 762.1 1148.5 762.7 1146.5 763.2 1144.6 763.8 1142.7 764.3 1140.8 764.8 1138.8 765.4 1136.9 765.9 1135.0 766.4 1133.1 766.9 1131.2 767.5 1129.3 768.0 1127.4 768.5 1125.5 769.0 1123.6 769.5 1121.7 770.1 1119.8 770.6 1117.9 771.2 1116.0 771.7 1114.1 772.3 1112.2 772.9 1110.3 773.5 1108.4 774.1 1106.6 774.7 1104.7 775.3 1102.8 776.0 1100.9 776.7 1099.1 777.4 1097.2 778.1 1095.3 778.8 1093.4 779.6 1091.6 780.4 1089.7 781.2 1087.8 782.1 1086.0 783.0 1084.1 783.9 1082.3 784.8 1080.4 785.8 1078.6 786.8 1076.8 787.9 1075.0 789.0 1073.3 790.2 1071.6 791.4 1070.1 792.7 1068.7 794.1 1067.4 795.6 1066.2 797.2 1065.3 798.8 1064.5 800.6 1063.8 802.4 1063.4 804.4 1063.3 806.4 1063.3 808.6 1063.5 810.7 1063.9 812.9 1064.2 815.1 1064.5 817.2 1064.6 819.3 1064.7 821.3 1064.5 823.3 1064.3 825.2 1063.9 827.0 1063.4 828.9 1062.9 830.7 1062.3 832.6 1061.7 834.4 1061.0 836.2 1060.2 838.0 1059.4 839.8 1058.5 841.5 1057.6 843.3 1056.7 845.1 1055.7 846.8 1054.7 848.5 1053.7 850.3 1052.6 852.0 1051.6 853.7 1050.5 855.5 1049.4 857.2 1048.3 858.9 1047.2 860.6 1046.1 862.3 1045.0 864.1 1044.0 865.8 1043.0 867.6 1042.1 869.4 1041.3 871.2 1040.7 873.1 1040.2 875.0 1040.0 876.9 1039.9 878.9 1040.1 881.0 1040.4 883.0 1040.8 885.1 1041.0 887.1 1041.0 889.1 1040.7 891.0 1040.0 892.8 1039.1 894.6 1038.0 896.2 1036.8 897.6 1035.5 899.0 1034.1 900.3 1032.6 901.5 1031.0 902.6 1029.4 903.7 1027.7 904.6 1026.0 905.5 1024.2 906.4 1022.4 907.2 1020.6 908.0 1018.7 908.8 1016.9 909.6 1015.0 910.3 1013.1 911.0 1011.2 911.7 1009.4 912.4 1007.5 913.1 1005.6 913.8 1003.7 914.4 1001.8 915.1 999.9 915.7 998.0 916.3 996.1 916.9 994.2 917.5 992.3 918.1 990.4 918.6 988.4 919.2 986.5 919.7 984.6 920.3 982.7 920.8 980.7 921.3 978.8 921.8 976.9 922.3 974.9 922.8 973.0 923.2 971.1 923.7 969.1 924.1 967.2 924.6 965.2 925.0 963.3 925.4 961.3 925.9 959.4 926.3 957.4 926.7 955.5 927.1 953.5 927.4 951.5 927.8 949.6 928.2 947.6 928.6 945.6 928.9 943.7 929.3 941.7 929.6 939.7 930.0 937.8 930.3 935.8 930.6 933.8 930.9 931.8 931.3 929.9 931.6 927.9 931.9 925.9 932.2 923.9 932.5 922.0 932.8 920.0 933.1 918.0 933.4 916.0 933.7 914.0 934.0 912.1 934.2 910.1 934.5 908.1 934.8 906.1 935.1 904.1 935.3 902.1 935.6 900.1 935.9 898.2 936.1 896.2 936.4 894.2 936.6 892.2 936.9 890.2 937.1 888.2 937.4 886.2 937.6 884.2 937.9 882.3 938.1 880.3 938.4 878.3 938.6 876.3 938.8 874.3 939.1 872.3 939.3 870.3 939.5 868.3 939.8 866.3 940.0 864.3 940.2 862.3 940.5 860.4 940.7 858.4 940.9 856.4 941.1 854.4 941.4 852.4 941.6 850.4 941.8 848.4 942.0 846.4 942.3 844.4 942.5 842.4 942.7 840.5 942.9 838.5 943.1 836.5 943.4 834.5 943.6 832.5 943.8 830.5 944.0 828.5 944.3 826.5 944.5 824.5 944.7 822.6 944.9 820.6 945.2 818.6 945.4 816.6 945.6 814.6 945.9 812.6 946.1 810.6 946.3 808.7 946.6 806.7 946.8 804.7 947.0 802.7 947.3 800.7 947.5 798.7 947.8 796.8 948.0 794.8 948.3 792.8 948.5 790.8 948.8 788.9 949.0 786.9 949.3 784.9 949.5 782.9 949.8 781.0 950.1 779.0 950.3 777.0 950.6 775.0 950.9 773.1 951.2 771.1 951.4 769.1 951.7 767.2 952.0 765.2 952.3 763.2 952.6 761.3 952.9 759.3 953.2 757.4 953.5 755.4 953.8 753.4 954.2 751.5 954.5 749.5 954.8 747.5 955.1 745.5 955.5 743.6 955.8 741.6 956.2 739.6 956.6 737.6 957.0 735.6 957.3 733.6 957.7 731.6 958.1 729.6 958.6 727.5 959.0 725.5 959.4 723.5 959.9 721.4 960.3 719.4 960.8 717.3 961.4 715.3 962.1 713.4 963.0 711.6 964.2 709.9 965.7 708.6 967.1 707.9 968.4 708.4 969.5 709.8 970.4 711.5 971.3 713.2 972.1 715.0 972.9 716.8 973.6 718.7 974.3 720.5 974.9 722.4 975.5 724.3 976.1 726.2 976.6 728.1 977.1 730.0 977.6 731.9 978.0 733.9 978.4 735.8 978.8 737.8 979.2 739.8 979.5 741.8 979.8 743.7 980.1 745.7 980.4 747.8 980.6 749.8 980.9 751.8 981.1 753.8 981.4 755.8 981.6 757.8 981.8 759.8 982.0 761.8 982.3 763.9 982.5 765.9 982.7 767.9 982.9 769.9 983.2 771.9 983.4 773.9 983.6 775.9 983.8 777.9 984.1 779.9 984.3 781.9 984.5 783.9 984.8 785.9 985.0 787.8 985.2 789.8 985.5 791.8 985.7 793.8 985.9 795.8 986.2 797.8 986.4 799.8 986.6 801.7 986.9 803.7 987.1 805.7 987.3 807.7 987.6 809.7 987.8 811.6 988.1 813.6 988.3 815.6 988.5 817.6 988.8 819.6 989.0 821.5 989.2 823.5 989.5 825.5 989.7 827.5 989.9 829.5 990.2 831.4 990.4 833.4 990.7 835.4 990.9 837.4 991.1 839.4 991.4 841.3 991.6 843.3 991.8 845.3 992.1 847.3 992.3 849.3 992.5 851.3 992.8 853.2 993.0 855.2 993.3 857.2 993.5 859.2 993.7 861.2 994.0 863.2 994.2 865.2 994.5 867.1 994.7 869.1 994.9 871.1 995.2 873.1 995.4 875.1 995.7 877.1 995.9 879.1 996.2 881.0 996.5 883.0 996.7 885.0 997.0 887.0 997.2 889.0 997.5 891.0 997.8 893.0 998.0 894.9 998.3 896.9 998.6 898.9 998.9 900.9 999.1 902.9 999.4 904.9 999.7 906.8 1000.0 908.8 1000.3 910.8 1000.6 912.8 1000.9 914.8 1001.2 916.8 1001.5 918.7 1001.8 920.7 1002.1 922.7 1002.4 924.7 1002.8 926.7 1003.1 928.6 1003.4 930.6 1003.8 932.6 1004.1 934.6 1004.4 936.5 1004.8 938.5 1005.1 940.5 1005.5 942.4 1005.9 944.4 1006.2 946.4 1006.6 948.3 1007.0 950.3 1007.4 952.3 1007.8 954.2 1008.2 956.2 1008.6 958.2 1009.0 960.1 1009.4 962.1 1009.8 964.0 1010.2 966.0 1010.7 968.0 1011.1 969.9 1011.6 971.8 1012.1 973.8 1012.6 975.7 1013.1 977.6 1013.7 979.6 1014.2 981.5 1014.8 983.4 1015.4 985.3 1016.1 987.2 1016.8 989.0 1017.5 990.9 1018.2 992.8 1018.9 994.6 1019.7 996.5 1020.6 998.3 1021.5 1000.1 1022.4 1001.9 1023.3 1003.7 1024.3 1005.5 1025.3 1007.2 1026.4 1009.0 1027.6 1010.7 1028.8 1012.3 1030.1 1013.7 1031.6 1015.0 1033.2 1015.9 1035.0 1016.5 1037.0 1016.8 1039.1 1016.9 1041.2 1016.9 1043.3 1016.9 1045.4 1016.9 1047.5 1017.1 1049.4 1017.3 1051.3 1017.7 1053.2 1018.3 1055.0 1019.1 1056.7 1020.0 1058.4 1021.2 1060.0 1022.4 1061.5 1023.8 1063.0 1025.2 1064.5 1026.6 1065.9 1028.0 1067.3 1029.4 1068.7 1030.9 1070.0 1032.3 1071.3 1033.8 1072.6 1035.3 1073.9 1036.8 1075.2 1038.4 1076.4 1039.9 1077.7 1041.5 1078.9 1043.1 1080.2 1044.6 1081.4 1046.2 1082.7 1047.8 1084.0 1049.3 1085.4 1050.8 1086.7 1052.3 1088.2 1053.7 1089.7 1055.1 1091.2 1056.3 1092.9 1057.5 1094.6 1058.6 1096.4 1059.5 1098.2 1060.2 1100.0 1060.6 1101.9 1060.7 1103.8 1060.5 1105.7 1060.0 1107.6 1059.4 1109.6 1058.5 1111.5 1057.6 1113.4 1056.6 1115.3 1055.5 1117.2 1054.6 1119.1 1053.7 1121.0 1052.9 1122.9 1052.4 1124.8 1052.1 1126.7 1052.1 1128.5 1052.4 1130.3 1053.0 1132.0 1053.9 1133.7 1055.0 1135.3 1056.3 1136.8 1057.7 1138.1 1059.3 1139.4 1060.9 1140.4 1062.6 1141.4 1064.3 1142.3 1066.1 1143.2 1067.9 1144.0 1069.7 1144.8 1071.6 1145.5 1073.4 1146.3 1075.3 1147.1 1077.1 1147.8 1079.0 1148.5 1080.9 1149.2 1082.8 1150.0 1084.7 1150.6 1086.6 1151.3 1088.5 1152.0 1090.4 1152.6 1092.3 1153.3 1094.2 1153.9 1096.1 1154.5 1098.0 1155.1 1099.9 1155.7 1101.8 1156.3 1103.7 1156.8 1105.6 1157.4 1107.6 1158.0 1109.5 1158.5 1111.4 1159.0 1113.3 1159.6 1115.2 1160.1 1117.1 1160.6 1119.0 1161.2 1121.0 1161.7 1122.9 1162.2 1124.8 1162.7 1126.7 1163.3 1128.6 1163.8 1130.5 1164.3 1132.4 1164.8 1134.4 1165.4 1136.3 1165.9 1138.2 1166.5 1140.1 1167.0 1142.0 1167.6 1143.9 1168.2 1145.8 1168.8 1147.7 1169.4 1149.7 1170.0 1151.6 1170.6 1153.5 1171.3 1155.4 1171.9 1157.3 1172.6 1159.2 1173.3 1161.1 1174.0 1163.0 1174.7 1164.9 1175.4 1166.8 1176.2 1168.7 1177.0 1170.6 1177.8 1172.5 1178.6 1174.4 1179.5 1176.3 1180.4 1178.1 1181.3 1179.9 1182.3 1181.6 1183.4 1183.4 1184.4 1185.0 1185.6 1186.6 1186.7 1188.2 1188.0 1189.7 1189.3 1191.1 1190.6 1192.4 1192.1 1193.6 1193.5 1194.8 1195.1 1195.9 1196.8 1196.8 1198.5 1197.7 1200.3 1198.4 1202.2 1199.1 1204.1 1199.6 1206.2 1199.9 1208.4 1200.2 1210.6 1200.3 1213.0 1200.2 Z" fill="#f5deb3" stroke="none"/>
<path d="M719.0 1200.4 721.2 1200.2 723.4 1199.9 725.5 1199.5 727.5 1199.0 729.4 1198.3 731.2 1197.6 733.0 1196.8 734.7 1195.8 736.3 1194.8 737.9 1193.7 739.4 1192.5 740.8 1191.3 742.2 1190.0 743.5 1188.6 744.8 1187.1 746.0 1185.6 747.1 1184.0 748.2 1182.3 749.3 1180.7 750.3 1178.9 751.2 1177.2 752.2 1175.4 753.1 1173.5 753.9 1171.7 754.7 1169.8 755.5 1167.9 756.3 1165.9 757.0 1164.0 757.7 1162.1 758.4 1160.1 759.0 1158.2 759.7 1156.2 760.3 1154.3 760.9 1152.3 761.5 1150.4 762.1 1148.5 762.7 1146.5 763.2 1144.6 763.8 1142.7 764.3 1140.8 764.8 1138.8 765.4 1136.9 765.9 1135.0 766.4 1133.1 766.9 1131.2 767.5 1129.3 768.0 1127.4 768.5 1125.5 769.0 1123.6 769.5 1121.7 770.1 1119.8 770.6 1117.9 771.2 1116.0 771.7 1114.1 772.3 1112.2 772.9 1110.3 773.5 1108.4 774.1 1106.6 774.7 1104.7 775.3 1102.8 776.0 1100.9 776.7 1099.1 777.4 1097.2 778.1 1095.3 778.8 1093.4 779.6 1091.6 780.4 1089.7 781.2 1087.8 782.1 1086.0 783.0 1084.1 783.9 1082.3 784.8 1080.4 785.8 1078.6 786.8 1076.8 787.9 1075.0 789.0 1073.3 790.2 1071.6 791.4 1070.1 792.7 1068.7 794.1 1067.4 795.6 1066.2 797.2 1065.3 798.8 1064.5 800.6 1063.8 802.4 1063.4 804.4 1063.3 806.4 1063.3 808.6 1063.5 810.7 1063.9 812.9 1064.2 815.1 1064.5 817.2 1064.6 819.3 1064.7 821.3 1064.5 823.3 1064.3 825.2 1063.9 827.0 1063.4 828.9 1062.9 830.7 1062.3 832.6 1061.7 834.4 1061.0 836.2 1060.2 838.0 1059.4 839.8 1058.5 841.5 1057.6 843.3 1056.7 845.1 1055.7 846.8 1054.7 848.5 1053.7 850.3 1052.6 852.0 1051.6 853.7 1050.5 855.5 1049.4 857.2 1048.3 858.9 1047.2 860.6 1046.1 862.3 1045.0 864.1 1044.0 865.8 1043.0 867.6 1042.1 869.4 1041.3 871.2 1040.7 873.1 1040.2 875.0 1040.0 876.9 1039.9 878.9 1040.1 881.0 1040.4 883.0 1040.8 885.1 1041.0 887.1 1041.0 889.1 1040.7 891.0 1040.0 892.8 1039.1 894.6 1038.0 896.2 1036.8 897.6 1035.5 899.0 1034.1 900.3 1032.6 901.5 1031.0 902.6 1029.4 903.7 1027.7 904.6 1026.0 905.5 1024.2 906.4 1022.4 907.2 1020.6 908.0 1018.7 908.8 1016.9 909.6 1015.0 910.3 1013.1 911.0 1011.2 911.7 1009.4 912.4 1007.5 913.1 1005.6 913.8 1003.7 914.4 1001.8 915.1 999.9 915.7 998.0 916.3 996.1 916.9 994.2 917.5 992.3 918.1 990.4 918.6 988.4 919.2 986.5 919.7 984.6 920.3 982.7 920.8 980.7 921.3 978.8 921.8 976.9 922.3 974.9 922.8 973.0 923.2 971.1 923.7 969.1 924.1 967.2 924.6 965.2 925.0 963.3 925.4 961.3 925.9 959.4 926.3 957.4 926.7 955.5 927.1 953.5 927.4 951.5 927.8 949.6 928.2 947.6 928.6 945.6 928.9 943.7 929.3 941.7 929.6 939.7 930.0 937.8 930.3 935.8 930.6 933.8 930.9 931.8 931.3 929.9 931.6 927.9 931.9 925.9 932.2 923.9 932.5 922.0 932.8 920.0 933.1 918.0 933.4 916.0 933.7 914.0 934.0 912.1 934.2 910.1 934.5 908.1 934.8 906.1 935.1 904.1 935.3 902.1 935.6 900.1 935.9 898.2 936.1 896.2 936.4 894.2 936.6 892.2 936.9 890.2 937.1 888.2 937.4 886.2 937.6 884.2 937.9 882.3 938.1 880.3 938.4 878.3 938.6 876.3 938.8 874.3 939.1 872.3 939.3 870.3 939.5 868.3 939.8 866.3 940.0 864.3 940.2 862.3 940.5 860.4 940.7 858.4 940.9 856.4 941.1 854.4 941.4 852.4 941.6 850.4 941.8 848.4 942.0 846.4 942.3 844.4 942.5 842.4 942.7 840.5 942.9 838.5 943.1 836.5 943.4 834.5 943.6 832.5 943.8 830.5 944.0 828.5 944.3 826.5 944.5 824.5 944.7 822.6 944.9 820.6 945.2 818.6 945.4 816.6 945.6 814.6 945.9 812.6 946.1 810.6 946.3 808.7 946.6 806.7 946.8 804.7 947.0 802.7 947.3 800.7 947.5 798.7 947.8 796.8 948.0 794.8 948.3 792.8 948.5 790.8 948.8 788.9 949.0 786.9 949.3 784.9 949.5 782.9 949.8 781.0 950.1 779.0 950.3 777.0 950.6 775.0 950.9 773.1 951.2 771.1 951.4 769.1 951.7 767.2 952.0 765.2 952.3 763.2 952.6 761.3 952.9 759.3 953.2 757.4 953.5 755.4 953.8 753.4 954.2 751.5 954.5 749.5 954.8 747.5 955.1 745.5 955.5 743.6 955.8 741.6 956.2 739.6 956.6 737.6 957.0 735.6 957.3 733.6 957.7 731.6 958.1 729.6 958.6 727.5 959.0 725.5 959.4 723.5 959.9 721.4 960.3 719.4 960.8 717.3 961.4 715.3 962.1 713.4 963.0 711.6 964.2 709.9 965.7 708.6 967.1 707.9 968.4 708.4 969.5 709.8 970.4 711.5 971.3 713.2 972.1 715.0 972.9 716.8 973.6 718.7 974.3 720.5 974.9 722.4 975.5 724.3 976.1 726.2 976.6 728.1 977.1 730.0 977.6 731.9 978.0 733.9 978.4 735.8 978.8 737.8 979.2 739.8 979.5 741.8 979.8 743.7 980.1 745.7 980.4 747.8 980.6 749.8 980.9 751.8 981.1 753.8 981.4 755.8 981.6 757.8 981.8 759.8 982.0 761.8 982.3 763.9 982.5 765.9 982.7 767.9 982.9 769.9 983.2 771.9 983.4 773.9 983.6 775.9 983.8 777.9 984.1 779.9 984.3 781.9 984.5 783.9 984.8 785.9 985.0 787.8 985.2 789.8 985.5 791.8 985.7 793.8 985.9 795.8 986.2 797.8 986.4 799.8 986.6 801.7 986.9 803.7 987.1 805.7 987.3 807.7 987.6 809.7 987.8 811.6 988.1 813.6 988.3 815.6 988.5 817.6 988.8 819.6 989.0 821.5 989.2 823.5 989.5 825.5 989.7 827.5 989.9 829.5 990.2 831.4 990.4 833.4 990.7 835.4 990.9 837.4 991.1 839.4 991.4 841.3 991.6 843.3 991.8 845.3 992.1 847.3 992.3 849.3 992.5 851.3 992.8 853.2 993.0 855.2 993.3 857.2 993.5 859.2 993.7 861.2 994.0 863.2 994.2 865.2 994.5 867.1 994.7 869.1 994.9 871.1 995.2 873.1 995.4 875.1 995.7 877.1 995.9 879.1 996.2 881.0 996.5 883.0 996.7 885.0 997.0 887.0 997.2 889.0 997.5 891.0 997.8 893.0 998.0 894.9 998.3 896.9 998.6 898.9 998.9 900.9 999.1 902.9 999.4 904.9 999.7 906.8 1000.0 908.8 1000.3 910.8 1000.6 912.8 1000.9 914.8 1001.2 916.8 1001.5 918.7 1001.8 920.7 1002.1 922.7 1002.4 924.7 1002.8 926.7 1003.1 928.6 1003.4 930.6 1003.8 932.6 1004.1 934.6 1004.4 936.5 1004.8 938.5 1005.1 940.5 1005.5 942.4 1005.9 944.4 1006.2 946.4 1006.6 948.3 1007.0 950.3 1007.4 952.3 1007.8 954.2 1008.2 956.2 1008.6 958.2 1009.0 960.1 1009.4 962.1 1009.8 964.0 1010.2 966.0 1010.7 968.0 1011.1 969.9 1011.6 971.8 1012.1 973.8 1012.6 975.7 1013.1 977.6 1013.7 979.6 1014.2 981.5 1014.8 983.4 1015.4 985.3 1016.1 987.2 1016.8 989.0 1017.5 990.9 1018.2 992.8 1018.9 994.6 1019.7 996.5 1020.6 998.3 1021.5 1000.1 1022.4 1001.9 1023.3 1003.7 1024.3 1005.5 1025.3 1007.2 1026.4 1009.0 1027.6 1010.7 1028.8 1012.3 1030.1 1013.7 1031.6 1015.0 1033.2 1015.9 1035.0 1016.5 1037.0 1016.8 1039.1 1016.9 1041.2 1016.9 1043.3 1016.9 1045.4 1016.9 1047.5 1017.1 1049.4 1017.3 1051.3 1017.7 1053.2 1018.3 1055.0 1019.1 1056.7 1020.0 1058.4 1021.2 1060.0 1022.4 1061.5 1023.8 1063.0 1025.2 1064.5 1026.6 1065.9 1028.0 1067.3 1029.4 1068.7 1030.9 1070.0 1032.3 1071.3 1033.8 1072.6 1035.3 1073.9 1036.8 1075.2 1038.4 1076.4 1039.9 1077.7 1041.5 1078.9 1043.1 1080.2 1044.6 1081.4 1046.2 1082.7 1047.8 1084.0 1049.3 1085.4 1050.8 1086.7 1052.3 1088.2 1053.7 1089.7 1055.1 1091.2 1056.3 1092.9 1057.5 1094.6 1058.6 1096.4 1059.5 1098.2 1060.2 1100.0 1060.6 1101.9 1060.7 1103.8 1060.5 1105.7 1060.0 1107.6 1059.4 1109.6 1058.5 1111.5 1057.6 1113.4 1056.6 1115.3 1055.5 1117.2 1054.6 1119.1 1053.7 1121.0 1052.9 1122.9 1052.4 1124.8 1052.1 1126.7 1052.1 1128.5 1052.4 1130.3 1053.0 1132.0 1053.9 1133.7 1055.0 1135.3 1056.3 1136.8 1057.7 1138.1 1059.3 1139.4 1060.9 1140.4 1062.6 1141.4 1064.3 1142.3 1066.1 1143.2 1067.9 1144.0 1069.7 1144.8 1071.6 1145.5 1073.4 1146.3 1075.3 1147.1 1077.1 1147.8 1079.0 1148.5 1080.9 1149.2 1082.8 1150.0 1084.7 1150.6 1086.6 1151.3 1088.5 1152.0 1090.4 1152.6 1092.3 1153.3 1094.2 1153.9 1096.1 1154.5 1098.0 1155.1 1099.9 1155.7 1101.8 1156.3 1103.7 1156.8 1105.6 1157.4 1107.6 1158.0 1109.5 1158.5 1111.4 1159.0 1113.3 1159.6 1115.2 1160.1 1117.1 1160.6 1119.0 1161.2 1121.0 1161.7 1122.9 1162.2 1124.8 1162.7 1126.7 1163.3 1128.6 1163.8 1130.5 1164.3 1132.4 1164.8 1134.4 1165.4 1136.3 1165.9 1138.2 1166.5 1140.1 1167.0 1142.0 1167.6 1143.9 1168.2 1145.8 1168.8 1147.7 1169.4 1149.7 1170.0 1151.6 1170.6 1153.5 1171.3 1155.4 1171.9 1157.3 1172.6 1159.2 1173.3 1161.1 1174.0 1163.0 1174.7 1164.9 1175.4 1166.8 1176.2 1168.7 1177.0 1170.6 1177.8 1172.5 1178.6 1174.4 1179.5 1176.3 1180.4 1178.1 1181.3 1179.9 1182.3 1181.6 1183.4 1183.4 1184.4 1185.0 1185.6 1186.6 1186.7 1188.2 1188.0 1189.7 1189.3 1191.1 1190.6 1192.4 1192.1 1193.6 1193.5 1194.8 1195.1 1195.9 1196.8 1196.8 1198.5 1197.7 1200.3 1198.4 1202.2 1199.1 1204.1 1199.6 1206.2 1199.9 1208.4 1200.2 1210.6 1200.3 1213.0 1200.2" fill="none" stroke="#000" stroke-width="1.3"/>
<path d="M719 1200.2H1213" stroke="#000" stroke-width="1.3"/>
<path d="M943 688V1220" stroke="#1a751a" stroke-width="1.9" stroke-dasharray="5.1 6.9" stroke-dashoffset="1.35" stroke-linecap="round" fill="none"/>
<path d="M988 688V1220" stroke="#1a751a" stroke-width="1.9" stroke-dasharray="5.1 6.9" stroke-dashoffset="1.35" stroke-linecap="round" fill="none"/>
<rect x="699.5" y="687.5" width="533" height="533" fill="none" stroke="#000" stroke-opacity="0.7" stroke-width="1"/>
<path d="M728.8 1220.5H1202.2" stroke="#000" stroke-width="1" fill="none"/>
<path d="M728.8 1220.5v6M807.7 1220.5v6M886.6 1220.5v6M965.5 1220.5v6M1044.4 1220.5v6M1123.3 1220.5v6M1202.2 1220.5v6" stroke="#000" stroke-width="1" fill="none"/>
<text x="728.8" y="1242" text-anchor="middle" font-size="11">-600</text>
<text x="807.7" y="1242" text-anchor="middle" font-size="11">-400</text>
<text x="886.6" y="1242" text-anchor="middle" font-size="11">-200</text>
<text x="965.5" y="1242" text-anchor="middle" font-size="11">0</text>
<text x="1044.4" y="1242" text-anchor="middle" font-size="11">200</text>
<text x="1123.3" y="1242" text-anchor="middle" font-size="11">400</text>
<text x="1202.2" y="1242" text-anchor="middle" font-size="11">600</text>
<path d="M699.5 1200V788.4" stroke="#000" stroke-width="1" fill="none"/>
<path d="M699.5 1200h-6M699.5 1097.1h-6M699.5 994.2h-6M699.5 891.3h-6M699.5 788.4h-6" stroke="#000" stroke-width="1" fill="none"/>
<text transform="translate(685 1200) rotate(-90)" text-anchor="middle" font-size="11">0.0000</text>
<text transform="translate(685 1097.1) rotate(-90)" text-anchor="middle" font-size="11">0.0005</text>
<text transform="translate(685 994.2) rotate(-90)" text-anchor="middle" font-size="11">0.0010</text>
<text transform="translate(685 891.3) rotate(-90)" text-anchor="middle" font-size="11">0.0015</text>
<text transform="translate(685 788.4) rotate(-90)" text-anchor="middle" font-size="11">0.0020</text>
<text transform="translate(966 672.2)" text-anchor="middle" font-size="21.5" font-weight="bold">Enrichment zone: 57.00</text>
<text x="966" y="1265.8" text-anchor="middle" font-size="16">Distance to peak summit</text>
<text transform="translate(661.9 954) rotate(-90)" text-anchor="middle" font-size="16">Density</text>
<path d="M1016.8 703.1H1041.4" stroke="#1a751a" stroke-width="1.4" stroke-dasharray="1.6 2.9" fill="none"/>
<path d="M1016.8 718.4H1041.4" stroke="#e04848" stroke-width="1.4" stroke-dasharray="1.6 2.9" fill="none"/>
<circle cx="1028.9" cy="734.6" r="3" fill="#0000ff"/>
<text x="1052.2" y="707.6" font-size="12.85">enrichment zone = 57</text>
<text x="1052.2" y="723.1" font-size="12.85">motif score threshold = 81.100</text>
<text x="1052.2" y="738.6" font-size="12.85">centrality p-val = -5.5705</text>
</svg></body></html>
